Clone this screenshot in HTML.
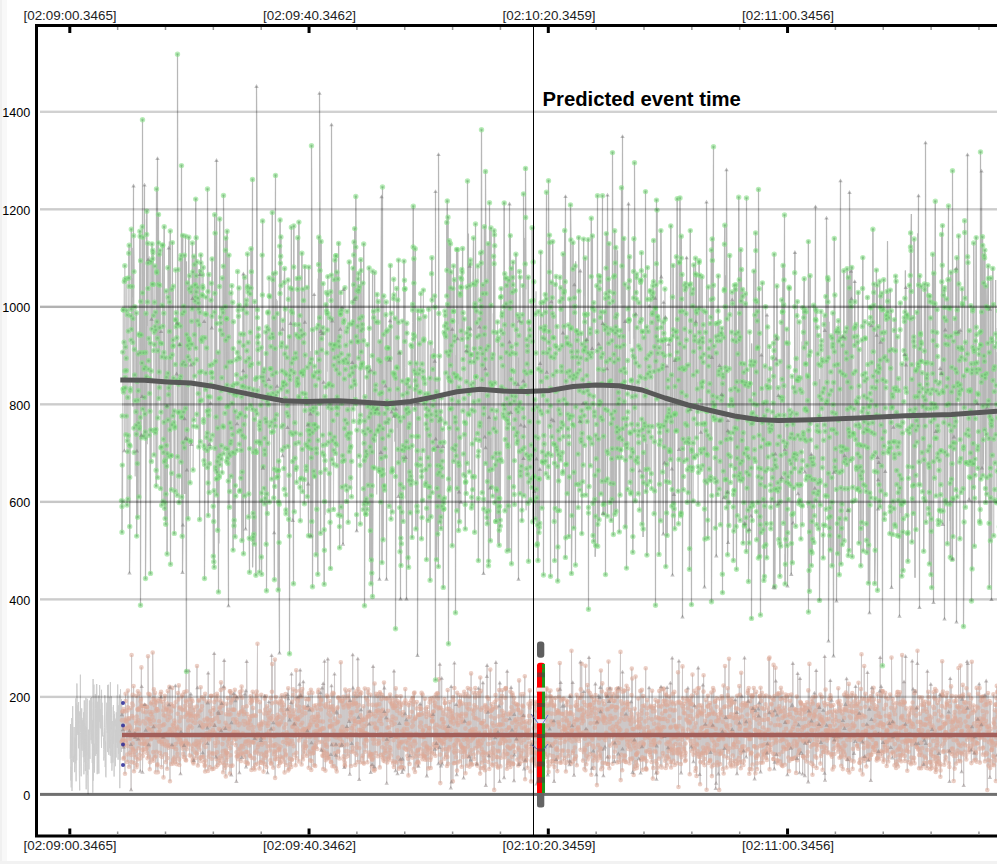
<!DOCTYPE html>
<html><head><meta charset="utf-8">
<style>
html,body{margin:0;padding:0;background:#fff;width:997px;height:864px;overflow:hidden;position:relative;font-family:"Liberation Sans",sans-serif;}
#c{position:absolute;left:0;top:0;}
.t{position:absolute;font-size:13.4px;color:#1e1e1e;white-space:nowrap;line-height:13px;}
.y{position:absolute;font-size:12.6px;color:#000;white-space:nowrap;line-height:12px;text-align:right;width:30.2px;left:0;margin-top:1px;}
#pet{position:absolute;left:542.5px;top:89px;font-size:20.3px;font-weight:bold;color:#000;white-space:nowrap;line-height:20px;}
</style></head><body>
<svg id="s" width="997" height="864" viewBox="0 0 997 864" style="position:absolute;left:0;top:0"><rect x="0" y="0" width="2" height="864" fill="#f0f0f0"/><rect x="2" y="0" width="5" height="864" fill="#f8f8f8"/><rect x="0" y="861" width="997" height="3" fill="#f2f2f2"/><g fill="none" stroke-width="1" stroke-linejoin="miter"><path stroke="rgb(205,205,205)" d="M70.2 758.8 70.5 724 70.6 755.9 70.9 780.5 71.1 766.6 71.2 787.4 71.5 758.6 71.8 718.1 72 748.6 72 791 72.3 761.5 72.7 706.2 72.7 712.2 73.1 738.9 73.3 761.7 73.4 756.1 73.8 762.2 74 751.9 74.1 727 74.4 758.5 74.7 755 74.7 772.2 75 762.2 75.1 737.7 75.6 763.4 75.7 721.7 75.8 698.4 76.1 781.3 76.3 704.5 76.6 703.6 76.7 760.3 76.9 683.5 77.3 716 77.4 733.2 77.6 717 77.8 705.5 77.9 735 78.2 713.1 78.6 702.1 78.6 748.3 79.1 732 79.2 712.7 79.3 770.7 79.7 790.4 79.9 711.3 80 715.1 80.3 715.4 80.4 674.7 80.6 732.4 80.9 761.3 81.2 776.3 81.4 733.6 81.7 708.4 81.7 745.1 81.9 717.9 82.1 750.7 82.3 720.6 82.7 739.6 82.9 720.7 83 723.4 83.3 757.2 83.5 712.4 83.9 763.8 83.9 774.3 84.3 700.4 84.4 756.1 84.6 723.2 85 762.1 85.1 726.3 85.4 771 85.4 742.9 85.7 728.5 85.9 697.9 86.2 789.3 86.5 727.6 86.7 755.2 86.7 720.6 87.2 698.8 87.4 774.7 87.6 772.8 87.7 770.8 88.1 794.2 88.3 729.6 88.4 759.5 88.8 743.8 88.8 752.3 89 769.5 89.2 745.3 89.4 700.5 89.9 758.9 89.9 748 90.1 734.8 90.3 732.3 90.5 698 90.9 711.4 91.1 740.1 91.3 734.4 91.5 697.5 91.8 715.4 92 743.7 92.2 730.9 92.3 762.9 92.6 720.3 92.8 792.7 93.1 679 93.3 780.6 93.4 702.2 93.6 728.4 93.9 684.6 94 767.7 94.3 743.8 94.5 772.5 94.8 742.1 94.9 708 95.3 694.2 95.5 708.6 95.7 755.9 95.8 733.8 96 707.8 96.5 684.1 96.5 753.9 96.7 684.1 97.1 718.2 97.2 774.2 97.5 701.8 97.7 723.2 98 723.9 97.9 773.5 98.3 745.1 98.6 695.6 98.6 758.4 98.9 773.5 99.2 712.5 99.5 721.5 99.6 685.1 100 706.4 99.9 715.5 100.3 728 100.5 709.4 100.7 728.4 101.1 698.7 101.1 725.3 101.5 747.8 101.5 689.8 101.8 721.1 102 702.7 102.2 714.7 102.6 736.3 102.6 715.3 103 731.7 103.2 734.3 103.5 737.4 103.7 749.5 103.9 760.5 103.9 757.6 104.2 757.9 104.6 727.6 104.8 695.2 105 700.3 105.3 749.6 105.2 767.1 105.6 741.5 105.7 776.3 106 777.3 106.2 730.7 106.6 711.9 106.6 715.4 106.9 702.7 107 715.5 107.3 733 107.6 685.2 107.7 752.1 107.9 733.3 108.1 707.2 108.3 684.7 108.8 754.8 108.9 732.9 109 700.9 109.4 696.8 109.5 701.4 109.6 748.2 109.8 734 110.3 755.8 110.4 682.2 110.5 708.3 111 736.8 111.2 763.2 111.3 696.3 111.5 729.4 111.7 707.1 111.9 770.7 112.3 757.1 112.5 757 112.8 721 112.9 747.7 112.9 762.7 113.4 705.1 113.4 744 113.8 712.2 114.1 711.3 114.1 776.5 114.4 714.2 114.6 724.1 114.9 718.3 115.2 726.3 115.3 719.6 115.4 766.2 115.6 734.4 115.8 729.7 116.1 757.5 116.3 712.4 116.4 720.2 116.9 742.7 116.9 723.5 117.3 695.3 117.3 747.7 117.6 695.7 117.7 684.5 118.1 759.7 118.3 705.3 118.5 753.7 118.7 706.5 119.1 727.9 119.2 703.8 119.6 694.6 119.8 788.2 120 719.8 120.2 760.1 120.4 760 120.5 689.3 120.8 736.7 120.8 713.1 121.3 741.9 121.5 699.2 121.5 752 121.9 706.4 122.1 701.1"/><path stroke="rgb(205,200,200)" d="M121.6 741.7 121.9 714.6 121.9 720.2 122.2 711.8 122.6 740.8 122.8 739.5 122.9 729.6 123.1 711.1 123.4 758.6 123.6 747.2 123.7 709 123.8 744.9 123.9 745.6 124.1 757.7 124.6 720.4 124.7 741 125 773.8 124.9 727.7 125.1 728.7 125.3 711.4 125.6 693.7 125.7 701 125.9 720.8 126.1 718.6 126.5 740 126.5 743.2 126.7 722.1 127.2 754.5 127.2 761.9 127.5 746 127.7 710.4 127.9 707.4 127.9 690.6 128.1 727.9 128.6 728 128.7 718.5 129 725.2 129 766.8 129.2 718.4 129.4 731 129.7 726.6 129.9 730.6 130.1 752.6 130.2 738.8 130.5 728.3 130.6 708.1 130.9 744.5 131.1 789.6 131.2 754.9 131.4 747.6 131.6 655 131.7 762.1 132.1 703.5 132.2 716 132.6 743.5 132.7 694.9 132.9 748.5 133 705.2 133.1 750.1 133.6 717.7 133.6 686.1 134 771.3 134 751.8 134.1 754.8 134.4 763 134.6 731.4 134.9 733.2 135.1 737 135.1 737.2 135.6 751 135.8 723.2 135.8 757.3 136 721.3 136.4 695.8 136.4 729.2 136.5 767.3 136.8 716.5 137 764.7 137.2 739 137.4 709.2 137.6 759.4 137.9 691.3 138 709.9 138.2 739 138.4 748.2 138.5 720.3 138.8 729.5 139.2 709.4 139.2 708 139.5 693.8 139.7 754.8 139.8 723.6 140 743.1 140.1 758.5 140.3 771.2 140.7 701.4 140.7 738.7 141 699 141.4 667.4 141.5 705.4 141.7 686.5 142 706 142.1 744 142.2 749.7 142.5 706 142.5 772.1 142.8 756 143.1 711.4 143.2 721.3 143.5 738.2 143.5 752.1 143.8 749.3 144.1 743.6 144.3 741.7 144.5 707.2 144.7 704.4 144.7 705.5 145 744.2 145.1 705.7 145.4 723.4 145.7 730.1 145.7 712.2 146 744.6 146.3 748.4 146.3 749 146.6 706.6 146.9 718.5 147.1 753 147.4 740.9 147.3 707.3 147.6 758.3 147.9 728.2 148 656.3 148.4 693.8 148.6 744.7 148.8 756.6 148.9 719.6 149.1 745.4 149.2 729.7 149.5 711.8 149.8 769.3 149.9 694.6 150 762.3 150.1 721.2 150.4 718.8 150.5 724 150.9 714.1 151 703.5 151.1 739.3 151.5 738.3 151.6 702.2 151.8 729.6 152.1 759.5 152.3 712.2 152.4 716.9 152.7 732.7 152.7 652.5 153.1 698.7 153.2 752.1 153.4 760.7 153.6 726.6 153.8 720.5 153.9 689.4 154.3 726.1 154.5 705.1 154.7 757.4 155 701.4 155 692.9 155.4 737.5 155.6 756.3 155.8 699.8 155.8 772.3 156.1 702.7 156.3 710.9 156.5 709.1 156.6 751.7 156.9 737.4 157 709.1 157.2 765.2 157.6 764.3 157.7 735.1 157.9 772.2 158 710.2 158.4 701.1 158.5 726.4 158.5 732.3 158.9 740.8 159.1 721.2 159.1 737 159.5 742 159.7 699.1 159.8 730.3 160 752.8 160.4 701.2 160.4 725.9 160.6 694.1 160.8 755.9 161.1 691.9 161.1 697 161.4 767.1 161.7 740.9 161.8 742.1 162 757 162.2 744.1 162.5 736.5 162.7 702 162.9 725.2 163 737 163.2 710.5 163.6 715 163.5 777.4 163.9 739.1 164.1 706.3 164.2 724.4 164.5 699 164.6 744.1 164.9 695.8 165.1 754.2 165.3 745.6 165.4 734.1 165.5 716.1 165.8 762.1 166.1 754.3 166.3 710 166.5 709.3 166.6 708.3 166.7 741.5 167.2 703.6 167.1 768.8 167.5 758.1 167.7 720.1 167.8 691.1 168 745.5 168.3 732.5 168.5 747.6 168.6 713.7 168.9 745 169 704.7 169.2 710.4 169.4 686.9 169.6 729.2 170 781.2 170 687.2 170.1 717.4 170.3 707 170.7 730.9 171 704.3 171.1 711.2 171.2 746.4 171.3 763.9 171.6 729.2 172 732.9 172 744.6 172.2 687.9 172.5 746.9 172.7 705.9 172.9 724.8 173.2 760 173.3 763.4 173.5 726.1 173.6 759.3 173.9 747.1 174.2 757.5 174.3 706.4 174.5 720.6 174.7 723 175 729.5 175.1 761.7 175.2 733.6 175.4 685.6 175.6 744 175.7 702.3 176 735.7 176.2 749.2 176.5 735.4 176.6 764.1 176.7 728.6 177.2 737.8 177.4 726.9 177.4 753.9 177.6 713.7 177.9 693 177.9 758.1 178.4 699.4 178.5 741.9 178.6 735.5 178.8 685.4 179.1 759.6 179.3 765 179.5 708.4 179.6 721.2 179.7 739.2 180 707.2 180.1 729.6 180.5 740.2 180.5 773.7 180.8 717.4 181 731.9 181.2 742.7 181.3 744.3 181.7 696.6 181.8 708.7 182.1 745.4 182.4 694.9 182.6 710.1 182.7 748.6 182.8 735.3 182.9 743.1 183.1 753.9 183.6 757 183.6 747.4 183.7 744.1 184.1 745.3 184.3 692.1 184.6 756.7 184.6 735.4 184.8 716.8 185 706.1 185.3 709.8 185.5 759.8 185.8 740.7 185.8 700.7 186.2 670.5 186.1 760.4 186.4 702.2 186.6 691.2 186.9 749.1 187.1 743 187.2 714.7 187.4 744.6 187.7 713.4 187.9 730.4 188 712.6 188.2 720.4 188.4 727.5 188.7 699.7 188.9 744.4 189 670.6 189.3 706 189.6 715.9 189.6 755.3 189.9 735.2 190.1 725.9 190.2 704.9 190.4 709.1 190.6 714.4 190.8 694 190.9 716.4 191.4 756.5 191.5 713.4 191.5 699.3 191.9 720.8 192 727.6 192.4 701.2 192.6 761 192.5 745.6 192.9 749.4 193.1 759.5 193.3 762.3 193.5 763.5 193.8 760.3 193.8 707.6 194.1 715.7 194.2 743.7 194.3 722.7 194.5 710.2 194.8 716.5 195.1 752.3 195.3 744.6 195.5 722.8 195.7 744.5 195.9 758.1 195.9 718.5 196.1 753.5 196.5 741 196.7 706.5 197 666 197 753.5 197.2 714.6 197.4 687.6 197.6 746.6 197.7 742.6 197.9 765.4 198.3 716.1 198.6 700.8 198.5 741.6 198.9 700 199.1 745.1 199.4 749.5 199.3 711.5 199.5 726 200 742.5 200 722.6 200.4 760.9 200.3 757.4 200.7 757.9 200.7 687.3 201.1 723.4 201.1 709.9 201.4 734.8 201.7 740.3 202 726.6 202 706.3 202.1 697.3 202.3 757.1 202.6 752.6 202.8 727.5 203.2 724.7 203.2 756.5 203.3 736.2 203.6 698.7 203.8 735.5 204 762 204.4 719.7 204.4 745.6 204.7 766.1 204.9 765 205.1 693.9 205.1 771.5 205.6 747 205.6 760.6 205.7 742.3 206.1 738.5 206.3 725.8 206.5 701.6 206.5 733.4 206.7 724.6 207 718.4 207.3 727.9 207.4 743.5 207.6 719.6 207.7 702.8 207.9 770.9 208.2 673 208.5 738.2 208.6 721.5 208.7 756.6 209.2 739.4 209.4 725.4 209.3 752.6 209.7 701.4 209.7 767.1 210 731.8 210.3 711.2 210.4 734.4 210.6 719.8 210.8 736 211 696.1 211.1 695.7 211.6 714.2 211.7 758.7 211.8 723.8 212 769.1 212.1 753.7 212.5 720.1 212.7 720.1 212.9 730.1 213.1 753.2 213.4 710 213.4 708.1 213.5 768.8 214 725.3 214.2 653.4 214.3 702.1 214.4 732.6 214.7 725.3 214.7 695.3 215.1 718.6 215.1 742.8 215.3 754.5 215.5 745.9 215.9 756.8 215.9 699.6 216.4 738.5 216.4 766.8 216.6 759.3 217 752.2 216.9 693.7 217.2 718.1 217.5 696.2 217.7 713.9 217.8 764.9 218 742.4 218.3 711.9 218.5 757.9 218.7 713.3 218.9 728.8 219 721.8 219.2 700.3 219.5 760.3 219.6 708.6 219.8 707.2 219.9 763.1 220.4 700.5 220.5 729.8 220.8 689.9 221 682.4 221.2 730.7 221.2 712.7 221.5 756 221.7 703.5 221.9 703.9 221.9 758.5 222.4 703.3 222.4 744.1 222.6 751.4 222.8 705.6 223.1 772.3 223.3 762.8 223.5 686.6 223.7 738.5 223.9 751 224 688.2 224.2 660.3 224.4 764.7 224.5 728.1 224.7 768 224.9 754.4 225.3 728.5 225.5 722.8 225.7 750.6 225.8 776.4 226.1 714.2 226.4 760.2 226.5 753.1 226.5 703.7 226.9 752.7 227.1 725.5 227.2 765.2 227.4 757.2 227.6 753.2 227.7 698.1 228.1 741.6 228.4 709.9 228.4 745.6 228.7 714.5 228.9 739 229.2 726.3 229.2 729.1 229.5 738.3 229.8 691.4 229.9 773.5 230.1 748.2 230.3 691.3 230.5 714.3 230.5 755.2 230.9 766 231 702.6 231.4 722.7 231.3 775 231.6 700.3 231.8 693.3 232.1 743.2 232.2 709.8 232.5 765.6 232.6 735.1 232.9 733.8 233.2 719.2 233.2 698.8 233.4 709.5 233.7 693.7 233.8 731.9 234.1 739.6 234.4 709.7 234.5 732 234.8 737.7 234.8 689.8 235.1 696.4 235.1 722.4 235.5 700.7 235.7 745.1 235.8 739 236.2 719.2 236.4 781.3 236.5 752.2 236.7 756.6 236.9 698.4 236.9 696.9 237.1 722.4 237.5 731.7 237.5 755.7 237.9 759.1 238.1 755.7 238.4 733.6 238.5 714.8 238.6 725.3 238.8 748.7 239.1 712.8 239.4 772.6 239.3 753.8 239.6 737.3 239.9 723.7 239.9 692 240.2 749.7 240.5 695.5 240.7 754.4 241 760.9 241.2 711.5 241.3 746.1 241.6 686.6 241.6 690.7 241.8 757.4 242.1 745.8 242.2 697.7 242.4 710.7 242.5 753 242.8 733.6 243 747.3 243.1 707.4 243.4 754.2 243.7 721 243.8 714.2 244.1 712 244.4 757.3 244.5 724.6 244.8 721.3 244.8 693.9 245.1 743.9 245.2 735.6 245.5 762.1 245.6 741.5 245.8 690.7 246 766.9 246.3 751.9 246.5 741.9 246.7 706.3 246.7 661.3 247.1 714 247.4 762.9 247.6 723.7 247.7 752.3 247.8 763.9 248.1 722.7 248.2 728.1 248.5 740.8 248.7 742.4 248.9 717.1 249.1 745.5 249.4 728.4 249.6 720.6 249.6 755.5 249.7 719.4 250.2 755.7 250.4 703.1 250.4 699.8 250.7 696.2 250.8 724.8 251.1 716 251.4 770 251.4 757.7 251.5 698.1 251.9 701.4 252.1 742.1 252.1 700.2 252.6 716.1 252.7 742.2 252.7 691.8 253 731.4 253.1 708.1 253.6 727.1 253.8 768 253.9 742.6 254.1 715.2 254.2 758.4 254.6 769.5 254.6 736.6 254.7 738.3 255.1 752.6 255.3 764.7 255.4 736.7 255.7 693.8 255.9 715.8 256 698.1 256.4 738.7 256.4 750.5 256.7 691.6 256.9 701.4 257.1 695.5 257.5 643.8 257.3 763.8 257.6 699.9 257.8 746.9 258.1 733.7 258.3 753.5 258.5 744.4 258.8 735.5 258.7 725.8 259.1 736.3 259.3 724.3 259.5 768.4 259.8 711.2 259.8 702.3 260.1 728.8 260.4 724.5 260.3 762.4 260.8 740.4 260.9 762.6 261 738.1 261.3 694.8 261.5 725.3 261.7 753.8 261.7 723.6 261.9 744.6 262.2 742.4 262.4 721.7 262.5 760.4 262.9 763.2 262.9 736.9 263.2 737.8 263.5 771.6 263.7 736.4 263.7 755.6 264.2 713.5 264.2 738 264.6 698.6 264.7 763.9 264.7 695.9 265.2 709.5 265.4 743.1 265.4 757.6 265.7 723.3 265.9 753.4 265.9 696.2 266.4 713.1 266.3 767 266.6 752 266.7 755.4 266.9 733.7 267.2 706.3 267.5 772.6 267.7 726 267.7 746.5 267.9 734.8 268.3 716.3 268.5 723.6 268.7 712.7 268.9 701.7 268.9 719.9 269.2 731 269.6 737.7 269.6 750.5 269.8 746 269.9 710.3 270.3 741.6 270.3 760.4 270.7 718.3 270.8 697.9 270.9 763.5 271.1 728.8 271.5 763.4 271.6 655.5 271.9 691.7 272 703.3 272.2 664.1 272.6 716 272.8 720.1 272.9 745.4 273.2 767.6 273.2 728.9 273.3 722.6 273.7 736.1 273.9 754.2 274.2 751.4 274.3 745.9 274.5 736.2 274.8 735.5 274.9 659.6 275.1 777.9 275.1 759.1 275.3 702.2 275.6 744.3 275.7 752.3 275.9 697.1 276.2 756.6 276.4 759.2 276.7 718.8 276.9 722.6 277 734.8 277.3 717.9 277.6 723.7 277.8 745.7 277.7 714.9 278 749.9 278.3 701.9 278.5 758.7 278.6 766.1 278.9 703.3 279 725.2 279.2 748.8 279.4 750.3 279.6 716.7 279.9 723.8 280 762.6 280.3 756.6 280.4 762.4 280.6 746.7 280.8 698.9 281 710.3 281.2 722 281.6 705 281.6 701.8 281.9 695.3 281.9 758.6 282.3 708.5 282.4 702.7 282.5 718.2 282.8 734 283.1 742 283.2 709.6 283.3 757.4 283.8 705 284 713.1 284 761.6 284.4 727.8 284.6 772.4 284.7 715.2 284.8 734.3 284.9 750.5 285.2 696.9 285.6 694 285.7 724.3 285.7 754.1 286.1 755.2 286.1 765 286.5 738 286.8 742.9 286.7 732.3 286.9 740 287.2 710.1 287.3 709.2 287.7 694.5 287.8 744.4 288.2 688.3 288.2 770.4 288.4 698.6 288.5 740.1 289 712.9 289 768.7 289.3 707.1 289.6 719.8 289.6 758.6 289.8 742.2 290.1 716.7 290.3 764.1 290.4 743.9 290.5 710.5 290.7 716.1 290.9 702.7 291.2 766.9 291.5 674 291.7 759.7 291.8 740.7 292 759.4 292.3 701.9 292.4 727 292.8 726.3 292.8 743.5 293.2 689.4 293.2 694.7 293.4 714.1 293.8 746.2 294 754.8 294 710.4 294.3 723.9 294.5 724.2 294.6 735.4 294.9 716.8 295.2 719.6 295.3 724.1 295.5 730.2 295.6 765.3 295.9 698.7 295.9 691 296.2 670.2 296.5 757.9 296.5 752.7 296.9 728.4 297.1 705.4 297.1 732.6 297.4 718.6 297.6 718.9 298 701 298 697 298.4 698.2 298.4 719.7 298.7 761.4 298.8 710.9 299 740.4 299.4 706.9 299.4 684.1 299.7 717 299.8 730.9 300 690.7 300.2 670 300.3 695.4 300.6 695.3 300.8 724.7 300.9 737 301.2 696.6 301.6 764.4 301.6 692.8 302 711.4 302.1 715.1 302.3 722.8 302.3 689.1 302.6 730.5 302.9 759.5 303.2 756.3 303.3 681.6 303.3 728.8 303.6 746.6 304 707.1 304 750.4 304.3 753.7 304.4 730.9 304.6 729.4 304.7 744 305.1 708 305.4 748 305.4 713.3 305.5 741.6 305.9 746.2 305.9 699 306.1 746.2 306.6 729.4 306.8 736.7 306.9 755.8 306.9 730.3 307.2 708.3 307.4 730.7 307.7 734.1 307.8 705.7 308.1 727.8 308.2 699 308.6 699.5 308.7 767.7 308.9 693.3 309 708.5 309.2 727.7 309.4 751.5 309.6 710 309.9 724.6 310.2 760.4 310.2 736.8 310.3 753.7 310.6 725.3 310.9 689.8 311.1 721.1 311.3 769.9 311.5 742.7 311.7 761 311.9 717.3 312.1 709.1 312.4 710.3 312.4 692.7 312.6 753.3 312.8 716.8 313 748.2 313.3 721.9 313.4 753.1 313.6 749.9 313.9 765.3 314.1 705.9 314.1 748.1 314.3 731.9 314.5 720 314.8 745.6 315.2 765.9 315.3 716.9 315.5 747.1 315.7 738.2 316 705.3 316.1 742.9 316.2 733.1 316.3 731 316.7 725 316.9 708.6 317.1 748.9 317.1 725.9 317.5 721 317.5 717.6 317.8 714.1 317.9 741.7 318.1 692.2 318.5 716.6 318.6 689.7 318.8 734.2 318.9 742.3 319.3 704.6 319.6 696.9 319.7 729.3 319.9 731.6 320 721.3 320.2 730.2 320.5 692.6 320.8 700.4 320.8 704.5 320.9 709.5 321.3 699.7 321.4 750.1 321.7 741.7 321.7 749.6 322.1 687.8 322.4 728.5 322.4 755.5 322.6 728.5 322.9 721.6 323.2 683.5 323.2 769 323.3 756.3 323.6 751 323.9 728.4 324 752.6 324.2 755 324.5 661.2 324.5 745.6 324.7 705.6 325.1 742.2 325.4 770.6 325.6 738.4 325.7 707.1 325.7 760.2 326.1 758.1 326.3 744.8 326.6 752.8 326.6 704 326.8 695.6 327 746.8 327.3 754.4 327.5 754.6 327.8 658.9 327.7 696.7 327.9 757.5 328.2 758.5 328.5 713.6 328.6 739.4 328.8 757.9 329.2 706.7 329.1 710 329.6 701 329.7 726.2 329.8 727.2 330.1 726.1 330.1 720.5 330.4 715.6 330.7 706.8 330.9 754.5 330.9 761.8 331.2 762.3 331.5 685.7 331.6 744.7 331.8 694.6 332.1 724.2 332.2 726.3 332.4 766.3 332.7 706.2 332.8 692.8 333 709.6 333.2 744.6 333.5 710.1 333.7 693.5 333.7 730.6 334 766.1 334.3 712.2 334.5 674 334.8 753.4 334.7 736.6 335 718.6 335.4 723.7 335.5 745 335.7 755.2 336 768.4 336 744.2 336.3 737.5 336.5 711.7 336.7 771.4 336.9 712.9 337 708.5 337.4 722.4 337.3 757.3 337.7 752.2 337.7 707.3 338 721.6 338.2 697.7 338.3 751.3 338.6 697.6 338.8 735.3 339.2 737.7 339.2 735.6 339.5 758.5 339.7 745.1 339.9 716.3 340.2 738.7 340.2 701.3 340.4 699.6 340.7 731 340.8 662.3 341.2 745.2 341.1 729.3 341.4 745.7 341.7 732.2 341.9 744.5 341.9 701.1 342.1 741.7 342.6 701 342.5 726.7 342.9 704.8 343 731.8 343.4 696.9 343.6 707.4 343.7 756.2 343.8 759.4 344 745.1 344.3 767.5 344.6 698.3 344.7 765.2 344.8 762.5 345.1 766.1 345.2 689.5 345.3 729.6 345.8 751.3 345.9 757.1 346.2 734.9 346.3 690.8 346.5 730.6 346.8 705.4 346.9 726.5 347.2 728.7 347.3 744.5 347.5 736.7 347.6 703.4 347.7 751.4 347.9 755.9 348.1 695.6 348.5 698.7 348.8 703.4 348.7 707.6 349 706.1 349.1 721.3 349.4 690.2 349.8 774.1 349.9 719.5 350 733.8 350.2 700.3 350.4 712.2 350.6 715.2 350.9 739.6 351 766 351.4 728.2 351.6 751.9 351.7 743.4 351.7 702.6 351.9 734 352.3 704.6 352.4 712.6 352.7 654.6 352.7 747.3 353 687.8 353.2 751.1 353.3 726.1 353.8 730.4 353.9 699.7 354.1 703.9 354.2 718.6 354.4 693.9 354.5 721.1 355 723.9 355 720.8 355.2 765 355.5 753.5 355.6 703.5 355.9 703 356 691.5 356.1 734.1 356.5 754.7 356.7 747.6 356.8 696.1 356.9 711 357.2 743.9 357.4 706.6 357.6 762.1 357.8 658.6 358.2 688.8 358.3 721.9 358.4 717.2 358.8 722.2 358.8 705.1 358.9 729.9 359.2 779.5 359.3 748.1 359.8 694.6 359.7 691.9 360.1 736.3 360.2 762.1 360.4 729.8 360.7 715.2 361 732.4 361.1 709.6 361.2 722.6 361.4 692.9 361.7 720.1 361.9 717.9 362.2 758.1 362.3 725.2 362.4 731.2 362.7 755.6 362.8 729.4 363.1 719.5 363.2 762.5 363.4 706.3 363.7 735.1 363.9 719.9 363.9 763.6 364.4 726.2 364.4 743.2 364.6 733.1 364.8 688.5 365.1 751.7 365.2 733.1 365.4 740 365.6 746.5 365.9 719.6 366.2 739.2 366.1 698.1 366.6 717.2 366.6 724.2 366.9 740.8 367 734.6 367.4 762.2 367.4 733.8 367.6 700.4 368 692.8 368.1 715.8 368.1 689.4 368.5 704.5 368.7 712.3 369 716.6 369.1 724 369.2 752.5 369.6 755.8 369.6 756.8 369.7 711.1 370 712 370.2 754.5 370.5 694.7 370.6 754.5 370.7 772.5 371.1 714.6 371.3 723.5 371.6 759.1 371.7 754.6 371.9 766.6 372.1 764.5 372.3 754 372.4 759.7 372.6 704.9 372.7 739.3 373.1 666.3 373.3 769.5 373.4 757.5 373.5 714 373.8 743.4 374.2 770.7 374.2 766.6 374.6 683.5 374.7 723.5 375 769.3 375 739.8 375.2 727.6 375.5 716.2 375.8 753 375.9 693.9 375.9 727.7 376.3 705.6 376.3 711.2 376.6 704.6 376.7 730 377 728.3 377.3 710.6 377.5 695.9 377.6 744.1 377.9 712.3 377.9 756.2 378.2 710.3 378.4 694 378.7 740.8 378.9 712.9 379.1 743 379.1 721 379.4 704.3 379.8 767.4 379.9 692.2 380 718.4 380.4 720.8 380.4 693.8 380.8 754.7 380.7 714.1 381 734.3 381.3 699.3 381.4 711 381.6 724 381.9 716 382.2 747.3 382.2 695 382.5 757.3 382.6 735.2 382.9 709.8 383 754.6 383.4 758.4 383.5 760.6 383.6 739.5 384 713.3 384 682.5 384.4 711.4 384.4 687.9 384.8 761.2 384.8 698.3 385.2 752.8 385.3 748.1 385.3 750.7 385.6 758.6 385.7 714.3 386.2 717.6 386.1 734.4 386.5 743.7 386.7 783.1 386.7 698.8 386.9 739.2 387.2 762.4 387.4 727.7 387.8 698 387.7 719.9 388 710.8 388.3 740.6 388.5 758.6 388.7 756.9 389 727.3 389.2 752.8 389.2 736.8 389.6 747.4 389.8 759.7 389.9 732.7 390.1 701.4 390.1 694.5 390.3 747.8 390.5 750.2 390.9 736.3 391 755.6 391.2 722.2 391.4 698.3 391.8 703.2 391.7 704.1 392.1 719.9 392.3 725 392.5 705.9 392.6 716.6 393 761.2 393.1 763 393.3 708 393.5 740.1 393.7 703.6 393.9 767 394 670.9 394.2 705 394.4 700.4 394.7 723.6 394.9 708.1 395.1 761.7 395.3 706.1 395.6 770.6 395.8 688.4 395.8 718.6 395.9 736.6 396.3 736.4 396.5 762.5 396.7 706 396.8 696.2 397 710.7 397.2 730.4 397.5 773.6 397.6 701 398 737.6 398.1 757.6 398.4 745.9 398.6 702.8 398.6 701.9 398.9 768.6 399 747.8 399.1 741.7 399.4 723.5 399.6 743.9 399.7 713.2 400 706.9 400.3 760.2 400.4 759.1 400.7 696.3 400.8 703.5 400.9 766.9 401.3 742.6 401.5 704.9 401.5 762.1 401.9 767.3 402.1 772.5 402.3 741.7 402.4 730.8 402.6 759 402.8 715.3 403.2 735.2 403.1 712 403.5 769.6 403.7 735.3 403.8 767.8 404.2 702.7 404.1 728.8 404.5 748.2 404.6 733.2 404.7 734.9 405.1 713.6 405.3 689.1 405.4 700.4 405.7 741.4 405.9 703.6 406 749.1 406.3 719.6 406.3 723.5 406.7 723.9 406.7 749.9 407.1 729 407.3 743.1 407.4 755.7 407.7 724 407.8 717.2 408 758.8 408.4 775.4 408.5 733.8 408.7 705.2 409 737.5 409.1 739.6 409.1 736.7 409.4 703 409.6 764 409.9 755.7 409.9 746.9 410.2 716.7 410.3 737.7 410.7 733.7 410.9 751.1 410.9 735.9 411.3 743.7 411.3 700.6 411.7 711.8 411.8 752.9 412 726.8 412.2 757.6 412.6 721.2 412.6 698.3 412.8 697.8 413 725.6 413.1 746.3 413.5 704.5 413.8 701.8 414 693.4 413.9 768.7 414.3 742 414.5 692.5 414.5 740.8 414.8 718.4 415 771.9 415.3 743.4 415.3 718.6 415.6 756.4 416 716.9 416.2 733.8 416.2 753.6 416.5 763.9 416.6 708.5 416.8 702.1 417 734.7 417.4 762.4 417.3 765.3 417.6 750.7 417.9 761.6 418 749.7 418.2 714.4 418.4 766.2 418.6 762.9 419 714.9 419 735.5 419.4 714.8 419.4 756 419.7 706.5 419.9 708.9 419.9 726.6 420.2 703.8 420.3 736.5 420.6 749.4 420.9 722.6 421 714.5 421.2 726.7 421.3 708.7 421.6 692.9 421.8 735.3 422.1 753.7 422.4 759.2 422.6 694.6 422.7 755.6 422.7 731 423.1 730 423.1 744.6 423.3 737 423.5 713.4 423.9 755.7 424 737 424.4 757.6 424.4 755.9 424.6 750.9 424.9 698.8 425 756.8 425.3 743.1 425.3 759.7 425.7 713.7 425.9 708.7 426 726 426.3 746.7 426.4 717 426.8 775.8 427 747.7 427 746.3 427.2 759.4 427.5 707 427.7 753.6 428 732.9 427.9 712.2 428.2 749.6 428.3 768.4 428.6 750.6 429 730.9 429.1 728 429.3 728.1 429.6 702.5 429.7 699.1 429.8 748 430.1 715.1 430.3 759.9 430.6 734.9 430.6 751.6 430.7 768 430.9 757.4 431.4 698.4 431.6 753.2 431.5 749.8 431.8 715.9 432 720.9 432.3 721.8 432.4 716.1 432.7 720.6 433 712.1 433.1 714.5 433.2 700.7 433.5 744.4 433.7 711.3 433.7 753.6 434.2 746.6 434.1 697.6 434.4 727.8 434.7 705.7 434.9 749.1 435 702.9 435.4 743.1 435.4 755.7 435.7 738.5 435.9 694.5 436.1 707 436.2 730.9 436.3 743.4 436.5 724.7 436.7 743.9 437.1 745.9 437.3 748.1 437.3 693 437.7 738 437.7 693.7 438 698.5 438.2 708.5 438.4 763.7 438.7 679.4 439 707.2 439.1 739.5 439.4 747.4 439.5 726.5 439.7 740.8 439.8 664.2 440 740.1 440.1 754.6 440.3 783.1 440.7 708 440.9 741.1 441 765.9 441.2 762.1 441.5 735.2 441.7 678.1 441.8 719.5 442 743.1 442.2 763.8 442.4 718.9 442.7 749.6 442.8 727.6 442.9 710.2 443.4 723.8 443.3 713.9 443.7 744.2 443.8 742 443.9 722 444.2 738.7 444.5 699 444.5 758.8 444.9 702.9 445 703 445.2 728.3 445.4 749 445.6 757 445.9 727.3 446 737.8 446.3 754.5 446.4 714.5 446.8 730.5 447 766 447.1 734.1 447.2 708.8 447.5 757 447.7 690.1 447.9 731.7 448.1 763.8 448.2 750.6 448.4 726.4 448.7 716.3 448.9 748.6 449.1 708.8 449.1 737 449.4 747.1 449.8 711.7 449.7 702.1 450.1 728.3 450.4 739.6 450.5 720.1 450.8 788 450.9 722.2 451 736.4 451.2 686.4 451.5 729.9 451.6 782 451.8 710.7 452.1 715.8 452.4 717.6 452.3 713.5 452.7 718.5 452.9 781.2 453.2 697.2 453.3 700.3 453.4 723.6 453.8 763.3 453.9 751.6 453.9 745.4 454.4 663 454.4 688 454.7 748 455 752.9 454.9 763 455.3 718.6 455.5 743.7 455.8 731.4 456 757.3 456.1 704.5 456.4 740 456.6 721.1 456.7 774.6 457 714.5 457 770.6 457.1 692.8 457.4 751 457.5 762.4 457.8 723 458 725.1 458.3 740.1 458.6 741.4 458.7 734.4 458.8 718.1 459 705.6 459.3 715.5 459.6 695.2 459.7 701.4 459.9 761.4 460.1 701.6 460.3 703.6 460.4 743.7 460.7 745.3 460.9 722.3 460.9 715.7 461.3 752.1 461.4 695.5 461.7 766.8 461.9 713.8 461.9 746.8 462.2 748.1 462.3 703.6 462.5 719.4 462.9 748 463.1 757 463.1 722.1 463.6 739.7 463.6 777.9 463.8 748.1 464.2 691.9 464.3 751.8 464.3 749.7 464.7 721.2 464.7 752.6 464.9 696.2 465.4 728.6 465.5 773.3 465.5 748.8 465.8 715.8 466 713.7 466.1 704.2 466.5 756.3 466.8 738.8 466.7 694.4 466.9 765.7 467.2 707.5 467.5 739.5 467.8 688 467.9 742.8 468 746.5 468.2 723.6 468.5 709.3 468.7 757 469 696.5 469.2 704 469.2 756.5 469.6 766.6 469.6 722.9 469.9 731.1 470.2 753.9 470.3 763.5 470.4 689.1 470.5 759.8 470.9 730.8 471.1 673.4 471.2 740.6 471.6 750 471.6 764.4 471.7 730.4 472.1 764.5 472.4 729.1 472.4 709.6 472.6 732.2 472.9 738.5 473 732.4 473.4 737.6 473.3 714.3 473.5 692.8 473.8 754.5 474 710.6 474.4 705.3 474.3 758.9 474.5 718 475 735.8 475.2 697.4 475.2 688 475.3 748.3 475.6 731.8 475.8 728.7 476.1 718.4 476.4 693 476.5 733.8 476.6 763.7 476.8 763.9 477 707.4 477.3 765.6 477.6 746.2 477.7 743.2 478 752.5 478.1 742.1 478.1 740.6 478.5 688.1 478.6 719.7 478.9 746.2 479 696 479.1 732.9 479.5 692.5 479.7 734.6 480 740.6 480.1 773.6 480.3 677.5 480.5 744.4 480.7 768.2 480.9 690.9 480.9 709.8 481.3 723.1 481.5 723 481.7 748.9 481.7 743.1 482 762.5 482.2 754.6 482.4 707.8 482.5 723.4 482.8 752.4 482.9 682.7 483.3 768.1 483.3 739.4 483.7 727.3 483.8 758.1 483.9 721.1 484.3 752.5 484.4 766.6 484.8 760.7 484.9 732.4 485 770.3 485.3 705.1 485.5 706.4 485.7 711.7 485.8 785.3 486 709.4 486.4 735 486.5 725.8 486.6 754.4 486.9 676.5 487.1 665.3 487.3 697.3 487.6 709.8 487.6 727 488 712.2 488 708 488.2 744.1 488.5 762 488.6 699 488.7 753.3 488.9 755.6 489.3 769 489.6 755.8 489.8 738.3 489.9 730.5 490.2 734.3 490.3 710.9 490.3 669.6 490.6 737.6 490.8 716.5 491.1 711 491.4 704.2 491.3 751.6 491.6 743.7 491.9 709.9 492 764.5 492.4 723.2 492.5 758.8 492.7 765.4 492.9 748.3 493.1 755.1 493.1 708.6 493.3 707 493.5 725.7 493.8 752.9 493.9 742.8 494.2 789.9 494.6 702.3 494.5 718.3 494.8 750.2 495.1 730.5 495.2 737.7 495.4 733.5 495.6 695 495.9 662.3 496.2 764.1 496.4 707.4 496.4 699.8 496.6 756.9 496.8 730.1 497 736.2 497.3 725.1 497.4 757.3 497.6 766.4 498 767.6 498 732.2 498.3 750.8 498.5 751.5 498.6 716.4 499 705.9 499.1 724.4 499.2 690 499.6 781.3 499.7 743.8 499.8 682.8 500.1 725.2 500.2 742.9 500.4 766.4 500.6 699.3 501 757.7 501.2 739.5 501.1 724.3 501.4 703.3 501.7 730.6 502 710.7 502 695.9 502.4 715.3 502.3 690.3 502.5 738.6 503 724.5 503.1 743.1 503.4 720.3 503.4 716.1 503.5 754.2 503.8 739.2 504.1 777.6 504.3 712.7 504.5 750.9 504.7 736.7 504.8 757.2 505.1 740.5 505.2 698 505.4 689.1 505.7 688.1 505.8 741.2 506 688.3 506.4 730 506.5 753.7 506.6 720 507 768.7 507.2 671.1 507.3 746.6 507.6 754 507.8 765 507.9 736.2 508.1 714.4 508.2 763 508.5 760.7 508.5 747.5 508.9 727.9 509.1 727.4 509.3 763.3 509.5 740.7 509.5 748.3 509.8 718.7 510 712.6 510.4 767 510.4 691.6 510.5 748.4 510.9 714.3 511 733.3 511.1 687.3 511.5 762.8 511.5 707.3 512 729.9 512 756.8 512.3 722.8 512.4 693.2 512.7 695.3 513 763.9 513.1 764.1 513.2 746.7 513.4 710.9 513.6 745.9 513.7 702.4 514 780.7 514.1 698.1 514.3 714.4 514.5 754.9 514.8 752 515 733.6 515.2 720.3 515.5 730 515.7 719.2 515.8 703.9 516.1 726.8 516.4 738.8 516.3 741.3 516.6 722.2 516.8 718.9 517.2 738.6 517.3 759.6 517.4 705.1 517.7 709.4 517.7 704.5 518.2 765.5 518.2 747.9 518.4 709.9 518.8 749.8 518.9 764.3 519.1 680.4 519.1 763.6 519.5 724.1 519.6 740.5 519.8 763.7 520.1 719.2 520.3 713.3 520.4 756.5 520.6 736.6 520.9 757.5 521 753.3 521.3 694.4 521.5 711.7 521.5 742.8 521.8 727.7 522 722.7 522.4 705.5 522.4 760.9 522.5 717.5 522.7 750.6 523.1 706.4 523.4 715.5 523.3 694.1 523.6 716 523.9 721.6 524.1 768.8 524.2 740 524.5 728.5 524.8 676.3 524.9 758.1 525.1 779.3 525.2 726.6 525.3 760.2 525.8 760.9 525.9 722 526 746.3 526.3 759.9 526.4 731 526.7 731.4 527 721.4 527.1 751.2 527.2 747.4 527.4 755.1 527.5 767.7 527.7 733.5 528.2 738 528.3 730.5 528.5 703.9 528.6 729.8 528.9 743.6 529.1 722.9 529.1 715.9 529.4 704.7 529.8 690.4 529.8 707.6 530.1 721 530.4 771.5 530.6 749 530.7 701 530.7 704.1 531 781.4 531.1 752.7 531.4 760.7 531.6 744.5 531.8 747.4 531.9 746 532.1 742.1 532.4 759.8 532.6 759.2 532.7 751.9 533 736.2 533.2 716.5 533.4 742.5 533.7 728.2 533.9 747.5 534 752.8 534.3 757.5 534.6 759.4 534.6 763.3 534.9 725.1 535.2 706.4 535.2 703.8 535.5 765.6 535.7 701.7 535.7 752.4 536.2 710.5 536.4 726 536.6 783.8 536.6 753.6 536.9 764.4 537 727.1 537.1 737 537.5 754.8 537.8 781.3 537.9 702 538 742.6 538.2 688.6 538.4 691.4 538.7 783.4 538.8 734.5 539 694.5 539.4 730.6 539.5 766.3 539.6 716.5 539.9 694.8 540.2 720.1 540.2 745.1 540.5 755.6 540.7 689.2 540.9 686.2 540.9 695.1 541.2 701 541.3 705.1 541.7 710.6 542 764.4 542.2 707.2 542.3 738.2 542.5 690.9 542.8 722.7 542.8 738.8 543 710.7 543.3 707.4 543.3 757.9 543.8 745.7 544 704.2 544 739.5 544.2 754.6 544.4 732.2 544.8 746.9 544.8 737 544.9 725.2 545.2 753.7 545.5 734.2 545.5 719.7 546 695.5 546 698.6 546.3 689.2 546.4 757 546.5 688.3 547 713.5 546.9 743.5 547.4 726.4 547.5 705.8 547.7 742.7 547.8 775 548.2 761.9 548.2 712.6 548.5 766.3 548.6 771.9 548.8 703.8 549.1 725.2 549.2 690.8 549.6 705 549.7 729 549.8 755.3 550 696.6 550.1 744.2 550.5 690.6 550.6 745.9 550.9 696.5 551.2 701.3 551.3 721.4 551.5 764.1 551.6 713.6 551.8 761 552.1 745.7 552.3 702.5 552.6 698.5 552.7 705.5 552.8 722.1 553 756.1 553.1 760.6 553.3 724.6 553.6 743.7 553.8 720.6 554.1 781.3 554.1 706.2 554.4 705.1 554.6 766.9 554.8 760.6 555.1 713.8 555.2 736.9 555.4 698 555.6 742 555.9 737.1 556.1 759.5 556.1 749.4 556.4 762.1 556.7 710 556.7 748.1 557 757.4 557.3 771.1 557.5 750 557.6 712.9 557.8 711.8 558.1 689.8 558.4 711.1 558.3 722.1 558.5 757.4 559 723.8 559 696.9 559.3 726.8 559.3 713.2 559.8 663 559.8 738.1 560.1 689.2 560.2 762.7 560.4 743.1 560.7 682.4 560.8 700.5 560.9 754.9 561.3 762.5 561.3 738.3 561.5 736.1 561.7 750.7 562 713.7 562.4 706.2 562.4 730.8 562.7 720.1 562.7 699.2 563.2 714 563.2 750.6 563.5 761.1 563.6 698.5 563.7 726.3 564.2 705.8 564.4 729.3 564.6 757.8 564.7 741.8 564.7 727.5 565 729.2 565.3 716.2 565.5 730 565.5 762.9 565.9 771.5 566.2 739.4 566.3 712.2 566.6 721.1 566.7 700.6 566.7 704.8 567 719.9 567.2 733.4 567.5 701.7 567.7 762.1 567.7 733.9 568.1 751.1 568.4 727.8 568.5 755.7 568.8 725.5 568.8 713.9 568.9 737.7 569.1 723.1 569.4 764.6 569.8 761.2 569.8 696.3 570.1 740.1 570.2 713.4 570.6 706.8 570.6 712.2 570.7 695.6 570.9 762.2 571.3 763.7 571.4 730.7 571.5 650.7 571.8 730.9 572 741.5 572.1 725.7 572.5 730 572.7 682.4 572.8 752.9 573 714.5 573.3 751.1 573.4 761.3 573.6 736.9 574 775.2 573.9 725.1 574.3 721.8 574.5 758.8 574.6 736.6 574.9 747.5 574.9 718.9 575.1 758.7 575.4 705.6 575.5 740.6 576 706 576 756.2 576.4 702.1 576.6 694.8 576.7 729.5 576.8 765.3 577 719.2 577.1 739.2 577.4 705 577.6 720.1 577.8 709.4 578 728.3 578.4 697.9 578.3 727.1 578.6 733.6 578.8 730.1 579.2 736.4 579.1 740.9 579.5 735.4 579.7 710.1 580 732.8 580.1 736.8 580.4 662 580.5 749.7 580.6 697.8 580.8 689.4 581.1 733.5 581.1 718.5 581.6 708.4 581.7 663.8 581.9 723.2 582.1 694.6 582.4 716.5 582.5 714.7 582.6 718.6 583 760.6 583.1 710.2 583.2 732.6 583.5 721 583.8 691.4 583.7 702.3 583.9 752.3 584.2 712.5 584.4 769.1 584.6 748.4 585 738.8 585.2 705.1 585.1 750 585.4 770.3 585.5 735.6 585.5 665.7 586.1 728.6 586.3 764.2 586.3 755.7 586.6 730.5 586.9 744.9 587.2 711.7 587.3 705.6 587.5 685.1 587.7 759.4 587.7 716.8 588 713.9 588.3 691 588.4 733.8 588.7 757.1 589 707.6 589 657.4 589.4 743.7 589.5 736.8 589.8 705 589.9 693.1 590.2 704.8 590.1 704.9 590.4 754 590.5 723.3 590.8 695 591 715.9 591.3 774.8 591.6 710.3 591.7 712.4 592 768.2 592 707.4 592.2 697.1 592.3 739.6 592.5 737.8 592.9 745.8 593.2 751 593.2 760.6 593.5 754.7 593.7 702.8 593.8 768.1 593.9 747.5 594.1 699.9 594.5 722.8 594.6 757.8 594.8 727.7 595.2 708.5 595.4 683.8 595.4 717.7 595.6 695 595.7 713.6 596 756.6 596.3 774.6 596.5 734.5 596.8 723.1 596.9 785.1 597 722 597.1 699.8 597.4 760.5 597.7 718 597.7 718.9 598.1 745 598.1 721.8 598.4 709.7 598.6 752.1 598.7 695.7 599 702.8 599.2 738.4 599.6 697.4 599.6 756.4 599.8 747.9 600 754.2 600.3 687.3 600.4 757.9 600.6 711.6 600.9 670.5 601.1 711.5 601.2 769.2 601.5 749.1 601.5 709.4 602 719.3 602 691.5 602.3 767.9 602.3 683.4 602.7 762.7 603 715.2 603.2 701.1 603.4 737.9 603.4 775.7 603.5 721 603.8 717.3 604 748.8 604.2 704.3 604.4 722.9 604.6 718.7 604.9 717.8 605 746.8 605.4 740.3 605.4 763.3 605.7 722.9 606 694.4 606 736.2 606.2 732.9 606.6 693.6 606.6 737.3 606.8 709.5 607 695.9 607.4 696.1 607.4 756.9 607.8 764 607.9 689.3 608 764 608.5 661.6 608.4 708.9 608.8 757.1 609 700.8 609 719 609.1 701.5 609.3 768.2 609.7 722.2 609.9 687.9 610.1 728.3 610.2 745.6 610.4 715.7 610.8 699.8 610.8 689 610.9 693.8 611.3 737 611.4 707 611.7 718.4 612 706.1 612.1 694.1 612.4 697.2 612.5 729.7 612.6 763.8 612.8 718.7 612.9 726.5 613.1 743.6 613.6 742.9 613.7 701 613.7 731.2 614 757 614.3 761.4 614.6 700.7 614.8 751.6 614.9 743 615 693.5 615.3 717.4 615.6 710.3 615.5 707.1 615.8 746.4 616.1 726.7 616.3 707.2 616.5 689 616.6 740.1 616.8 724 617.1 762.4 617.3 696.6 617.5 736.3 617.5 707.6 617.7 691.2 618 688.4 618.3 753.8 618.4 687.9 618.7 742.9 618.7 727.7 618.9 731.2 619.3 761.9 619.3 721.5 619.5 757.4 619.9 737.5 620.1 688.9 620.5 651.9 620.4 729.8 620.7 780.1 620.9 718.5 621 701.4 621.2 754.7 621.5 738.4 621.8 714 621.9 736.7 622 703.6 622.2 770.3 622.5 749 622.5 671.9 622.8 691.8 623 737.6 623.2 710 623.6 761 623.8 755.7 624 690.8 623.9 736.9 624.2 760.3 624.5 690.6 624.7 719.7 624.9 708.5 624.9 703.3 625.1 755.5 625.4 761.8 625.7 716.8 625.8 734 625.9 714 626.1 762.1 626.5 685.7 626.8 730.6 626.8 739.3 627 704.1 627.2 702.1 627.4 741.6 627.5 745 627.9 707.2 628.1 688.9 628.3 735.1 628.3 749 628.6 703.8 629 738.7 629.1 746.1 629.2 720.1 629.4 763.2 629.7 717.8 629.9 758.9 630.2 710 630.2 741.5 630.6 749.4 630.5 720.1 630.7 724.1 631.1 701.6 631.3 759.5 631.5 714.1 631.5 695 631.8 668.6 632.1 758.4 632.3 678.5 632.5 772.3 632.5 728.8 632.9 717.5 633.1 739.1 633.2 742.7 633.5 729.1 633.7 775 634 745.7 634.2 721.5 634.3 769 634.4 739.9 634.7 708.7 634.9 741.5 635 766 635.4 735.4 635.4 748.3 635.6 676.6 635.9 762.1 636.2 744.2 636.2 754.7 636.5 754.6 636.7 753.5 636.8 768.1 636.9 727.5 637.2 765.3 637.6 726.7 637.7 713.8 637.8 752.5 637.9 726.3 638.1 720 638.3 698.6 638.6 716.8 638.8 721.5 638.9 758.6 639.4 747.1 639.5 728.2 639.7 734.2 639.8 723.9 640.1 743.3 640.3 690.9 640.6 772.9 640.5 726.8 641 718.7 641 759.9 641.2 759 641.6 713.6 641.6 710.2 641.9 689.9 642 746.6 642.2 757.3 642.4 742.4 642.6 706 642.7 769.7 643.1 745.5 643.2 696.1 643.4 743.5 643.6 743.8 643.9 728.5 643.9 758.7 644.2 732.6 644.5 705.6 644.6 759.8 644.8 758 645 738.2 645.3 721.4 645.4 735.3 645.7 668.3 645.8 769 646.2 751.2 646.1 768.4 646.5 769.6 646.6 761.1 647 713.8 647 700.1 647.3 708.3 647.5 751.5 647.7 727 648 736.3 648.2 718.3 648.2 736.5 648.3 751.8 648.5 733 649 732.5 649.1 731 649.1 687.6 649.4 737.9 649.7 749.7 649.9 752.2 649.9 754.7 650.4 706.8 650.6 705.7 650.8 751.5 650.8 745 651.1 741.8 651.1 757.2 651.6 762 651.7 707.4 651.8 745 652.1 690.7 652.1 719.4 652.3 732.3 652.8 778.6 652.9 711.4 653.1 708.2 653.2 767.9 653.3 730.8 653.7 740.3 653.8 745.3 654.1 723.8 654.3 739.7 654.4 706 654.5 744.3 654.8 711.1 655 750.9 655.2 743.3 655.4 700 655.6 752.2 655.9 761.1 656.1 772.9 656.2 717.4 656.5 779.2 656.7 763.6 656.7 746 656.9 728.2 657.2 772.6 657.5 767.7 657.6 701.8 657.9 728.5 658 701 658.4 717.7 658.5 732.3 658.5 724.6 659 758.6 658.9 706.3 659.3 691 659.5 742.5 659.6 728 659.7 719.5 660.2 733.1 660.3 729.3 660.3 718.2 660.6 766.4 661 686.6 661.1 688.9 661.2 730.6 661.3 706.6 661.6 737.1 661.8 767.4 662 735.7 662.1 713.5 662.4 727.1 662.7 719 662.9 753.1 663.1 704.3 663.4 756.4 663.6 688.6 663.6 689.4 663.7 700.7 664 718.9 664.2 727.2 664.4 736.3 664.6 700.5 665 760.7 665 711 665.3 719 665.5 693.5 665.8 711.1 665.8 768 666 704.2 666.2 695.3 666.4 743.8 666.7 705.2 666.9 765 667.1 687.5 667.1 701.6 667.4 756.1 667.7 721.1 667.9 757.6 668 747.6 668.3 742 668.5 704.2 668.7 751.2 668.9 759.1 669.2 696.6 669.1 747.1 669.4 716.2 669.8 742.9 669.9 748.7 670.2 709.6 670.4 682.9 670.4 727.7 670.7 762.2 671 726.7 671.1 767.5 671.3 738.8 671.5 749.6 671.6 701.9 672 750 672.2 753.3 672.2 658 672.4 762.2 672.7 703.6 672.8 693.7 673.1 745.7 673.2 710.4 673.3 760.7 673.7 720.4 673.9 737.5 674.1 753.3 674.3 691.9 674.4 736.8 674.7 765 674.8 749.2 675.1 710.3 675.4 703.6 675.3 726.2 675.7 744.1 675.9 736.8 676 727.1 676.3 725.9 676.5 727 676.6 750.3 676.8 728.8 677.2 763.2 677.3 702.5 677.4 752.7 677.8 739.1 677.8 753.4 678 672.3 678.3 733.4 678.6 748.9 678.5 787 678.9 661 679.2 701.6 679.2 749.3 679.4 726.1 679.6 717.9 679.8 702.9 680 754.4 680.2 744.3 680.4 753.2 680.5 752.2 680.8 764 681.2 703.3 681.1 772.8 681.5 757.3 681.8 754.4 681.9 739.7 682 736.6 682.3 706 682.5 666.4 682.6 728.5 683 698.2 683 731.1 683.3 747.4 683.6 735.3 683.7 708.7 683.8 712.8 684 749 684.2 751.3 684.3 704 684.7 713.3 684.9 735.5 685 761 685.2 755.8 685.5 743.5 685.5 752.9 685.7 760.3 686.1 701.3 686.4 690.7 686.5 718.7 686.6 720.1 686.7 698.5 687.2 736.2 687.4 737.3 687.6 716.1 687.7 738.3 687.9 688 688 729.5 688.1 708.2 688.3 722.8 688.5 721.1 688.8 699.7 689.2 701.3 689.4 704.2 689.5 723.3 689.7 774.2 690 722.1 689.9 702.3 690.2 700.7 690.5 715.9 690.5 741 691 697 691 703.9 691.2 747 691.5 710.7 691.5 744.6 691.9 751.1 692 695.6 692.1 730.9 692.5 674.6 692.8 704.5 692.9 733.6 692.9 718.9 693.1 745.6 693.4 761.6 693.5 754.7 693.9 748.6 693.9 740.8 694.4 690.9 694.5 705.6 694.6 727.4 694.8 748.5 695.2 736.6 695.4 753 695.5 771 695.7 723.3 695.8 768 696.1 735.2 696.2 707 696.5 743.7 696.5 775.9 696.8 693.1 697 716.5 697.1 744.8 697.6 688.6 697.7 713.6 697.8 751.4 698.1 756.5 698.2 667.8 698.4 715.5 698.6 754.2 698.9 711.4 699 688.1 699.2 705.2 699.3 737.9 699.7 774.5 700 757.2 700.1 784.3 700.4 732.1 700.4 762.1 700.6 711.8 700.8 712.9 701.1 728.2 701.1 753.6 701.4 713.2 701.5 708 701.7 705.5 702.1 754.9 702.4 714.5 702.5 727.3 702.6 752.9 702.9 684.9 703 762.6 703.1 747.6 703.5 691.6 703.6 675.2 703.9 711.1 703.9 750.8 704.1 733.1 704.5 765.1 704.6 758.9 704.8 736.3 705.1 720.9 705.3 724.1 705.3 725.9 705.7 748.4 705.8 753.1 705.9 700 706.1 731.7 706.6 752.6 706.6 789.7 706.8 716.1 707.1 731.1 707.4 744.3 707.6 748.4 707.5 706.6 707.9 695.9 708 706.1 708.1 745.2 708.6 726 708.8 762.9 708.7 714.3 709.1 749.4 709.1 714.2 709.5 750.5 709.5 705.1 709.9 703 710.1 761 710.2 760.1 710.5 724.1 710.6 752.5 710.8 708.3 710.9 721.6 711.4 692.5 711.4 737.8 711.7 726.5 711.8 766.5 711.9 776.1 712.4 713.5 712.5 740.2 712.7 725.2 712.7 711.9 713.1 688 713.2 726.3 713.4 749.7 713.8 690.5 713.8 764.9 714.1 750.7 714.2 742.2 714.4 746.4 714.5 713.9 714.7 734.2 714.9 701.9 715.3 753.4 715.4 701.1 715.7 788.4 715.8 728.8 716.1 721.1 716.1 783.1 716.5 734.4 716.5 698.2 716.8 706.7 717.1 744.7 717.2 762.2 717.5 765.3 717.6 715 718 721.1 718.2 739.7 718.3 773.8 718.4 718.1 718.6 751.2 718.9 739.4 719 719.3 719.2 789.9 719.4 754.3 719.5 698.8 719.8 713.8 720.1 764.1 720.1 734.9 720.5 709.8 720.5 736.3 720.9 753.3 721 753.4 721.1 712.2 721.4 714.9 721.7 696.4 721.7 729.7 722 750.9 722.2 698.2 722.4 731.5 722.5 737.3 722.7 721.8 722.9 768.9 723.2 739.1 723.5 685.5 723.7 773.5 723.9 734.6 724 707.3 724.2 756.2 724.4 717.2 724.6 748.5 724.7 732.1 725 666.1 725.3 746.6 725.3 706.4 725.8 717.3 725.9 717.6 726.1 724.4 726.2 745.5 726.5 767.5 726.8 726 726.8 717.2 727.1 727.6 727.4 748.5 727.6 757.8 727.7 688.3 727.8 695.3 728.2 751.7 728.2 698 728.6 701.4 728.7 706.8 729 658.8 728.9 716.9 729.1 748.4 729.6 736.1 729.7 763.5 729.8 729.7 730.1 725.2 730.1 716.7 730.5 705 730.5 700.4 731 714.4 731 760.3 731.2 766.5 731.5 765.3 731.5 733.1 731.7 703.4 732.1 698.9 732.2 729.4 732.3 702.3 732.7 732.2 732.8 755.6 733 747.4 733.4 744.1 733.5 763 733.5 718 733.8 744.7 734.1 714.7 734.1 735.6 734.5 766.3 734.5 702.4 734.8 718.5 735.1 742.2 735.2 761 735.3 699.6 735.7 713.6 736 708.4 736.2 722.8 736.2 715.7 736.4 738.4 736.6 746.9 736.8 712.5 737 773.6 737.1 763.9 737.3 695.8 737.6 708.7 737.9 762.9 738 759.6 738.4 742.2 738.4 724.3 738.5 719 738.9 717.5 738.9 757.8 739.3 686.1 739.5 728.9 739.6 722.8 739.9 694.8 740.1 762.3 740.3 750 740.3 726.3 740.7 753.1 740.8 768.2 741.2 710.4 741.2 672.7 741.5 761.7 741.5 704.7 741.9 696.2 742 716.6 742.2 746.5 742.5 749.3 742.6 751.5 742.8 746.9 743.1 703.1 743.2 707.6 743.4 765 743.7 751 743.9 761.1 744 746.3 744.4 735.5 744.5 657.8 744.8 720.2 744.8 723.7 745.2 730.4 745.4 705 745.6 729.7 745.7 703.8 745.7 735.3 746.2 721.6 746.2 757 746.5 730 746.8 750.5 746.9 705.9 747 735.7 747.2 702.8 747.6 735.8 747.5 714.5 747.7 692.9 748 690.8 748.2 701.2 748.3 749 748.7 688.1 748.7 733.6 749.2 739.1 749.3 773.7 749.4 720.4 749.6 727.4 749.7 769.1 750 723.2 750.2 701.2 750.5 739.1 750.8 695.2 750.8 754.3 751.1 752.7 751.2 708.2 751.4 752.9 751.7 769.3 751.7 696.2 752 711 752.1 712.3 752.5 764.5 752.5 696.6 753 708.9 752.9 708.4 753.2 695 753.4 709.9 753.8 688.1 753.9 715.3 754.1 717.7 754.3 746.4 754.3 746.2 754.6 778.8 754.8 729.8 755.1 707.1 755.4 730.5 755.5 773.3 755.5 710.6 755.8 756.3 756.1 691.9 756.1 747.7 756.3 758 756.8 719.4 757 763.2 757 769 757.4 747.5 757.4 714.1 757.8 755.7 758 754.5 758 706 758.2 708.8 758.4 731.8 758.7 716 758.8 731 759 702.7 759.2 717.9 759.4 723.6 759.6 696.5 759.7 696 760 745.8 760.1 737.5 760.6 771.8 760.6 687.7 760.9 762.7 761.2 700.9 761.4 745.9 761.6 732.2 761.8 692.9 762 708.1 761.9 719.8 762.4 758 762.5 751.8 762.8 762.5 762.7 745.2 763 727.5 763.3 756.4 763.4 733.2 763.8 696.2 763.7 754.5 764 708.9 764.3 719.9 764.5 751 764.8 744.3 764.9 738.8 765 753.6 765.2 733.9 765.4 714.9 765.7 704.3 765.9 695.6 766 757.8 766.3 751.9 766.5 729.9 766.8 753 766.9 759.9 767.1 753 767.1 748.7 767.4 743.7 767.6 719 767.8 707.8 767.9 745.4 768.3 719.4 768.5 743.9 768.7 729.8 768.9 658.9 769 711.8 769.3 696.7 769.3 712.7 769.6 769.2 769.5 657.6 770 750.1 770.2 747.1 770.5 751.8 770.7 723.2 770.8 744.9 770.9 738.2 771.2 703.7 771.5 704.5 771.8 736 772 733.9 772.2 714.6 772.1 698.3 772.5 711.9 772.6 715.2 772.9 743.5 773.2 753.7 773.2 759 773.6 664.9 773.6 699.7 773.7 759.1 774.2 738.2 774.3 768.8 774.5 696 774.7 762.1 774.8 710.7 775.1 725.2 775.2 754.4 775.5 667.8 775.5 738.3 775.8 680.9 776.1 708.8 776.1 742.5 776.3 740.4 776.5 754.4 776.9 714.9 777.2 693.8 777.3 760 777.5 763.2 777.7 761.1 777.8 733.8 778 724.8 778.1 712.8 778.3 719.4 778.7 694.5 779 693.1 779.1 708.8 779.1 754.4 779.3 706.2 779.8 734.9 779.8 735.2 780.1 761.3 780.1 725.4 780.4 740.9 780.6 699.1 780.9 687.9 781.2 734.9 781.3 764.5 781.3 711.8 781.7 710.9 781.9 692.4 782 765.5 782.2 739.7 782.5 751.7 782.5 717.9 782.8 766.1 783.2 698 783.3 747 783.3 739.2 783.6 711 783.8 716.1 784.1 748.5 784.1 732.1 784.4 707.8 784.5 711.7 784.9 764.7 785.2 716.3 785.1 722.3 785.5 694.6 785.7 749.3 785.7 700.6 786.1 728.7 786.4 696.7 786.6 741.5 786.5 722.1 786.8 735.1 787.2 748.8 787.4 774.6 787.6 715 787.5 744.1 788 745.5 788.1 721.9 788.3 695.4 788.3 757.5 788.5 744 788.9 745.1 789.1 771.1 789.2 747.8 789.5 760.8 789.8 709.2 789.8 714 790.1 700.8 790.2 716.8 790.3 731.5 790.8 732.9 790.7 735.2 790.9 748.2 791.3 694.6 791.4 758.8 791.6 759 791.9 705.6 792.2 704.8 792.3 747 792.5 759 792.6 729 792.8 663.3 793.1 717.9 793.3 727 793.5 735.5 793.5 743.2 794 758.3 794.2 734.6 794.1 708.9 794.3 735.3 794.5 740.9 794.8 724 795.2 720.8 795.2 757.6 795.5 709.7 795.7 709.7 795.9 723.7 796.1 772.9 796.2 713 796.4 746 796.7 744.4 796.8 696.6 797 758.3 797.2 741.9 797.3 760.2 797.8 729.8 797.7 673.5 798.1 710.3 798.2 754.6 798.6 724.8 798.5 718.9 798.9 751.5 799 713.1 799.4 749.9 799.5 772.7 799.5 736.2 799.9 739.4 800 678.5 800.3 701.7 800.5 753.3 800.7 702.8 800.8 710.3 801.2 703.3 801.1 704.2 801.5 714.4 801.5 753 801.7 708.8 801.9 730.1 802.4 719.2 802.6 727 802.6 773.9 802.9 756.3 803.2 740.5 803.2 756.2 803.6 710.1 803.5 741.5 804 727.8 803.9 705.2 804.4 708.5 804.4 757.9 804.8 775.6 804.9 705.3 805 712.1 805.1 743.2 805.4 718.7 805.7 726 805.9 708.6 805.9 740.2 806.2 742.1 806.6 736.3 806.6 761.5 807 702.3 807.2 742.9 807.2 733.6 807.4 756.1 807.6 708 807.9 751.9 808.2 781.8 808.3 690.4 808.3 725.6 808.8 710.8 809 741.3 809.1 715.5 809.4 663.9 809.4 722.6 809.8 712.9 809.9 709 809.9 740.1 810.2 713.7 810.6 746.6 810.7 704.6 810.8 762.9 811 724 811.3 730 811.5 720.8 811.7 702.1 811.9 730.6 812 763.9 812.1 698.8 812.5 774.8 812.7 718.4 813 703.5 813 744.8 813.1 697.3 813.6 765.9 813.8 744.3 813.9 724.5 814.2 714.6 814.2 715.5 814.4 692.9 814.7 730.3 814.8 711.8 815.2 756.4 815.1 743.8 815.5 739.4 815.5 696.5 815.8 710.5 816 716.5 816.2 670.5 816.4 757.7 816.6 768 816.8 745.4 816.9 749.7 817.2 723.3 817.4 726.1 817.7 745.6 817.9 705.4 817.9 729.6 818.4 742.1 818.5 707.3 818.7 704.6 819 724.4 819.1 734.5 819.4 737.4 819.4 707.3 819.7 715.3 819.9 726.3 819.9 718.7 820.4 763.6 820.4 694.6 820.8 719.6 820.9 742.3 821.1 755.9 821.4 726 821.3 719.4 821.7 747.1 822 697.1 822.1 717.3 822.1 720.4 822.3 733.5 822.6 769.7 822.7 721.8 822.9 739.9 823.2 710.1 823.3 751.9 823.6 752 823.7 723.3 824.1 746.6 824.1 702.8 824.5 773.1 824.7 656.4 825 705.4 825 780.1 825.2 750.5 825.6 689.5 825.8 730.5 825.9 738.3 826.2 748.1 826.1 730.5 826.4 719.4 826.6 725.1 827 740.6 827.2 713.2 827.1 731.8 827.5 753.1 827.7 704 827.8 734.4 828 752 828.1 730.1 828.4 738.3 828.5 731.1 828.7 718.8 829 735.5 829.3 699 829.6 711.8 829.8 730.7 829.7 726.4 830.2 726.1 830.3 680.4 830.4 695.4 830.5 705.6 830.9 698 831.1 754.6 831.3 706 831.6 753.8 831.7 700.2 832 756.8 832 730.3 832.4 731 832.6 769.4 832.7 711.9 832.9 715.5 833.1 720.9 833.4 705 833.5 748.9 833.8 741.9 833.8 736.2 834 766.7 834.4 740 834.4 754 834.5 724.6 834.8 747.9 835 738.9 835.3 716.7 835.3 710.6 835.8 719.7 835.7 738.8 836.1 735.4 836.2 730.6 836.6 730.9 836.7 711.8 836.9 740.5 837.2 729.8 837.4 737 837.6 744.9 837.6 701.7 837.9 745.3 838 751.6 838.3 688.3 838.4 735.9 838.7 703.7 838.7 747.3 839 721 839.3 732 839.6 700.8 839.5 757.7 839.9 727.6 840 708.3 840.1 710.9 840.5 748.9 840.8 737.3 840.8 704.7 840.9 756.9 841.2 765.7 841.6 712 841.7 747.4 841.9 755.4 842 724.6 842.3 751.4 842.4 713.5 842.8 769.1 842.9 720.5 843 734.6 843.3 709.4 843.4 742.8 843.7 751.4 843.8 746.8 844.1 718 844.1 694.7 844.5 728.3 844.7 754.4 844.9 709.9 845.1 725.7 845.3 745.5 845.3 757.5 845.5 704.3 845.8 692.5 846 708 846.2 710.3 846.6 678.7 846.7 696.1 846.8 759.2 846.9 694.2 847.2 739.7 847.4 725.1 847.6 759.4 847.8 770 848 702.2 848.2 697.6 848.3 706.3 848.8 683.9 848.9 758.2 848.9 711.3 849.3 772.4 849.6 729.6 849.6 716.5 849.7 736.8 850.2 703.9 850.1 737.3 850.4 740.1 850.7 717.7 850.7 760.4 851.1 695.6 851.3 735.5 851.4 725.3 851.6 735.1 851.7 711.3 852.1 706.4 852.3 693.1 852.6 768.9 852.8 712 853 748.8 853 727.7 853.3 723.6 853.6 725.7 853.7 761.4 853.9 735.8 854 753.3 854.2 701.6 854.5 725.8 854.7 706.1 854.8 738.5 854.9 695.7 855.2 741.4 855.4 704.3 855.6 686.4 856 719.2 855.9 713.2 856.4 710.8 856.3 697.8 856.5 717.2 857 746 857 705.7 857.1 745.1 857.5 704.2 857.7 731.1 857.9 715.7 858.1 748.7 858.3 739.8 858.5 716.9 858.5 682.8 858.9 714.3 859 701.8 859.2 713.1 859.6 763 859.6 762.5 859.9 739.4 860 759.6 860.4 770.3 860.3 739.6 860.7 708.1 861 689 861.1 739.5 861.5 654.2 861.3 717.7 861.7 714.7 862 738.1 862.1 698.6 862.3 741.8 862.5 732.4 862.6 774.4 862.8 736 863 758.2 863.2 725.1 863.5 743.1 863.7 716 863.9 748.1 864.1 761 864.2 666 864.5 756.5 864.7 758.4 864.8 699 865.2 706.8 865.3 716.7 865.5 693.7 865.7 730.5 866 734.4 866.1 731 866.3 766.5 866.3 756.6 866.8 742.5 866.8 724.1 867 701.1 867.3 745.8 867.5 672.4 867.7 726.4 867.8 756.4 868 746.7 868.3 759.3 868.4 760.2 868.8 698.9 868.9 700.3 868.9 754.8 869.4 744.2 869.3 709.2 869.7 737.2 869.8 758.9 870 736.8 870.2 736.5 870.4 707.5 870.8 696.2 870.8 780.4 871.2 755 871.3 754.6 871.4 719.5 871.5 727.6 871.8 687.7 871.9 699.4 872.1 702.5 872.5 739.8 872.7 747.3 872.7 691.9 873 751.7 873.3 727.1 873.3 747.6 873.6 687.8 873.9 746.9 874.1 699.5 874.2 704.8 874.5 720.6 874.7 708.8 875 750.3 874.9 751.9 875.1 732.5 875.3 709 875.6 743.4 876 715.9 876.1 743.4 876.3 745.9 876.5 709.5 876.7 760.5 877 758.5 877 706.5 877.1 758.3 877.6 694.2 877.5 724.9 877.8 758.1 877.9 753.6 878.3 733.6 878.5 751.3 878.8 701 878.7 713.3 878.9 759.3 879.2 752.3 879.5 716.7 879.7 690.9 879.9 725.8 879.9 733.7 880.2 657.4 880.5 717 880.6 723.6 880.9 722.6 881.1 686.3 881.2 695.6 881.4 756 881.6 750.8 881.9 691 881.9 738.3 882.3 752.6 882.4 692 882.8 691.1 883 742.5 883 727.2 883.2 724.3 883.4 761.6 883.7 724.5 883.9 759.6 884.1 708.8 884.1 751.8 884.4 735.5 884.7 745.3 884.8 747.1 885.2 692.9 885.4 742.3 885.5 741.5 885.8 715.8 885.9 704.9 885.9 697.2 886.3 731.4 886.3 750.2 886.7 765.9 886.9 729.9 887 742.1 887.1 751 887.4 730.8 887.7 747.9 887.9 698.8 888.2 761.5 888.1 723.4 888.4 740.3 888.7 716.6 888.9 736.8 888.9 757.3 889.4 723.5 889.5 716.8 889.6 714.4 889.8 740.3 890.1 694.5 890.4 720.1 890.4 725.7 890.6 725.9 890.8 747.4 891 753.5 891.1 707.8 891.4 727.2 891.7 737.1 891.5 657.6 892 740.3 892.3 757.9 892.6 721.7 892.6 699.1 893 751.9 893 722.5 893.1 736.6 893.6 723.5 893.5 703.2 893.8 753.2 894.1 710.7 894.1 734.2 894.5 765.3 894.8 744.1 894.8 755.7 894.9 714.3 895.1 707.5 895.5 733.1 895.7 726.7 895.8 734.5 896.1 768 896.2 761.6 896.5 703.2 896.6 764.2 896.9 738.1 896.9 695.1 897.2 750.2 897.6 691.9 897.6 727.5 897.7 692.3 898 766.4 898.1 739.7 898.6 748.8 898.6 732.9 899 755.3 899 694.6 899.4 735.5 899.6 759.7 899.6 746.4 899.9 692.3 900.1 704.2 900.3 728.3 900.6 756.2 900.5 702.3 900.9 749.7 901.1 761.2 901.1 718.3 901.4 727.2 901.6 716.9 901.7 755.1 902.1 655.1 902.3 741.7 902.4 715.9 902.8 702.3 902.9 704.8 903 753.6 903.2 700.3 903.5 719.9 903.6 726 904 681.6 904 726.5 904.3 751.4 904.3 702.1 904.7 702.5 904.8 756 904.9 760.9 905.1 740.7 905.4 724.1 905.6 656.3 905.8 742.9 906 730.2 906.2 708.4 906.3 741.8 906.5 749.1 906.8 739.6 907 750.8 907.3 770.8 907.3 721.9 907.6 746.8 908 740.1 908 740.9 908.2 719.7 908.3 716.1 908.7 762.1 908.7 751.8 909.1 714.8 909.4 720.2 909.5 734.1 909.5 711.6 909.8 741.3 910 721.2 910.2 740.6 910.4 707.7 910.7 762.7 911 726.4 911 764.1 911.2 757.6 911.6 723.3 911.6 740.9 912 744.4 912.2 709.7 912.2 661 912.6 707.6 912.7 702.5 912.9 724 913.2 760.3 913.1 688.9 913.4 713.2 913.5 726.9 914 736 914 757.9 914.4 693.3 914.6 740.9 914.5 763.2 914.7 739.9 915.1 691.2 915.2 691.2 915.4 737.4 915.8 743.7 915.9 709.6 916 744.3 916.1 715.6 916.5 735.9 916.7 708 916.8 747 916.9 747.1 917.4 663.5 917.5 650.7 917.5 707.6 917.7 721.9 918.1 749.4 918.2 743.5 918.6 730.1 918.6 748.7 919 768.2 919.1 754.9 919.3 730.1 919.5 697.4 919.7 751.2 919.9 713.7 920.1 721.7 920.4 722.3 920.4 733.8 920.7 752.5 920.7 725.6 921.2 768.2 921.3 733.2 921.4 742.6 921.6 704.7 921.7 755.2 922 697.6 922.3 730.3 922.3 748.2 922.7 701.3 923 765.4 923.1 710.7 923.4 704.5 923.5 737.7 923.6 724.3 923.8 764.5 924.1 762.7 924.3 705.2 924.4 740.2 924.7 737.6 924.8 756.6 925 724.3 925.3 725 925.3 701.9 925.8 758.3 925.8 709 925.9 743.4 926.2 719 926.4 767.9 926.6 763.1 926.9 711.9 927 735.8 927.4 671.1 927.3 749.7 927.5 768.1 927.9 718.8 928 731.5 928.3 691.7 928.6 697.1 928.8 702.6 928.8 737.5 928.9 703.8 929.2 723.6 929.4 715.7 929.6 744.9 929.8 762.1 930.1 721.5 930.2 762 930.3 769.1 930.8 684.1 930.9 752 930.9 754.5 931.4 717.5 931.4 727.1 931.6 764.5 931.9 768 932.1 729.3 932.3 749.6 932.5 725.6 932.7 734.5 932.9 756 933.1 706.8 933.2 740.9 933.4 727.2 933.6 692.2 934 697.6 933.9 707.9 934.2 760.8 934.5 757.1 934.8 730.8 934.8 713.9 935.1 689.1 935.3 699.3 935.5 748.2 935.7 771.9 935.8 767.4 936.2 769.6 936.3 690.9 936.5 763.2 936.7 756.5 937 745.2 937.1 739.3 937.3 764 937.5 742.5 937.5 703 938 761.5 938 758.1 938.4 720.5 938.4 751.6 938.8 761.6 938.9 753.5 939.1 699.6 939.2 711.2 939.4 728.1 939.8 694.6 939.7 728.8 940.1 765.7 940.4 763.9 940.4 776.7 940.5 770.4 940.7 715.1 941.1 728.1 941.3 727.6 941.6 694.5 941.6 745.8 941.9 706 942.1 695.7 942.2 661.2 942.4 716.5 942.6 694.9 943 691.6 942.9 726.6 943.1 751.9 943.3 722.2 943.6 743.6 943.8 751.2 944.1 738 944.2 764.7 944.6 734.8 944.6 724.3 944.9 740.3 945 723.7 945.2 707.5 945.5 732.2 945.6 760.5 945.8 732.2 945.9 757.2 946.1 695.9 946.4 722.7 946.7 704.2 946.7 702.5 947 704.9 947.1 692.9 947.5 737.8 947.6 717 947.8 734.2 948.1 751.2 948.2 716.4 948.5 719.3 948.7 711.8 948.9 763.3 948.9 701.1 949.3 751 949.4 767 949.5 781.4 949.9 737 949.9 706.3 950.2 678.4 950.6 735.7 950.5 752.1 950.7 735 951 722.2 951.1 686.4 951.4 730.8 951.6 748.9 951.8 695.9 951.9 754 952.2 726.5 952.6 722.2 952.6 730 952.8 748.5 953.1 721.2 953.2 719.7 953.6 739.9 953.7 781 953.8 755.7 954.2 701.2 954.3 715.5 954.4 752.2 954.7 768.6 954.7 712.1 955 718.3 955.4 718.1 955.4 728.7 955.8 696.6 956 755.9 956.1 763.6 956.1 700.8 956.5 739.8 956.7 726.3 956.8 741 957 706.5 957.2 753.6 957.5 750.6 957.5 721.8 957.9 742.7 957.9 720.7 958.2 706.4 958.5 760.8 958.5 668 958.8 708.1 958.9 744.7 959.3 696.6 959.6 752.2 959.6 712.2 960 726.1 960.2 719.2 960.3 761.2 960.5 665.6 960.7 745.9 960.9 723.4 961.1 731.6 961.2 753 961.6 771.7 961.6 696.2 961.9 707.1 961.9 730.8 962.2 699.2 962.3 754.2 962.8 684.9 962.9 696.9 963.1 694.6 963.2 743.5 963.4 711.8 963.7 785.4 963.8 735.3 964 710.9 964.2 701.8 964.6 751.8 964.7 711.4 964.8 703 965.1 711.4 965.2 745.3 965.5 721.6 965.5 709.1 965.8 702.8 966 755.5 966.3 759.4 966.4 688.3 966.7 707.7 966.8 726.2 967.1 661.4 967.2 739.6 967.5 708.2 967.8 726.9 967.8 663.5 968 717.1 968.3 716.3 968.4 731 968.5 745.9 968.8 752.2 969.1 750.1 969.1 694.6 969.3 737.3 969.7 703 969.7 748.5 970.1 735.2 970.1 727.3 970.5 706.9 970.6 731.4 971 713.4 971.2 698.4 971.2 749.9 971.4 763.1 971.8 661.8 971.8 745.5 972 740.4 972.1 726.6 972.4 749.2 972.8 738.9 972.9 710.1 973 737.4 973.3 712.6 973.5 705.5 973.8 744.5 973.9 723.9 974.1 760.5 974.2 753 974.6 752.8 974.8 736.7 975 734 975 741.8 975.1 723.2 975.5 710.6 975.7 759.8 975.9 751.7 976.1 753.2 976.3 726.1 976.6 706.6 976.8 761.7 976.7 687.9 977 718.8 977.2 743.3 977.5 720.7 977.6 743.4 977.9 719.2 978.1 693.7 978.3 726.4 978.4 707.7 978.6 730.9 978.7 733.4 979.2 683.9 979.2 748.6 979.6 688.1 979.6 721.9 979.8 738.2 979.9 762.6 980.3 728.8 980.4 718.6 980.8 725.2 980.9 722.8 980.9 700.7 981.4 724.7 981.5 696.7 981.8 697.4 981.8 737.3 982.1 700.4 982.3 723.9 982.6 748.4 982.8 754.6 982.7 711 983.2 747.5 983.4 734.6 983.5 718.7 983.5 719.5 983.8 696.3 983.9 698.9 984.3 705.3 984.4 715.9 984.7 740.1 985 695 985 761.2 985.3 724.1 985.5 704.6 985.6 754.9 985.9 720.7 986.1 753 986.2 680.8 986.4 701.9 986.7 712.3 986.9 704.5 987.1 727 987.1 753.8 987.3 790 987.6 731.2 988 693 988.2 760 988.2 726.7 988.5 765.6 988.8 732.1 988.7 741.9 988.9 732.7 989.3 725.9 989.6 701 989.7 728.7 989.9 741.9 989.9 777.3 990.1 767.9 990.5 703.1 990.6 761.1 990.8 729.1 991 743.8 991.1 739.3 991.4 750.1 991.7 741.1 991.9 749.9 991.9 743.5 992.2 748 992.4 734.4 992.7 764.6 992.7 742.8 993.1 756 993.4 694.3 993.3 735 993.7 722.6 994 765.2 994.2 744.6 994.2 719 994.3 723.6 994.6 756.9 994.9 710.2 994.9 727.4 995.3 760.5 995.5 704.9 995.8 781 995.8 704.4 996 743.3 996.3 697.9 996.4 737.5 996.8 745.4 996.8 685.9 997.1 692.1 997.4 754.8 997.4 712.2 997.5 716.5 997.9 734.5 998.1 692.2 998.3 731.6 998.5 755 998.5 735.6 999 759.1 999 689.5 999.1 739.9 999.6 673.9 999.6 750.1 999.8 735.9 1000.2 768.5"/><path stroke="rgb(202,202,202)" d="M121.5 500.6 122 506.5 122 532.3 122.3 465.1 122.3 415.9 122.6 501 122.8 352.1 123 389.1 123.3 309.7 123.3 310.1 123.5 392.1 123.9 388.6 124.1 342.3 124.3 281.6 124.3 450.6 124.8 265.7 124.9 371 124.9 279.2 125.2 377.5 125.3 387.9 125.5 347 125.9 434.8 126.2 358.2 126.3 416.1 126.4 370.5 126.7 310.6 126.8 278.5 127.1 505 127.4 314.7 127.3 440.7 127.8 451.6 127.8 397.4 128 499.2 128.2 435.5 128.4 331.1 128.8 278 128.8 253.2 129.2 245.2 129.2 286.4 129.3 444.8 129.7 477.3 129.7 526.4 129.5 573 130.1 445.9 130.4 391.1 130.5 388.7 130.8 315.7 131.1 340.1 131.2 309.2 131.3 229.3 131.5 329.4 131.9 247.9 132 297.3 132.2 286.5 132.3 278.1 132.7 342.4 133 318.6 133.1 406.4 133.5 185.8 133.4 275 133.6 235.7 134 271.6 133.9 428.1 134.2 452.5 134.5 349.5 134.7 374.9 134.8 306.7 135.2 400.8 135.2 476.3 135.5 377.5 135.8 305.5 135.9 470.8 136 411.8 136.3 425.2 136.4 434.3 136.5 313 136.7 536.1 136.9 450.9 137.1 381.6 137.4 463.6 137.7 517.2 138 350.5 137.9 400.2 138.3 354.1 138.3 390.7 138.7 423 138.9 334 138.9 496.9 139.3 428.7 139.4 426.6 139.5 335.3 139.9 231.2 140.1 236.3 140.2 352.7 140.4 417.4 140.6 260.7 140.5 605.3 140.9 301.5 141.3 334.9 141.4 435.2 141.6 437.8 142 363 142 396.4 142.3 226.8 142.5 292.9 142.5 119.8 142.8 409.3 142.9 237.3 143.2 352.7 143.5 435.9 143.8 412.3 143.9 416 144 369 144.5 185 144.4 437.7 144.5 397.4 144.8 414 145.2 367.1 145.3 431.9 145.4 438.2 145.7 352.5 146 313.5 145.5 578.5 146.4 376.7 146.5 219.5 146.7 234.4 146.8 211.2 147.2 325.9 147.3 444.2 147.5 301.9 147.8 243.3 147.9 263.1 148 288.4 148.1 259.7 148.5 360.7 148.5 369.3 148.8 338.5 149.1 435.2 149.1 256.4 149.3 366.4 149.5 393.4 149.9 411.2 149.9 378.6 150.5 573.4 150.4 343.1 150.7 262.6 150.8 429.9 150.9 261 151.4 371 151.4 461.5 151.5 319.1 151.9 329.1 152 243.9 152.3 284.2 152.5 326.1 152.8 258.8 152.8 250.2 153.1 252.8 153.2 284.4 153.6 315.6 153.6 350.6 154 454.9 153.9 430.4 154.2 332.2 154.5 344.6 154.6 302.3 154.9 265.9 155 326.6 155.4 432.7 155.5 312.2 155.7 330.1 155.9 429.4 156.1 470.3 156.2 486 156.5 189 156.7 271.3 156.8 272.8 157 321.8 157.5 158.5 157.5 338.2 157.7 477.6 157.8 350.7 157.9 417.9 158.2 284.2 158.5 214.4 158.5 242.9 158.8 398.4 159.1 371.9 159.3 254.3 159.4 387.6 159.7 327.6 159.7 285.2 160.2 250.2 160.2 343 160.5 468.5 160.6 488.6 160.9 447.8 161 412.1 161.2 331.5 161.5 447 161.7 505.2 162 356.9 161.9 343.6 162.2 305.3 162.6 245 162.6 245.5 162.9 326.2 163.2 501.1 163.4 452.4 163.5 439.2 163.8 313.3 164 422.3 163.9 352.5 164.2 226.7 164.4 461.7 164.6 508.3 164.8 503.2 165.2 518.6 165.3 460 165.5 357.6 165.7 524.2 165.9 494.1 166.2 290.9 166.4 445.4 166.6 466.3 166.6 377.2 166.9 406.6 167 405.7 167.1 554 167.4 453.6 167.8 373.2 167.9 267.7 168.2 297.2 168.1 420 168.5 394.8 168.7 247.9 168.8 387.8 169 456.6 169.3 442.3 169.4 241.6 169.6 331.4 169.7 302 169.9 429.8 170.3 231 170.3 357.5 170.5 564.2 170.7 383.3 171 455.6 171.3 455.6 171.5 489.7 171.8 473.3 171.7 289.3 172 424.9 172.2 354.7 172.4 242.6 172.8 416 172.8 346.5 173.1 340 173.3 345.6 173.4 286.3 173.7 378 173.8 422.5 174.1 474.4 174.3 533.4 174.3 410.9 174.7 427.9 174.8 426.5 175.1 491.2 175.3 364.4 175.4 319.6 175.6 270 175.9 320.1 176 326.7 176.2 312.8 176.4 380.6 176.6 373.8 176.8 337.7 177.1 323 177.2 495.2 177.5 456.8 177.5 54.3 177.8 324.6 178 269.6 178.1 324.1 178.5 475.9 178.5 412.4 178.7 384.6 179.1 502.5 179.3 412 179.6 476 179.6 344.5 179.9 379.5 180 344.9 180.3 259.1 180.5 326.1 180.7 376.5 181 255.5 181.1 462.1 181.3 417 181.5 165.6 181.7 497 181.9 416.9 182.2 536.2 182.2 364.4 182.4 313.9 182.7 235.4 182.5 572.3 182.9 525 183.2 442.6 183.5 412 183.6 362.2 183.7 306.1 184.2 311.7 184.4 447.7 184.5 255.2 184.8 494 184.7 418.6 185.1 436.7 185.4 365 185.5 236.1 185.6 408.5 185.8 438.7 185.9 437.8 186.5 671.5 186.5 261.6 186.6 334.6 186.9 469.9 186.9 429.8 187.3 439.8 187.5 282.9 187.5 345.6 188 356.7 188.1 384.7 188.1 518.7 188.4 338.5 188.8 237.2 189 340.7 189.1 339.3 189.2 348.6 189.3 288.9 189.7 275.7 189.8 360.1 189.9 344 190.1 482.7 190.5 441.2 190.6 441.2 190.9 291.8 190.9 365 191.3 444.3 191.4 286.9 191.6 321.2 192 344.2 192.1 421.6 192.2 308.9 192.4 243 192.5 298.4 192.8 272 193.2 457.9 193.1 470 193.5 426.1 193.5 363.6 193.9 420 194 256.2 194.4 334.7 194.4 264.6 194.8 376.1 195 301 195 285.5 195.4 284.7 195.6 297 195.7 199.1 195.8 348.1 196.2 237.7 196.2 275.8 196.4 291.9 196.6 359.8 196.8 414.3 196.9 426.9 197.1 261.7 197.6 287.5 197.5 320.9 197.9 298.2 198.2 303.1 198.3 393.6 198.5 309.1 198.8 446.9 199 277.2 199 324.8 199.3 269.1 199.6 519.5 199.6 372.3 199.8 274.4 199.9 312.2 200.1 400.9 200.5 441.7 200.7 271.4 200.8 254.9 201 263 201.2 339.5 201.4 371.5 201.7 400.2 201.9 294.8 201.9 341.4 202.4 274.8 202.6 295.5 202.6 337.5 202.7 286 203 288.1 203.2 267.4 203.5 419.5 203.5 422.2 204 460.6 204 445.6 204.2 321.3 204.6 464.5 204.5 578.5 204.9 448.5 205 313.8 205.1 337.8 205.4 385.5 205.8 373.1 205.7 389.5 205.9 297.1 206.3 314.3 206.5 437.3 206.6 347.9 207 450.4 207.1 411.1 207.3 433 207.4 467.6 207.5 189 207.9 291.6 208 482.9 208.2 515.5 208.3 396.6 208.6 415.2 208.9 410.2 209 274.5 209.2 492.5 209.5 463.7 209.5 444.4 210 365.4 210.2 396.9 210.3 447.8 210.6 403.1 210.7 439.9 211 300.1 211 384.6 211.3 283.2 211.3 372.8 211.7 372.6 211.8 327.9 212.1 258.9 212.1 316.3 212.5 435.2 212.5 377.6 212.7 364.2 213.2 414.7 213.2 506.3 213.3 556.2 213.8 561.8 213.7 521.4 214.2 567.2 214.1 490.7 214.4 312.2 214.7 214.7 214.8 293.2 215.1 448.3 215.1 233.1 215.6 361.3 215.7 467.3 215.9 470.1 216.2 416.9 216.3 479 216.5 494.9 216.5 160.3 216.8 323.6 216.9 472 217.4 478.4 217.4 461.5 217.7 530.2 217.7 428 218.1 352.2 218.5 591.9 218.5 457.1 218.8 398.6 218.8 543.4 219.1 475.3 219.3 477.2 219.5 286.5 219.7 218.9 220 465 220.1 398.1 220.3 455.1 220.4 317.2 220.5 330.1 220.8 323 221.2 390.5 221.2 458.9 221.4 445.7 221.7 308.9 221.8 377.7 222.1 472.6 222.2 278 222.5 334.4 222.8 308.7 223 312.6 222.9 425.9 223.3 266.3 223.4 427.1 223.8 453.7 223.7 336.2 223.5 195.5 224.3 389.1 224.3 265.4 224.7 403.5 225 413.2 225.1 448.2 225.3 306.8 225.5 250.3 225.8 340.3 225.8 238.1 226 366.9 226.4 461.3 226.6 318.7 226.6 318.7 226.9 407.1 227 385.1 227.1 231.3 227.4 449 227.6 457.9 227.9 463.5 228.1 406.4 228.5 605.7 228.3 481 228.5 337 228.9 362.1 229 255.1 229.2 453.8 229.5 507.3 229.8 392 229.8 491.5 230 422.9 230.2 455.5 230.6 443.8 230.5 365.8 231 293 231.2 476.3 231.1 441.1 231.4 428 231.8 285.7 231.8 361.8 232.1 403.1 232.4 385.9 232.5 434.5 232.7 302.3 232.8 452.4 233.1 550.1 233.2 348.6 233.4 321.8 233.6 433.3 234 525.7 233.9 394.2 234.2 520.3 234.4 453.3 234.7 384 234.8 413.8 235.1 536.8 235.2 411.2 235.3 485.6 235.7 496 235.8 478.8 236.2 395.6 236.2 359.7 236.5 393.8 236.5 374.8 236.9 450.3 237.1 423.7 237.2 352.4 237.6 271.5 237.6 383.6 237.8 417.3 238.2 431.7 238.3 310.3 238.5 316.3 238.6 357.3 239 287.9 239.1 305.2 239.3 444.2 239.3 342.1 239.6 358.2 239.8 491.4 239.9 490.4 240.2 414.2 240.5 430.3 240.8 334 240.8 413.4 241 478.1 241.4 378.5 241.4 450.2 241.6 396.8 241.9 540.5 242.2 472 242.2 386.6 242.4 435.5 242.7 386 242.9 309.5 243.1 370.7 243.5 553.8 243.4 273.8 243.6 345.6 243.7 334.2 243.9 424.5 244.4 437.5 244.5 495.9 244.6 387.1 244.8 277.2 245.1 417.1 245.2 416.2 245.5 376.5 245.6 529 245.9 361.3 246.1 304.6 246.4 300.2 246.6 312.9 246.6 408.6 246.8 350.8 247.1 308.1 247.4 288.3 247.5 254 247.6 286.2 248 291.9 248.1 402.4 248.1 342.5 248.4 517 248.8 494 248.9 388.1 249.1 358.2 249.5 572.3 249.3 538.3 249.7 448.6 249.8 287.9 250.1 365.9 250.3 293.9 250.4 332.3 250.7 405.4 251 288.1 251 248.8 251.4 271.7 251.4 398.8 251.6 364 252 395.2 252.1 351 252.1 409.2 252.5 179.5 252.6 567.3 252.9 539.6 253.2 513.2 253.2 537 253.3 389.5 253.6 452.3 253.8 534.2 254 517.1 254.3 544.1 254.5 419.2 254.6 393.4 254.7 301.5 255 377.3 255.4 379.2 255.5 410.4 255.7 450.3 255.9 575.2 256 452.6 256.2 442 256.5 452.2 256.7 377.6 257 414 256.5 86.3 257.4 317.6 257.5 309.7 257.5 390.6 257.8 337.1 258.1 349.7 258.1 343 258.6 335.6 258.6 328.4 258.7 363.3 259 441.8 259.5 572.3 259.3 425.3 259.5 386.2 259.9 422 259.9 429.3 260.3 442.1 260.4 443.9 260.8 405.3 261 377.1 261.1 347.5 261.3 557 261.6 574.3 261.7 492.9 261.9 500.6 262.2 255.1 262.4 295 262.6 220.9 262.8 398.3 262.9 468.1 263.1 377.1 263.3 466.6 263.4 381 263.7 371.9 263.9 418.2 264 488.4 264.3 369.1 264.6 503.9 264.6 450 264.8 438.2 264.9 454.4 265.3 498.4 265.4 419 265.7 331.9 265.8 385.2 266.1 353.4 266.2 544.3 266.4 421.9 266.7 493.9 266.9 327 266.5 590.7 267.2 401.2 267.4 513.5 267.8 443.2 268 311.9 268 312.9 268.2 394.4 268.4 404.7 268.6 329.7 268.8 379.5 269.1 277.9 269.2 295.8 269.3 502 269.8 296.6 269.9 426 270 337.8 270.4 394.8 270.3 368.7 270.7 387.2 270.8 395.7 271 346.5 271.1 368.8 271.5 422.2 271.6 432.2 271.7 479.1 272.1 334.1 272.3 212.6 272.5 374.7 272.7 393.2 273 279.8 273 337.4 273.2 431.6 273.6 273.6 273.7 497.9 274 317.7 274.2 532.7 274.4 579.8 274.4 469 274.8 486.4 275 348.6 275 419.6 275.5 175.4 275.3 426.1 275.5 273 276 372.6 276.1 395.2 276.4 299 276.5 414.8 276.5 477.8 276.8 470.9 277.1 386.1 277.3 313.6 277.4 300.7 277.7 392.3 277.8 476.8 278 470.2 278.2 589.9 278.4 470.4 278.6 501.9 278.7 461 279.1 542.6 279.5 653 279.3 504.3 279.7 246.1 280 293.4 280.1 219.9 280.4 333.6 280.4 263.2 280.7 256.3 280.9 236.9 281.1 285.5 281.1 389.1 281.3 346.3 281.6 426.7 281.9 342.9 282.1 370.9 282.1 450 282.5 455.6 282.6 329.1 282.9 320.3 283.1 425.3 283.2 385.9 283.5 382.2 283.8 468.4 283.8 383 284.2 489.3 284.2 282.4 284.6 268.5 284.6 447.3 284.8 353.9 284.9 372.8 285.3 309 285.5 398.8 285.7 494.7 285.9 509.9 286 513.8 286.2 384.6 286.3 374.5 286.5 347.1 287 412.8 287.2 357.6 287.3 391.4 287.5 427.5 287.5 405.4 287.9 446.4 288.1 279.9 288.1 416 288.4 299.3 288.7 519.3 288.8 533.7 288.9 475.2 289.3 536.1 289.5 336.6 289.5 653.7 289.8 375.5 290 379.5 290.3 287.9 290.5 323.5 290.6 331.4 290.9 432.8 291.1 370.4 291.4 227.3 291.4 310.7 291.7 337.2 291.8 363.1 292.1 289.1 292.3 312.9 292.4 434.5 292.6 461.4 292.8 520.3 293.2 452.5 293.5 583.8 293.5 358.8 293.7 267 293.8 225.9 293.9 341.3 294.1 372.8 294.3 511.8 294.5 324.4 294.8 422.8 295 458.2 295.4 432.9 295.5 443.8 295.6 353.1 295.9 469.3 296.1 334.5 296.1 357.9 296.5 467.1 296.6 482.2 297 381.8 297.1 278.4 297.4 378.6 297.3 385.6 297.7 289.3 297.8 237.8 298.1 383.8 298.1 336.2 298.6 442.8 298.7 396.5 298.9 324.8 298.9 222.1 299.2 398.9 299.3 337.5 299.8 278 300 315.6 300.1 487.3 300.3 520.8 300.4 434.2 300.7 479 300.9 330.2 301 372.8 301.4 333.1 301.4 478.1 301.8 371.9 301.9 253.3 302 335.4 302.3 449.2 302.5 491.6 302.6 393.1 302.8 372.8 302.9 289.1 303.1 375 303.5 370.7 303.5 300.4 303.7 342.6 304 334.1 304.3 479.4 304.4 503.8 304.8 266.6 304.9 322.1 305.1 410.5 305.2 355 305.4 393.9 305.8 398.6 305.8 400.3 306 444.3 306.3 466.5 306.3 470.3 306.6 448.9 306.9 403.4 307 287.4 307.2 367.2 307.3 496.6 307.5 446.3 307.8 424.9 308.2 483.8 308.1 430.3 308.5 535.8 308.8 424.2 308.8 267.1 309.2 440.5 309.3 447.9 309.4 307.9 309.6 430.3 309.7 434.5 310.2 363.3 310.3 351.2 310.3 413.8 310.6 409.7 310.8 535.9 310.9 536 311.4 359.1 311.4 457.8 311.7 449.1 311.8 521.4 311.5 145.7 312.4 432.5 312.5 329.7 312.5 586.8 313 408 313.2 411.2 313.2 424.7 313.5 375 313.7 376.5 313.8 471.3 314.2 475.5 314.2 294.4 314.4 424.7 314.6 366.2 314.7 476.6 315 424.6 315.2 429.2 315.4 407.9 315.7 372.3 315.7 385.5 316 554.7 316.3 448.6 316.5 453.1 316.8 328.1 316.8 509.2 316.9 352.4 317.2 413.7 317.4 427.1 317.8 574.2 317.9 440.2 318.2 278.7 318.3 325.1 318.6 264.5 318.7 378.8 318.8 237.2 319 371.8 319.2 359.8 319.5 403.3 319.7 317.7 320 270.5 319.5 93.2 320.3 401.3 320.6 533.2 320.5 472.5 320.8 473.3 320.9 331.3 321.1 241.4 321.5 338.7 321.6 349.9 321.9 401.6 322.2 333.4 322.3 344.3 322.6 452.9 322.6 435.1 322.8 327.6 323.1 445.2 323.1 283.6 323.5 333.1 323.7 382.1 323.8 455.2 324.2 584.3 324.2 529.7 324.4 550.3 324.6 501.4 325 396.5 325 514.8 325.1 460.6 325.4 469.5 325.6 386.9 325.9 304.6 326.1 400.7 326.2 444.6 326.4 292.5 326.7 310.6 326.8 352.9 327 313.3 327.1 371.6 327.3 329.9 327.8 276.6 327.9 294.2 327.9 313.5 328.2 407.3 328.4 442.3 328.6 384.9 328.9 510.7 329.2 473.5 329.3 506 329.3 383.6 329.6 317.6 329.9 403.3 330.1 433.9 330.1 522.2 330.5 568.4 330.8 344.3 330.7 291.8 331 300.5 331.4 275.1 331.5 408.7 331.7 319 331.5 124.7 332 459.7 332.3 320.9 332.4 385.7 332.6 440.4 333 349.3 333 420.6 333.3 463.7 333.5 509.4 333.8 450.3 333.8 365.2 334 279.5 334.2 345.1 334.5 437.1 334.6 357.9 334.9 259.9 335.2 344.6 335.3 443.2 335.4 453.4 335.6 346 335.8 255.8 336 255.7 336.3 369.6 336.6 407.4 336.7 465.7 336.8 445 336.9 272.1 337.2 396.9 337.3 414.3 337.8 407.9 337.8 278.9 338.1 356.7 338.4 515 338.5 341.3 338.6 243.4 339 362.2 339.2 373.7 339.2 346.5 339.6 547.7 339.5 526.6 339.8 336.8 340.1 311.5 340.3 329.1 340.6 314 340.5 314.2 340.9 292.4 341.1 516 341.1 507 341.4 353.7 341.6 310 341.7 403.3 342.1 307.2 342.1 487.1 342.6 461.4 342.7 455.6 342.9 460.4 343 544.1 343.3 360.6 343.5 322.6 343.5 289.4 344 362.4 344 320.2 344.2 460.3 344.5 378.9 344.7 428.5 344.9 287.7 345.1 420.1 345.4 369.5 345.5 393.4 345.7 485.9 345.9 345.2 345.9 359.2 346.4 331.7 346.6 501.4 346.7 490 346.9 435.4 347.1 311.2 347.2 423.2 347.6 327.8 347.8 362.9 347.7 409.8 348.2 522.2 348.3 433.3 348.4 382.5 348.6 355.1 348.7 438.4 349.2 451.6 349.2 261.9 349.6 324.1 349.8 375.5 349.9 487.6 350.2 447.9 350.3 433.1 350.6 480.8 350.8 446.2 350.7 477.8 351.1 341.9 351.2 386.9 351.5 496.8 351.7 461.3 351.7 367.9 352.1 324.1 352.2 362.4 352.6 372.9 352.7 302.2 353 321.8 353 268.1 353.1 408.9 353.6 421.2 353.8 284.8 353.8 255 354.1 241.9 354.1 380.7 354.5 299.3 354.7 228.6 354.9 384.4 355.1 366.5 355.4 403.9 355.3 399.4 355.8 247.1 355.8 196.5 356.1 297.9 356.2 336.5 356.6 514.6 356.7 530.7 357 430.1 356.9 290.7 357.4 344.7 357.6 341.4 357.6 326.3 358 278.7 358.2 341.6 358.3 291.9 358.5 273.4 358.6 358 358.8 290 359 456 359.2 422.4 359.4 286.7 359.6 318.7 360 420.2 360 465.2 360.3 524 360.6 368.1 360.6 415.3 360.8 259.7 361.1 270.6 361.3 351.9 361.3 330.6 361.8 365.9 361.8 364.1 362 316.7 362.3 324.4 362.5 328.9 362.5 363 362.9 283.1 363.2 431.2 363.3 509.6 363.5 488.8 363.5 340.7 363.7 244 364.2 504.2 364.2 443.2 364.3 460.5 364.6 421 364.5 605.7 365.1 396.7 365.2 434 365.6 501.5 365.6 513.9 365.8 456.8 366.1 451.4 366.2 514.3 366.3 499 366.7 377.1 366.7 368 367 454.2 367.3 509.5 367.4 344.8 367.7 406.8 368 503.5 367.9 428.9 368.2 485.3 368.3 482.1 368.5 367.1 369 372 369 417.3 369.1 267.9 369.4 328.2 369.7 404.9 369.7 559 370.2 446.9 370.4 530.8 370.6 369.8 370.5 431.3 370.9 413.4 371 583.7 371.4 495.6 371.3 559.9 371.8 573.1 372 409 372.2 485.7 372.1 451.9 372.3 355.7 372.6 271.2 372.5 596.5 373 467.2 373.3 438.7 373.3 407.4 373.6 311.3 373.8 317.8 374.2 373.1 374.2 440.3 374.3 468 374.6 272.5 374.9 434.9 375 413.1 375.1 409.6 375.4 390.1 375.7 411.6 375.8 385 376.2 409.4 376.2 322 376.4 427.8 376.7 494.4 376.7 413 377.1 294.4 377.1 409 377.6 408 377.8 431.3 377.8 429.9 377.9 310 378.3 301.5 378.5 322.2 378.6 359.8 378.7 469 378.9 413.5 379.2 471 379.5 425.9 379.7 393.9 379.5 579.2 379.9 341.6 380.2 471.4 380.5 361.7 380.8 452.5 380.9 502.1 380.9 366.5 381.5 196.6 381.3 458.2 381.7 392.7 382 562.6 381.9 475.4 382.5 187 382.5 438.6 382.6 469.6 382.9 428.7 383.1 539.8 383.2 474 383.6 382.1 383.7 334.5 383.8 295.9 384.2 485.6 384.3 486.6 384.6 490.1 384.7 413.4 384.8 448.7 385 347.4 385.4 385.8 385.4 456.6 385.5 422.6 385.9 314.7 386.1 406.3 386.2 302 386.5 331.4 386.5 579.2 386.9 347.8 387 358.8 387.1 401.3 387.5 347.9 387.7 408.8 387.7 422.4 388 329.7 388.1 358.1 388.5 435.8 388.6 348.1 388.8 419.6 389.1 506.2 389.3 389.7 389.4 360.1 389.6 359.9 390 320.7 390.2 358.2 390.4 265.4 390.4 403.3 390.5 326.6 391 519 391 430.9 391.3 334.7 391.4 313.2 391.6 411.8 391.8 471.9 392 402.5 392.3 468.7 392.3 511.9 392.5 470.9 392.9 372.9 393 408.9 393.2 404.7 393.4 298.6 393.7 279.3 394 416.1 394 295 394.4 375.4 394.5 373.5 394.7 441.5 394.9 414.1 395.2 318.2 395.3 415.1 395.5 476.4 395.7 378.2 395.5 628.8 396 408.8 396.2 415.5 396.6 288.5 396.8 366.9 397 368 397.2 379.6 397.2 427.9 397.3 337.6 397.7 389 397.7 299.9 397.9 449.3 398.3 496.4 398.4 462.8 398.5 260.1 398.7 322.2 399 417.2 399.2 352.8 399.3 491.1 399.7 507.6 400 551.8 400.1 352.5 400.3 421.1 400.5 598.8 400.5 484.5 401 565.4 400.9 538.1 401.4 543.8 401.4 494.2 401.8 496.9 401.7 449.7 401.9 512.1 402.2 381.1 402.4 321.1 402.7 395 402.9 445.8 403.1 521.4 403.3 458 403.5 487.7 403.7 450.4 403.8 417.3 404 261.1 404.2 460.3 404.5 280.2 404.5 289.3 404.8 341.4 405.1 288.8 405.3 367.7 405.4 447.4 405.8 457.3 405.9 498.5 406 409.4 406.5 598.8 406.6 383.6 406.6 441.8 406.8 323.2 406.9 333.1 407.2 392.9 407.4 413.2 407.7 380.2 407.7 408.5 408.1 379.6 408.1 557.6 408.6 567.3 408.8 447.8 408.7 427.4 409.1 480.4 409.3 411.8 409.6 387 409.6 424 409.8 472 410.2 512.7 410.2 363 410.4 514.3 410.7 476.3 410.9 484.3 411.1 344.9 411.4 463.7 411.5 480.6 411.5 436.2 412 346.6 412.1 537.4 412.1 445.8 412.5 322.6 412.6 310 412.7 304.2 413.2 247 413.3 206.2 413.4 339.1 413.6 334.2 413.9 283.1 413.9 258.7 414.2 370.8 414.6 336.5 414.6 383.6 414.8 409.2 415.2 248.8 415.2 389.3 415.4 380.5 415.5 373.7 415.9 528.9 416 483 416.2 363.2 416.6 436.5 416.7 385.8 417 506.3 417 464.5 417.3 450.7 417.4 511.5 417.8 310.4 417.5 655.3 417.9 402.5 418.2 436.5 418.6 418.4 418.6 373.8 418.9 465.7 419.2 415.5 419.4 318.7 419.4 344 419.6 392.2 419.8 369.7 420 400.2 420.2 392 420.4 458.7 420.8 293.6 420.7 311.1 420.9 465.3 421.4 476.8 421.5 538.8 421.7 470.9 422 517.6 422.1 363.9 422.2 310.7 422.6 500.1 422.6 399.1 422.8 371.2 423.1 450.4 423.2 377.2 423.4 290.1 423.7 340.6 423.8 338.9 424.2 379.3 424.1 410.4 424.4 403 424.8 383.5 424.9 316.6 425.2 394 425.2 485.4 425.5 422.4 425.8 469.5 425.8 483 426 423.9 426.2 408.4 426.4 415.2 426.7 508.3 426.7 400.6 426.5 559.6 427.3 416.3 427.3 429 427.7 341.5 428 457.7 428.1 393.7 428.2 520.2 428.4 486.8 428.7 309.3 428.8 410.6 429.2 465.5 429.4 435.3 429.5 497 429.5 487 430 396.8 430 378.1 430.1 580.2 430.5 354.5 430.6 342.7 431 516.7 431.1 491.6 431.3 414.6 431.5 420.3 431.6 273.8 431.9 257.8 432.1 300 432.3 492.6 432.5 355.1 432.7 442.1 433 405.7 432.9 369.2 433.4 356.2 433.4 348.6 433.6 449.4 433.7 399.7 434.2 355.8 434.4 449 434.6 311.1 434.6 295.9 434.8 361.2 435 307.2 435.5 680 435.5 191.5 435.5 417.1 435.7 439 435.9 379.1 436.1 411.6 436.4 415.8 436.5 391.7 436.5 559.6 437.1 488.2 437.4 465.5 437.6 506.5 437.7 446.4 437.7 534 437.9 474.3 438.2 379.1 438.4 566.6 438.8 313.5 438.5 154.5 439 496.3 439.2 420.9 439.3 472.3 439.5 356 439.9 521.9 440.1 465.7 440.2 418.4 440.4 442.6 440.6 411.5 441 528.5 441 517 441.2 420.1 441.4 451 441.5 397.8 441.8 468.1 442 506.4 442.3 476.2 442.4 461.1 442.5 429 442.9 446.3 443.1 499.6 443.3 587.4 443.5 509.3 443.7 503.1 443.9 508.7 443.9 442.3 444.2 332.2 444.4 498 444.7 326.1 445 311 445.1 334.4 445.3 315.3 445.4 423.1 445.7 422.9 446 336.8 446 372.9 446.3 323.4 446.5 352.1 446.8 295.9 446.8 222.4 446.9 270.2 447.3 200.9 447.6 304.2 447.5 328.8 447.9 244.1 448 217.3 448.5 643.8 448.6 478.9 448.5 377.4 448.8 355.3 449.2 489.9 449.3 240.7 449.6 380.4 449.5 428 449.9 487.8 450.2 409 450.3 350.9 450.5 243.8 450.6 365.3 450.8 287.9 451.1 381.5 451.1 271.9 451.4 345.5 451.7 408.6 451.9 399.5 452.2 545.7 452.3 329.2 452.3 320.7 452.8 448.4 452.8 321.2 452.9 288.6 453.3 311.4 453.5 265.9 453.6 311.3 453.8 461.3 454 373.6 454.4 341.1 454.4 279.8 454.8 450 454.8 336.3 455.1 417.4 455.4 422.1 455.5 612.7 455.7 445.5 455.9 355.2 456 377.2 456.2 455.9 456.6 249.4 456.6 375.9 456.8 375.7 457 510.8 457.2 488.3 457.3 428.9 457.7 338.6 457.7 249.6 458.1 324.5 458.3 401.6 458.4 462.6 458.6 530.5 459 387.3 458.9 465.5 459.1 492 459.6 521.8 459.8 437.5 459.8 291.9 460.1 378.9 460.2 293.3 460.4 295.2 460.7 277.6 460.9 502.1 460.9 286.9 461.2 330.9 461.3 287.4 461.6 279.3 461.8 269.4 462.1 272.3 462.1 339.2 462.6 248.5 462.7 338.9 462.9 411 463 359.4 463.1 312.7 463.6 368.8 463.6 453.9 463.8 474.7 464.2 398.6 464.3 318.9 464.4 434.5 464.7 422.1 464.9 475.9 465.2 504.6 465.3 528.9 465.5 423.5 465.5 482.4 465.8 481.6 466.1 350.7 466.2 493.4 466.6 381.8 466.6 333 467 287 467.1 463.3 467.1 346.6 467.5 351.7 467.5 265.1 467.5 181 467.9 338.1 468.4 233.7 468.3 413.7 468.8 328.5 469 414.7 469.1 393.7 469.4 285.7 469.3 471.9 469.7 266.1 469.7 335.1 470.1 362 470.2 264 470.4 260 470.6 328.9 470.9 354.9 471.1 384.7 471.4 354.5 471.5 508.1 471.7 409.9 471.7 497.2 472.1 504.9 472.4 443.9 472.5 388.4 472.7 476.7 472.7 489.6 473.1 383 473.1 284 473.5 238 473.8 362 473.9 401.8 474.1 411.1 474.4 348.6 474.5 476.7 474.6 532.2 475 307.2 475 284.5 475.1 303.8 475.4 389.5 475.5 224 475.9 376.7 476 439.5 476.1 376.7 476.5 311.1 476.6 281.2 477 322.8 477.2 336.9 477.2 358.1 477.4 353.4 477.6 433.4 477.9 265.9 478 456.1 478.3 498.5 478.4 560.6 478.7 451.2 478.9 400.6 479.2 335.6 479.2 326.8 479.6 319.1 479.5 440.3 479.8 426.1 480 422.9 480.1 300 480.5 348.2 480.6 253 480.7 312.9 481.2 306.4 481.2 447.6 481.3 263 481.5 129.8 481.7 252.3 482.1 379.8 482.2 492.8 482.5 364.9 482.6 353.8 482.8 293.8 482.9 284.7 483.5 573.4 483.6 499.1 483.7 414.1 483.8 509 484 408.1 484.4 226.8 484.3 334.6 484.7 327.6 484.8 437 485.2 359.1 485.4 368.6 485.6 463.4 485.6 447.6 485.5 171.4 486 293.6 486.1 349.8 486.4 281.3 486.8 374.5 486.8 512 487 517.6 487.3 523.8 487.5 395.5 487.5 481.5 487.9 282.2 488.1 243.6 488.3 346.2 488.5 565.8 488.7 561.1 488.8 510.8 489 417.1 489.3 433.1 489.4 470.2 489.8 422.5 489.5 202.7 490.2 488 490.4 540.7 490.6 437.9 490.5 382.7 491 228 491.1 305.3 491.4 415.2 491.5 487.1 491.7 385.4 491.9 409.9 492.2 384.5 492.2 358.3 492.3 469.2 492.6 496.1 492.9 354.4 492.9 457.5 493.3 313.4 493.6 332 493.6 256.2 493.8 428.9 494.1 263.8 494.1 230.6 494.5 234.8 494.7 245.7 494.9 383 494.9 502.8 495.2 464.9 495.3 418.2 495.7 521.5 496 431.6 496 453.4 496.2 521.3 496.3 488.8 496.6 410.8 496.9 490.3 497.1 376.3 497.1 332.6 497.5 340.3 497.6 321.9 497.7 460.2 498 543.4 498.4 507 498.6 498.3 498.7 511.8 498.7 337.8 499.2 545.2 499.3 530.2 499.4 453.3 499.6 506.3 499.7 498.4 500.2 520.1 500.3 526.1 500.5 459.3 500.6 297.2 500.9 357.7 501 330.8 501.1 288.6 501.3 296.6 501.6 386.9 501.8 461.5 502.1 315.9 502.3 344.9 502.4 313 502.7 389 502.8 365.7 503.1 333.3 503.3 390.9 503.3 414 503.7 416.9 503.7 405 504 306.8 504.2 202.9 504.6 409.2 504.6 324.8 504.8 273.7 505 510.7 505.3 439.4 505.5 390 505.7 278.2 505.8 418.6 506.1 303.9 506.3 339.3 506.5 352.4 506.6 285.4 506.9 398.6 507.1 551 507.3 278.1 507.5 428.3 507.6 420.3 507.7 444.4 507.9 446.8 508.3 505.9 508.4 423.8 508.6 413.6 508.9 280.2 508.9 550.5 509.4 477.6 509.5 203.8 509.6 342 509.9 354.6 510.2 403.5 510.1 308.2 510.3 235.6 510.7 302.2 510.8 412.4 511.1 379.3 511.4 268.3 511.4 346.8 511.5 563.8 512 395.9 512 370.3 512.3 352.8 512.3 292.3 512.7 277.4 513 325.2 513 262.1 513.1 284.8 513.5 486.8 513.7 371.5 513.8 428.4 514.2 494.5 514.2 401.1 514.4 504.5 514.5 460.6 514.9 383.2 515 419.6 515.1 290.4 515.5 396.5 515.6 353.7 516 435.8 515.9 254.2 516.4 329.8 516.3 409.2 516.5 344.3 516.9 443.6 517.2 432.6 517.3 440.8 517.6 319.3 517.6 314.7 517.9 384.3 518 411.7 518.5 579.2 518.5 357.5 518.8 335.5 518.8 406.9 519.1 317.6 519.1 321 519.5 271.5 519.6 451.5 519.9 402.5 520 493.8 520.3 277.1 520.5 475.8 520.5 471.2 520.8 425 521.1 390.4 521.3 466.2 521.6 388 521.6 322.2 521.9 510.1 521.9 520.6 522.3 449.7 522.3 314.8 522.7 408.6 522.8 285.6 523.1 436.7 523.2 380.9 523.5 458.4 523.8 417.8 523.9 495.8 523.5 193.9 524.2 447.8 524.6 426.2 524.7 371.2 524.9 385.5 525 237.9 525.2 263.9 525.6 217.5 525.5 168.4 525.9 289.5 526.1 510.3 526.1 454.2 526.5 468.8 526.7 373.7 526.8 339.5 527 363.9 527.3 345.6 527.4 474.3 527.5 351.3 527.8 393.6 528.1 503.3 528.2 277.2 528.5 561.2 528.7 322.2 528.7 456.4 528.9 482.1 529.3 322 529.4 459.1 529.6 421.7 529.9 329.7 530 335.9 530.3 467.1 530.5 372 530.7 499.7 530.9 478.8 531.1 301.2 531.3 445 531.6 455.4 531.6 371.9 532 487.4 532.2 341.5 532.1 227.7 532.6 391.2 532.8 521.7 532.8 443.3 533.1 300.4 533.2 262 533.4 409.4 533.8 281.7 533.9 476.8 534 500.9 534.3 476.3 534.4 491.3 534.8 449.8 534.9 477.4 534.9 399.6 535.3 519 535.5 436.6 535.6 314 536 291.4 536 353 536.3 441.5 536.4 489.3 536.5 459 536.8 497.8 537.1 545.3 537.4 543.7 537.3 407.1 537.6 524.9 538 560.5 538 438 538.4 368.9 538.5 311.4 538.5 422.1 538.9 478.8 539 532.6 539.2 479 539.4 527.2 539.7 523.3 539.9 469.1 540.1 363.3 540.3 410.9 540.5 263.2 540.7 252.1 540.9 328 541.1 302.8 541.3 371.3 541.3 381.4 541.8 314.8 541.8 413.9 541.9 508.1 542.4 461.4 542.4 451.9 542.7 462.1 542.7 337.8 543.1 395.4 543.3 352.8 543.5 575 543.6 301.9 543.9 435.4 543.9 462.9 544.1 444 544.3 330.8 544.7 329.6 544.7 338.9 545 326.5 545.3 294.4 545.5 312.3 545.6 460.9 545.9 473.8 545.9 455.6 546.3 299 546.5 192.2 546.8 372.2 546.8 377.5 547.1 400.5 547.3 412.2 547.6 352.9 547.8 466.1 547.9 411.6 548.2 477.5 548.3 453.4 548.4 466.5 548.7 342.3 548.5 180.7 549 331.4 549.3 349.3 549.5 272.1 549.5 235.1 549.8 242.6 550 426.2 550.4 406.1 550.5 576.2 550.5 388.2 550.7 307.1 551 356.9 551.3 282.2 551.3 301.6 551.5 455.3 551.9 419.5 552 436.7 552.2 297.6 552.6 313.8 552.7 241.6 552.9 337.4 553.1 375 553.4 420.7 553.3 443.8 553.7 316.3 553.8 337.9 554.1 357.7 554.2 521.5 554.5 463.1 554.6 560.6 554.8 444.4 555.1 345.4 555.3 284.4 555.3 508.4 555.5 353.6 555.7 391.5 556.1 276.5 556.4 347 556.5 447.2 556.5 371.4 557 450.4 557 326.4 557.3 466.2 557.4 510.6 557.7 581 557.9 546.9 558 389.8 558.3 430.8 558.3 454.5 558.7 480.9 558.9 401 559 409.8 559.2 349.3 559.6 439.2 559.5 510.6 559.9 301.4 560 277.2 560.2 414 560.6 456.2 560.6 459.9 560.9 287.8 561.1 309.2 561.1 428 561.6 366.5 561.6 371.4 561.9 422.4 562 345.7 562.3 452.5 562.6 473.5 562.5 298.4 562.9 471.4 562.9 333 563.1 254 563.3 425.1 563.5 436.6 563.9 292.9 564.1 326.3 564.1 399.5 564.3 290.9 564.7 230.5 565 301.1 565.2 281.8 565.5 196.4 565.4 557.4 565.7 464.6 565.8 537.8 566.1 381.1 566.1 435 566.5 464.3 566.7 403.6 566.7 337.5 567.1 372.3 567.3 493.6 567.3 342.9 567.7 343.9 567.8 414.2 567.9 428.8 568.3 325 568.5 436.4 568.6 403 568.9 443.8 568.9 536.4 569.4 477 569.6 418.9 569.7 298.9 569.8 370.9 570 376.5 570.2 416.1 570.4 345.3 570.5 204.9 570.9 239.9 571.2 327.5 571.1 328.8 571.6 351.8 571.5 573.4 571.9 515.6 572 344.4 572.4 416 572.6 357.2 572.6 424.4 572.9 269 573 242.6 573.2 378.9 573.6 425.7 573.7 528.1 573.9 472.3 573.9 375.2 574.3 284.7 574.4 297.9 574.6 312.6 574.8 306.2 575.1 265.9 575.5 565 575.6 261.4 575.7 365.3 575.8 407 576.1 377.2 576.3 330.6 576.5 484.4 576.8 331.1 576.9 357.1 577.1 340.3 577.2 351.5 577.5 373.2 577.5 333.2 578 454.1 578 334 578.2 507.6 578.3 378.9 578.7 363.3 578.7 237.6 578.9 291.1 579.2 484.3 579.5 390.7 579.6 370.1 579.8 421.1 580 490.1 580.3 417.5 580.3 270.8 580.7 357.9 580.9 439 581 421.8 581.2 441.7 581.4 333.3 581.8 410.6 581.8 533.6 582.1 433.2 582.2 344.1 582.5 495.3 582.7 379.5 582.8 481.8 583.1 403.2 583.3 465 583.5 392.4 583.6 239.1 583.8 351 584.2 349.9 584.2 415.6 584.5 445.3 584.8 314.3 584.9 321.9 585 296.2 585.2 258 585.3 347.1 585.6 315.3 585.9 403.1 585.9 495.1 586.1 340.9 586.6 359.4 586.7 375.6 586.7 339.3 587.1 408 587.2 421.6 587.4 390.7 587.6 314.3 587.9 352.7 588.2 239.6 588.5 609.2 588.5 507.5 588.5 513 588.8 437.5 589.1 486.5 589.1 383.8 589.4 394.7 589.5 407.9 589.8 354.7 590.2 329 590.2 333.2 590.4 439 590.6 465.7 591 357 591.2 276.6 591.3 218.3 591.5 254.7 591.7 352.9 592 406 592 443.8 592.2 348.4 592.4 235.9 592.6 308.2 592.9 403.8 593 503.5 593.1 535.5 593.6 541.4 593.5 396.2 593.8 302.6 594.1 320.6 594.2 310.2 594.5 411.9 594.7 416.1 594.9 499.2 595.1 475.2 595.2 556.7 595.6 545.4 595.6 516.2 595.8 435.3 596.2 458.7 596.2 407.5 596.3 424.4 596.7 341.9 596.8 285.8 597 331.7 597.3 351 597.5 195.7 597.7 546.2 597.8 524.2 598.1 470.5 598.3 439 598.6 369.3 598.7 275.8 598.7 344 599.1 519.8 599.3 404.8 599.5 289 599.7 401.1 599.9 281.4 600.2 276.5 600.4 317.4 600.5 348.1 600.7 402.1 600.9 417.3 601.1 493.9 601.2 357.2 601.3 311.9 601.8 383.8 601.8 384.5 602.1 481.3 602.5 195.7 602.3 420 602.7 323.3 602.9 353.7 603.1 504.6 603.1 513.3 603.5 370 603.6 436.2 603.8 514.1 604.1 503.9 604.3 500.2 604.3 325.3 604.6 311.9 604.9 329.5 605.1 409.3 605.4 298.3 605.5 574.6 605.5 480.9 605.9 293.7 606.1 268.1 606.3 233.6 606.6 327.4 606.5 361.7 607 368.6 607.1 451.2 607.3 478.9 607.5 516.1 607.7 410.6 607.5 195 608.1 453.7 608.2 333.5 608.3 279 608.7 343.2 608.7 297.4 609 243.6 609.4 291.7 609.4 381.8 609.7 303.1 610 359.2 610 384.1 610.2 502.4 610.4 483.2 610.7 329 610.8 380.6 611.1 423.7 611.2 520.4 611.4 414.1 611.8 458.8 612 340.6 612.2 448.8 612.2 499.2 612.5 152.6 612.8 301.2 612.8 330.6 613.1 418.6 613.4 534.5 613.4 483.8 613.8 277.1 613.8 293.1 614 354.2 614.2 362.1 614.5 275.7 614.7 230.8 614.8 411.2 615 514.2 615.3 262.9 615.5 333 615.7 317.3 615.8 247.4 615.9 327 616.1 511.3 616.5 346.5 616.7 314.7 617 432 617 427.2 617.3 448.6 617.5 330.8 617.5 250.5 617.8 457.5 618.2 359.3 618.2 403.6 618.4 392.4 618.7 438.3 619 429.8 619 399.1 619.3 531.9 619.3 336 619.7 362.9 619.9 437.1 620.1 495 620.2 347.1 620.5 330.4 620.6 449.3 620.8 449.9 620.9 370.7 621.4 457.5 621.3 303.9 621.5 187.7 622 265.9 622 384.6 622.2 439.7 622.5 136.4 622.8 447.3 622.8 428.6 623.1 383.9 623.3 336.5 623.4 418.7 623.7 345 623.8 238.4 624.1 368.6 624.1 401.5 624.4 381.6 624.7 452.5 625 284.3 625.2 526.9 625.2 321.3 625.4 372.5 625.6 460.1 625.8 444.4 626 475.8 626.2 425.2 626.5 568.1 626.7 418.2 626.9 447.8 627.1 443.7 627.4 393.9 627.5 360.5 627.7 489.2 627.8 411.9 628 308.9 628.2 287.7 628.5 203.8 628.7 321.2 628.9 320 629.1 319.7 629.2 331.3 629.5 280.8 629.6 256.8 629.9 344.1 629.9 432.2 630.1 482.2 630.4 433.2 630.8 493.8 630.9 457 631 492.2 631.3 380.8 631.5 379.9 631.6 424.1 632 449.3 632.2 470 632.3 396.7 632.4 350.1 632.8 552.3 632.9 536.6 633.1 452.3 633.3 355.9 633.6 271.5 633.7 297.9 633.9 238.7 634 338.7 634.4 430.7 634.4 357.7 634.7 407.7 634.8 315.4 634.5 162.7 635.2 500.7 635.6 395.9 635.8 313.9 635.7 460.4 635.9 362.9 636.1 292.4 636.5 299.1 636.6 277.5 636.7 274.1 637 327.6 637.4 457.6 637.5 462.8 637.7 424.8 638 381.8 638.2 493.8 638.3 435.2 638.6 346 638.7 442.8 638.9 302.6 639 366.1 639.2 431.1 639.4 510 639.8 470.7 640 376.5 640.2 349 640.2 322.1 640.5 280.1 640.5 282.4 641 377.6 641 280.4 641.4 270.8 641.5 252.7 641.6 319.5 641.7 419.1 642 524.3 642.3 476.4 642.4 331.3 642.7 331.7 642.8 429.2 643.1 537 643.2 528.9 643.6 452.5 643.7 482.8 643.8 436.3 643.9 337.5 644.3 423.2 644.4 439.7 644.7 275.7 644.7 426.3 645.1 395.9 645.4 370.2 645.4 378.2 645.7 469.5 645.5 191.6 645.9 491.6 646.2 390.2 646.4 358.7 646.7 327 647 444 646.9 555.1 647.3 484.8 647.4 299.3 647.5 267.6 647.7 374.1 648.1 331.4 648.2 469.1 648.5 426.2 648.8 355.5 648.8 431.8 649.1 366.8 649.4 425.3 649.3 305.9 649.8 372 649.8 481.4 650 417.8 650.2 291.5 650.4 290.5 650.8 376.9 650.7 299.3 651.1 353 651.3 473.6 651.4 437.2 651.6 488.6 651.9 322.4 652.2 294.7 652.2 426.5 652.3 314.2 652.7 312.6 652.8 285.7 653 297.3 653.1 292.6 653.5 281.7 653.6 240.4 654 371.6 654.1 513.8 654.4 441.7 654.6 490.9 654.7 346.8 655 381.2 655.2 308.1 655.2 298.1 655.5 605.3 655.6 308.7 656 284.8 655.9 361.1 656.3 336.6 656.4 263.7 656.5 200.1 656.9 399.1 657 210.1 657.1 328.5 657.4 316.3 657.6 317.1 657.8 353.3 658 340.7 658.3 424.9 658.4 319.9 658.7 370.1 659 554.4 658.9 454.3 659.3 347.8 659.5 444.5 659.6 484.2 659.8 432.4 660 427.5 660.2 340.3 660.3 440.5 660.7 520.8 660.8 281.9 660.9 230.6 661.3 276.8 661.4 327.4 661.7 425.5 661.9 340 662.2 368.4 662.4 341 662.4 353.2 662.6 472 662.9 365.2 663 480.7 663.3 533.8 663.3 322.3 663.5 302.1 663.8 333.3 664.1 426 664.4 447 664.4 462.8 664.6 355.8 664.7 339.7 664.9 289 665.2 319.3 665.5 317.1 665.6 339.2 665.8 566.6 665.9 421.2 666.2 481.4 666.6 512.9 666.6 464.3 666.9 366 667.1 535.4 667.2 430.8 667.5 417.7 667.6 416.5 667.8 477.7 668.1 387.6 668.1 380 668.5 344.1 668.7 399 668.8 413.2 669 409.5 669.3 482.4 669.5 449.5 669.5 451.4 669.9 340 669.9 355.1 670.3 451.6 670.5 339.5 670.8 225.9 670.7 459.5 670.9 416.6 671.2 375.9 671.4 421.8 671.6 374.9 671.8 469 671.9 506.1 672.2 489.4 672.5 575 672.5 297 673 335.9 673.1 265.4 673.2 329.7 673.4 515.5 673.6 503.8 673.9 494.3 674.1 508.7 674.3 414 674.6 414.7 674.7 528.8 674.7 360.3 675 386.5 675.2 413.3 675.5 414.1 675.6 331.8 675.9 430.9 676 359.3 676.4 256.8 676.4 378 676.6 331.2 676.8 430.7 677.2 198.7 677.4 337.9 677.4 352.1 677.5 319.3 677.9 402 678.1 491.1 678.4 380.1 678.5 523.8 678.7 358.7 679 459.5 679 449.4 679.2 261.9 679.5 262.7 679.7 368.8 679.8 343.8 680 197.9 680.3 402.9 680.3 311.5 680.8 514 680.8 515.8 681.1 512.9 681.3 258.1 681.3 236.2 681.7 298.9 681.8 392.5 682 274.5 682.4 367.8 682.5 616.8 682.6 448.7 683 311 683.1 439.1 683.4 450.3 683.5 489.8 683.5 476.5 683.8 369.8 684.1 461.3 684.3 347 684.4 284.9 684.7 329 685 289.7 685.2 368.8 685.3 442.4 685.3 283.4 685.5 423.8 686 287.4 686.1 313.7 686.2 395.8 686.5 340 686.6 257.6 686.9 459.6 687.1 425.6 687.3 502.2 687.4 365.2 687.5 469.7 687.8 441.7 688 411 688.2 492.6 688.4 365 688.6 438.7 688.9 443 689.2 284.9 689.4 467.1 689.4 569.3 689.6 548.6 689.7 408.9 690.2 331.7 690.3 230.6 690.6 409.4 690.8 320.4 690.9 283.9 691 412.8 691.2 455.7 691.5 604.6 691.5 449.4 692 451.4 692 470.2 692.2 293.5 692.4 467.4 692.7 306 693 289.1 693.1 500.9 693.2 443 693.4 375.1 693.8 264.9 693.7 351.6 694.1 418.9 694.1 456.9 694.5 457.8 694.7 340.5 694.8 336 695 405.6 695.3 324.5 695.5 274 695.5 258.3 695.9 321.7 696.1 310.6 696.4 275.1 696.5 437.9 696.8 455.2 696.8 313 697.1 371.6 697.3 423.9 697.4 388.9 697.6 382.3 697.8 411.6 698.1 504.2 698.2 466.7 698.5 472.4 698.7 342.3 698.8 309 699.1 262.4 699.2 260.7 699.4 332.5 699.6 340.5 699.9 400.7 699.9 275.2 700.1 347.9 700.5 449.5 700.8 432.2 700.9 469.5 701.1 357.6 701.1 452.8 701.5 383.1 701.7 423.9 701.9 386.9 702 276.7 702.3 409.9 702.3 338.1 702.7 465.6 702.7 342.1 703 381.8 703.3 362.3 703.4 324.7 703.7 310.5 703.9 354.3 704 448.9 704.5 586.8 704.5 509 704.5 424.2 704.8 423.3 704.9 539 705.2 480.9 705.5 312.1 705.6 332.3 705.8 379 706 430.7 706.4 310.9 706.4 411.3 706.7 482.8 706.8 454.1 706.5 202 707.2 411.4 707.5 455.2 707.7 520.1 707.8 538.1 708 435.4 708.4 286.9 708.4 391.5 708.6 366.1 708.9 348.6 709.1 356.6 709.3 469 709.4 479.4 709.8 383.8 710 355.8 710.2 323.4 710.3 438.5 710.4 340.7 710.6 477 710.7 480.2 710.9 317.3 711.4 250 711.4 299.6 711.5 601.8 711.8 495.6 711.9 357.3 712.2 238.9 712.4 260.4 712.8 298.7 712.8 395.8 713 402.1 713.5 146.8 713.3 416.9 713.5 285.3 713.9 407.4 714.1 419.7 714.2 346 714.4 405.5 714.8 478.8 714.8 448.5 715.1 457.7 715.3 419 715.3 528.1 715.6 482.1 715.7 323.8 716.1 336.6 716.3 352.9 716.3 555.8 716.6 448.5 716.8 481.4 717.2 340.8 717.2 397.5 717.3 323.3 717.7 396.6 717.7 494.4 718 310.9 718.3 275.9 718.4 335.7 718.7 374.8 718.8 371 719.1 489.1 719.2 420.1 719.5 365.5 719.7 322 719.8 420.7 720.1 461.3 720.3 340.7 720.5 524.7 720.8 442.6 720.9 368.5 721 332.7 721.2 419.9 721.3 400.2 721.6 394.4 721.9 334.4 721.9 328.1 722.4 574.3 722.5 395.9 722.5 592.6 722.7 383.7 723 374.2 723.4 471.1 723.3 377.1 723.6 474.2 723.9 497.7 724 337.5 724.3 290.8 724.4 289.3 724.5 244.3 724.8 225.2 725 479.8 725.3 306.8 725.5 367.5 725.7 275.4 725.9 497.1 726.1 479.4 726.4 507.8 726.5 439.4 726.5 169.7 727 318.9 727 370.8 727.3 492.8 727.5 492 727.6 554.8 727.8 430.7 728 420.5 728.1 542.4 728.4 454.6 728.8 502.5 728.9 525.5 729.1 432.8 729.3 405.4 729.3 368.7 729.7 255.5 729.8 314.8 730.1 438.4 730.3 456.7 730.5 482.5 730.6 404.1 730.9 389.8 730.9 465.5 731.2 438.9 731.6 332.1 731.5 399.3 731.8 401.2 732.1 292 732.2 299.6 732.6 303.5 732.8 405.6 732.8 432.9 733.1 340.1 733.3 507 733.4 560.5 733.6 494.4 733.9 531 734.1 490.1 734.3 490.6 734.4 285.3 734.5 475.9 734.9 428 735.1 388 735.2 468.4 735.5 289.4 735.6 334.1 736 341.6 736.1 526.5 736.1 284.7 736.5 569.3 736.7 428.8 736.9 381.8 737.2 447.1 737.2 458.3 737.5 515.7 737.6 418.8 737.8 354 738.1 332.3 738.2 390.5 738.4 413.6 738.7 476.2 738.7 197.2 739.2 339.7 739.3 279.8 739.4 479.9 739.6 313.2 740 473.5 740.1 520.3 740.2 337 740.4 463.5 740.7 302.5 740.8 249.8 741.2 363.4 741.1 301 741.5 269.5 741.5 480.8 741.9 381.4 742 440.3 742.1 461.1 742.6 478.6 742.6 289.4 742.7 296.4 743.1 543.1 743.2 432.7 743.6 382.3 743.8 372.2 743.9 502.6 744.2 453.4 744.2 363.9 744.4 526 744.7 524.9 744.8 523.3 745 385.1 745.3 303.8 745.3 293.8 745.7 387.2 745.9 382.8 746.2 448.8 746.1 517.6 746.3 551.5 746.7 472.2 746.5 198 747 488.1 747.2 369.6 747.5 448.7 747.8 456.2 747.8 420.3 748.1 510 748.2 530.9 748.4 386.3 748.8 458 748.5 581.5 749.1 474.9 749.2 542.9 749.4 529.5 749.7 332 749.9 383.8 750 383.4 750.3 507.2 750.4 400.5 750.6 365.1 751 515.9 751 361.3 751.2 467.9 751.3 423.7 751.6 343.6 751.5 618.4 751.9 414 752.2 520.5 752.3 503.1 752.6 423.6 752.8 412.7 753 505.9 753.3 420.2 753.6 437.5 753.5 365.1 753.9 271.1 753.9 403.9 754.1 394.1 754.4 458.6 754.5 449.8 754.8 361.9 755 315 755.2 461.4 755.5 300 755.6 232.9 755.8 250.6 756.1 417 756.3 371.9 756.4 511.6 756.7 539.7 756.7 405.1 756.9 301.7 757.3 320.9 757.4 348.4 757.5 311.6 757.8 347.3 758 502.3 758.3 476.6 758.4 558.1 758.6 468 758.5 189.5 759.2 435.2 759.2 307.3 759.3 288.7 759.7 333.2 759.7 556.4 760 516.6 760.3 524.7 760.5 615 760.6 484.2 760.9 446.9 761.1 468.7 761.3 354.9 761.3 532.6 761.6 478.1 761.7 388.4 761.9 420.3 762.3 422.7 762.4 282.9 762.5 440.6 762.8 308.2 763.1 529.7 763.2 439.5 763.4 499.2 763.7 402.7 763.9 580.4 764.1 546.6 764.3 464.3 764.4 416 764.5 576.4 764.7 506 765 366 765.1 486.6 765.5 471.1 765.6 306.8 765.8 544.7 766.2 523.8 766.3 401.9 766.6 444.2 766.7 557.7 766.9 385.7 767 315 767.3 410.2 767.6 326.9 767.7 338.7 768 387.9 767.9 468.8 768.2 456.9 768.4 422.2 768.6 443.6 768.9 423.6 769.1 380.3 769.3 444 769.5 346.4 769.6 428.6 769.9 387.5 770 431.6 770.4 485 770.3 368.6 770.7 490.6 770.8 507.3 770.9 528.7 771.2 523.6 771.4 420.6 771.7 429.4 771.7 425.2 772.1 499.1 772.4 411.9 772.5 469.6 772.6 477.8 772.7 357.7 772.9 454.9 773.2 402.9 773.5 376.3 773.6 343.3 773.5 587.3 774.2 254.3 774.1 350.5 774.5 587.8 774.6 489.5 774.8 586.5 775.2 465 775.1 459.9 775.4 454 775.8 417 775.9 336.1 776 358.8 776.3 489 776.4 467.3 776.7 338.9 776.8 364.1 776.9 286 777.2 337.9 777.4 505.2 777.8 491 777.7 444.2 777.9 482.8 778.2 387.7 778.4 395.5 778.5 503.6 778.8 539.5 779.2 488.1 779.1 415.1 779.3 436.4 779.6 543.4 779.9 576.2 780.2 501.5 780.1 361.5 780.3 397.2 780.7 546.1 781 455.2 781.2 480.2 781.3 322.3 781.5 373.2 781.8 477.5 781.8 300 782.2 379.2 782.3 400.4 782.6 397.5 782.5 312.3 782.7 311.6 783.1 265.4 783.3 441.3 783.4 523.2 783.7 304.7 783.9 385.7 784 279.9 784.2 415.3 784.5 215 784.7 449.7 784.8 473.5 785.1 583.9 785.2 554.1 785.5 564.3 785.5 453.4 785.8 446.4 785.9 539.2 786.4 482 786.5 342.9 786.8 329.1 786.8 443.5 787 545.5 787.1 425 787.5 509.1 787.7 532.8 787.5 586 788.1 343.2 788.2 476.8 788.4 499.4 788.6 483.2 788.9 367 789 287.1 789.4 288.4 789.4 320.6 789.8 410.2 789.8 460.6 790 418.3 790.3 485.2 790.4 437.8 790.6 414.5 791 463.6 791 472.4 791.3 574.3 791.5 543.4 791.6 434.1 791.9 412.5 792.1 376.2 792.1 514.7 792.4 562.7 792.5 421 793 424.3 793 522.9 793.3 513.3 793.6 387.4 793.7 457.3 793.9 488 794.2 454 794.3 438.6 794.5 468.4 794.7 272.8 794.9 252.3 794.9 306.8 795.4 370.5 795.3 391.9 795.7 526.3 795.7 453.9 795.9 459.5 796.2 358.5 796.5 414 796.7 380 796.8 454.8 796.9 315.7 797.4 301.6 797.3 484.8 797.5 380.3 798 493.6 797.9 435.4 798.3 380.3 798.4 377.5 798.8 503.8 798.9 466.2 799.1 399.1 799.2 321.9 799.4 485.2 799.7 500.6 799.8 471.9 800 500.3 800.2 389.5 800.4 377.9 800.6 439.1 800.9 538.9 800.9 484.7 801.3 452.1 801.4 505 801.6 468.7 801.9 392.2 802 341.6 802.3 505.9 802.3 524.7 802.6 460.8 802.9 307.6 803 448.5 803.4 435.3 803.3 432.5 803.5 332.2 803.8 317.6 804.2 278.8 804.2 347.8 804.6 311.7 804.8 439.3 804.8 472 805 409.7 805.4 408.5 805.5 309.6 805.5 363.9 806 479.8 806.2 364.1 806.3 441.1 806.3 311.7 806.6 343.2 806.9 410.7 807 476.4 807.3 465.7 807.6 507.7 807.6 375.2 807.7 400.5 808 376.8 808.5 612 808.4 241.6 808.7 430.3 808.8 503 809.1 355.4 809.1 570.4 809.6 531.9 809.7 476.8 809.5 591.2 810.1 275.8 810.2 423.4 810.3 351.8 810.7 439.9 810.8 458.2 811.1 551 811.4 454.2 811.4 565.6 811.7 466.4 812 521.5 812.1 553 812.1 479.4 812.5 461.7 812.6 539.3 812.8 464.9 813.1 506.5 813.3 457.9 813.6 305.3 813.7 492.7 813.8 464.6 813.9 542.4 814.2 495.6 814.5 515.8 814.7 479.8 814.8 488.2 815.1 383.8 815.5 206.6 815.5 319.4 815.8 500 815.8 309.4 815.9 320.3 816.3 428.9 816.6 447 816.7 311.5 816.7 524.7 817.1 430.7 817.3 425.8 817.4 327.2 817.6 494.5 817.9 353.9 818.1 483.3 818.4 528.7 818.4 491.4 818.6 335.4 818.8 364.2 819.2 416 819.1 431.7 819.5 396.3 819.7 379.2 819.5 600.4 820.1 480.2 820.2 482.3 820.5 505 820.7 365.7 821 311.5 821.1 345.6 821.2 349.7 821.5 399.4 821.7 340.7 821.8 408.5 822.1 359.2 822.2 467.7 822.5 361.5 822.8 392.4 822.8 458.4 823.1 535 823.2 557.9 823.5 525 823.8 440.3 823.9 316.6 824 324.5 824.1 388.4 824.6 424.9 824.8 330.3 825 315.3 825.2 431.3 825.4 495.7 825.4 525.6 825.6 485.3 825.9 296.4 826.2 509.2 826.2 402.9 826.4 361 826.5 218 826.8 286.1 827.1 400.7 827.1 382.3 827.4 496.3 827.7 277.4 827.9 301.9 828.1 279.7 828.3 357.7 828.4 517.9 828.5 473.3 828.5 641 829.2 394.5 829.2 321.8 829.4 437.2 829.8 527.9 829.8 535.5 830.1 507.8 830.3 549.9 830.5 516.4 830.6 507.6 830.9 371.9 831.1 336 831.2 429.6 831.4 390.4 831.8 477.6 832 565.7 832 502.2 832.4 338.2 832.5 412.5 832.8 346.9 832.9 313 832.9 343.9 833.2 404.8 833.5 655.8 833.7 382.4 833.7 429.7 834 472.2 834.3 238.5 834.4 351.8 834.8 365.2 834.9 295 835.1 467.3 835.1 460.5 835.5 448.7 835.6 413.8 836 471 836.2 331.8 836.2 489.5 836.5 433.2 836.7 428.7 836.9 363.5 836.5 601 837.3 330.4 837.3 523.6 837.7 553.6 838 364.4 838 328.3 838.3 320.8 838.5 420.3 838.8 332.2 838.9 340.9 839.1 536.3 839.3 574.7 839.6 518.5 839.8 389.1 839.7 472.6 840.1 371.6 840.5 180.7 840.6 446.6 840.6 338.3 840.9 487.7 841.1 564.1 841.1 510.6 841.5 451.4 841.6 528.3 842 471 842 504.1 842.3 544.6 842.4 345.2 842.6 373.9 842.8 336.6 843.1 446.9 843.2 365.3 843.3 336.7 843.7 461.5 843.8 270.7 844.1 462.3 844.1 540.8 844.4 488.8 844.7 455.7 844.9 338.3 845.2 375.5 845.3 449.3 845.4 331.8 845.6 459.2 845.8 518.9 846 492.8 846.3 352.5 846.5 358.9 846.6 328 846.9 464.3 847.1 268.7 847.3 449.2 847.5 409.2 847.8 381.9 847.9 510.4 847.9 488.7 848.3 555.5 848.5 429.3 848.5 277.4 848.9 510.2 849.1 550.4 849.3 432.3 849.4 436.4 849.5 287.9 849.5 192.3 850 306.1 850.3 301.9 850.4 460.2 850.6 407.4 851 271.1 851.1 306.4 851.1 387.6 851.4 298.7 851.8 356.7 851.8 267.4 852.2 418.6 852.2 556.8 852.4 458.5 852.8 487.2 852.7 501.3 852.9 433.1 853.3 373.6 853.5 435.2 853.8 433.7 854 409 854 336.9 854.2 328.5 854.5 345.4 854.7 281.5 854.9 301.7 855 327.3 855.3 500.1 855.5 439.4 855.6 371.1 856 324.5 856 425.2 856.4 466.9 856.3 400.8 856.7 469.5 857 402.7 857 336.2 857.2 489.4 857.6 342.3 857.7 453.9 857.7 444.5 858.1 488.4 858.2 292.4 858.4 397.7 858.6 468 858.9 543.1 859 424.6 859.1 386 859.3 349.5 859.7 427.2 860 491.3 860 444.6 860.2 457 860.6 475.8 860.5 466.7 860.8 565.7 861 528.3 861.2 445.8 861.5 478.8 861.8 522.4 861.9 411.6 861.9 339.9 862.3 471.6 862.3 326.5 862.6 288.5 862.8 257.6 863 375 863.2 550.9 863.4 408.1 863.5 484.6 863.8 432.2 864 395.9 864.3 421.7 864.5 445.9 864.7 380.9 864.8 321.8 865 338 865.3 338.6 865.4 486.1 865.5 373.1 865.9 429.2 866 491.2 866.3 523.7 866.5 540.3 866.7 378.5 866.9 552.5 867.1 430 867.4 398.1 867.5 297.4 867.8 364.5 867.7 447.8 868 413.2 868.4 583.1 868.3 423.8 868.7 545 868.7 430.6 868.9 407 869.3 323.8 869.4 406.3 869.7 492.9 869.5 612.7 870 505 870.1 393.4 870.5 307.1 870.6 317.4 870.9 307.9 871 497.9 871.1 400.7 871.4 325.6 871.7 432.4 871.8 362.6 871.9 457.8 872.1 387.5 872.6 422.8 872.7 322.2 872.9 229.3 873.2 351.8 873.2 376.2 873.5 455.3 873.7 305.1 873.8 292.5 874 284.1 874.3 434 874.4 329.2 874.5 471.3 874.7 583.5 875.2 550.3 875.2 498.6 875.4 452.6 875.6 388 876 405.9 876.1 371.1 876.4 415 876.4 270.1 876.6 335.1 876.9 381.1 877.1 472.1 877.2 284.9 877.5 590.3 877.6 457.4 878 508.8 878.1 479.6 878.2 326.7 878.5 372.4 878.6 365.5 878.8 462.5 879.1 484.6 879.2 416 879.5 500.7 879.7 368.4 879.7 281.2 880.1 506.8 880.3 360.1 880.6 342.1 880.6 307.5 880.8 296.1 881.1 490.9 881.2 425 881.6 465.9 881.8 293.1 882 332.9 881.9 309.9 882.3 438.6 882.5 665.7 882.7 339.6 882.8 379.8 882.9 519.7 883.3 453 883.4 309.4 883.7 279.7 884 446 884.1 357.8 884.4 519.4 884.5 431.5 884.8 332.2 884.7 513.9 885 356.7 885.3 471.5 885.3 407.9 885.6 494.5 885.9 387.7 885.9 381.6 886.2 319.2 886.6 314.7 886.5 315.9 886.9 300.3 887.1 291.4 887.3 360.6 887.5 241.2 887.7 311.9 887.8 301.2 888.2 441.8 888.4 450.8 888.6 292.9 888.6 452.7 888.8 317.7 889 299.6 889.3 448.3 889.4 442.6 889.6 350.7 889.8 533.6 890.2 511.6 890.3 290.1 890.4 506.8 890.7 368.2 890.9 447.6 891.2 422.4 891.5 587.3 891.3 310.7 891.6 407.9 891.7 409.4 892 349.4 892.3 407.2 892.4 394.2 892.8 396.9 893 501.1 892.9 534.6 893.3 441.7 893.4 427.2 893.7 388.2 893.9 508.6 894.1 330.3 894.3 319.6 894.4 454.3 894.6 457.9 894.8 524.6 895 441.8 895.4 526.8 895.4 350.7 895.6 276.1 895.8 390.2 896.1 281.2 896.2 387.8 896.5 412.5 896.7 470.4 896.9 484.5 897.1 428.1 897.2 535.5 897.6 425.5 897.6 336.8 897.8 446.8 898.2 492.6 898.3 500.1 898.5 378.5 898.8 390.6 898.9 442.5 899.1 536.2 899.2 453.8 899.4 426 899.7 475.1 899.5 616.1 899.9 488 900.1 329.8 900.3 302.9 900.6 426.5 900.8 513 901.1 502.2 901.1 503.7 901.5 504.7 901.6 478.9 901.8 576.1 902.1 364 902.4 433 902.5 455.5 902.7 422.5 902.8 532 903.1 570.5 903.4 518.7 903.5 501.3 903.7 502.8 903.8 401.6 904 350.4 904.3 317.6 904.5 321.6 904.7 354.4 904.9 298.3 905 312 905.3 355.4 905.4 270.5 905.7 388.2 905.8 287.5 906 364.9 906.1 358.9 906.4 392.3 906.8 314.5 906.9 515.5 907.1 317.2 907.2 315.7 907.5 430.2 907.6 533.6 907.9 532.4 907.9 561.2 908.3 466.4 908.6 478.2 908.7 432.1 908.9 473.6 909 464.6 909.4 285.3 909.5 416.8 909.7 433 909.8 427.9 910.1 410.1 910.3 275.4 910.5 246.9 910.6 232.9 910.9 318.7 911 250.6 911.4 214 911.4 291.5 911.7 364.6 911.9 379.2 911.9 542 912.2 425.6 912.4 498.7 912.7 485.9 912.7 467.1 912.9 317.7 913.4 413 913.4 513.4 913.8 336.9 913.8 341.4 913.9 485 914.1 239 914.5 346.3 914.8 445.9 915 577.7 915.1 396.8 915.3 408.8 915.5 404.3 915.7 370.9 915.9 475.3 916 529.6 916.1 430.1 916.5 369.5 916.6 420.6 916.9 312.2 917 442.3 917.1 415.7 917.5 396.8 917.8 233.4 917.9 426.1 918.1 363.7 918.5 195.7 918.4 366.5 918.6 285 919 462 918.9 484.7 919.3 392 919.5 607.4 919.6 385 919.8 275.8 919.9 348.6 920.1 484.9 920.5 333.3 920.5 335 920.8 361.1 921.1 341.9 921.3 344 921.4 286.2 921.7 361.4 921.8 463.4 922.1 452.5 922.2 372.7 922.5 491.8 922.6 388.6 923 406.4 923.2 411.1 923.3 438.5 923.5 396.6 923.7 551.3 923.9 498.3 924 459.8 924.3 351 924.5 289.5 924.5 284 925 500.6 925.2 426.1 925.3 399.9 925.5 363 925.5 142.7 925.9 415.7 926 522.3 926.2 392.1 926.4 408.6 926.7 378.3 927 374.5 927.1 384.3 927.4 410.5 927.4 362.7 927.6 284.7 927.8 390.1 927.9 450.8 928.4 508.5 928.4 463.9 928.7 295.5 928.9 513.9 929.1 467.2 929.4 492.3 929.4 563.9 929.7 446.2 929.9 301.5 930 296.3 930.3 408.8 930.5 393.6 930.8 317.9 930.9 421.8 931 574.6 931.3 531.2 931.4 519 931.7 587.6 931.7 403.4 932 363.8 932.3 389.6 932.4 302.8 932.7 254.2 932.8 373.6 932.9 331.5 933.2 340.6 933.4 461.6 933.5 602.3 933.8 273.3 934.2 408 934.2 419 934.5 478 934.7 404.5 934.9 438.2 935 303.7 935.3 201.3 935.6 381.2 935.8 431.3 936 495.9 936.2 390.7 936.3 438.3 936.4 407.4 936.8 345.7 936.8 332.6 937.1 309.6 937.4 458 937.6 356.5 937.7 425.9 937.9 453.6 938 430.8 938.2 520.5 938.4 524.4 938.6 383.7 938.9 393.7 939 470.2 939.3 460.3 939.6 505.2 939.5 510.1 939.7 382.4 940.1 368.3 940.3 511 940.6 521.9 940.7 494.7 940.8 450.8 940.9 484.7 941.3 450.8 941.3 373.4 941.6 234.4 941.8 281.7 942 373.9 942.3 265.2 942.5 225.6 942.6 390.7 942.9 524.3 943 511 943.1 392.4 943.4 295.2 943.7 359.6 943.9 422.6 944.1 290.2 944.3 317.6 944.5 618.9 944.6 287.6 944.7 307.4 944.9 452.2 945.3 329.8 945.3 500.3 945.5 344.1 945.7 335.9 946.1 320.4 946.2 503.8 946.6 298.9 946.7 386.6 946.9 405.2 947 415.7 947.3 454.9 947.4 543.7 947.8 378.5 948 279.7 948 344.8 948.5 206 948.3 337.1 948.7 404 948.9 279.5 949.2 425 949.3 307.9 949.4 341.6 949.7 308.8 950 521.1 950 504.3 950.1 483.3 950.3 557.2 950.6 446.6 950.9 272.3 951.1 336.2 951.2 430.8 951.6 479.1 951.5 391.9 951.7 367.2 952.1 463.7 952.2 559.4 952.5 498.2 952.5 558.8 952.5 170.8 953 536.6 953.2 442.8 953.4 499.1 953.5 341.1 953.8 386.7 954 436.8 954.2 448.8 954.5 426.3 954.5 416.2 954.8 318.5 955.1 443.1 955.3 369.1 955.5 333 955.8 489.7 955.7 421.4 955.9 270.7 956.2 268.5 956.5 621.9 956.8 257.8 956.8 372.5 957 496.7 957.2 309.9 957.5 333.3 957.7 382.9 957.9 399.4 958.1 347.8 958.2 385.9 958.4 332 958.6 235.9 958.9 284 959.1 391.5 959.3 394.4 959.6 462 959.6 360.2 959.9 538.8 960.2 384.8 960.1 439.6 960.3 330.2 960.7 349.2 960.9 458.4 961.2 492.4 961.3 357.2 961.5 443.8 961.7 347.4 961.7 389.6 962 288.8 962.2 291.6 962.4 303.1 962.7 304.7 962.7 349.2 963.1 488.7 963.4 449 963.6 446.6 963.6 375.9 963.5 626.5 964.1 522 964.3 407.6 964.5 278.4 964.6 220.8 964.7 232.5 965 298.2 965.3 359.5 965.4 507.2 965.6 342.2 965.8 434.1 966 462.8 966.1 455.1 966.4 462.8 966.6 344.3 966.9 370.5 967 369.8 967.3 354 967.5 154.7 967.6 256.7 968 262.6 968.1 430 968.3 464.2 968.3 390.5 968.8 435.7 968.9 418.2 969.1 499.3 969.4 477 969.4 330.6 969.6 500.1 969.9 461.6 970.2 391.4 970.4 389.7 970.5 410.8 970.6 477.8 970.7 452.9 970.9 305.7 971.4 363.7 971.5 601 971.6 461.7 971.8 373.1 972.2 369.8 972.1 568.9 972.4 464.1 972.7 311 972.9 347.3 972.9 308.8 973.1 443.4 973.5 487.2 973.7 463.7 973.7 243 974 349.7 974.2 351.7 974.4 546.2 974.6 498.1 975 363.4 975.1 475.1 975.1 459.1 975.4 340.9 975.5 418.5 975.7 401.4 976.2 237.6 976.3 327.3 976.5 334.8 976.6 369.3 976.9 372.7 977.1 362.5 977.2 403.3 977.4 449.8 977.6 393.2 977.7 468.2 977.9 446.3 978.3 394.6 978.6 431.6 978.5 348.7 978.7 504.2 978.9 354.3 979.1 498.2 979.6 521.3 979.7 369.5 979.8 332.7 980.1 523.3 980.2 509.5 980.4 344.7 980.5 151.9 981 479.1 981 331.5 981.3 345.1 981.4 382.3 981.5 171 981.8 311.9 982 467.9 982.1 375.7 982.5 236.8 982.7 245.4 982.9 475.6 983 406.2 983.4 439.8 983.4 464.2 983.7 283 984 355.9 984.1 255.4 984.4 361.4 984.6 258.1 984.6 430 984.8 250.1 985.1 374.7 985.2 378.1 985.5 488.4 985.5 376.5 985.7 502.4 985.9 286 986.3 306.4 986.4 434.3 986.7 373.4 986.9 477.5 986.9 494.1 987.1 407.9 987.5 405.4 987.8 343.3 987.7 308.6 988.2 265.9 988.2 307.7 988.3 278.4 988.5 400.7 988.9 438.4 989.1 523.2 989.3 587.4 989.3 352.5 989.7 416.4 990 309.1 990.2 475.4 990.4 540.7 990.6 497.8 990.5 468.1 990.9 278 991 419.2 991.2 423.5 991.6 426.1 991.6 338.6 991.9 420.2 991.5 599.5 992.2 341.4 992.3 455.3 992.7 343.9 992.8 268.4 993 380.5 993.2 456.6 993.4 304.4 993.7 439 993.7 535.7 993.9 369.3 994.3 391.6 994.5 366.6 994.7 500 994.9 489.5 994.9 346.8 995.2 463 995.5 334 995.6 280.1 995.8 434.7 996.1 385.2 996.2 352.2 996.6 501.9 996.6 502.7 996.8 404.3 997.1 471 997.2 328 997.5 342.8 997.6 471.6 997.8 417.8 998 337.7 998.3 310.7 998.4 434.5 998.7 470.5 999 435.2 999 500.2 999.3 465.9 999.3 526.8 999.7 477.7 999.7 493.6 1000.1 343.1"/><path stroke="rgba(170,170,170,0.6)" stroke-width="1.3" d="M121.5 500.6L122 506.5M122 506.5L122 532.3M122 532.3L122.3 465.1M128.8 278L128.8 253.2M128.8 253.2L129.2 245.2M129.2 245.2L129.2 286.4M129.7 477.3L129.7 526.4M129.7 526.4L129.5 573M129.5 573L130.1 445.9M131.2 309.2L131.3 229.3M131.3 229.3L131.5 329.4M131.5 329.4L131.9 247.9M131.9 247.9L132 297.3M133.1 406.4L133.5 185.8M133.5 185.8L133.4 275M133.4 275L133.6 235.7M133.6 235.7L134 271.6M136.5 313L136.7 536.1M136.7 536.1L136.9 450.9M137.4 463.6L137.7 517.2M137.7 517.2L138 350.5M139.5 335.3L139.9 231.2M139.9 231.2L140.1 236.3M140.1 236.3L140.2 352.7M140.6 260.7L140.5 605.3M140.5 605.3L140.9 301.5M142 396.4L142.3 226.8M142.3 226.8L142.5 292.9M142.5 292.9L142.5 119.8M142.5 119.8L142.8 409.3M142.8 409.3L142.9 237.3M142.9 237.3L143.2 352.7M144 369L144.5 185M144.5 185L144.4 437.7M146 313.5L145.5 578.5M145.5 578.5L146.4 376.7M146.4 376.7L146.5 219.5M146.5 219.5L146.7 234.4M146.7 234.4L146.8 211.2M146.8 211.2L147.2 325.9M147.5 301.9L147.8 243.3M147.8 243.3L147.9 263.1M149.9 378.6L150.5 573.4M150.5 573.4L150.4 343.1M151.9 329.1L152 243.9M152 243.9L152.3 284.2M152.8 258.8L152.8 250.2M152.8 250.2L153.1 252.8M153.1 252.8L153.2 284.4M156.2 486L156.5 189M156.5 189L156.7 271.3M157 321.8L157.5 158.5M157.5 158.5L157.5 338.2M158.2 284.2L158.5 214.4M158.5 214.4L158.5 242.9M158.5 242.9L158.8 398.4M159.1 371.9L159.3 254.3M159.3 254.3L159.4 387.6M159.7 285.2L160.2 250.2M160.2 250.2L160.2 343M162.2 305.3L162.6 245M162.6 245L162.6 245.5M162.6 245.5L162.9 326.2M163.9 352.5L164.2 226.7M164.2 226.7L164.4 461.7M164.4 461.7L164.6 508.3M164.6 508.3L164.8 503.2M164.8 503.2L165.2 518.6M165.2 518.6L165.3 460M165.5 357.6L165.7 524.2M165.7 524.2L165.9 494.1M167 405.7L167.1 554M167.1 554L167.4 453.6M168.5 394.8L168.7 247.9M168.7 247.9L168.8 387.8M169.3 442.3L169.4 241.6M169.4 241.6L169.6 331.4M169.9 429.8L170.3 231M170.3 231L170.3 357.5M170.3 357.5L170.5 564.2M170.5 564.2L170.7 383.3M172.2 354.7L172.4 242.6M172.4 242.6L172.8 416M174.1 474.4L174.3 533.4M174.3 533.4L174.3 410.9M177.5 456.8L177.5 54.3M177.5 54.3L177.8 324.6M180.7 376.5L181 255.5M181 255.5L181.1 462.1M181.3 417L181.5 165.6M181.5 165.6L181.7 497M181.9 416.9L182.2 536.2M182.2 536.2L182.2 364.4M182.4 313.9L182.7 235.4M182.7 235.4L182.5 572.3M182.5 572.3L182.9 525M182.9 525L183.2 442.6M184.4 447.7L184.5 255.2M184.5 255.2L184.8 494M185.4 365L185.5 236.1M185.5 236.1L185.6 408.5M185.9 437.8L186.5 671.5M186.5 671.5L186.5 261.6M188.1 384.7L188.1 518.7M188.1 518.7L188.4 338.5M188.4 338.5L188.8 237.2M188.8 237.2L189 340.7M192.2 308.9L192.4 243M192.4 243L192.5 298.4M193.9 420L194 256.2M194 256.2L194.4 334.7M195.6 297L195.7 199.1M195.7 199.1L195.8 348.1M195.8 348.1L196.2 237.7M196.2 237.7L196.2 275.8M199.3 269.1L199.6 519.5M199.6 519.5L199.6 372.3M200.7 271.4L200.8 254.9M200.8 254.9L201 263M204.6 464.5L204.5 578.5M204.5 578.5L204.9 448.5M207.4 467.6L207.5 189M207.5 189L207.9 291.6M208 482.9L208.2 515.5M208.2 515.5L208.3 396.6M211.8 327.9L212.1 258.9M212.1 258.9L212.1 316.3M213.2 506.3L213.3 556.2M213.3 556.2L213.8 561.8M213.8 561.8L213.7 521.4M213.7 521.4L214.2 567.2M214.2 567.2L214.1 490.7M214.4 312.2L214.7 214.7M214.7 214.7L214.8 293.2M215.1 448.3L215.1 233.1M215.1 233.1L215.6 361.3M216.5 494.9L216.5 160.3M216.5 160.3L216.8 323.6M217.4 461.5L217.7 530.2M217.7 530.2L217.7 428M218.1 352.2L218.5 591.9M218.5 591.9L218.5 457.1M218.8 398.6L218.8 543.4M218.8 543.4L219.1 475.3M219.5 286.5L219.7 218.9M219.7 218.9L220 465M223.7 336.2L223.5 195.5M223.5 195.5L224.3 389.1M225.3 306.8L225.5 250.3M225.5 250.3L225.8 340.3M225.8 340.3L225.8 238.1M225.8 238.1L226 366.9M227 385.1L227.1 231.3M227.1 231.3L227.4 449M228.1 406.4L228.5 605.7M228.5 605.7L228.3 481M228.9 362.1L229 255.1M229 255.1L229.2 453.8M232.8 452.4L233.1 550.1M233.1 550.1L233.2 348.6M233.6 433.3L234 525.7M234 525.7L233.9 394.2M233.9 394.2L234.2 520.3M234.2 520.3L234.4 453.3M234.8 413.8L235.1 536.8M235.1 536.8L235.2 411.2M241.6 396.8L241.9 540.5M241.9 540.5L242.2 472M243.1 370.7L243.5 553.8M243.5 553.8L243.4 273.8M245.5 376.5L245.6 529M245.6 529L245.9 361.3M247.4 288.3L247.5 254M247.5 254L247.6 286.2M249.1 358.2L249.5 572.3M249.5 572.3L249.3 538.3M249.3 538.3L249.7 448.6M251 288.1L251 248.8M251 248.8L251.4 271.7M252.1 409.2L252.5 179.5M252.5 179.5L252.6 567.3M252.6 567.3L252.9 539.6M252.9 539.6L253.2 513.2M253.2 513.2L253.2 537M253.2 537L253.3 389.5M253.6 452.3L253.8 534.2M253.8 534.2L254 517.1M254 517.1L254.3 544.1M254.3 544.1L254.5 419.2M255.7 450.3L255.9 575.2M255.9 575.2L256 452.6M257 414L256.5 86.3M256.5 86.3L257.4 317.6M259 441.8L259.5 572.3M259.5 572.3L259.3 425.3M261.1 347.5L261.3 557M261.3 557L261.6 574.3M261.6 574.3L261.7 492.9M261.9 500.6L262.2 255.1M262.2 255.1L262.4 295M262.4 295L262.6 220.9M262.6 220.9L262.8 398.3M266.1 353.4L266.2 544.3M266.2 544.3L266.4 421.9M266.9 327L266.5 590.7M266.5 590.7L267.2 401.2M272.1 334.1L272.3 212.6M272.3 212.6L272.5 374.7M273.2 431.6L273.6 273.6M273.6 273.6L273.7 497.9M274 317.7L274.2 532.7M274.2 532.7L274.4 579.8M274.4 579.8L274.4 469M275 419.6L275.5 175.4M275.5 175.4L275.3 426.1M275.3 426.1L275.5 273M275.5 273L276 372.6M278 470.2L278.2 589.9M278.2 589.9L278.4 470.4M278.7 461L279.1 542.6M279.1 542.6L279.5 653M279.5 653L279.3 504.3M279.3 504.3L279.7 246.1M279.7 246.1L280 293.4M280 293.4L280.1 219.9M280.1 219.9L280.4 333.6M280.4 333.6L280.4 263.2M280.4 263.2L280.7 256.3M280.7 256.3L280.9 236.9M280.9 236.9L281.1 285.5M284.2 282.4L284.6 268.5M284.6 268.5L284.6 447.3M288.7 519.3L288.8 533.7M288.8 533.7L288.9 475.2M288.9 475.2L289.3 536.1M289.3 536.1L289.5 336.6M289.5 336.6L289.5 653.7M289.5 653.7L289.8 375.5M291.1 370.4L291.4 227.3M291.4 227.3L291.4 310.7M293.2 452.5L293.5 583.8M293.5 583.8L293.5 358.8M293.5 358.8L293.7 267M293.7 267L293.8 225.9M293.8 225.9L293.9 341.3M297.7 289.3L297.8 237.8M297.8 237.8L298.1 383.8M298.9 324.8L298.9 222.1M298.9 222.1L299.2 398.9M301.8 371.9L301.9 253.3M301.9 253.3L302 335.4M304.4 503.8L304.8 266.6M304.8 266.6L304.9 322.1M308.1 430.3L308.5 535.8M308.5 535.8L308.8 424.2M308.8 424.2L308.8 267.1M308.8 267.1L309.2 440.5M310.6 409.7L310.8 535.9M310.8 535.9L310.9 536M310.9 536L311.4 359.1M311.8 521.4L311.5 145.7M311.5 145.7L312.4 432.5M312.5 329.7L312.5 586.8M312.5 586.8L313 408M315.7 385.5L316 554.7M316 554.7L316.3 448.6M317.4 427.1L317.8 574.2M317.8 574.2L317.9 440.2M318.3 325.1L318.6 264.5M318.6 264.5L318.7 378.8M318.7 378.8L318.8 237.2M318.8 237.2L319 371.8M319.7 317.7L320 270.5M320 270.5L319.5 93.2M319.5 93.2L320.3 401.3M320.3 401.3L320.6 533.2M320.6 533.2L320.5 472.5M320.9 331.3L321.1 241.4M321.1 241.4L321.5 338.7M323.8 455.2L324.2 584.3M324.2 584.3L324.2 529.7M324.2 529.7L324.4 550.3M324.4 550.3L324.6 501.4M330.1 522.2L330.5 568.4M330.5 568.4L330.8 344.3M331 300.5L331.4 275.1M331.4 275.1L331.5 408.7M331.7 319L331.5 124.7M331.5 124.7L332 459.7M334.6 357.9L334.9 259.9M334.9 259.9L335.2 344.6M335.6 346L335.8 255.8M335.8 255.8L336 255.7M336 255.7L336.3 369.6M336.8 445L336.9 272.1M336.9 272.1L337.2 396.9M338.5 341.3L338.6 243.4M338.6 243.4L339 362.2M339.2 346.5L339.6 547.7M339.6 547.7L339.5 526.6M339.5 526.6L339.8 336.8M342.9 460.4L343 544.1M343 544.1L343.3 360.6M349.2 451.6L349.2 261.9M349.2 261.9L349.6 324.1M353 321.8L353 268.1M353 268.1L353.1 408.9M353.8 284.8L353.8 255M353.8 255L354.1 241.9M354.1 241.9L354.1 380.7M354.5 299.3L354.7 228.6M354.7 228.6L354.9 384.4M355.3 399.4L355.8 247.1M355.8 247.1L355.8 196.5M355.8 196.5L356.1 297.9M356.6 514.6L356.7 530.7M356.7 530.7L357 430.1M358.3 291.9L358.5 273.4M358.5 273.4L358.6 358M360.6 415.3L360.8 259.7M360.8 259.7L361.1 270.6M361.1 270.6L361.3 351.9M363.5 340.7L363.7 244M363.7 244L364.2 504.2M364.6 421L364.5 605.7M364.5 605.7L365.1 396.7M369 417.3L369.1 267.9M369.1 267.9L369.4 328.2M369.7 404.9L369.7 559M369.7 559L370.2 446.9M370.2 446.9L370.4 530.8M370.4 530.8L370.6 369.8M370.9 413.4L371 583.7M371 583.7L371.4 495.6M371.4 495.6L371.3 559.9M371.3 559.9L371.8 573.1M371.8 573.1L372 409M372.3 355.7L372.6 271.2M372.6 271.2L372.5 596.5M372.5 596.5L373 467.2M374.3 468L374.6 272.5M374.6 272.5L374.9 434.9M379.7 393.9L379.5 579.2M379.5 579.2L379.9 341.6M380.9 366.5L381.5 196.6M381.5 196.6L381.3 458.2M381.7 392.7L382 562.6M382 562.6L381.9 475.4M381.9 475.4L382.5 187M382.5 187L382.5 438.6M382.9 428.7L383.1 539.8M383.1 539.8L383.2 474M386.5 331.4L386.5 579.2M386.5 579.2L386.9 347.8M390.2 358.2L390.4 265.4M390.4 265.4L390.4 403.3M395.7 378.2L395.5 628.8M395.5 628.8L396 408.8M398.4 462.8L398.5 260.1M398.5 260.1L398.7 322.2M399.7 507.6L400 551.8M400 551.8L400.1 352.5M400.3 421.1L400.5 598.8M400.5 598.8L400.5 484.5M400.5 484.5L401 565.4M401 565.4L400.9 538.1M400.9 538.1L401.4 543.8M401.4 543.8L401.4 494.2M403.8 417.3L404 261.1M404 261.1L404.2 460.3M406 409.4L406.5 598.8M406.5 598.8L406.6 383.6M408.1 379.6L408.1 557.6M408.1 557.6L408.6 567.3M408.6 567.3L408.8 447.8M412 346.6L412.1 537.4M412.1 537.4L412.1 445.8M412.7 304.2L413.2 247M413.2 247L413.3 206.2M413.3 206.2L413.4 339.1M413.9 283.1L413.9 258.7M413.9 258.7L414.2 370.8M414.8 409.2L415.2 248.8M415.2 248.8L415.2 389.3M415.5 373.7L415.9 528.9M415.9 528.9L416 483M417.8 310.4L417.5 655.3M417.5 655.3L417.9 402.5M421.4 476.8L421.5 538.8M421.5 538.8L421.7 470.9M426.7 400.6L426.5 559.6M426.5 559.6L427.3 416.3M430 378.1L430.1 580.2M430.1 580.2L430.5 354.5M431.6 273.8L431.9 257.8M431.9 257.8L432.1 300M435 307.2L435.5 680M435.5 680L435.5 191.5M435.5 191.5L435.5 417.1M436.5 391.7L436.5 559.6M436.5 559.6L437.1 488.2M437.7 446.4L437.7 534M437.7 534L437.9 474.3M438.2 379.1L438.4 566.6M438.4 566.6L438.8 313.5M438.8 313.5L438.5 154.5M438.5 154.5L439 496.3M439.5 356L439.9 521.9M439.9 521.9L440.1 465.7M440.6 411.5L441 528.5M441 528.5L441 517M443.1 499.6L443.3 587.4M443.3 587.4L443.5 509.3M446.8 295.9L446.8 222.4M446.8 222.4L446.9 270.2M446.9 270.2L447.3 200.9M447.3 200.9L447.6 304.2M447.5 328.8L447.9 244.1M447.9 244.1L448 217.3M448 217.3L448.5 643.8M448.5 643.8L448.6 478.9M449.2 489.9L449.3 240.7M449.3 240.7L449.6 380.4M450.3 350.9L450.5 243.8M450.5 243.8L450.6 365.3M451.9 399.5L452.2 545.7M452.2 545.7L452.3 329.2M453.3 311.4L453.5 265.9M453.5 265.9L453.6 311.3M455.4 422.1L455.5 612.7M455.5 612.7L455.7 445.5M456.2 455.9L456.6 249.4M456.6 249.4L456.6 375.9M457.7 338.6L457.7 249.6M457.7 249.6L458.1 324.5M458.4 462.6L458.6 530.5M458.6 530.5L459 387.3M459.1 492L459.6 521.8M459.6 521.8L459.8 437.5M462.1 339.2L462.6 248.5M462.6 248.5L462.7 338.9M465.2 504.6L465.3 528.9M465.3 528.9L465.5 423.5M467.5 351.7L467.5 265.1M467.5 265.1L467.5 181M467.5 181L467.9 338.1M467.9 338.1L468.4 233.7M468.4 233.7L468.3 413.7M470.1 362L470.2 264M470.2 264L470.4 260M470.4 260L470.6 328.9M473.1 284L473.5 238M473.5 238L473.8 362M474.5 476.7L474.6 532.2M474.6 532.2L475 307.2M475.4 389.5L475.5 224M475.5 224L475.9 376.7M478.3 498.5L478.4 560.6M478.4 560.6L478.7 451.2M480.5 348.2L480.6 253M480.6 253L480.7 312.9M481.2 447.6L481.3 263M481.3 263L481.5 129.8M481.5 129.8L481.7 252.3M481.7 252.3L482.1 379.8M482.9 284.7L483.5 573.4M483.5 573.4L483.6 499.1M484 408.1L484.4 226.8M484.4 226.8L484.3 334.6M485.6 447.6L485.5 171.4M485.5 171.4L486 293.6M486.8 512L487 517.6M487 517.6L487.3 523.8M487.3 523.8L487.5 395.5M487.9 282.2L488.1 243.6M488.1 243.6L488.3 346.2M488.3 346.2L488.5 565.8M488.5 565.8L488.7 561.1M488.7 561.1L488.8 510.8M489.8 422.5L489.5 202.7M489.5 202.7L490.2 488M490.2 488L490.4 540.7M490.4 540.7L490.6 437.9M490.5 382.7L491 228M491 228L491.1 305.3M493.6 332L493.6 256.2M493.6 256.2L493.8 428.9M493.8 428.9L494.1 263.8M494.1 263.8L494.1 230.6M494.1 230.6L494.5 234.8M494.5 234.8L494.7 245.7M494.7 245.7L494.9 383M495.3 418.2L495.7 521.5M495.7 521.5L496 431.6M496 453.4L496.2 521.3M496.2 521.3L496.3 488.8M497.7 460.2L498 543.4M498 543.4L498.4 507M498.7 337.8L499.2 545.2M499.2 545.2L499.3 530.2M499.3 530.2L499.4 453.3M499.7 498.4L500.2 520.1M500.2 520.1L500.3 526.1M500.3 526.1L500.5 459.3M504 306.8L504.2 202.9M504.2 202.9L504.6 409.2M506.9 398.6L507.1 551M507.1 551L507.3 278.1M508.9 280.2L508.9 550.5M508.9 550.5L509.4 477.6M509.4 477.6L509.5 203.8M509.5 203.8L509.6 342M510.1 308.2L510.3 235.6M510.3 235.6L510.7 302.2M511.4 346.8L511.5 563.8M511.5 563.8L512 395.9M513 325.2L513 262.1M513 262.1L513.1 284.8M516 435.8L515.9 254.2M515.9 254.2L516.4 329.8M518 411.7L518.5 579.2M518.5 579.2L518.5 357.5M521.9 510.1L521.9 520.6M521.9 520.6L522.3 449.7M523.9 495.8L523.5 193.9M523.5 193.9L524.2 447.8M524.9 385.5L525 237.9M525 237.9L525.2 263.9M525.2 263.9L525.6 217.5M525.6 217.5L525.5 168.4M525.5 168.4L525.9 289.5M528.2 277.2L528.5 561.2M528.5 561.2L528.7 322.2M532.2 341.5L532.1 227.7M532.1 227.7L532.6 391.2M532.6 391.2L532.8 521.7M532.8 521.7L532.8 443.3M533.1 300.4L533.2 262M533.2 262L533.4 409.4M534.9 399.6L535.3 519M535.3 519L535.5 436.6M536.8 497.8L537.1 545.3M537.1 545.3L537.4 543.7M537.4 543.7L537.3 407.1M537.3 407.1L537.6 524.9M537.6 524.9L538 560.5M538 560.5L538 438M538.9 478.8L539 532.6M539 532.6L539.2 479M539.2 479L539.4 527.2M539.4 527.2L539.7 523.3M539.7 523.3L539.9 469.1M540.3 410.9L540.5 263.2M540.5 263.2L540.7 252.1M540.7 252.1L540.9 328M543.3 352.8L543.5 575M543.5 575L543.6 301.9M546.3 299L546.5 192.2M546.5 192.2L546.8 372.2M548.7 342.3L548.5 180.7M548.5 180.7L549 331.4M549.5 272.1L549.5 235.1M549.5 235.1L549.8 242.6M549.8 242.6L550 426.2M550.4 406.1L550.5 576.2M550.5 576.2L550.5 388.2M552.6 313.8L552.7 241.6M552.7 241.6L552.9 337.4M554.1 357.7L554.2 521.5M554.2 521.5L554.5 463.1M554.5 463.1L554.6 560.6M554.6 560.6L554.8 444.4M557.4 510.6L557.7 581M557.7 581L557.9 546.9M557.9 546.9L558 389.8M562.9 333L563.1 254M563.1 254L563.3 425.1M564.3 290.9L564.7 230.5M564.7 230.5L565 301.1M565.2 281.8L565.5 196.4M565.5 196.4L565.4 557.4M565.4 557.4L565.7 464.6M565.7 464.6L565.8 537.8M565.8 537.8L566.1 381.1M568.9 443.8L568.9 536.4M568.9 536.4L569.4 477M570.4 345.3L570.5 204.9M570.5 204.9L570.9 239.9M570.9 239.9L571.2 327.5M571.6 351.8L571.5 573.4M571.5 573.4L571.9 515.6M571.9 515.6L572 344.4M572.9 269L573 242.6M573 242.6L573.2 378.9M573.6 425.7L573.7 528.1M573.7 528.1L573.9 472.3M575.1 265.9L575.5 565M575.5 565L575.6 261.4M578.7 363.3L578.7 237.6M578.7 237.6L578.9 291.1M581.8 410.6L581.8 533.6M581.8 533.6L582.1 433.2M583.5 392.4L583.6 239.1M583.6 239.1L583.8 351M585 296.2L585.2 258M585.2 258L585.3 347.1M587.9 352.7L588.2 239.6M588.2 239.6L588.5 609.2M588.5 609.2L588.5 507.5M588.5 507.5L588.5 513M588.5 513L588.8 437.5M591.2 276.6L591.3 218.3M591.3 218.3L591.5 254.7M591.5 254.7L591.7 352.9M592.2 348.4L592.4 235.9M592.4 235.9L592.6 308.2M593 503.5L593.1 535.5M593.1 535.5L593.6 541.4M593.6 541.4L593.5 396.2M595.1 475.2L595.2 556.7M595.2 556.7L595.6 545.4M595.6 545.4L595.6 516.2M595.6 516.2L595.8 435.3M597.3 351L597.5 195.7M597.5 195.7L597.7 546.2M597.7 546.2L597.8 524.2M597.8 524.2L598.1 470.5M598.7 344L599.1 519.8M599.1 519.8L599.3 404.8M602.1 481.3L602.5 195.7M602.5 195.7L602.3 420M603.1 504.6L603.1 513.3M603.1 513.3L603.5 370M603.6 436.2L603.8 514.1M603.8 514.1L604.1 503.9M605.4 298.3L605.5 574.6M605.5 574.6L605.5 480.9M606.1 268.1L606.3 233.6M606.3 233.6L606.6 327.4M607.3 478.9L607.5 516.1M607.5 516.1L607.7 410.6M607.7 410.6L607.5 195M607.5 195L608.1 453.7M608.7 297.4L609 243.6M609 243.6L609.4 291.7M611.1 423.7L611.2 520.4M611.2 520.4L611.4 414.1M612.2 499.2L612.5 152.6M612.5 152.6L612.8 301.2M613.1 418.6L613.4 534.5M613.4 534.5L613.4 483.8M614.5 275.7L614.7 230.8M614.7 230.8L614.8 411.2M614.8 411.2L615 514.2M615 514.2L615.3 262.9M615.7 317.3L615.8 247.4M615.8 247.4L615.9 327M615.9 327L616.1 511.3M616.1 511.3L616.5 346.5M617.5 330.8L617.5 250.5M617.5 250.5L617.8 457.5M619 399.1L619.3 531.9M619.3 531.9L619.3 336M621.3 303.9L621.5 187.7M621.5 187.7L622 265.9M622.2 439.7L622.5 136.4M622.5 136.4L622.8 447.3M623.7 345L623.8 238.4M623.8 238.4L624.1 368.6M625 284.3L625.2 526.9M625.2 526.9L625.2 321.3M626.2 425.2L626.5 568.1M626.5 568.1L626.7 418.2M628.2 287.7L628.5 203.8M628.5 203.8L628.7 321.2M629.5 280.8L629.6 256.8M629.6 256.8L629.9 344.1M632.4 350.1L632.8 552.3M632.8 552.3L632.9 536.6M632.9 536.6L633.1 452.3M633.7 297.9L633.9 238.7M633.9 238.7L634 338.7M634.8 315.4L634.5 162.7M634.5 162.7L635.2 500.7M641.4 270.8L641.5 252.7M641.5 252.7L641.6 319.5M641.7 419.1L642 524.3M642 524.3L642.3 476.4M642.8 429.2L643.1 537M643.1 537L643.2 528.9M643.2 528.9L643.6 452.5M645.7 469.5L645.5 191.6M645.5 191.6L645.9 491.6M647 444L646.9 555.1M646.9 555.1L647.3 484.8M653.5 281.7L653.6 240.4M653.6 240.4L654 371.6M655.2 298.1L655.5 605.3M655.5 605.3L655.6 308.7M656.3 336.6L656.4 263.7M656.4 263.7L656.5 200.1M656.5 200.1L656.9 399.1M656.9 399.1L657 210.1M657 210.1L657.1 328.5M658.7 370.1L659 554.4M659 554.4L658.9 454.3M660.8 281.9L660.9 230.6M660.9 230.6L661.3 276.8M663 480.7L663.3 533.8M663.3 533.8L663.3 322.3M665.6 339.2L665.8 566.6M665.8 566.6L665.9 421.2M666.9 366L667.1 535.4M667.1 535.4L667.2 430.8M670.5 339.5L670.8 225.9M670.8 225.9L670.7 459.5M672.2 489.4L672.5 575M672.5 575L672.5 297M673 335.9L673.1 265.4M673.1 265.4L673.2 329.7M674.6 414.7L674.7 528.8M674.7 528.8L674.7 360.3M676 359.3L676.4 256.8M676.4 256.8L676.4 378M676.8 430.7L677.2 198.7M677.2 198.7L677.4 337.9M679 449.4L679.2 261.9M679.2 261.9L679.5 262.7M679.5 262.7L679.7 368.8M679.8 343.8L680 197.9M680 197.9L680.3 402.9M681.1 512.9L681.3 258.1M681.3 258.1L681.3 236.2M681.3 236.2L681.7 298.9M681.8 392.5L682 274.5M682 274.5L682.4 367.8M682.4 367.8L682.5 616.8M682.5 616.8L682.6 448.7M686.5 340L686.6 257.6M686.6 257.6L686.9 459.6M689.4 467.1L689.4 569.3M689.4 569.3L689.6 548.6M689.6 548.6L689.7 408.9M690.2 331.7L690.3 230.6M690.3 230.6L690.6 409.4M691.2 455.7L691.5 604.6M691.5 604.6L691.5 449.4M693.4 375.1L693.8 264.9M693.8 264.9L693.7 351.6M695.3 324.5L695.5 274M695.5 274L695.5 258.3M695.5 258.3L695.9 321.7M696.1 310.6L696.4 275.1M696.4 275.1L696.5 437.9M698.8 309L699.1 262.4M699.1 262.4L699.2 260.7M699.2 260.7L699.4 332.5M699.9 400.7L699.9 275.2M699.9 275.2L700.1 347.9M701.9 386.9L702 276.7M702 276.7L702.3 409.9M704 448.9L704.5 586.8M704.5 586.8L704.5 509M704.8 423.3L704.9 539M704.9 539L705.2 480.9M706.8 454.1L706.5 202M706.5 202L707.2 411.4M707.7 520.1L707.8 538.1M707.8 538.1L708 435.4M710.9 317.3L711.4 250M711.4 250L711.4 299.6M711.4 299.6L711.5 601.8M711.5 601.8L711.8 495.6M711.9 357.3L712.2 238.9M712.2 238.9L712.4 260.4M712.4 260.4L712.8 298.7M713 402.1L713.5 146.8M713.5 146.8L713.3 416.9M713.3 416.9L713.5 285.3M713.5 285.3L713.9 407.4M716.3 352.9L716.3 555.8M716.3 555.8L716.6 448.5M718 310.9L718.3 275.9M718.3 275.9L718.4 335.7M721.9 328.1L722.4 574.3M722.4 574.3L722.5 395.9M722.5 395.9L722.5 592.6M722.5 592.6L722.7 383.7M724.4 289.3L724.5 244.3M724.5 244.3L724.8 225.2M724.8 225.2L725 479.8M725.5 367.5L725.7 275.4M725.7 275.4L725.9 497.1M726.5 439.4L726.5 169.7M726.5 169.7L727 318.9M727.5 492L727.6 554.8M727.6 554.8L727.8 430.7M728 420.5L728.1 542.4M728.1 542.4L728.4 454.6M729.3 368.7L729.7 255.5M729.7 255.5L729.8 314.8M733.3 507L733.4 560.5M733.4 560.5L733.6 494.4M734.3 490.6L734.4 285.3M734.4 285.3L734.5 475.9M735.2 468.4L735.5 289.4M735.5 289.4L735.6 334.1M736.1 526.5L736.1 284.7M736.1 284.7L736.5 569.3M736.5 569.3L736.7 428.8M738.7 476.2L738.7 197.2M738.7 197.2L739.2 339.7M739.2 339.7L739.3 279.8M739.3 279.8L739.4 479.9M740.7 302.5L740.8 249.8M740.8 249.8L741.2 363.4M741.1 301L741.5 269.5M741.5 269.5L741.5 480.8M742.6 478.6L742.6 289.4M742.6 289.4L742.7 296.4M742.7 296.4L743.1 543.1M743.1 543.1L743.2 432.7M746.1 517.6L746.3 551.5M746.3 551.5L746.7 472.2M746.7 472.2L746.5 198M746.5 198L747 488.1M748.8 458L748.5 581.5M748.5 581.5L749.1 474.9M751.6 343.6L751.5 618.4M751.5 618.4L751.9 414M753.5 365.1L753.9 271.1M753.9 271.1L753.9 403.9M755.5 300L755.6 232.9M755.6 232.9L755.8 250.6M755.8 250.6L756.1 417M758.3 476.6L758.4 558.1M758.4 558.1L758.6 468M758.6 468L758.5 189.5M758.5 189.5L759.2 435.2M759.2 307.3L759.3 288.7M759.3 288.7L759.7 333.2M759.7 333.2L759.7 556.4M759.7 556.4L760 516.6M760.3 524.7L760.5 615M760.5 615L760.6 484.2M762.3 422.7L762.4 282.9M762.4 282.9L762.5 440.6M763.7 402.7L763.9 580.4M763.9 580.4L764.1 546.6M764.1 546.6L764.3 464.3M764.4 416L764.5 576.4M764.5 576.4L764.7 506M766.6 444.2L766.7 557.7M766.7 557.7L766.9 385.7M773.6 343.3L773.5 587.3M773.5 587.3L774.2 254.3M774.2 254.3L774.1 350.5M774.1 350.5L774.5 587.8M774.5 587.8L774.6 489.5M774.6 489.5L774.8 586.5M774.8 586.5L775.2 465M776.8 364.1L776.9 286M776.9 286L777.2 337.9M779.6 543.4L779.9 576.2M779.9 576.2L780.2 501.5M780.3 397.2L780.7 546.1M780.7 546.1L781 455.2M782.7 311.6L783.1 265.4M783.1 265.4L783.3 441.3M783.9 385.7L784 279.9M784 279.9L784.2 415.3M784.2 415.3L784.5 215M784.5 215L784.7 449.7M784.8 473.5L785.1 583.9M785.1 583.9L785.2 554.1M785.2 554.1L785.5 564.3M785.5 564.3L785.5 453.4M786.8 443.5L787 545.5M787 545.5L787.1 425M787.7 532.8L787.5 586M787.5 586L788.1 343.2M788.9 367L789 287.1M789 287.1L789.4 288.4M789.4 288.4L789.4 320.6M791 472.4L791.3 574.3M791.3 574.3L791.5 543.4M792.1 514.7L792.4 562.7M792.4 562.7L792.5 421M794.5 468.4L794.7 272.8M794.7 272.8L794.9 252.3M794.9 252.3L794.9 306.8M803.8 317.6L804.2 278.8M804.2 278.8L804.2 347.8M808 376.8L808.5 612M808.5 612L808.4 241.6M808.4 241.6L808.7 430.3M809.1 355.4L809.1 570.4M809.1 570.4L809.6 531.9M809.7 476.8L809.5 591.2M809.5 591.2L810.1 275.8M810.1 275.8L810.2 423.4M810.8 458.2L811.1 551M811.1 551L811.4 454.2M811.4 454.2L811.4 565.6M811.4 565.6L811.7 466.4M812 521.5L812.1 553M812.1 553L812.1 479.4M815.1 383.8L815.5 206.6M815.5 206.6L815.5 319.4M819.7 379.2L819.5 600.4M819.5 600.4L820.1 480.2M823.1 535L823.2 557.9M823.2 557.9L823.5 525M826.4 361L826.5 218M826.5 218L826.8 286.1M826.8 286.1L827.1 400.7M827.4 496.3L827.7 277.4M827.7 277.4L827.9 301.9M827.9 301.9L828.1 279.7M828.1 279.7L828.3 357.7M828.5 473.3L828.5 641M828.5 641L829.2 394.5M830.1 507.8L830.3 549.9M830.3 549.9L830.5 516.4M831.8 477.6L832 565.7M832 565.7L832 502.2M833.2 404.8L833.5 655.8M833.5 655.8L833.7 382.4M834 472.2L834.3 238.5M834.3 238.5L834.4 351.8M836.9 363.5L836.5 601M836.5 601L837.3 330.4M837.3 523.6L837.7 553.6M837.7 553.6L838 364.4M839.1 536.3L839.3 574.7M839.3 574.7L839.6 518.5M840.1 371.6L840.5 180.7M840.5 180.7L840.6 446.6M840.9 487.7L841.1 564.1M841.1 564.1L841.1 510.6M842 504.1L842.3 544.6M842.3 544.6L842.4 345.2M843.7 461.5L843.8 270.7M843.8 270.7L844.1 462.3M846.9 464.3L847.1 268.7M847.1 268.7L847.3 449.2M847.9 488.7L848.3 555.5M848.3 555.5L848.5 429.3M848.5 429.3L848.5 277.4M848.5 277.4L848.9 510.2M848.9 510.2L849.1 550.4M849.1 550.4L849.3 432.3M849.4 436.4L849.5 287.9M849.5 287.9L849.5 192.3M849.5 192.3L850 306.1M850.6 407.4L851 271.1M851 271.1L851.1 306.4M851.8 356.7L851.8 267.4M851.8 267.4L852.2 418.6M852.2 418.6L852.2 556.8M852.2 556.8L852.4 458.5M854.5 345.4L854.7 281.5M854.7 281.5L854.9 301.7M858.1 488.4L858.2 292.4M858.2 292.4L858.4 397.7M858.6 468L858.9 543.1M858.9 543.1L859 424.6M860.5 466.7L860.8 565.7M860.8 565.7L861 528.3M862.3 326.5L862.6 288.5M862.6 288.5L862.8 257.6M862.8 257.6L863 375M863 375L863.2 550.9M863.2 550.9L863.4 408.1M866.7 378.5L866.9 552.5M866.9 552.5L867.1 430M868 413.2L868.4 583.1M868.4 583.1L868.3 423.8M868.3 423.8L868.7 545M868.7 545L868.7 430.6M869.7 492.9L869.5 612.7M869.5 612.7L870 505M872.7 322.2L872.9 229.3M872.9 229.3L873.2 351.8M873.8 292.5L874 284.1M874 284.1L874.3 434M874.5 471.3L874.7 583.5M874.7 583.5L875.2 550.3M875.2 550.3L875.2 498.6M876.4 415L876.4 270.1M876.4 270.1L876.6 335.1M877.1 472.1L877.2 284.9M877.2 284.9L877.5 590.3M877.5 590.3L877.6 457.4M879.7 368.4L879.7 281.2M879.7 281.2L880.1 506.8M882.3 438.6L882.5 665.7M882.5 665.7L882.7 339.6M883.4 309.4L883.7 279.7M883.7 279.7L884 446M886.9 300.3L887.1 291.4M887.1 291.4L887.3 360.6M887.3 360.6L887.5 241.2M887.5 241.2L887.7 311.9M890.2 511.6L890.3 290.1M890.3 290.1L890.4 506.8M891.2 422.4L891.5 587.3M891.5 587.3L891.3 310.7M895.4 350.7L895.6 276.1M895.6 276.1L895.8 390.2M895.8 390.2L896.1 281.2M896.1 281.2L896.2 387.8M899.7 475.1L899.5 616.1M899.5 616.1L899.9 488M901.6 478.9L901.8 576.1M901.8 576.1L902.1 364M902.8 532L903.1 570.5M903.1 570.5L903.4 518.7M905.3 355.4L905.4 270.5M905.4 270.5L905.7 388.2M905.7 388.2L905.8 287.5M905.8 287.5L906 364.9M907.9 532.4L907.9 561.2M907.9 561.2L908.3 466.4M909 464.6L909.4 285.3M909.4 285.3L909.5 416.8M910.1 410.1L910.3 275.4M910.3 275.4L910.5 246.9M910.5 246.9L910.6 232.9M910.6 232.9L910.9 318.7M910.9 318.7L911 250.6M911 250.6L911.4 214M911.4 214L911.4 291.5M911.9 379.2L911.9 542M911.9 542L912.2 425.6M913.9 485L914.1 239M914.1 239L914.5 346.3M914.8 445.9L915 577.7M915 577.7L915.1 396.8M917.5 396.8L917.8 233.4M917.8 233.4L917.9 426.1M918.1 363.7L918.5 195.7M918.5 195.7L918.4 366.5M918.4 366.5L918.6 285M918.6 285L919 462M919.3 392L919.5 607.4M919.5 607.4L919.6 385M919.6 385L919.8 275.8M919.8 275.8L919.9 348.6M921.3 344L921.4 286.2M921.4 286.2L921.7 361.4M923.5 396.6L923.7 551.3M923.7 551.3L923.9 498.3M924.3 351L924.5 289.5M924.5 289.5L924.5 284M924.5 284L925 500.6M925.5 363L925.5 142.7M925.5 142.7L925.9 415.7M927.4 362.7L927.6 284.7M927.6 284.7L927.8 390.1M929.4 492.3L929.4 563.9M929.4 563.9L929.7 446.2M930.9 421.8L931 574.6M931 574.6L931.3 531.2M931.4 519L931.7 587.6M931.7 587.6L931.7 403.4M932.4 302.8L932.7 254.2M932.7 254.2L932.8 373.6M933.4 461.6L933.5 602.3M933.5 602.3L933.8 273.3M933.8 273.3L934.2 408M935 303.7L935.3 201.3M935.3 201.3L935.6 381.2M941.3 373.4L941.6 234.4M941.6 234.4L941.8 281.7M941.8 281.7L942 373.9M942 373.9L942.3 265.2M942.3 265.2L942.5 225.6M942.5 225.6L942.6 390.7M944.3 317.6L944.5 618.9M944.5 618.9L944.6 287.6M944.6 287.6L944.7 307.4M947.3 454.9L947.4 543.7M947.4 543.7L947.8 378.5M947.8 378.5L948 279.7M948 279.7L948 344.8M948 344.8L948.5 206M948.5 206L948.3 337.1M948.7 404L948.9 279.5M948.9 279.5L949.2 425M950.1 483.3L950.3 557.2M950.3 557.2L950.6 446.6M950.6 446.6L950.9 272.3M950.9 272.3L951.1 336.2M952.1 463.7L952.2 559.4M952.2 559.4L952.5 498.2M952.5 498.2L952.5 558.8M952.5 558.8L952.5 170.8M952.5 170.8L953 536.6M955.7 421.4L955.9 270.7M955.9 270.7L956.2 268.5M956.2 268.5L956.5 621.9M956.5 621.9L956.8 257.8M956.8 257.8L956.8 372.5M958.4 332L958.6 235.9M958.6 235.9L958.9 284M958.9 284L959.1 391.5M961.7 389.6L962 288.8M962 288.8L962.2 291.6M963.6 375.9L963.5 626.5M963.5 626.5L964.1 522M964.3 407.6L964.5 278.4M964.5 278.4L964.6 220.8M964.6 220.8L964.7 232.5M964.7 232.5L965 298.2M967.3 354L967.5 154.7M967.5 154.7L967.6 256.7M967.6 256.7L968 262.6M968 262.6L968.1 430M971.4 363.7L971.5 601M971.5 601L971.6 461.7M972.2 369.8L972.1 568.9M972.1 568.9L972.4 464.1M973.7 463.7L973.7 243M973.7 243L974 349.7M974.2 351.7L974.4 546.2M974.4 546.2L974.6 498.1M975.7 401.4L976.2 237.6M976.2 237.6L976.3 327.3M980.4 344.7L980.5 151.9M980.5 151.9L981 479.1M981.4 382.3L981.5 171M981.5 171L981.8 311.9M982.1 375.7L982.5 236.8M982.5 236.8L982.7 245.4M982.7 245.4L982.9 475.6M983.4 464.2L983.7 283M983.7 283L984 355.9M984 355.9L984.1 255.4M984.1 255.4L984.4 361.4M984.4 361.4L984.6 258.1M984.6 258.1L984.6 430M984.6 430L984.8 250.1M984.8 250.1L985.1 374.7M985.7 502.4L985.9 286M985.9 286L986.3 306.4M987.7 308.6L988.2 265.9M988.2 265.9L988.2 307.7M988.2 307.7L988.3 278.4M988.3 278.4L988.5 400.7M989.1 523.2L989.3 587.4M989.3 587.4L989.3 352.5M990.2 475.4L990.4 540.7M990.4 540.7L990.6 497.8M990.5 468.1L990.9 278M990.9 278L991 419.2M991.9 420.2L991.5 599.5M991.5 599.5L992.2 341.4M992.7 343.9L992.8 268.4M992.8 268.4L993 380.5M995.5 334L995.6 280.1M995.6 280.1L995.8 434.7"/></g><g fill="none" stroke="rgb(222,170,152)" stroke-opacity="0.56" stroke-width="4.6" stroke-linecap="round"><path d="M121.6 741.7h0M123.1 711.1h0M124.1 757.7h0M125.1 728.7h0M126.1 718.6h0M127.2 761.9h0M128.1 727.9h0M129.2 718.4h0M130.5 728.3h0M131.7 762.1h0M132.9 748.5h0M134 771.3h0M135.1 737h0M136.4 695.8h0M137.2 739h0M138.4 748.2h0M139.5 693.8h0M140.7 701.4h0M142 706h0M143.1 711.4h0M144.1 743.6h0M145.1 705.7h0M146.3 749h0M147.3 707.3h0M148.8 756.6h0M149.8 769.3h0M150.5 724h0M151.6 702.2h0M152.7 732.7h0M153.8 720.5h0M155 701.4h0M155.8 772.3h0M156.9 737.4h0M157.9 772.2h0M158.9 740.8h0M159.8 730.3h0M160.8 755.9h0M162 757h0M163.2 710.5h0M164.2 724.4h0M165.3 745.6h0M166.3 710h0M167.1 768.8h0M168.3 732.5h0M169.4 686.9h0M170.7 730.9h0M171.6 729.2h0M172.9 724.8h0M173.9 747.1h0M175 729.5h0M176 735.7h0M177.2 737.8h0M177.9 758.1h0M179.1 759.6h0M180 707.2h0M181.3 744.3h0M182.6 710.1h0M183.6 757h0M184.6 735.4h0M185.8 740.7h0M186.9 749.1h0M187.9 730.4h0M188.9 744.4h0M190.1 725.9h0M191.4 756.5h0M192.4 701.2h0M193.3 762.3h0M194.3 722.7h0M195.5 722.8h0M196.5 741h0M197.6 746.6h0M198.5 741.6h0M200 742.5h0M200.7 687.3h0M202 726.6h0M203.2 724.7h0M204.4 719.7h0M205.1 771.5h0M206.3 725.8h0M207.6 719.6h0M209.2 739.4h0M210 731.8h0M211 696.1h0M212 769.1h0M213.1 753.2h0M214.3 702.1h0M215.3 754.5h0M216.6 759.3h0M217.7 713.9h0M219 721.8h0M219.9 763.1h0M221.2 712.7h0M222.4 744.1h0M223.7 738.5h0M224.7 768h0M226.1 714.2h0M227.1 725.5h0M228.1 741.6h0M229.2 726.3h0M230.1 748.2h0M231 702.6h0M232.5 765.6h0M233.4 709.5h0M234.8 737.7h0M235.8 739h0M237.1 722.4h0M238.4 733.6h0M239.3 753.8h0M240.5 695.5h0M241.6 686.6h0M242.5 753h0M243.7 721h0M244.8 721.3h0M246.3 751.9h0M247.6 723.7h0M248.5 740.8h0M249.6 720.6h0M250.4 699.8h0M251.4 757.7h0M252.6 716.1h0M253.6 727.1h0M254.6 769.5h0M255.7 693.8h0M256.7 691.6h0M257.6 699.9h0M258.8 735.5h0M259.8 711.2h0M260.9 762.6h0M261.9 744.6h0M262.9 736.9h0M264.2 713.5h0M265.4 743.1h0M266.4 713.1h0M267.2 706.3h0M268.5 723.6h0M269.6 750.5h0M270.7 718.3h0M272 703.3h0M273.2 767.6h0M274.3 745.9h0M275.1 759.1h0M276.2 756.6h0M277.3 717.9h0M278.3 701.9h0M279.2 748.8h0M280.3 756.6h0M281.2 722h0M282.3 708.5h0M283.2 709.6h0M284.4 727.8h0M285.2 696.9h0M286.1 765h0M287.2 710.1h0M289 712.9h0M290.1 716.7h0M291.2 766.9h0M292.4 727h0M293.4 714.1h0M294.6 735.4h0M295.6 765.3h0M296.5 752.7h0M297.6 718.9h0M298.8 710.9h0M300 690.7h0M301.6 764.4h0M302.3 689.1h0M303.6 746.6h0M304.6 729.4h0M305.5 741.6h0M306.8 736.7h0M308.1 727.8h0M309 708.5h0M310.2 736.8h0M311.3 769.9h0M312.4 692.7h0M313.4 753.1h0M314.3 731.9h0M315.5 747.1h0M316.3 731h0M317.5 721h0M318.5 716.6h0M319.6 696.9h0M320.8 700.4h0M321.7 749.6h0M323.2 769h0M324.2 755h0M325.6 738.4h0M326.6 752.8h0M327.5 754.6h0M328.6 739.4h0M329.7 726.2h0M330.7 706.8h0M332.2 726.3h0M333.2 744.6h0M334.3 712.2h0M335.5 745h0M337.4 722.4h0M338.2 697.7h0M339.2 735.6h0M340.2 701.3h0M341.1 729.3h0M342.5 726.7h0M343.7 756.2h0M344.8 762.5h0M345.9 757.1h0M347.2 728.7h0M347.9 755.9h0M349 706.1h0M350.6 715.2h0M351.7 702.6h0M353.2 751.1h0M354.2 718.6h0M355.2 765h0M356.1 734.1h0M357.2 743.9h0M358.8 722.2h0M359.7 691.9h0M361 732.4h0M362.2 758.1h0M363.1 719.5h0M363.9 763.6h0M365.1 751.7h0M366.2 739.2h0M367 734.6h0M368.1 715.8h0M369.2 752.5h0M370.5 694.7h0M371.7 754.6h0M372.7 739.3h0M374.2 770.7h0M375.2 727.6h0M376.3 705.6h0M377.3 710.6h0M378.2 710.3h0M379.1 721h0M380.4 720.8h0M381.3 699.3h0M382.2 695h0M383.4 758.4h0M384.8 761.2h0M385.6 758.6h0M387.2 762.4h0M388.3 740.6h0M389.2 736.8h0M390.1 694.5h0M391.4 698.3h0M392.5 705.9h0M393.5 740.1h0M394.7 723.6h0M395.8 718.6h0M396.8 696.2h0M398.1 757.6h0M399 747.8h0M400.3 760.2h0M401.5 704.9h0M402.8 715.3h0M404.2 702.7h0M405.3 689.1h0M406.3 723.5h0M407.4 755.7h0M408.5 733.8h0M409.4 703h0M410.7 733.7h0M411.7 711.8h0M412.6 698.3h0M413.8 701.8h0M414.5 740.8h0M415.6 756.4h0M416.6 708.5h0M417.6 750.7h0M419 714.9h0M419.9 708.9h0M421 714.5h0M422.1 753.7h0M423.1 730h0M424 737h0M425 756.8h0M426 726h0M427.2 759.4h0M428.2 749.6h0M429.3 728.1h0M430.3 759.9h0M431.4 698.4h0M432.3 721.8h0M433.5 744.4h0M434.4 727.8h0M435.7 738.5h0M436.7 743.9h0M437.7 693.7h0M439.1 739.5h0M440.3 783.1h0M442 743.1h0M443.4 723.8h0M444.2 738.7h0M445.2 728.3h0M446.3 754.5h0M447.2 708.8h0M448.2 750.6h0M449.4 747.1h0M450.5 720.1h0M452.1 715.8h0M453.2 697.2h0M453.9 745.4h0M455.3 718.6h0M456.6 721.1h0M457.5 762.4h0M458.7 734.4h0M459.7 701.4h0M460.7 745.3h0M461.7 766.8h0M462.5 719.4h0M463.8 748.1h0M464.9 696.2h0M466 713.7h0M466.9 765.7h0M468 746.5h0M469.2 704h0M470.3 763.5h0M471.6 750h0M472.4 709.6h0M473.3 714.3h0M474.3 758.9h0M475.3 748.3h0M476.5 733.8h0M477.7 743.2h0M478.9 746.2h0M480.1 773.6h0M480.9 709.8h0M482 762.5h0M483.3 768.1h0M484.3 752.5h0M485.3 705.1h0M486.5 725.8h0M488 708h0M489.3 769h0M490.3 710.9h0M491.4 704.2h0M492.4 723.2h0M493.1 708.6h0M494.2 789.9h0M495.4 733.5h0M496.6 756.9h0M497.6 766.4h0M499.1 724.4h0M500.4 766.4h0M501.4 703.3h0M502.3 690.3h0M503.4 716.1h0M504.7 736.7h0M505.7 688.1h0M506.6 720h0M507.9 736.2h0M508.9 727.9h0M510 712.6h0M511 733.3h0M512.4 693.2h0M513.4 710.9h0M515 733.6h0M516.1 726.8h0M517.3 759.6h0M518.2 747.9h0M519.5 724.1h0M520.4 756.5h0M521.5 711.7h0M522.4 760.9h0M523.6 716h0M524.9 758.1h0M526 746.3h0M527.1 751.2h0M528.2 738h0M529.1 722.9h0M530.1 721h0M531 781.4h0M532.1 742.1h0M533.2 716.5h0M534.3 757.5h0M535.2 703.8h0M536.4 726h0M537.5 754.8h0M538.7 783.4h0M539.9 694.8h0M541.2 701h0M542.5 690.9h0M543.3 757.9h0M544.4 732.2h0M545.5 719.7h0M546.5 688.3h0M547.7 742.7h0M548.8 703.8h0M550 696.6h0M551.3 721.4h0M552.3 702.5h0M553.1 760.6h0M554.6 766.9h0M555.6 742h0M556.7 748.1h0M557.8 711.8h0M559 723.8h0M559.8 738.1h0M561.3 762.5h0M562.4 730.8h0M563.5 761.1h0M564.7 741.8h0M565.5 762.9h0M566.7 700.6h0M567.7 762.1h0M568.8 725.5h0M570.2 713.4h0M571.3 763.7h0M572.5 730h0M573.6 736.9h0M574.9 747.5h0M576 706h0M576.8 765.3h0M577.8 709.4h0M578.8 730.1h0M580 732.8h0M581.1 733.5h0M582.1 694.6h0M583.1 710.2h0M584.2 712.5h0M585.1 750h0M586.3 755.7h0M587.5 685.1h0M588.4 733.8h0M589.8 705h0M590.5 723.3h0M591.7 712.4h0M592.9 745.8h0M593.9 747.5h0M595.2 708.5h0M596.5 734.5h0M597.7 718h0M598.6 752.1h0M600 754.2h0M601.5 749.1h0M602.3 683.4h0M603.5 721h0M604.9 717.8h0M606 736.2h0M607 695.9h0M608.4 708.9h0M609.7 722.2h0M610.8 689h0M612 706.1h0M612.8 718.7h0M613.7 731.2h0M615.3 717.4h0M616.3 707.2h0M617.3 696.6h0M618.7 742.9h0M619.5 757.4h0M620.7 780.1h0M621.8 714h0M623 737.6h0M623.9 736.9h0M624.9 703.3h0M626.1 762.1h0M627.2 702.1h0M628.3 735.1h0M629.2 720.1h0M630.2 741.5h0M631.5 714.1h0M632.5 728.8h0M633.7 775h0M634.9 741.5h0M635.9 762.1h0M636.8 768.1h0M637.8 752.5h0M638.8 721.5h0M640.3 690.9h0M641.6 713.6h0M642.6 706h0M643.6 743.8h0M644.6 759.8h0M645.7 668.3h0M646.6 761.1h0M647.7 727h0M648.5 733h0M649.9 752.2h0M650.8 745h0M651.8 745h0M652.9 711.4h0M653.8 745.3h0M654.8 711.1h0M655.9 761.1h0M657.5 767.7h0M658.5 732.3h0M659.5 742.5h0M660.3 718.2h0M661.6 737.1h0M662.7 719h0M663.6 689.4h0M665 760.7h0M665.8 768h0M666.9 765h0M668.3 742h0M669.1 747.1h0M670.4 727.7h0M671.5 749.6h0M672.7 703.6h0M673.7 720.4h0M674.7 765h0M675.7 744.1h0M676.6 750.3h0M677.8 739.1h0M678.5 787h0M679.8 702.9h0M680.8 764h0M682 736.6h0M683 731.1h0M684 749h0M685 761h0M686.1 701.3h0M687.2 736.2h0M688.1 708.2h0M689.4 704.2h0M690.2 700.7h0M691.5 710.7h0M692.5 674.6h0M693.5 754.7h0M694.8 748.5h0M695.8 768h0M696.8 693.1h0M697.8 751.4h0M699 688.1h0M700.4 732.1h0M701.1 753.6h0M702.4 714.5h0M703.5 691.6h0M704.5 765.1h0M705.7 748.4h0M706.6 789.7h0M707.5 706.6h0M708.8 762.9h0M709.5 705.1h0M710.8 708.3h0M711.8 766.5h0M713.1 688h0M714.1 750.7h0M714.9 701.9h0M716.5 734.4h0M717.5 765.3h0M718.6 751.2h0M719.5 698.8h0M720.5 736.3h0M721.7 696.4h0M722.7 721.8h0M723.9 734.6h0M725 666.1h0M726.2 745.5h0M727.4 748.5h0M728.2 698h0M729.1 748.4h0M730.1 716.7h0M731.2 766.5h0M732.3 702.3h0M733.5 763h0M734.5 766.3h0M735.7 713.6h0M736.6 746.9h0M738 759.6h0M738.9 757.8h0M740.3 750h0M741.2 672.7h0M742.5 749.3h0M743.4 765h0M744.8 723.7h0M745.7 735.3h0M747.2 702.8h0M748.3 749h0M749.4 720.4h0M750.5 739.1h0M751.4 752.9h0M752.5 764.5h0M753.8 688.1h0M754.8 729.8h0M756.1 691.9h0M757 769h0M758 706h0M759.6 696.5h0M760.9 762.7h0M762 708.1h0M762.7 745.2h0M763.7 754.5h0M764.9 738.8h0M765.9 695.6h0M766.9 759.9h0M768.3 719.4h0M769.3 696.7h0M770.5 751.8h0M771.5 704.5h0M772.5 711.9h0M773.6 664.9h0M775.1 725.2h0M776.1 742.5h0M777.7 761.1h0M778.7 694.5h0M779.8 734.9h0M780.6 699.1h0M781.7 710.9h0M782.5 717.9h0M783.6 711h0M784.5 711.7h0M785.7 700.6h0M786.8 735.1h0M788.1 721.9h0M789.1 771.1h0M790.1 700.8h0M791.3 694.6h0M792.6 729h0M794 758.3h0M794.8 724h0M795.9 723.7h0M796.8 696.6h0M798.2 754.6h0M799.5 736.2h0M801.2 703.3h0M802.4 719.2h0M803.6 710.1h0M804.4 757.9h0M805.9 708.6h0M807 702.3h0M807.9 751.9h0M809.4 722.6h0M810.6 746.6h0M811.7 702.1h0M812.7 718.4h0M813.8 744.3h0M814.8 711.8h0M815.8 710.5h0M816.9 749.7h0M817.9 729.6h0M819.4 737.4h0M820.4 694.6h0M821.7 747.1h0M822.6 769.7h0M823.7 723.3h0M825.6 689.5h0M826.4 719.4h0M827.7 704h0M828.5 731.1h0M829.7 726.4h0M831.1 754.6h0M832.4 731h0M833.4 705h0M834.5 724.6h0M835.8 719.7h0M836.7 711.8h0M837.6 701.7h0M838.7 747.3h0M839.9 727.6h0M840.8 704.7h0M841.9 755.4h0M843 734.6h0M844.1 718h0M845.3 745.5h0M846.7 696.1h0M847.8 770h0M848.9 758.2h0M849.7 736.8h0M850.7 760.4h0M851.7 711.3h0M853 748.8h0M853.9 735.8h0M854.9 695.7h0M856.3 697.8h0M857.5 704.2h0M858.5 716.9h0M859.6 762.5h0M860.7 708.1h0M861.7 714.7h0M862.8 736h0M863.9 748.1h0M865.2 706.8h0M866.1 731h0M867.3 745.8h0M868.8 698.9h0M869.8 758.9h0M871.2 755h0M872.5 739.8h0M873.3 747.6h0M874.5 720.6h0M875.3 709h0M876.5 709.5h0M877.6 694.2h0M878.7 713.3h0M879.9 733.7h0M881.4 756h0M882.4 692h0M883.7 724.5h0M884.7 745.3h0M885.8 715.8h0M886.7 765.9h0M887.7 747.9h0M888.7 716.6h0M889.8 740.3h0M891 753.5h0M892 740.3h0M893.5 703.2h0M894.8 744.1h0M895.7 726.7h0M896.6 764.2h0M897.6 727.5h0M898.6 732.9h0M899.6 746.4h0M900.5 702.3h0M901.6 716.9h0M902.8 702.3h0M903.6 726h0M904.8 756h0M906.2 708.4h0M907.3 770.8h0M908.2 719.7h0M909.4 720.2h0M910.2 740.6h0M911.2 757.6h0M912.6 707.6h0M913.5 726.9h0M914.5 763.2h0M916 744.3h0M917.5 650.7h0M918.6 748.7h0M919.7 751.2h0M920.7 752.5h0M921.6 704.7h0M922.7 701.3h0M923.6 724.3h0M925 724.3h0M926.2 719h0M927.3 749.7h0M928.6 697.1h0M929.4 715.7h0M930.3 769.1h0M931.6 764.5h0M932.9 756h0M934 697.6h0M934.8 713.9h0M935.8 767.4h0M937 745.2h0M938 761.5h0M939.1 699.6h0M940.4 763.9h0M941.3 727.6h0M942.2 661.2h0M943.1 751.9h0M944.2 764.7h0M945.2 707.5h0M946.1 695.9h0M947.1 692.9h0M948.2 716.4h0M949.9 737h0M951.1 686.4h0M952.2 726.5h0M953.2 719.7h0M954.3 715.5h0M955.4 718.1h0M956.1 700.8h0M957.2 753.6h0M958.2 706.4h0M959.3 696.6h0M960.3 761.2h0M961.2 753h0M962.8 684.9h0M963.8 735.3h0M964.8 703h0M965.8 702.8h0M966.8 726.2h0M968.4 731h0M969.3 737.3h0M970.5 706.9h0M971.8 661.8h0M972.9 710.1h0M973.9 723.9h0M975.1 723.2h0M976.3 726.1h0M977.2 743.3h0M978.4 707.7h0M979.6 721.9h0M980.8 725.2h0M981.8 737.3h0M982.7 711h0M983.8 696.3h0M985 761.2h0M986.1 753h0M987.1 753.8h0M988.2 726.7h0M989.3 725.9h0M990.5 703.1h0M991.4 750.1h0M992.4 734.4h0M993.3 735h0M994.3 723.6h0M995.5 704.9h0M996.4 737.5h0M997.5 716.5h0M998.5 735.6h0M999.6 750.1h0"/><path d="M121.9 720.2h0M123.4 758.6h0M124.6 720.4h0M125.3 711.4h0M126.5 740h0M127.5 746h0M128.6 728h0M129.7 726.6h0M130.6 708.1h0M132.1 703.5h0M133 705.2h0M134 751.8h0M135.6 751h0M136.4 729.2h0M137.4 709.2h0M138.5 720.3h0M139.7 754.8h0M140.7 738.7h0M142.1 744h0M143.2 721.3h0M144.3 741.7h0M145.4 723.4h0M146.6 706.6h0M147.6 758.3h0M148.9 719.6h0M149.9 694.6h0M150.9 714.1h0M151.8 729.6h0M152.7 652.5h0M153.9 689.4h0M155 692.9h0M156.1 702.7h0M157 709.1h0M158 710.2h0M159.1 721.2h0M160 752.8h0M161.1 691.9h0M162.2 744.1h0M163.6 715h0M164.5 699h0M165.4 734.1h0M166.5 709.3h0M167.5 758.1h0M168.5 747.6h0M169.6 729.2h0M171 704.3h0M172 732.9h0M173.2 760h0M174.2 757.5h0M175.1 761.7h0M176.2 749.2h0M177.4 726.9h0M178.4 699.4h0M179.3 765h0M180.1 729.6h0M181.7 696.6h0M182.7 748.6h0M183.6 747.4h0M184.8 716.8h0M185.8 700.7h0M187.1 743h0M188 712.6h0M189.3 706h0M190.2 704.9h0M191.5 713.4h0M192.6 761h0M193.5 763.5h0M194.5 710.2h0M195.7 744.5h0M196.7 706.5h0M197.7 742.6h0M198.9 700h0M200 722.6h0M201.1 723.4h0M202 706.3h0M203.2 756.5h0M204.4 745.6h0M205.6 747h0M206.5 701.6h0M207.9 770.9h0M209.4 725.4h0M210.3 711.2h0M211.1 695.7h0M212.1 753.7h0M213.4 710h0M214.4 732.6h0M215.5 745.9h0M217 752.2h0M217.8 764.9h0M219.2 700.3h0M220.4 700.5h0M221.5 756h0M222.6 751.4h0M223.9 751h0M224.9 754.4h0M226.4 760.2h0M227.2 765.2h0M228.4 709.9h0M229.2 729.1h0M230.3 691.3h0M231.6 700.3h0M232.6 735.1h0M233.8 731.9h0M234.8 689.8h0M236.2 719.2h0M237.5 731.7h0M238.5 714.8h0M239.6 737.3h0M240.7 754.4h0M241.6 690.7h0M242.8 733.6h0M243.8 714.2h0M245.1 743.9h0M246.5 741.9h0M247.7 752.3h0M248.7 742.4h0M249.6 755.5h0M250.7 696.2h0M251.5 698.1h0M252.7 742.2h0M253.8 768h0M254.6 736.6h0M255.9 715.8h0M256.9 701.4h0M257.8 746.9h0M258.7 725.8h0M259.8 702.3h0M261.3 694.8h0M262.2 742.4h0M263.2 737.8h0M264.2 738h0M265.4 757.6h0M266.3 767h0M267.7 726h0M268.7 712.7h0M269.8 746h0M270.8 697.9h0M272.2 664.1h0M273.2 728.9h0M274.5 736.2h0M275.3 702.2h0M276.4 759.2h0M277.6 723.7h0M278.5 758.7h0M279.4 750.3h0M280.4 762.4h0M281.6 705h0M282.4 702.7h0M283.3 757.4h0M284.6 772.4h0M285.6 694h0M286.5 738h0M287.8 744.4h0M289 768.7h0M290.3 764.1h0M291.7 759.7h0M292.8 726.3h0M293.8 746.2h0M294.9 716.8h0M295.9 698.7h0M296.9 728.4h0M298 701h0M299 740.4h0M300.3 695.4h0M301.6 692.8h0M302.6 730.5h0M304 707.1h0M304.7 744h0M305.9 746.2h0M306.9 755.8h0M308.2 699h0M309.2 727.7h0M310.3 753.7h0M311.7 761h0M312.6 753.3h0M313.6 749.9h0M314.5 720h0M315.7 738.2h0M316.7 725h0M317.5 717.6h0M318.6 689.7h0M319.7 729.3h0M320.8 704.5h0M322.4 728.5h0M323.3 756.3h0M324.5 745.6h0M325.7 707.1h0M326.6 704h0M327.7 696.7h0M328.8 757.9h0M329.8 727.2h0M330.9 761.8h0M332.4 766.3h0M333.5 710.1h0M334.8 753.4h0M336 768.4h0M337.3 757.3h0M338.3 751.3h0M339.5 758.5h0M340.4 699.6h0M341.7 732.2h0M342.9 704.8h0M343.8 759.4h0M345.1 766.1h0M346.2 734.9h0M347.3 744.5h0M348.1 695.6h0M349.4 690.2h0M350.9 739.6h0M351.9 734h0M353.3 726.1h0M354.4 693.9h0M355.5 753.5h0M356.5 754.7h0M357.4 706.6h0M358.8 705.1h0M360.1 736.3h0M361.2 722.6h0M362.3 725.2h0M363.2 762.5h0M364.4 726.2h0M365.2 733.1h0M366.1 698.1h0M367.4 762.2h0M368.1 689.4h0M369.6 755.8h0M370.6 754.5h0M371.9 766.6h0M373.3 769.5h0M374.6 683.5h0M375.5 716.2h0M376.3 711.2h0M377.5 695.9h0M378.4 694h0M379.4 704.3h0M380.4 693.8h0M381.4 711h0M382.5 757.3h0M383.5 760.6h0M384.8 698.3h0M385.7 714.3h0M387.4 727.7h0M388.5 758.6h0M389.6 747.4h0M390.3 747.8h0M391.8 703.2h0M392.6 716.6h0M393.7 703.6h0M394.9 708.1h0M395.9 736.6h0M397 710.7h0M398.4 745.9h0M399.1 741.7h0M400.7 696.3h0M401.5 762.1h0M403.2 735.2h0M404.1 728.8h0M405.4 700.4h0M406.7 723.9h0M407.7 724h0M408.7 705.2h0M409.6 764h0M410.9 751.1h0M411.8 752.9h0M412.8 697.8h0M414 693.4h0M414.8 718.4h0M416 716.9h0M416.8 702.1h0M417.9 761.6h0M419 735.5h0M419.9 726.6h0M421.2 726.7h0M422.4 759.2h0M423.1 744.6h0M424.4 757.6h0M425.3 743.1h0M426.3 746.7h0M427.5 707h0M428.3 768.4h0M429.6 702.5h0M430.6 734.9h0M431.6 753.2h0M432.4 716.1h0M433.7 711.3h0M434.7 705.7h0M435.9 694.5h0M437.1 745.9h0M438 698.5h0M439.5 726.5h0M440.7 708h0M442.4 718.9h0M443.3 713.9h0M444.5 699h0M445.4 749h0M446.4 714.5h0M447.5 757h0M448.7 716.3h0M449.8 711.7h0M450.9 722.2h0M452.4 717.6h0M453.3 700.3h0M454.4 688h0M455.5 743.7h0M457 714.5h0M457.8 723h0M458.8 718.1h0M459.9 761.4h0M460.9 722.3h0M461.9 713.8h0M462.9 748h0M464.2 691.9h0M465.4 728.6h0M466.1 704.2h0M467.2 707.5h0M468.2 723.6h0M469.6 766.6h0M470.4 689.1h0M471.6 764.4h0M472.6 732.2h0M473.5 692.8h0M474.5 718h0M475.6 731.8h0M476.6 763.7h0M478 752.5h0M479 696h0M480.3 677.5h0M481.3 723.1h0M482.2 754.6h0M483.3 739.4h0M484.4 766.6h0M485.5 706.4h0M486.6 754.4h0M488.2 744.1h0M489.6 755.8h0M490.3 669.6h0M491.3 751.6h0M492.5 758.8h0M493.3 707h0M494.6 702.3h0M495.6 695h0M496.8 730.1h0M498 767.6h0M499.2 690h0M500.6 699.3h0M501.7 730.6h0M502.5 738.6h0M503.5 754.2h0M504.8 757.2h0M505.8 741.2h0M507 768.7h0M508.1 714.4h0M509.1 727.4h0M510.4 767h0M511.5 762.8h0M512.7 695.3h0M513.6 745.9h0M515.2 720.3h0M516.3 741.3h0M517.4 705.1h0M518.4 709.9h0M519.6 740.5h0M520.6 736.6h0M521.5 742.8h0M522.5 717.5h0M523.9 721.6h0M525.1 779.3h0M526.3 759.9h0M527.2 747.4h0M528.3 730.5h0M529.1 715.9h0M530.4 771.5h0M531.1 752.7h0M532.4 759.8h0M533.4 742.5h0M534.6 759.4h0M535.5 765.6h0M536.6 753.6h0M537.9 702h0M539 694.5h0M540.2 720.1h0M541.3 705.1h0M542.8 722.7h0M543.8 745.7h0M544.8 737h0M546 695.5h0M547 713.5h0M548.2 761.9h0M549.1 725.2h0M550.1 744.2h0M551.5 764.1h0M552.6 698.5h0M553.3 724.6h0M554.8 760.6h0M555.9 737.1h0M557 757.4h0M558.1 689.8h0M559 696.9h0M560.2 762.7h0M561.3 738.3h0M562.7 720.1h0M563.6 698.5h0M564.7 727.5h0M565.9 771.5h0M566.7 704.8h0M567.7 733.9h0M568.8 713.9h0M570.6 706.8h0M571.4 730.7h0M572.8 752.9h0M573.9 725.1h0M574.9 718.9h0M576 756.2h0M577 719.2h0M578 728.3h0M579.2 736.4h0M580.1 736.8h0M581.1 718.5h0M582.4 716.5h0M583.2 732.6h0M584.4 769.1h0M585.4 770.3h0M586.6 730.5h0M587.7 759.4h0M588.7 757.1h0M589.9 693.1h0M590.8 695h0M592 707.4h0M593.2 760.6h0M594.1 699.9h0M595.4 717.7h0M596.8 723.1h0M597.7 718.9h0M599 702.8h0M600.4 757.9h0M601.5 709.4h0M602.7 762.7h0M603.8 717.3h0M605.4 740.3h0M606.2 732.9h0M607.8 764h0M608.8 757.1h0M610.1 728.3h0M610.9 693.8h0M612.1 694.1h0M612.9 726.5h0M614 757h0M615.6 710.3h0M616.5 689h0M617.5 736.3h0M618.7 727.7h0M619.9 737.5h0M620.9 718.5h0M621.9 736.7h0M623.2 710h0M624.2 760.3h0M625.1 755.5h0M626.5 685.7h0M627.4 741.6h0M628.3 749h0M629.4 763.2h0M630.6 749.4h0M631.5 695h0M632.9 717.5h0M634 745.7h0M635 766h0M636.2 744.2h0M636.9 727.5h0M637.9 726.3h0M639.4 747.1h0M640.5 726.8h0M641.6 710.2h0M642.7 769.7h0M643.9 728.5h0M644.8 758h0M645.8 769h0M647 713.8h0M648 736.3h0M649 732.5h0M649.9 754.7h0M651.1 741.8h0M652.1 690.7h0M653.1 708.2h0M654.1 723.8h0M655 750.9h0M656.2 717.4h0M657.6 701.8h0M658.5 724.6h0M659.6 728h0M660.6 766.4h0M661.8 767.4h0M662.9 753.1h0M663.7 700.7h0M665 711h0M666 704.2h0M667.1 701.6h0M668.5 704.2h0M669.4 716.2h0M670.7 762.2h0M671.6 701.9h0M672.8 693.7h0M673.9 737.5h0M674.8 749.2h0M675.9 736.8h0M676.8 728.8h0M677.8 753.4h0M679.2 701.6h0M680 754.4h0M681.2 703.3h0M682.3 706h0M683.3 747.4h0M684.2 751.3h0M685.2 755.8h0M686.4 690.7h0M687.4 737.3h0M688.3 722.8h0M689.5 723.3h0M690.5 715.9h0M691.5 744.6h0M692.8 704.5h0M693.9 748.6h0M695.2 736.6h0M696.1 735.2h0M697 716.5h0M698.1 756.5h0M699.2 705.2h0M700.4 762.1h0M701.4 713.2h0M702.5 727.3h0M703.6 675.2h0M704.6 758.9h0M705.8 753.1h0M706.8 716.1h0M707.9 695.9h0M708.7 714.3h0M709.9 703h0M710.9 721.6h0M711.9 776.1h0M713.2 726.3h0M714.2 742.2h0M715.3 753.4h0M716.5 698.2h0M717.6 715h0M718.9 739.4h0M719.8 713.8h0M720.9 753.3h0M721.7 729.7h0M722.9 768.9h0M724 707.3h0M725.3 746.6h0M726.5 767.5h0M727.6 757.8h0M728.6 701.4h0M729.6 736.1h0M730.5 705h0M731.5 765.3h0M732.7 732.2h0M733.5 718h0M734.5 702.4h0M736 708.4h0M737.1 763.9h0M738.4 742.2h0M739.3 686.1h0M740.3 726.3h0M741.5 761.7h0M742.6 751.5h0M743.9 761.1h0M745.2 730.4h0M746.5 730h0M747.6 735.8h0M748.7 688.1h0M749.6 727.4h0M750.8 695.2h0M751.7 769.3h0M752.5 696.6h0M753.9 715.3h0M755.1 707.1h0M756.1 747.7h0M757.4 747.5h0M758.4 731.8h0M759.7 696h0M761.2 700.9h0M761.9 719.8h0M763 727.5h0M764 708.9h0M765 753.6h0M766 757.8h0M767.1 748.7h0M768.5 743.9h0M769.6 769.2h0M770.7 723.2h0M771.8 736h0M772.6 715.2h0M773.6 699.7h0M775.2 754.4h0M776.3 740.4h0M777.8 733.8h0M779 693.1h0M779.8 735.2h0M780.9 687.9h0M781.9 692.4h0M782.8 766.1h0M783.8 716.1h0M784.9 764.7h0M786.1 728.7h0M787.2 748.8h0M788.3 695.4h0M789.2 747.8h0M790.2 716.8h0M791.4 758.8h0M793.1 717.9h0M794.2 734.6h0M795.2 720.8h0M796.1 772.9h0M797.2 741.9h0M798.5 718.9h0M799.9 739.4h0M801.1 704.2h0M802.6 727h0M803.5 741.5h0M804.9 705.3h0M805.9 740.2h0M807.2 742.9h0M808.3 690.4h0M809.8 712.9h0M810.7 704.6h0M811.9 730.6h0M813 703.5h0M813.9 724.5h0M815.2 756.4h0M816 716.5h0M817.2 723.3h0M818.4 742.1h0M819.7 715.3h0M820.8 719.6h0M822 697.1h0M822.7 721.8h0M824.1 746.6h0M825.8 730.5h0M827 740.6h0M827.8 734.4h0M828.7 718.8h0M830.2 726.1h0M831.3 706h0M832.6 769.4h0M833.5 748.9h0M834.8 747.9h0M835.7 738.8h0M836.9 740.5h0M837.9 745.3h0M839 721h0M840 708.3h0M840.9 756.9h0M842 724.6h0M843.3 709.4h0M844.1 694.7h0M845.3 757.5h0M846.8 759.2h0M848 702.2h0M848.9 711.3h0M850.2 703.9h0M851.1 695.6h0M852.1 706.4h0M853 727.7h0M854.2 701.6h0M855.4 704.3h0M856.5 717.2h0M857.7 731.1h0M858.5 682.8h0M859.9 739.4h0M861 689h0M862 738.1h0M863 758.2h0M864.1 761h0M865.3 716.7h0M866.3 766.5h0M867.7 726.4h0M868.9 700.3h0M870 736.8h0M871.3 754.6h0M872.7 747.3h0M873.6 687.8h0M874.7 708.8h0M875.6 743.4h0M876.7 760.5h0M877.5 724.9h0M878.9 759.3h0M880.5 717h0M881.6 750.8h0M882.8 691.1h0M883.9 759.6h0M884.8 747.1h0M885.9 704.9h0M886.9 729.9h0M887.9 698.8h0M888.9 736.8h0M890.1 694.5h0M891.1 707.8h0M892.6 699.1h0M893.8 753.2h0M894.8 755.7h0M895.8 734.5h0M896.9 738.1h0M897.7 692.3h0M899 755.3h0M899.9 692.3h0M900.9 749.7h0M901.7 755.1h0M902.9 704.8h0M904 726.5h0M904.9 760.9h0M906.3 741.8h0M907.3 721.9h0M908.3 716.1h0M909.5 734.1h0M910.4 707.7h0M911.6 723.3h0M912.7 702.5h0M914 736h0M914.7 739.9h0M916.1 715.6h0M917.5 707.6h0M919 768.2h0M919.9 713.7h0M920.7 725.6h0M921.7 755.2h0M923 765.4h0M924.1 762.7h0M925.3 725h0M926.4 767.9h0M927.5 768.1h0M928.8 702.6h0M929.6 744.9h0M930.9 752h0M931.9 768h0M933.1 706.8h0M933.9 707.9h0M935.1 689.1h0M936.2 769.6h0M937.1 739.3h0M938 758.1h0M939.2 711.2h0M940.4 776.7h0M941.6 694.5h0M942.4 716.5h0M943.3 722.2h0M944.6 734.8h0M945.5 732.2h0M946.4 722.7h0M947.5 737.8h0M948.5 719.3h0M949.9 706.3h0M951.4 730.8h0M952.6 722.2h0M953.6 739.9h0M954.4 752.2h0M955.4 728.7h0M956.5 739.8h0M957.5 750.6h0M958.5 760.8h0M959.6 752.2h0M960.5 665.6h0M961.6 696.2h0M962.9 696.9h0M964 710.9h0M965.1 711.4h0M966 755.5h0M967.2 739.6h0M968.5 745.9h0M969.7 703h0M970.6 731.4h0M971.8 745.5h0M973 737.4h0M974.1 760.5h0M975.5 710.6h0M976.6 706.6h0M977.5 720.7h0M978.6 730.9h0M979.8 738.2h0M980.9 722.8h0M982.1 700.4h0M983.2 747.5h0M983.9 698.9h0M985.3 724.1h0M986.4 701.9h0M987.3 790h0M988.5 765.6h0M989.6 701h0M990.6 761.1h0M991.7 741.1h0M992.7 764.6h0M993.7 722.6h0M994.6 756.9h0M995.8 781h0M996.8 745.4h0M997.9 734.5h0M999 759.1h0M999.8 735.9h0"/><path d="M122.2 711.8h0M123.7 709h0M124.7 741h0M125.6 693.7h0M126.5 743.2h0M127.7 710.4h0M128.7 718.5h0M129.9 730.6h0M131.2 754.9h0M132.2 716h0M133.1 750.1h0M134.1 754.8h0M135.8 723.2h0M136.5 767.3h0M137.6 759.4h0M138.8 729.5h0M139.8 723.6h0M141 699h0M142.2 749.7h0M143.5 738.2h0M144.5 707.2h0M145.7 712.2h0M146.9 718.5h0M147.9 728.2h0M149.1 745.4h0M150 762.3h0M151 703.5h0M152.1 759.5h0M153.1 698.7h0M154.3 726.1h0M155.4 737.5h0M156.3 710.9h0M157.2 765.2h0M158.4 701.1h0M159.1 737h0M160.4 701.2h0M161.4 767.1h0M162.5 736.5h0M163.5 777.4h0M164.6 744.1h0M165.5 716.1h0M166.6 708.3h0M167.7 720.1h0M168.6 713.7h0M170 781.2h0M171.1 711.2h0M172.2 687.9h0M173.3 763.4h0M174.3 706.4h0M175.2 733.6h0M176.5 735.4h0M177.4 753.9h0M178.5 741.9h0M179.5 708.4h0M180.5 740.2h0M181.8 708.7h0M182.8 735.3h0M183.7 744.1h0M185 706.1h0M186.1 760.4h0M187.2 714.7h0M188.2 720.4h0M189.6 715.9h0M190.4 709.1h0M191.5 699.3h0M192.5 745.6h0M193.8 707.6h0M194.8 716.5h0M195.9 758.1h0M197 666h0M197.9 765.4h0M199.1 745.1h0M200.4 760.9h0M201.1 709.9h0M202.1 697.3h0M203.3 736.2h0M204.7 766.1h0M205.6 760.6h0M206.5 733.4h0M208.5 738.2h0M209.3 752.6h0M210.4 734.4h0M211.6 714.2h0M212.5 720.1h0M213.4 708.1h0M214.7 695.3h0M215.9 699.6h0M216.9 693.7h0M218 742.4h0M219.5 760.3h0M220.5 729.8h0M221.9 703.9h0M222.8 705.6h0M224 688.2h0M225.5 722.8h0M226.5 753.1h0M227.4 757.2h0M228.4 745.6h0M229.5 738.3h0M230.5 714.3h0M231.8 693.3h0M232.9 733.8h0M234.1 739.6h0M235.1 696.4h0M236.5 752.2h0M237.5 755.7h0M238.6 725.3h0M239.9 723.7h0M241 760.9h0M242.1 745.8h0M243 747.3h0M244.1 712h0M245.2 735.6h0M246.7 706.3h0M247.8 763.9h0M248.9 717.1h0M249.7 719.4h0M250.8 724.8h0M251.9 701.4h0M252.7 691.8h0M253.9 742.6h0M255.1 752.6h0M256 698.1h0M257.1 695.5h0M258.1 733.7h0M259.1 736.3h0M260.1 728.8h0M261.5 725.3h0M262.4 721.7h0M263.5 771.6h0M264.6 698.6h0M265.7 723.3h0M266.6 752h0M267.7 746.5h0M268.9 719.9h0M269.9 710.3h0M270.9 763.5h0M272.6 716h0M273.7 736.1h0M274.8 735.5h0M275.6 744.3h0M276.7 718.8h0M277.8 745.7h0M278.6 766.1h0M279.6 716.7h0M280.6 746.7h0M281.6 701.8h0M282.5 718.2h0M283.8 705h0M284.7 715.2h0M285.7 724.3h0M286.8 742.9h0M288.2 688.3h0M289.3 707.1h0M290.4 743.9h0M291.8 740.7h0M292.8 743.5h0M294 754.8h0M295.2 719.6h0M295.9 691h0M297.1 705.4h0M298.4 698.2h0M299.4 706.9h0M300.8 724.7h0M302 711.4h0M302.9 759.5h0M304 750.4h0M305.1 708h0M305.9 699h0M306.9 730.3h0M308.6 699.5h0M309.4 751.5h0M310.6 725.3h0M311.9 717.3h0M312.8 716.8h0M313.9 765.3h0M314.8 745.6h0M316 705.3h0M316.9 708.6h0M317.8 714.1h0M318.8 734.2h0M319.9 731.6h0M320.9 709.5h0M322.4 755.5h0M323.6 751h0M324.7 705.6h0M325.7 760.2h0M326.8 695.6h0M327.9 757.5h0M329.2 706.7h0M330.1 726.1h0M331.2 762.3h0M332.7 706.2h0M333.7 693.5h0M334.7 736.6h0M336.3 737.5h0M337.7 752.2h0M338.6 697.6h0M339.7 745.1h0M340.7 731h0M341.9 701.1h0M343 731.8h0M344 745.1h0M345.2 689.5h0M346.3 690.8h0M347.5 736.7h0M348.5 698.7h0M349.9 719.5h0M351 766h0M352.3 704.6h0M353.8 730.4h0M354.5 721.1h0M355.6 703.5h0M356.7 747.6h0M357.6 762.1h0M358.9 729.9h0M360.2 762.1h0M361.4 692.9h0M362.4 731.2h0M363.4 706.3h0M364.4 743.2h0M365.4 740h0M366.6 717.2h0M367.4 733.8h0M368.5 704.5h0M369.6 756.8h0M371.1 714.6h0M372.3 754h0M373.4 757.5h0M374.7 723.5h0M375.8 753h0M376.6 704.6h0M377.6 744.1h0M378.7 740.8h0M379.8 767.4h0M380.8 754.7h0M381.6 724h0M382.6 735.2h0M383.6 739.5h0M385.2 752.8h0M386.1 734.4h0M387.8 698h0M388.7 756.9h0M389.8 759.7h0M390.5 750.2h0M391.7 704.1h0M393 761.2h0M393.9 767h0M395.1 761.7h0M396.3 736.4h0M397.2 730.4h0M398.6 702.8h0M399.6 743.9h0M400.8 703.5h0M401.9 767.3h0M403.1 712h0M404.5 748.2h0M405.7 741.4h0M406.7 749.9h0M407.8 717.2h0M409 737.5h0M409.9 746.9h0M410.9 735.9h0M412 726.8h0M413 725.6h0M413.9 768.7h0M415 771.9h0M416.2 733.8h0M417 734.7h0M418 749.7h0M419.4 714.8h0M420.3 736.5h0M421.3 708.7h0M422.6 694.6h0M423.3 737h0M424.4 755.9h0M425.3 759.7h0M426.4 717h0M427.7 753.6h0M428.6 750.6h0M429.7 699.1h0M430.6 751.6h0M431.5 749.8h0M432.7 720.6h0M433.7 753.6h0M435 702.9h0M436.1 707h0M437.3 748.1h0M438.2 708.5h0M439.7 740.8h0M440.9 741.1h0M442.7 749.6h0M443.7 744.2h0M444.5 758.8h0M445.6 757h0M446.8 730.5h0M447.7 690.1h0M448.9 748.6h0M449.7 702.1h0M451 736.4h0M452.3 713.5h0M453.4 723.6h0M454.7 748h0M455.8 731.4h0M457 770.6h0M458 725.1h0M459 705.6h0M460.1 701.6h0M460.9 715.7h0M461.9 746.8h0M463.1 757h0M464.3 751.8h0M465.5 773.3h0M466.5 756.3h0M467.5 739.5h0M468.5 709.3h0M469.6 722.9h0M470.9 730.8h0M471.7 730.4h0M472.9 738.5h0M473.8 754.5h0M475 735.8h0M475.8 728.7h0M477 707.4h0M478.1 742.1h0M479.1 732.9h0M480.5 744.4h0M481.5 723h0M482.4 707.8h0M483.7 727.3h0M484.8 760.7h0M485.7 711.7h0M487.3 697.3h0M488.5 762h0M489.8 738.3h0M490.6 737.6h0M491.6 743.7h0M492.7 765.4h0M493.5 725.7h0M494.5 718.3h0M496.2 764.1h0M497 736.2h0M498.3 750.8h0M499.7 743.8h0M501 757.7h0M502 710.7h0M503 724.5h0M503.8 739.2h0M505.1 740.5h0M506 688.3h0M507.3 746.6h0M508.2 763h0M509.3 763.3h0M510.4 691.6h0M511.5 707.3h0M513 763.9h0M513.7 702.4h0M515.5 730h0M516.6 722.2h0M517.7 709.4h0M518.8 749.8h0M519.8 763.7h0M520.9 757.5h0M521.8 727.7h0M522.7 750.6h0M524.2 740h0M525.2 726.6h0M526.4 731h0M527.4 755.1h0M528.5 703.9h0M529.4 704.7h0M530.6 749h0M531.4 760.7h0M532.6 759.2h0M533.7 728.2h0M534.6 763.3h0M535.7 701.7h0M536.9 764.4h0M538 742.6h0M539.4 730.6h0M540.2 745.1h0M541.7 710.6h0M542.8 738.8h0M544 704.2h0M544.9 725.2h0M546 698.6h0M546.9 743.5h0M548.2 712.6h0M549.2 690.8h0M550.5 690.6h0M551.6 713.6h0M552.7 705.5h0M553.6 743.7h0M555.1 713.8h0M556.1 749.4h0M557.3 771.1h0M558.4 711.1h0M559.3 726.8h0M560.4 743.1h0M561.5 736.1h0M562.7 699.2h0M563.7 726.3h0M565 729.2h0M566.2 739.4h0M567 719.9h0M568.1 751.1h0M568.9 737.7h0M570.6 712.2h0M571.5 650.7h0M573 714.5h0M574.3 721.8h0M575.1 758.7h0M576.4 702.1h0M577.1 739.2h0M578.4 697.9h0M579.1 740.9h0M580.5 749.7h0M581.6 708.4h0M582.5 714.7h0M583.5 721h0M584.6 748.4h0M585.5 735.6h0M586.9 744.9h0M587.7 716.8h0M589 707.6h0M590.2 704.8h0M591 715.9h0M592.2 697.1h0M593.5 754.7h0M594.5 722.8h0M595.6 695h0M596.9 785.1h0M598.1 745h0M599.2 738.4h0M600.9 670.5h0M602 719.3h0M603 715.2h0M604.2 704.3h0M605.4 763.3h0M606.6 693.6h0M607.9 689.3h0M609 700.8h0M610.2 745.6h0M611.3 737h0M612.4 697.2h0M613.1 743.6h0M614.6 700.7h0M615.5 707.1h0M616.6 740.1h0M617.5 707.6h0M618.9 731.2h0M620.1 688.9h0M621 701.4h0M622 703.6h0M623.6 761h0M624.5 690.6h0M625.4 761.8h0M626.8 730.6h0M627.5 745h0M628.6 703.8h0M629.7 717.8h0M630.5 720.1h0M631.8 668.6h0M633.1 739.1h0M634.2 721.5h0M635.4 735.4h0M636.2 754.7h0M637.2 765.3h0M638.1 720h0M639.5 728.2h0M641 718.7h0M641.9 689.9h0M643.1 745.5h0M643.9 758.7h0M645 738.2h0M646.2 751.2h0M647 700.1h0M648.2 718.3h0M649.1 731h0M650.4 706.8h0M651.1 757.2h0M652.1 719.4h0M653.2 767.9h0M654.3 739.7h0M655.2 743.3h0M656.7 763.6h0M657.9 728.5h0M659 758.6h0M659.7 719.5h0M661.1 688.9h0M662 735.7h0M663.1 704.3h0M664 718.9h0M665.3 719h0M666.2 695.3h0M667.4 756.1h0M668.7 751.2h0M669.8 742.9h0M671 726.7h0M672 750h0M673.1 745.7h0M674.1 753.3h0M675.1 710.3h0M676 727.1h0M677.2 763.2h0M678 672.3h0M679.2 749.3h0M680.2 744.3h0M681.5 757.3h0M682.5 666.4h0M683.6 735.3h0M684.3 704h0M685.5 743.5h0M686.5 718.7h0M687.6 716.1h0M688.5 721.1h0M689.7 774.2h0M690.5 741h0M691.9 751.1h0M692.9 733.6h0M693.9 740.8h0M695.4 753h0M696.2 707h0M697.1 744.8h0M698.4 715.5h0M699.3 737.9h0M700.6 711.8h0M701.5 708h0M702.6 752.9h0M703.9 711.1h0M704.8 736.3h0M705.9 700h0M707.1 731.1h0M708 706.1h0M709.1 749.4h0M710.1 761h0M711.4 692.5h0M712.4 713.5h0M713.4 749.7h0M714.4 746.4h0M715.4 701.1h0M716.8 706.7h0M718 721.1h0M719 719.3h0M720.1 764.1h0M721 753.4h0M722 750.9h0M723.2 739.1h0M724.2 756.2h0M725.3 706.4h0M726.8 726h0M727.7 688.3h0M728.7 706.8h0M729.7 763.5h0M730.5 700.4h0M731.5 733.1h0M732.8 755.6h0M733.8 744.7h0M734.8 718.5h0M736.2 722.8h0M737.3 695.8h0M738.4 724.3h0M739.5 728.9h0M740.7 753.1h0M741.5 704.7h0M742.8 746.9h0M744 746.3h0M745.4 705h0M746.8 750.5h0M747.5 714.5h0M748.7 733.6h0M749.7 769.1h0M750.8 754.3h0M751.7 696.2h0M753 708.9h0M754.1 717.7h0M755.4 730.5h0M756.3 758h0M757.4 714.1h0M758.8 731h0M760 745.8h0M761.4 745.9h0M762.4 758h0M763.3 756.4h0M764.3 719.9h0M765.2 733.9h0M766.3 751.9h0M767.6 719h0M768.7 729.8h0M769.5 657.6h0M770.8 744.9h0M772 733.9h0M772.9 743.5h0M773.7 759.1h0M775.5 667.8h0M777.2 693.8h0M778 724.8h0M779.1 708.8h0M780.1 761.3h0M781.2 734.9h0M782 765.5h0M783.2 698h0M784.1 748.5h0M785.2 716.3h0M786.4 696.7h0M787.6 715h0M788.3 757.5h0M789.5 760.8h0M790.3 731.5h0M791.6 759h0M793.3 727h0M794.1 708.9h0M795.2 757.6h0M796.2 713h0M797.3 760.2h0M798.9 751.5h0M800.3 701.7h0M801.5 714.4h0M802.9 756.3h0M804 727.8h0M805 712.1h0M806.2 742.1h0M807.2 733.6h0M808.3 725.6h0M809.9 709h0M810.8 762.9h0M812 763.9h0M813 744.8h0M814.2 714.6h0M815.1 743.8h0M816.4 757.7h0M817.4 726.1h0M818.5 707.3h0M819.9 726.3h0M821.1 755.9h0M822.1 717.3h0M822.9 739.9h0M824.1 702.8h0M825.9 738.3h0M827.2 713.2h0M828 752h0M829.3 699h0M830.4 695.4h0M831.6 753.8h0M832.7 711.9h0M833.8 741.9h0M835 738.9h0M836.1 735.4h0M837.2 729.8h0M838 751.6h0M839.3 732h0M840.1 710.9h0M841.2 765.7h0M842.3 751.4h0M843.4 742.8h0M844.7 754.4h0M845.8 692.5h0M846.9 694.2h0M848.2 697.6h0M849.3 772.4h0M850.1 737.3h0M851.3 735.5h0M852.3 693.1h0M853.3 723.6h0M854.5 725.8h0M856 719.2h0M857 746h0M857.9 715.7h0M858.9 714.3h0M860 759.6h0M861.1 739.5h0M862.1 698.6h0M863.2 725.1h0M864.2 666h0M865.5 693.7h0M866.3 756.6h0M867.8 756.4h0M868.9 754.8h0M870.2 736.5h0M871.5 727.6h0M872.7 691.9h0M873.9 746.9h0M875 750.3h0M876 715.9h0M877 758.5h0M877.8 758.1h0M879.2 752.3h0M880.6 723.6h0M881.9 691h0M883 727.2h0M884.1 708.8h0M885.2 692.9h0M885.9 697.2h0M887 742.1h0M888.2 761.5h0M888.9 757.3h0M890.4 720.1h0M891.4 727.2h0M893 751.9h0M894.1 710.7h0M894.9 714.3h0M896.1 768h0M896.9 695.1h0M898 766.4h0M899 694.6h0M900.1 704.2h0M901.1 761.2h0M902.1 655.1h0M903 753.6h0M904.3 751.4h0M905.1 740.7h0M906.5 749.1h0M907.6 746.8h0M908.7 762.1h0M909.5 711.6h0M910.7 762.7h0M911.6 740.9h0M912.9 724h0M914 757.9h0M915.1 691.2h0M916.5 735.9h0M917.7 721.9h0M919.1 754.9h0M920.1 721.7h0M921.2 768.2h0M922 697.6h0M923.1 710.7h0M924.3 705.2h0M925.3 701.9h0M926.6 763.1h0M927.9 718.8h0M928.8 737.5h0M929.8 762.1h0M930.9 754.5h0M932.3 749.6h0M933.2 740.9h0M934.2 760.8h0M935.3 699.3h0M936.3 690.9h0M937.3 764h0M938.4 720.5h0M939.4 728.1h0M940.5 770.4h0M941.6 745.8h0M942.6 694.9h0M943.6 743.6h0M944.6 724.3h0M945.6 760.5h0M946.7 704.2h0M947.6 717h0M948.9 763.3h0M950.5 752.1h0M951.6 748.9h0M952.6 730h0M953.7 781h0M954.7 768.6h0M955.8 696.6h0M956.7 726.3h0M957.5 721.8h0M958.5 668h0M959.6 712.2h0M960.7 745.9h0M961.9 707.1h0M963.1 694.6h0M964.2 701.8h0M965.2 745.3h0M966.3 759.4h0M967.8 726.9h0M968.8 752.2h0M969.7 748.5h0M971 713.4h0M972 740.4h0M973.3 712.6h0M974.6 752.8h0M975.7 759.8h0M976.8 761.7h0M977.6 743.4h0M978.7 733.4h0M979.9 762.6h0M980.9 700.7h0M982.3 723.9h0M983.4 734.6h0M984.3 705.3h0M985.5 704.6h0M986.7 712.3h0M987.6 731.2h0M988.8 732.1h0M989.7 728.7h0M990.8 729.1h0M991.9 749.9h0M992.7 742.8h0M994 765.2h0M994.9 710.2h0M995.8 704.4h0M996.8 685.9h0M998.1 692.2h0M999 689.5h0M1000.2 768.5h0"/><path d="M122.6 740.8h0M123.8 744.9h0M125 773.8h0M125.7 701h0M126.7 722.1h0M127.9 707.4h0M129 725.2h0M130.1 752.6h0M131.4 747.6h0M132.6 743.5h0M133.6 717.7h0M134.4 763h0M135.8 757.3h0M136.8 716.5h0M137.9 691.3h0M139.2 709.4h0M140 743.1h0M141.4 667.4h0M142.5 706h0M143.5 752.1h0M144.7 705.5h0M146 744.6h0M147.1 753h0M148 656.3h0M149.2 729.7h0M150.1 721.2h0M151.1 739.3h0M152.3 712.2h0M153.2 752.1h0M154.5 705.1h0M155.6 756.3h0M156.5 709.1h0M157.6 764.3h0M158.5 726.4h0M159.5 742h0M160.4 725.9h0M161.7 740.9h0M162.7 702h0M163.9 739.1h0M164.9 695.8h0M165.8 762.1h0M166.7 741.5h0M167.8 691.1h0M168.9 745h0M170.1 717.4h0M171.2 746.4h0M172.5 746.9h0M173.5 726.1h0M174.5 720.6h0M175.6 744h0M176.6 764.1h0M177.6 713.7h0M178.6 735.5h0M179.6 721.2h0M180.8 717.4h0M182.1 745.4h0M182.9 743.1h0M184.3 692.1h0M185.3 709.8h0M186.4 702.2h0M187.4 744.6h0M188.4 727.5h0M189.6 755.3h0M190.6 714.4h0M191.9 720.8h0M192.9 749.4h0M194.1 715.7h0M195.1 752.3h0M195.9 718.5h0M197 753.5h0M198.3 716.1h0M199.4 749.5h0M200.3 757.4h0M201.4 734.8h0M202.3 757.1h0M203.6 698.7h0M204.9 765h0M205.7 742.3h0M206.7 724.6h0M208.6 721.5h0M209.7 701.4h0M210.6 719.8h0M211.7 758.7h0M212.7 720.1h0M213.5 768.8h0M215.1 718.6h0M216.4 738.5h0M217.2 718.1h0M218.5 757.9h0M219.6 708.6h0M220.8 689.9h0M221.9 758.5h0M223.1 772.3h0M224.4 764.7h0M225.7 750.6h0M226.5 703.7h0M227.6 753.2h0M228.7 714.5h0M229.8 691.4h0M230.5 755.2h0M232.1 743.2h0M233.2 719.2h0M234.4 709.7h0M235.1 722.4h0M236.7 756.6h0M237.9 759.1h0M238.8 748.7h0M239.9 692h0M241.2 711.5h0M242.2 697.7h0M243.1 707.4h0M244.4 757.3h0M245.5 762.1h0M247.1 714h0M248.1 722.7h0M249.1 745.5h0M250.2 755.7h0M251.1 716h0M252.1 742.1h0M253 731.4h0M254.1 715.2h0M255.3 764.7h0M256.4 738.7h0M257.5 643.8h0M258.3 753.5h0M259.3 724.3h0M260.4 724.5h0M261.7 753.8h0M262.5 760.4h0M263.7 736.4h0M264.7 763.9h0M265.9 753.4h0M266.7 755.4h0M267.9 734.8h0M269.2 731h0M270.3 741.6h0M271.5 763.4h0M272.8 720.1h0M273.9 754.2h0M274.9 659.6h0M275.7 752.3h0M276.9 722.6h0M277.7 714.9h0M278.9 703.3h0M279.9 723.8h0M280.8 698.9h0M281.9 695.3h0M282.8 734h0M284 713.1h0M284.8 734.3h0M285.7 754.1h0M286.7 732.3h0M288.2 770.4h0M289.6 758.6h0M290.5 710.5h0M292 759.4h0M293.2 689.4h0M294 710.4h0M295.3 724.1h0M296.2 670.2h0M297.1 732.6h0M298.4 719.7h0M299.7 717h0M300.9 737h0M302.1 715.1h0M303.2 756.3h0M304.3 753.7h0M305.4 748h0M306.1 746.2h0M307.2 708.3h0M308.7 767.7h0M309.9 724.6h0M310.9 689.8h0M312.1 709.1h0M313 748.2h0M314.1 705.9h0M315.2 765.9h0M316.1 742.9h0M317.1 748.9h0M317.9 741.7h0M318.9 742.3h0M320 721.3h0M321.3 699.7h0M322.6 728.5h0M323.9 728.4h0M325.1 742.2h0M326.1 758.1h0M327 746.8h0M328.2 758.5h0M329.1 710h0M330.1 720.5h0M331.8 694.6h0M332.8 692.8h0M333.7 730.6h0M335 718.6h0M336.7 771.4h0M337.7 707.3h0M338.8 735.3h0M339.9 716.3h0M340.8 662.3h0M342.1 741.7h0M343.4 696.9h0M344.6 698.3h0M345.3 729.6h0M346.5 730.6h0M347.6 703.4h0M348.8 703.4h0M350 733.8h0M351.4 728.2h0M352.4 712.6h0M353.9 699.7h0M355 723.9h0M355.9 703h0M356.8 696.1h0M358.2 688.8h0M359.3 748.1h0M360.4 729.8h0M361.7 720.1h0M362.7 755.6h0M363.7 735.1h0M364.6 733.1h0M365.6 746.5h0M366.6 724.2h0M367.6 700.4h0M368.7 712.3h0M370 712h0M371.3 723.5h0M372.4 759.7h0M373.5 714h0M375 769.3h0M375.9 693.9h0M376.7 730h0M377.9 712.3h0M378.9 712.9h0M379.9 692.2h0M380.7 714.1h0M381.9 716h0M382.9 709.8h0M384 713.3h0M385.3 748.1h0M386.5 743.7h0M387.7 719.9h0M389 727.3h0M389.9 732.7h0M391 755.6h0M392.1 719.9h0M393.1 763h0M394.2 705h0M395.3 706.1h0M396.5 762.5h0M397.6 701h0M398.6 701.9h0M399.7 713.2h0M400.9 766.9h0M402.3 741.7h0M403.7 735.3h0M404.6 733.2h0M405.9 703.6h0M407.1 729h0M408 758.8h0M409.1 739.6h0M410.2 716.7h0M411.3 743.7h0M412.2 757.6h0M413.1 746.3h0M414.3 742h0M415.3 743.4h0M416.2 753.6h0M417.4 762.4h0M418.2 714.4h0M419.4 756h0M420.6 749.4h0M421.6 692.9h0M422.7 755.6h0M423.5 713.4h0M424.6 750.9h0M425.7 713.7h0M427 747.7h0M428 732.9h0M429 730.9h0M429.8 748h0M430.7 768h0M431.8 715.9h0M433 712.1h0M434.2 746.6h0M435.4 743.1h0M436.2 730.9h0M437.3 693h0M438.7 679.4h0M440 740.1h0M441.2 762.1h0M442.8 727.6h0M443.8 742h0M444.9 702.9h0M445.9 727.3h0M447 766h0M447.9 731.7h0M449.1 708.8h0M450.1 728.3h0M451.5 729.9h0M452.7 718.5h0M453.8 763.3h0M455 752.9h0M456 757.3h0M457.1 692.8h0M458.3 740.1h0M459.3 715.5h0M460.3 703.6h0M461.3 752.1h0M462.2 748.1h0M463.1 722.1h0M464.3 749.7h0M465.5 748.8h0M466.8 738.8h0M467.8 688h0M468.7 757h0M469.9 731.1h0M471.1 673.4h0M472.1 764.5h0M473 732.4h0M474 710.6h0M475.2 697.4h0M476.1 718.4h0M477.3 765.6h0M478.1 740.6h0M479.5 692.5h0M480.7 768.2h0M481.7 748.9h0M482.5 723.4h0M483.8 758.1h0M484.9 732.4h0M486 709.4h0M487.6 709.8h0M488.6 699h0M489.9 730.5h0M490.8 716.5h0M491.9 709.9h0M492.9 748.3h0M493.8 752.9h0M494.8 750.2h0M496.4 707.4h0M497.3 725.1h0M498.5 751.5h0M500.1 725.2h0M501.2 739.5h0M502 695.9h0M503.1 743.1h0M504.3 712.7h0M505.2 698h0M506.4 730h0M507.6 754h0M508.5 760.7h0M509.5 740.7h0M510.5 748.4h0M512 756.8h0M513.1 764.1h0M514.1 698.1h0M515.7 719.2h0M516.8 718.9h0M517.7 704.5h0M519.1 680.4h0M520.1 719.2h0M521 753.3h0M522 722.7h0M523.1 706.4h0M524.5 728.5h0M525.8 760.9h0M526.7 731.4h0M527.5 767.7h0M528.6 729.8h0M529.8 690.4h0M530.7 701h0M531.8 747.4h0M532.7 751.9h0M533.9 747.5h0M534.9 725.1h0M535.7 752.4h0M537 727.1h0M538.2 688.6h0M539.5 766.3h0M540.5 755.6h0M542 764.4h0M543 710.7h0M544 739.5h0M545.2 753.7h0M546.3 689.2h0M547.4 726.4h0M548.5 766.3h0M549.6 705h0M550.9 696.5h0M551.8 761h0M552.8 722.1h0M554.1 706.2h0M555.2 736.9h0M556.4 762.1h0M557.5 750h0M558.3 722.1h0M559.3 713.2h0M560.8 700.5h0M561.7 750.7h0M563.2 714h0M564.4 729.3h0M565.3 716.2h0M566.3 712.2h0M567.2 733.4h0M568.4 727.8h0M569.1 723.1h0M570.7 695.6h0M571.8 730.9h0M573.3 751.1h0M574.5 758.8h0M575.4 705.6h0M576.6 694.8h0M577.4 705h0M578.3 727.1h0M579.5 735.4h0M580.6 697.8h0M581.7 663.8h0M582.6 718.6h0M583.7 702.3h0M585 738.8h0M585.5 665.7h0M587.2 711.7h0M588 713.9h0M589.4 743.7h0M590.1 704.9h0M591.3 774.8h0M592.3 739.6h0M593.7 702.8h0M594.6 757.8h0M595.7 713.6h0M597.1 699.8h0M598.1 721.8h0M599.6 756.4h0M601.1 711.5h0M602 691.5h0M603.2 701.1h0M604.4 722.9h0M605.7 722.9h0M606.6 737.3h0M608 764h0M609 719h0M610.4 715.7h0M611.4 707h0M612.5 729.7h0M613.6 742.9h0M614.8 751.6h0M615.8 746.4h0M616.8 724h0M617.7 691.2h0M619.3 761.9h0M620.5 651.9h0M621.2 754.7h0M622.2 770.3h0M623.8 755.7h0M624.7 719.7h0M625.7 716.8h0M626.8 739.3h0M627.9 707.2h0M629 738.7h0M629.9 758.9h0M630.7 724.1h0M632.1 758.4h0M633.2 742.7h0M634.3 769h0M635.4 748.3h0M636.5 754.6h0M637.6 726.7h0M638.3 698.6h0M639.8 723.9h0M641 759.9h0M642.2 757.3h0M643.2 696.1h0M644.2 732.6h0M645.3 721.4h0M646.1 768.4h0M647.3 708.3h0M648.2 736.5h0M649.4 737.9h0M650.6 705.7h0M651.6 762h0M652.3 732.3h0M653.3 730.8h0M654.4 706h0M655.4 700h0M656.9 728.2h0M658 701h0M658.9 706.3h0M660.2 733.1h0M661.2 730.6h0M662.1 713.5h0M663.4 756.4h0M664.2 727.2h0M665.5 693.5h0M666.4 743.8h0M667.7 721.1h0M668.9 759.1h0M669.9 748.7h0M671.1 767.5h0M672.2 753.3h0M673.2 710.4h0M674.3 691.9h0M675.4 703.6h0M676.3 725.9h0M677.3 702.5h0M678.3 733.4h0M679.4 726.1h0M680.4 753.2h0M681.8 754.4h0M682.6 728.5h0M683.7 708.7h0M684.7 713.3h0M685.5 752.9h0M686.6 720.1h0M687.7 738.3h0M688.8 699.7h0M690 722.1h0M691 697h0M692 695.6h0M692.9 718.9h0M694.4 690.9h0M695.5 771h0M696.5 743.7h0M697.6 688.6h0M698.6 754.2h0M700 757.2h0M700.8 712.9h0M701.7 705.5h0M703 762.6h0M703.9 750.8h0M705.1 720.9h0M706.1 731.7h0M707.4 744.3h0M708.1 745.2h0M709.1 714.2h0M710.2 760.1h0M711.4 737.8h0M712.5 740.2h0M713.8 690.5h0M714.5 713.9h0M715.8 728.8h0M717.1 744.7h0M718.2 739.7h0M719.2 789.9h0M720.1 734.9h0M721.1 712.2h0M722.2 698.2h0M723.5 685.5h0M724.4 717.2h0M725.9 717.6h0M726.8 717.2h0M727.8 695.3h0M729 658.8h0M729.8 729.7h0M731 714.4h0M731.7 703.4h0M733 747.4h0M734.1 714.7h0M735.1 742.2h0M736.2 715.7h0M737.6 708.7h0M738.5 719h0M739.9 694.8h0M740.8 768.2h0M742 716.6h0M743.1 703.1h0M744.4 735.5h0M745.6 729.7h0M746.9 705.9h0M747.7 692.9h0M749.2 739.1h0M750 723.2h0M751.1 752.7h0M752 711h0M753.2 695h0M754.3 746.4h0M755.5 773.3h0M756.8 719.4h0M757.8 755.7h0M759.2 717.9h0M760.1 737.5h0M761.6 732.2h0M762.5 751.8h0M763.4 733.2h0M764.5 751h0M765.4 714.9h0M766.5 729.9h0M767.8 707.8h0M768.9 658.9h0M770 750.1h0M770.9 738.2h0M772.2 714.6h0M773.2 753.7h0M774.2 738.2h0M775.5 738.3h0M777.3 760h0M778.1 712.8h0M779.1 754.4h0M780.1 725.4h0M781.3 764.5h0M782.2 739.7h0M783.3 747h0M784.1 732.1h0M785.5 694.6h0M786.6 741.5h0M787.5 744.1h0M788.5 744h0M789.8 709.2h0M790.8 732.9h0M792.3 747h0M793.5 735.5h0M794.3 735.3h0M795.5 709.7h0M796.4 746h0M797.8 729.8h0M799 713.1h0M800.7 702.8h0M801.7 708.8h0M803.2 740.5h0M803.9 705.2h0M805.4 718.7h0M806.6 736.3h0M807.4 756.1h0M809.1 715.5h0M809.9 740.1h0M811 724h0M812.1 698.8h0M813.1 697.3h0M814.2 715.5h0M815.5 739.4h0M816.6 768h0M817.7 745.6h0M818.7 704.6h0M819.9 718.7h0M821.4 726h0M822.1 720.4h0M823.3 751.9h0M825 705.4h0M826.2 748.1h0M827.1 731.8h0M828.1 730.1h0M829.6 711.8h0M830.5 705.6h0M832 756.8h0M832.9 715.5h0M834 766.7h0M835.3 716.7h0M836.2 730.6h0M837.4 737h0M838.3 688.3h0M839.6 700.8h0M840.5 748.9h0M841.6 712h0M842.4 713.5h0M843.7 751.4h0M844.9 709.9h0M846 708h0M847.2 739.7h0M848.3 706.3h0M849.6 729.6h0M850.4 740.1h0M851.4 725.3h0M852.6 768.9h0M853.6 725.7h0M854.7 706.1h0M855.9 713.2h0M857 705.7h0M858.1 748.7h0M859 701.8h0M860.4 770.3h0M861.5 654.2h0M862.5 732.4h0M863.5 743.1h0M864.7 758.4h0M865.7 730.5h0M866.8 742.5h0M868 746.7h0M869.4 744.2h0M870.4 707.5h0M871.9 699.4h0M873 751.7h0M874.1 699.5h0M874.9 751.9h0M876.1 743.4h0M877 706.5h0M877.9 753.6h0M879.5 716.7h0M880.9 722.6h0M881.9 738.3h0M883.2 724.3h0M884.1 751.8h0M885.4 742.3h0M886.3 731.4h0M887.1 751h0M888.1 723.4h0M889.5 716.8h0M890.4 725.7h0M891.7 737.1h0M893 722.5h0M894.1 734.2h0M895.1 707.5h0M896.2 761.6h0M897.2 750.2h0M898.1 739.7h0M899.4 735.5h0M900.3 728.3h0M901.1 718.3h0M902.3 741.7h0M903.2 700.3h0M904.3 702.1h0M905.8 742.9h0M906.8 739.6h0M908 740.1h0M908.7 751.8h0M909.8 741.3h0M911 726.4h0M912 744.4h0M913.2 760.3h0M914.4 693.3h0M915.4 737.4h0M916.8 747h0M918.1 749.4h0M919.3 730.1h0M920.4 722.3h0M921.3 733.2h0M922.3 730.3h0M923.4 704.5h0M924.7 737.6h0M925.8 758.3h0M926.9 711.9h0M928 731.5h0M928.9 703.8h0M930.1 721.5h0M931.4 717.5h0M932.5 725.6h0M933.4 727.2h0M934.5 757.1h0M935.5 748.2h0M936.5 763.2h0M937.5 742.5h0M938.4 751.6h0M939.7 728.8h0M940.7 715.1h0M941.9 706h0M943 691.6h0M943.8 751.2h0M944.9 740.3h0M945.8 732.2h0M946.7 702.5h0M947.8 734.2h0M948.9 701.1h0M950.7 735h0M951.8 695.9h0M952.8 748.5h0M953.8 755.7h0M954.7 712.1h0M956 755.9h0M956.8 741h0M957.9 742.7h0M958.8 708.1h0M960 726.1h0M960.9 723.4h0M961.9 730.8h0M963.2 743.5h0M964.6 751.8h0M965.5 721.6h0M966.4 688.3h0M968 717.1h0M969.1 750.1h0M970.1 735.2h0M971.2 698.4h0M972.4 749.2h0M973.5 705.5h0M975 734h0M975.9 751.7h0M976.7 687.9h0M978.1 693.7h0M979.2 748.6h0M980.3 728.8h0M981.5 696.7h0M982.6 748.4h0M983.5 718.7h0M984.4 715.9h0M985.6 754.9h0M986.9 704.5h0M988 693h0M988.7 741.9h0M989.9 741.9h0M991 743.8h0M991.9 743.5h0M993.1 756h0M994.2 744.6h0M994.9 727.4h0M996 743.3h0M997.1 692.1h0M998.3 731.6h0M999.1 739.9h0"/><path d="M122.8 739.5h0M123.9 745.6h0M124.9 727.7h0M125.9 720.8h0M127.2 754.5h0M127.9 690.6h0M129 766.8h0M130.2 738.8h0M131.6 655h0M132.7 694.9h0M133.6 686.1h0M134.6 731.4h0M136 721.3h0M137 764.7h0M138 709.9h0M139.2 708h0M140.1 758.5h0M141.5 705.4h0M142.8 756h0M143.8 749.3h0M145 744.2h0M146.3 748.4h0M147.4 740.9h0M148.4 693.8h0M149.5 711.8h0M150.4 718.8h0M151.5 738.3h0M152.4 716.9h0M153.4 760.7h0M154.7 757.4h0M155.8 699.8h0M156.6 751.7h0M157.7 735.1h0M158.5 732.3h0M159.7 699.1h0M160.6 694.1h0M161.8 742.1h0M162.9 725.2h0M164.1 706.3h0M165.1 754.2h0M166.1 754.3h0M167.2 703.6h0M168 745.5h0M169.2 710.4h0M170.3 707h0M171.3 763.9h0M172.7 705.9h0M173.6 759.3h0M174.7 723h0M175.7 702.3h0M176.7 728.6h0M177.9 693h0M178.8 685.4h0M179.7 739.2h0M181.2 742.7h0M182.4 694.9h0M183.1 753.9h0M184.6 756.7h0M185.5 759.8h0M186.6 691.2h0M187.7 713.4h0M188.7 699.7h0M189.9 735.2h0M190.9 716.4h0M192 727.6h0M193.1 759.5h0M194.2 743.7h0M195.3 744.6h0M196.1 753.5h0M197.2 714.6h0M198.6 700.8h0M199.3 711.5h0M200.7 757.9h0M201.7 740.3h0M202.8 727.5h0M204 762h0M205.1 693.9h0M206.1 738.5h0M207 718.4h0M208.7 756.6h0M209.7 767.1h0M210.8 736h0M211.8 723.8h0M212.9 730.1h0M214 725.3h0M215.1 742.8h0M216.4 766.8h0M217.5 696.2h0M218.9 728.8h0M219.8 707.2h0M221 682.4h0M222.4 703.3h0M223.3 762.8h0M224.5 728.1h0M225.8 776.4h0M226.9 752.7h0M227.7 698.1h0M228.9 739h0M229.9 773.5h0M230.9 766h0M232.2 709.8h0M233.2 698.8h0M234.5 732h0M235.7 745.1h0M236.9 698.4h0M238.1 755.7h0M239.1 712.8h0M240.2 749.7h0M241.3 746.1h0M242.4 710.7h0M243.4 754.2h0M244.5 724.6h0M245.6 741.5h0M247.4 762.9h0M248.2 728.1h0M249.4 728.4h0M250.4 703.1h0M251.4 770h0M252.1 700.2h0M253.1 708.1h0M254.2 758.4h0M255.4 736.7h0M256.4 750.5h0M257.3 763.8h0M258.5 744.4h0M259.5 768.4h0M260.3 762.4h0M261.7 723.6h0M262.9 763.2h0M263.7 755.6h0M265.2 709.5h0M265.9 696.2h0M266.9 733.7h0M268.3 716.3h0M269.6 737.7h0M270.3 760.4h0M271.9 691.7h0M272.9 745.4h0M274.2 751.4h0M275.1 777.9h0M275.9 697.1h0M277 734.8h0M278 749.9h0M279 725.2h0M280 762.6h0M281 710.3h0M281.9 758.6h0M283.1 742h0M284 761.6h0M284.9 750.5h0M286.1 755.2h0M286.9 740h0M288.5 740.1h0M289.8 742.2h0M290.7 716.1h0M292.3 701.9h0M293.2 694.7h0M294.5 724.2h0M295.5 730.2h0M296.5 757.9h0M297.4 718.6h0M298.7 761.4h0M299.8 730.9h0M301.2 696.6h0M302.3 722.8h0M303.3 728.8h0M304.4 730.9h0M305.4 713.3h0M306.6 729.4h0M307.7 734.1h0M308.9 693.3h0M310.2 760.4h0M311.1 721.1h0M312.4 710.3h0M313.3 721.9h0M314.1 748.1h0M315.3 716.9h0M316.2 733.1h0M317.1 725.9h0M318.1 692.2h0M319.3 704.6h0M320.2 730.2h0M321.7 741.7h0M322.9 721.6h0M324 752.6h0M325.4 770.6h0M326.3 744.8h0M327.3 754.4h0M328.5 713.6h0M329.6 701h0M330.4 715.6h0M332.1 724.2h0M333 709.6h0M334 766.1h0M335.4 723.7h0M337 708.5h0M338 721.6h0M339.2 737.7h0M340.2 738.7h0M341.2 745.2h0M342.6 701h0M343.6 707.4h0M344.7 765.2h0M345.8 751.3h0M346.8 705.4h0M347.7 751.4h0M348.7 707.6h0M350.4 712.2h0M351.6 751.9h0M352.7 747.3h0M354.1 703.9h0M355 720.8h0M356 691.5h0M356.9 711h0M358.3 721.9h0M359.8 694.6h0M360.7 715.2h0M361.9 717.9h0M362.8 729.4h0M363.9 719.9h0M364.8 688.5h0M365.9 719.6h0M366.9 740.8h0M368 692.8h0M369 716.6h0M370.2 754.5h0M371.6 759.1h0M372.6 704.9h0M373.8 743.4h0M375 739.8h0M375.9 727.7h0M377 728.3h0M377.9 756.2h0M379.1 743h0M380 718.4h0M381 734.3h0M382.2 747.3h0M383 754.6h0M384 682.5h0M385.3 750.7h0M386.7 698.8h0M388 710.8h0M389.2 752.8h0M390.1 701.4h0M391.2 722.2h0M392.3 725h0M393.3 708h0M394.4 700.4h0M395.8 688.4h0M396.7 706h0M398 737.6h0M398.9 768.6h0M400 706.9h0M401.3 742.6h0M402.4 730.8h0M403.8 767.8h0M404.7 734.9h0M406 749.1h0M407.3 743.1h0M408.4 775.4h0M409.1 736.7h0M410.3 737.7h0M411.3 700.6h0M412.6 721.2h0M413.5 704.5h0M414.5 692.5h0M415.3 718.6h0M416.5 763.9h0M417.3 765.3h0M418.6 762.9h0M419.7 706.5h0M420.9 722.6h0M421.8 735.3h0M422.7 731h0M423.9 755.7h0M424.9 698.8h0M425.9 708.7h0M427 746.3h0M427.9 712.2h0M429.1 728h0M430.1 715.1h0M430.9 757.4h0M432 720.9h0M433.2 700.7h0M434.1 697.6h0M435.4 755.7h0M436.5 724.7h0M437.7 738h0M439 707.2h0M440.1 754.6h0M441.8 719.5h0M442.9 710.2h0M443.9 722h0M445 703h0M446 737.8h0M447.1 734.1h0M448.1 763.8h0M449.1 737h0M450.4 739.6h0M451.8 710.7h0M452.9 781.2h0M453.9 751.6h0M454.9 763h0M456.4 740h0M457.4 751h0M458.6 741.4h0M459.6 695.2h0M460.4 743.7h0M461.4 695.5h0M462.3 703.6h0M463.6 739.7h0M464.7 752.6h0M465.8 715.8h0M466.7 694.4h0M467.9 742.8h0M469 696.5h0M470.2 753.9h0M471.2 740.6h0M472.4 729.1h0M473.4 737.6h0M474.4 705.3h0M475.2 688h0M476.4 693h0M477.6 746.2h0M478.6 719.7h0M480 740.6h0M480.9 690.9h0M481.7 743.1h0M482.8 752.4h0M483.9 721.1h0M485 770.3h0M486.4 735h0M487.6 727h0M488.7 753.3h0M490.2 734.3h0M491.1 711h0M492 764.5h0M493.1 755.1h0M493.9 742.8h0M495.1 730.5h0M496.4 699.8h0M497.4 757.3h0M498.6 716.4h0M500.2 742.9h0M501.1 724.3h0M502.4 715.3h0M503.4 720.3h0M504.5 750.9h0M505.4 689.1h0M506.5 753.7h0M507.8 765h0M508.5 747.5h0M509.5 748.3h0M510.9 714.3h0M512.3 722.8h0M513.2 746.7h0M514.8 752h0M515.8 703.9h0M517.2 738.6h0M518.2 765.5h0M519.1 763.6h0M520.3 713.3h0M521.3 694.4h0M522.4 705.5h0M523.3 694.1h0M524.8 676.3h0M525.9 722h0M527 721.4h0M527.7 733.5h0M528.9 743.6h0M529.8 707.6h0M530.7 704.1h0M531.9 746h0M533 736.2h0M534 752.8h0M535.2 706.4h0M536.2 710.5h0M537.1 737h0M538.4 691.4h0M539.6 716.5h0M540.9 695.1h0M542.3 738.2h0M543.3 707.4h0M544.2 754.6h0M545.5 734.2h0M546.4 757h0M547.5 705.8h0M548.6 771.9h0M549.8 755.3h0M551.2 701.3h0M552.1 745.7h0M553 756.1h0M554.4 705.1h0M555.4 698h0M556.7 710h0M557.6 712.9h0M558.5 757.4h0M559.8 663h0M560.9 754.9h0M562 713.7h0M563.2 750.6h0M564.6 757.8h0M565.5 730h0M566.6 721.1h0M567.5 701.7h0M568.5 755.7h0M570.1 740.1h0M570.9 762.2h0M572 741.5h0M573.4 761.3h0M574.6 736.6h0M575.5 740.6h0M576.7 729.5h0M577.6 720.1h0M578.6 733.6h0M579.7 710.1h0M580.8 689.4h0M581.9 723.2h0M583 760.6h0M583.9 752.3h0M585.2 705.1h0M586.3 764.2h0M587.3 705.6h0M588.3 691h0M589.5 736.8h0M590.4 754h0M591.6 710.3h0M592.5 737.8h0M593.8 768.1h0M594.8 727.7h0M596 756.6h0M597.4 760.5h0M598.4 709.7h0M599.8 747.9h0M601.2 769.2h0M602.3 767.9h0M603.4 737.9h0M604.6 718.7h0M606 694.4h0M606.8 709.5h0M608.5 661.6h0M609.3 768.2h0M610.8 699.8h0M611.7 718.4h0M612.6 763.8h0M613.7 701h0M615 693.5h0M616.1 726.7h0M617.1 762.4h0M618 688.4h0M619.3 721.5h0M620.4 729.8h0M621.5 738.4h0M622.8 691.8h0M624 690.8h0M624.9 708.5h0M625.8 734h0M627 704.1h0M628.1 688.9h0M629.1 746.1h0M630.2 710h0M631.3 759.5h0M632.3 678.5h0M633.5 729.1h0M634.7 708.7h0M635.6 676.6h0M636.7 753.5h0M637.7 713.8h0M638.6 716.8h0M640.1 743.3h0M641.2 759h0M642.4 742.4h0M643.4 743.5h0M644.5 705.6h0M645.4 735.3h0M646.5 769.6h0M647.5 751.5h0M648.3 751.8h0M649.7 749.7h0M650.8 751.5h0M651.7 707.4h0M652.8 778.6h0M653.7 740.3h0M654.5 744.3h0M655.6 752.2h0M657.2 772.6h0M658.4 717.7h0M659.3 691h0M660.3 729.3h0M661.3 706.6h0M662.4 727.1h0M663.6 688.6h0M664.6 700.5h0M665.8 711.1h0M666.7 705.2h0M667.9 757.6h0M669.2 696.6h0M670.2 709.6h0M671.3 738.8h0M672.4 762.2h0M673.3 760.7h0M674.4 736.8h0M675.3 726.2h0M676.5 727h0M677.4 752.7h0M678.6 748.9h0M679.6 717.9h0M680.5 752.2h0M681.9 739.7h0M683 698.2h0M683.8 712.8h0M684.9 735.5h0M685.7 760.3h0M686.7 698.5h0M688 729.5h0M689.2 701.3h0M689.9 702.3h0M691 703.9h0M692.1 730.9h0M693.1 745.6h0M694.6 727.4h0M695.7 723.3h0M696.5 775.9h0M697.7 713.6h0M698.9 711.4h0M700.1 784.3h0M701.1 728.2h0M702.1 754.9h0M703.1 747.6h0M704.1 733.1h0M705.3 725.9h0M706.6 752.6h0M707.6 748.4h0M708.6 726h0M709.5 750.5h0M710.5 724.1h0M711.7 726.5h0M712.7 711.9h0M713.8 764.9h0M714.7 734.2h0M716.1 721.1h0M717.2 762.2h0M718.4 718.1h0M719.4 754.3h0M720.5 709.8h0M721.4 714.9h0M722.5 737.3h0M723.7 773.5h0M724.7 732.1h0M726.1 724.4h0M727.1 727.6h0M728.2 751.7h0M728.9 716.9h0M730.1 725.2h0M731 760.3h0M732.1 698.9h0M733.4 744.1h0M734.1 735.6h0M735.2 761h0M736.4 738.4h0M737.9 762.9h0M738.9 717.5h0M740.1 762.3h0M741.2 710.4h0M742.2 746.5h0M743.2 707.6h0M744.8 720.2h0M745.7 703.8h0M747 735.7h0M748 690.8h0M749.3 773.7h0M750.2 701.2h0M751.2 708.2h0M752.1 712.3h0M753.4 709.9h0M754.3 746.2h0M755.8 756.3h0M757 763.2h0M758 754.5h0M759.4 723.6h0M760.6 687.7h0M761.8 692.9h0M762.8 762.5h0M763.8 696.2h0M764.8 744.3h0M765.7 704.3h0M766.8 753h0M767.9 745.4h0M769 711.8h0M770.2 747.1h0M771.2 703.7h0M772.1 698.3h0M773.2 759h0M774.5 696h0M776.1 708.8h0M777.5 763.2h0M778.3 719.4h0M779.3 706.2h0M780.4 740.9h0M781.3 711.8h0M782.5 751.7h0M783.3 739.2h0M784.4 707.8h0M785.7 749.3h0M786.5 722.1h0M788 745.5h0M788.9 745.1h0M789.8 714h0M790.7 735.2h0M792.5 759h0M793.5 743.2h0M794.5 740.9h0M795.7 709.7h0M796.7 744.4h0M798.1 710.3h0M799.4 749.9h0M800.8 710.3h0M801.9 730.1h0M803.2 756.2h0M804.4 708.5h0M805.7 726h0M806.6 761.5h0M807.6 708h0M809.4 663.9h0M810.2 713.7h0M811.3 730h0M812.5 774.8h0M813.6 765.9h0M814.7 730.3h0M815.5 696.5h0M816.8 745.4h0M817.9 705.4h0M819.1 734.5h0M820.4 763.6h0M821.3 719.4h0M822.3 733.5h0M823.6 752h0M825.2 750.5h0M826.1 730.5h0M827.5 753.1h0M828.4 738.3h0M829.8 730.7h0M830.9 698h0M832 730.3h0M833.1 720.9h0M834.4 754h0M835.3 710.6h0M836.6 730.9h0M837.6 744.9h0M838.7 703.7h0M839.5 757.7h0M840.8 737.3h0M841.7 747.4h0M842.8 769.1h0M843.8 746.8h0M845.1 725.7h0M846.2 710.3h0M847.4 725.1h0M848.8 683.9h0M849.6 716.5h0M850.7 717.7h0M851.6 735.1h0M852.8 712h0M853.7 761.4h0M854.8 738.5h0M856.4 710.8h0M857.1 745.1h0M858.3 739.8h0M859.6 763h0M860.3 739.6h0M861.3 717.7h0M862.6 774.4h0M863.7 716h0M864.8 699h0M866 734.4h0M867 701.1h0M868.3 759.3h0M869.7 737.2h0M870.8 696.2h0M872.1 702.5h0M873.3 727.1h0M874.2 704.8h0M875.1 732.5h0M876.3 745.9h0M877.1 758.3h0M878.8 701h0M879.9 725.8h0M881.2 695.6h0M882.3 752.6h0M883.4 761.6h0M884.4 735.5h0M885.5 741.5h0M886.3 750.2h0M887.4 730.8h0M888.4 740.3h0M889.6 714.4h0M890.6 725.9h0M891.5 657.6h0M893.6 723.5h0M894.5 765.3h0M895.5 733.1h0M896.5 703.2h0M897.6 691.9h0M898.6 748.8h0M899.6 759.7h0M900.6 756.2h0M901.4 727.2h0M902.4 715.9h0M903.5 719.9h0M904.7 702.5h0M906 730.2h0M907 750.8h0M908 740.9h0M909.1 714.8h0M910 721.2h0M911 764.1h0M912.2 709.7h0M913.4 713.2h0M914.6 740.9h0M915.9 709.6h0M916.9 747.1h0M918.6 730.1h0M919.5 697.4h0M920.4 733.8h0M921.4 742.6h0M922.3 748.2h0M923.5 737.7h0M924.8 756.6h0M925.8 709h0M927 735.8h0M928.3 691.7h0M929.2 723.6h0M930.2 762h0M931.4 727.1h0M932.7 734.5h0M933.6 692.2h0M934.8 730.8h0M935.7 771.9h0M936.7 756.5h0M937.5 703h0M938.8 761.6h0M940.1 765.7h0M941.1 728.1h0M942.1 695.7h0M942.9 726.6h0M944.1 738h0M945 723.7h0M945.9 757.2h0M947 704.9h0M948.1 751.2h0M949.4 767h0M951 722.2h0M951.9 754h0M953.1 721.2h0M954.2 701.2h0M955 718.3h0M956.1 763.6h0M957 706.5h0M957.9 720.7h0M958.9 744.7h0M960.2 719.2h0M961.1 731.6h0M962.3 754.2h0M963.4 711.8h0M964.7 711.4h0M965.5 709.1h0M966.7 707.7h0M968.3 716.3h0M969.1 694.6h0M970.1 727.3h0M971.4 763.1h0M972.8 738.9h0M973.8 744.5h0M975 741.8h0M976.1 753.2h0M977 718.8h0M978.3 726.4h0M979.6 688.1h0M980.4 718.6h0M981.8 697.4h0M982.8 754.6h0M983.5 719.5h0M984.7 740.1h0M985.9 720.7h0M987.1 727h0M988.2 760h0M988.9 732.7h0M990.1 767.9h0M991.1 739.3h0M992.2 748h0M993.4 694.3h0M994.2 719h0M995.3 760.5h0M996.3 697.9h0M997.4 712.2h0M998.5 755h0M999.6 673.9h0"/></g><path fill="rgba(130,120,120,0.45)" d="M121.9 712.4l2.2 3.8h-4.4zM122.9 727.4l2.2 3.8h-4.4zM123.6 745l2.2 3.8h-4.4zM129.4 728.8l2.2 3.8h-4.4zM130.9 742.3l2.2 3.8h-4.4zM131.1 787.4l2.2 3.8h-4.4zM134.9 731l2.2 3.8h-4.4zM135.1 735l2.2 3.8h-4.4zM138.2 736.8l2.2 3.8h-4.4zM140.3 769l2.2 3.8h-4.4zM141.7 684.3l2.2 3.8h-4.4zM142.5 769.9l2.2 3.8h-4.4zM144.7 702.2l2.2 3.8h-4.4zM145.7 727.9l2.2 3.8h-4.4zM148.6 742.5l2.2 3.8h-4.4zM153.6 724.4l2.2 3.8h-4.4zM161.1 694.8l2.2 3.8h-4.4zM163 734.8l2.2 3.8h-4.4zM169 702.5l2.2 3.8h-4.4zM170 685l2.2 3.8h-4.4zM172 742.4l2.2 3.8h-4.4zM175.4 683.4l2.2 3.8h-4.4zM180.5 771.5l2.2 3.8h-4.4zM181 729.7l2.2 3.8h-4.4zM184.1 743.1l2.2 3.8h-4.4zM186.2 668.3l2.2 3.8h-4.4zM189 668.4l2.2 3.8h-4.4zM190.8 691.8l2.2 3.8h-4.4zM193.8 758.1l2.2 3.8h-4.4zM197.4 685.4l2.2 3.8h-4.4zM199.5 723.8l2.2 3.8h-4.4zM202.6 750.4l2.2 3.8h-4.4zM203.8 733.3l2.2 3.8h-4.4zM207.3 725.7l2.2 3.8h-4.4zM207.4 741.3l2.2 3.8h-4.4zM207.7 700.6l2.2 3.8h-4.4zM208.2 670.8l2.2 3.8h-4.4zM214.2 651.2l2.2 3.8h-4.4zM214.7 723.1l2.2 3.8h-4.4zM215.9 754.6l2.2 3.8h-4.4zM218.3 709.7l2.2 3.8h-4.4zM218.7 711.1l2.2 3.8h-4.4zM221.2 728.5l2.2 3.8h-4.4zM221.7 701.3l2.2 3.8h-4.4zM223.5 684.4l2.2 3.8h-4.4zM224.2 658.1l2.2 3.8h-4.4zM225.3 726.3l2.2 3.8h-4.4zM231.4 720.5l2.2 3.8h-4.4zM231.3 772.8l2.2 3.8h-4.4zM233.7 691.5l2.2 3.8h-4.4zM235.5 698.5l2.2 3.8h-4.4zM236.4 779.1l2.2 3.8h-4.4zM236.9 694.7l2.2 3.8h-4.4zM239.4 770.4l2.2 3.8h-4.4zM241.8 755.2l2.2 3.8h-4.4zM244.8 691.7l2.2 3.8h-4.4zM245.8 688.5l2.2 3.8h-4.4zM246 764.7l2.2 3.8h-4.4zM246.7 659.1l2.2 3.8h-4.4zM254.7 736.1l2.2 3.8h-4.4zM260.8 738.2l2.2 3.8h-4.4zM261 735.9l2.2 3.8h-4.4zM264.7 693.7l2.2 3.8h-4.4zM267.5 770.4l2.2 3.8h-4.4zM268.9 699.5l2.2 3.8h-4.4zM271.1 726.6l2.2 3.8h-4.4zM271.6 653.3l2.2 3.8h-4.4zM273.3 720.4l2.2 3.8h-4.4zM287.3 707l2.2 3.8h-4.4zM287.7 692.3l2.2 3.8h-4.4zM288.4 696.4l2.2 3.8h-4.4zM289.6 717.6l2.2 3.8h-4.4zM290.9 700.5l2.2 3.8h-4.4zM291.5 671.8l2.2 3.8h-4.4zM294.3 721.7l2.2 3.8h-4.4zM298 694.8l2.2 3.8h-4.4zM299.4 681.9l2.2 3.8h-4.4zM300.2 667.8l2.2 3.8h-4.4zM300.6 693.1l2.2 3.8h-4.4zM303.3 679.4l2.2 3.8h-4.4zM307.4 728.5l2.2 3.8h-4.4zM307.8 703.5l2.2 3.8h-4.4zM309.6 707.8l2.2 3.8h-4.4zM311.5 740.5l2.2 3.8h-4.4zM320.5 690.4l2.2 3.8h-4.4zM321.4 747.9l2.2 3.8h-4.4zM322.1 685.6l2.2 3.8h-4.4zM323.2 681.3l2.2 3.8h-4.4zM324.5 659l2.2 3.8h-4.4zM327.8 656.7l2.2 3.8h-4.4zM330.9 752.3l2.2 3.8h-4.4zM331.5 683.5l2.2 3.8h-4.4zM331.6 742.5l2.2 3.8h-4.4zM334.5 671.8l2.2 3.8h-4.4zM335.7 753l2.2 3.8h-4.4zM336 742l2.2 3.8h-4.4zM336.5 709.5l2.2 3.8h-4.4zM336.9 710.7l2.2 3.8h-4.4zM341.4 743.5l2.2 3.8h-4.4zM341.9 742.3l2.2 3.8h-4.4zM344.3 765.3l2.2 3.8h-4.4zM346.9 724.3l2.2 3.8h-4.4zM349.1 719.1l2.2 3.8h-4.4zM349.8 771.9l2.2 3.8h-4.4zM350.2 698.1l2.2 3.8h-4.4zM351.7 741.2l2.2 3.8h-4.4zM352.7 652.4l2.2 3.8h-4.4zM353 685.6l2.2 3.8h-4.4zM357.8 656.4l2.2 3.8h-4.4zM358.4 715l2.2 3.8h-4.4zM359.2 777.3l2.2 3.8h-4.4zM361.1 707.4l2.2 3.8h-4.4zM369.1 721.8l2.2 3.8h-4.4zM369.7 708.9l2.2 3.8h-4.4zM370.7 770.3l2.2 3.8h-4.4zM372.1 762.3l2.2 3.8h-4.4zM373.1 664.1l2.2 3.8h-4.4zM374.2 764.4l2.2 3.8h-4.4zM384.4 709.2l2.2 3.8h-4.4zM384.4 685.7l2.2 3.8h-4.4zM386.2 715.4l2.2 3.8h-4.4zM386.7 780.9l2.2 3.8h-4.4zM386.9 737l2.2 3.8h-4.4zM390.9 734.1l2.2 3.8h-4.4zM394 668.7l2.2 3.8h-4.4zM395.6 768.4l2.2 3.8h-4.4zM397.5 771.4l2.2 3.8h-4.4zM399.4 721.3l2.2 3.8h-4.4zM400.4 756.9l2.2 3.8h-4.4zM402.1 770.3l2.2 3.8h-4.4zM402.6 756.8l2.2 3.8h-4.4zM403.5 767.4l2.2 3.8h-4.4zM405.1 711.4l2.2 3.8h-4.4zM406.3 717.4l2.2 3.8h-4.4zM409.9 753.5l2.2 3.8h-4.4zM418.4 764l2.2 3.8h-4.4zM420.2 701.6l2.2 3.8h-4.4zM426.8 773.6l2.2 3.8h-4.4zM433.1 712.3l2.2 3.8h-4.4zM434.9 746.9l2.2 3.8h-4.4zM436.3 741.2l2.2 3.8h-4.4zM438.4 761.5l2.2 3.8h-4.4zM439.4 745.2l2.2 3.8h-4.4zM439.8 662l2.2 3.8h-4.4zM441 763.7l2.2 3.8h-4.4zM441.5 733l2.2 3.8h-4.4zM441.7 675.9l2.2 3.8h-4.4zM442.2 761.6l2.2 3.8h-4.4zM448.4 724.2l2.2 3.8h-4.4zM450.8 785.8l2.2 3.8h-4.4zM451.2 684.2l2.2 3.8h-4.4zM451.6 779.8l2.2 3.8h-4.4zM454.4 660.8l2.2 3.8h-4.4zM456.1 702.3l2.2 3.8h-4.4zM456.7 772.4l2.2 3.8h-4.4zM463.6 775.7l2.2 3.8h-4.4zM464.7 719l2.2 3.8h-4.4zM469.2 754.3l2.2 3.8h-4.4zM470.5 757.6l2.2 3.8h-4.4zM476.8 761.7l2.2 3.8h-4.4zM478.5 685.9l2.2 3.8h-4.4zM479.7 732.4l2.2 3.8h-4.4zM482.9 680.5l2.2 3.8h-4.4zM485.8 783.1l2.2 3.8h-4.4zM486.9 674.3l2.2 3.8h-4.4zM487.1 663.1l2.2 3.8h-4.4zM488 710l2.2 3.8h-4.4zM488.9 753.4l2.2 3.8h-4.4zM495.2 735.5l2.2 3.8h-4.4zM495.9 660.1l2.2 3.8h-4.4zM498 730l2.2 3.8h-4.4zM499 703.7l2.2 3.8h-4.4zM499.6 779.1l2.2 3.8h-4.4zM499.8 680.6l2.2 3.8h-4.4zM504.1 775.4l2.2 3.8h-4.4zM507.2 668.9l2.2 3.8h-4.4zM509.8 716.5l2.2 3.8h-4.4zM511.1 685.1l2.2 3.8h-4.4zM512 727.7l2.2 3.8h-4.4zM514 778.5l2.2 3.8h-4.4zM514.3 712.2l2.2 3.8h-4.4zM514.5 752.7l2.2 3.8h-4.4zM516.4 736.6l2.2 3.8h-4.4zM518.9 762.1l2.2 3.8h-4.4zM523.4 713.3l2.2 3.8h-4.4zM524.1 766.6l2.2 3.8h-4.4zM525.3 758l2.2 3.8h-4.4zM531.6 742.3l2.2 3.8h-4.4zM536.6 781.6l2.2 3.8h-4.4zM537.8 779.1l2.2 3.8h-4.4zM538.8 732.3l2.2 3.8h-4.4zM540.7 687l2.2 3.8h-4.4zM540.9 684l2.2 3.8h-4.4zM542.2 705l2.2 3.8h-4.4zM544.8 744.7l2.2 3.8h-4.4zM547.8 772.8l2.2 3.8h-4.4zM549.7 726.8l2.2 3.8h-4.4zM550.6 743.7l2.2 3.8h-4.4zM553.8 718.4l2.2 3.8h-4.4zM554.1 779.1l2.2 3.8h-4.4zM556.1 757.3l2.2 3.8h-4.4zM560.1 687l2.2 3.8h-4.4zM560.7 680.2l2.2 3.8h-4.4zM562.4 704l2.2 3.8h-4.4zM564.2 703.6l2.2 3.8h-4.4zM569.4 762.4l2.2 3.8h-4.4zM569.8 759l2.2 3.8h-4.4zM569.8 694.1l2.2 3.8h-4.4zM572.1 723.5l2.2 3.8h-4.4zM572.7 680.2l2.2 3.8h-4.4zM574 773l2.2 3.8h-4.4zM580.4 659.8l2.2 3.8h-4.4zM583.8 689.2l2.2 3.8h-4.4zM586.1 726.4l2.2 3.8h-4.4zM589 655.2l2.2 3.8h-4.4zM592 766l2.2 3.8h-4.4zM593.2 748.8l2.2 3.8h-4.4zM595.4 681.6l2.2 3.8h-4.4zM596.3 772.4l2.2 3.8h-4.4zM597 719.8l2.2 3.8h-4.4zM598.7 693.5l2.2 3.8h-4.4zM599.6 695.2l2.2 3.8h-4.4zM600.3 685.1l2.2 3.8h-4.4zM600.6 709.4l2.2 3.8h-4.4zM603.4 773.5l2.2 3.8h-4.4zM604 746.6l2.2 3.8h-4.4zM605 744.6l2.2 3.8h-4.4zM607.4 693.9l2.2 3.8h-4.4zM607.4 754.7l2.2 3.8h-4.4zM609.1 699.3l2.2 3.8h-4.4zM609.9 685.7l2.2 3.8h-4.4zM614.3 759.2l2.2 3.8h-4.4zM614.9 740.8l2.2 3.8h-4.4zM618.3 751.6l2.2 3.8h-4.4zM618.4 685.7l2.2 3.8h-4.4zM622.5 746.8l2.2 3.8h-4.4zM622.5 669.7l2.2 3.8h-4.4zM625.9 711.8l2.2 3.8h-4.4zM631.1 699.4l2.2 3.8h-4.4zM632.5 770.1l2.2 3.8h-4.4zM634.4 737.7l2.2 3.8h-4.4zM638.9 756.4l2.2 3.8h-4.4zM639.7 732l2.2 3.8h-4.4zM640.6 770.7l2.2 3.8h-4.4zM642 744.4l2.2 3.8h-4.4zM649.1 685.4l2.2 3.8h-4.4zM656.1 770.7l2.2 3.8h-4.4zM656.5 777l2.2 3.8h-4.4zM656.7 743.8l2.2 3.8h-4.4zM661 684.4l2.2 3.8h-4.4zM664.4 734.1l2.2 3.8h-4.4zM667.1 685.3l2.2 3.8h-4.4zM668 745.4l2.2 3.8h-4.4zM670.4 680.7l2.2 3.8h-4.4zM672.2 655.8l2.2 3.8h-4.4zM678.9 658.8l2.2 3.8h-4.4zM681.1 770.6l2.2 3.8h-4.4zM687.9 685.8l2.2 3.8h-4.4zM691.2 744.8l2.2 3.8h-4.4zM693.4 759.4l2.2 3.8h-4.4zM694.5 703.4l2.2 3.8h-4.4zM698.2 665.6l2.2 3.8h-4.4zM699.7 772.3l2.2 3.8h-4.4zM702.9 682.7l2.2 3.8h-4.4zM705.3 721.9l2.2 3.8h-4.4zM710.6 750.3l2.2 3.8h-4.4zM712.7 723l2.2 3.8h-4.4zM715.7 786.2l2.2 3.8h-4.4zM716.1 780.9l2.2 3.8h-4.4zM718.3 771.6l2.2 3.8h-4.4zM722.4 729.3l2.2 3.8h-4.4zM724.6 746.3l2.2 3.8h-4.4zM725.8 715.1l2.2 3.8h-4.4zM732.2 727.2l2.2 3.8h-4.4zM735.3 697.4l2.2 3.8h-4.4zM736.8 710.3l2.2 3.8h-4.4zM737 771.4l2.2 3.8h-4.4zM739.6 720.6l2.2 3.8h-4.4zM741.9 694l2.2 3.8h-4.4zM743.7 748.8l2.2 3.8h-4.4zM744.5 655.6l2.2 3.8h-4.4zM746.2 719.4l2.2 3.8h-4.4zM746.2 754.8l2.2 3.8h-4.4zM748.2 699l2.2 3.8h-4.4zM752.9 706.2l2.2 3.8h-4.4zM754.6 776.6l2.2 3.8h-4.4zM755.5 708.4l2.2 3.8h-4.4zM758.2 706.6l2.2 3.8h-4.4zM758.7 713.8l2.2 3.8h-4.4zM759 700.5l2.2 3.8h-4.4zM760.6 769.6l2.2 3.8h-4.4zM767.1 750.8l2.2 3.8h-4.4zM767.4 741.5l2.2 3.8h-4.4zM769.3 710.5l2.2 3.8h-4.4zM774.3 766.6l2.2 3.8h-4.4zM774.7 759.9l2.2 3.8h-4.4zM774.8 708.5l2.2 3.8h-4.4zM775.8 678.7l2.2 3.8h-4.4zM776.5 752.2l2.2 3.8h-4.4zM776.9 712.7l2.2 3.8h-4.4zM785.1 720.1l2.2 3.8h-4.4zM787.4 772.4l2.2 3.8h-4.4zM790.9 746l2.2 3.8h-4.4zM791.9 703.4l2.2 3.8h-4.4zM792.2 702.6l2.2 3.8h-4.4zM792.8 661.1l2.2 3.8h-4.4zM797 756.1l2.2 3.8h-4.4zM797.7 671.3l2.2 3.8h-4.4zM798.6 722.6l2.2 3.8h-4.4zM799.5 770.5l2.2 3.8h-4.4zM800 676.3l2.2 3.8h-4.4zM800.5 751.1l2.2 3.8h-4.4zM801.5 750.8l2.2 3.8h-4.4zM802.6 771.7l2.2 3.8h-4.4zM804.8 773.4l2.2 3.8h-4.4zM805.1 741l2.2 3.8h-4.4zM808.2 779.6l2.2 3.8h-4.4zM808.8 708.6l2.2 3.8h-4.4zM809 739.1l2.2 3.8h-4.4zM811.5 718.6l2.2 3.8h-4.4zM814.4 690.7l2.2 3.8h-4.4zM816.2 668.3l2.2 3.8h-4.4zM819 722.2l2.2 3.8h-4.4zM819.4 705.1l2.2 3.8h-4.4zM820.9 740.1l2.2 3.8h-4.4zM823.2 707.9l2.2 3.8h-4.4zM824.5 770.9l2.2 3.8h-4.4zM824.7 654.2l2.2 3.8h-4.4zM825 777.9l2.2 3.8h-4.4zM826.6 722.9l2.2 3.8h-4.4zM829 733.3l2.2 3.8h-4.4zM830.3 678.2l2.2 3.8h-4.4zM831.7 698l2.2 3.8h-4.4zM833.8 734l2.2 3.8h-4.4zM834.4 737.8l2.2 3.8h-4.4zM838.4 733.7l2.2 3.8h-4.4zM842.9 718.3l2.2 3.8h-4.4zM844.5 726.1l2.2 3.8h-4.4zM845.5 702.1l2.2 3.8h-4.4zM846.6 676.5l2.2 3.8h-4.4zM847.6 757.2l2.2 3.8h-4.4zM854 751.1l2.2 3.8h-4.4zM855.2 739.2l2.2 3.8h-4.4zM855.6 684.2l2.2 3.8h-4.4zM859.2 710.9l2.2 3.8h-4.4zM862.3 739.6l2.2 3.8h-4.4zM864.5 754.3l2.2 3.8h-4.4zM866.8 721.9l2.2 3.8h-4.4zM867.5 670.2l2.2 3.8h-4.4zM868.4 758l2.2 3.8h-4.4zM869.3 707l2.2 3.8h-4.4zM870.8 778.2l2.2 3.8h-4.4zM871.4 717.3l2.2 3.8h-4.4zM871.8 685.5l2.2 3.8h-4.4zM878.3 731.4l2.2 3.8h-4.4zM878.5 749.1l2.2 3.8h-4.4zM879.7 688.7l2.2 3.8h-4.4zM880.2 655.2l2.2 3.8h-4.4zM881.1 684.1l2.2 3.8h-4.4zM883 740.3l2.2 3.8h-4.4zM889.4 721.3l2.2 3.8h-4.4zM890.8 745.2l2.2 3.8h-4.4zM892.3 755.7l2.2 3.8h-4.4zM892.6 719.5l2.2 3.8h-4.4zM893.1 734.4l2.2 3.8h-4.4zM904 679.4l2.2 3.8h-4.4zM905.4 721.9l2.2 3.8h-4.4zM905.6 654.1l2.2 3.8h-4.4zM912.2 658.8l2.2 3.8h-4.4zM913.1 686.7l2.2 3.8h-4.4zM915.2 689l2.2 3.8h-4.4zM915.8 741.5l2.2 3.8h-4.4zM916.7 705.8l2.2 3.8h-4.4zM917.4 661.3l2.2 3.8h-4.4zM918.2 741.3l2.2 3.8h-4.4zM923.8 762.3l2.2 3.8h-4.4zM924.4 738l2.2 3.8h-4.4zM925.9 741.2l2.2 3.8h-4.4zM927.4 668.9l2.2 3.8h-4.4zM930.8 681.9l2.2 3.8h-4.4zM932.1 727.1l2.2 3.8h-4.4zM938.9 751.3l2.2 3.8h-4.4zM939.8 692.4l2.2 3.8h-4.4zM948.7 709.6l2.2 3.8h-4.4zM949.3 748.8l2.2 3.8h-4.4zM949.5 779.2l2.2 3.8h-4.4zM950.2 676.2l2.2 3.8h-4.4zM950.6 733.5l2.2 3.8h-4.4zM961.6 769.5l2.2 3.8h-4.4zM962.2 697l2.2 3.8h-4.4zM963.7 783.2l2.2 3.8h-4.4zM967.1 659.2l2.2 3.8h-4.4zM967.5 706l2.2 3.8h-4.4zM967.8 661.3l2.2 3.8h-4.4zM971.2 747.7l2.2 3.8h-4.4zM972.1 724.4l2.2 3.8h-4.4zM974.2 750.8l2.2 3.8h-4.4zM974.8 734.5l2.2 3.8h-4.4zM977.9 717l2.2 3.8h-4.4zM979.2 681.7l2.2 3.8h-4.4zM981.4 722.5l2.2 3.8h-4.4zM985 692.8l2.2 3.8h-4.4zM986.2 678.6l2.2 3.8h-4.4zM989.9 775.1l2.2 3.8h-4.4zM997.4 752.6l2.2 3.8h-4.4z"/><g fill="none" stroke-linecap="round"><path stroke="rgb(132,222,132)" stroke-opacity="0.58" stroke-width="5.4" d="M121.5 500.6h0M122.6 501h0M123.5 392.1h0M124.9 371h0M125.9 434.8h0M126.8 278.5h0M127.8 397.4h0M128.8 253.2h0M129.7 526.4h0M131.1 340.1h0M132.7 342.4h0M134.2 452.5h0M136 411.8h0M137.1 381.6h0M138.3 390.7h0M139.4 426.6h0M140.4 417.4h0M141.6 437.8h0M142.8 409.3h0M144.4 437.7h0M145.4 438.2h0M146.7 234.4h0M148 288.4h0M149.5 393.4h0M150.7 262.6h0M151.9 329.1h0M153.1 252.8h0M153.9 430.4h0M155 326.6h0M156.1 470.3h0M157 321.8h0M158.2 284.2h0M159.3 254.3h0M160.2 343h0M161.7 505.2h0M162.6 245.5h0M163.8 313.3h0M164.6 508.3h0M165.7 524.2h0M166.6 377.2h0M167.9 267.7h0M169 456.6h0M170.3 357.5h0M171.5 489.7h0M172.4 242.6h0M173.4 286.3h0M174.7 427.9h0M175.6 270h0M176.8 337.7h0M178 269.6h0M179.1 502.5h0M180.3 259.1h0M181.3 417h0M182.2 364.4h0M183.6 362.2h0M185.4 365h0M186.9 429.8h0M188.1 384.7h0M189.1 339.3h0M189.9 344h0M191.4 286.9h0M192.8 272h0M194 256.2h0M195 285.5h0M196.2 237.7h0M196.9 426.9h0M198.2 303.1h0M199.6 519.5h0M200.7 271.4h0M201.7 400.2h0M202.6 337.5h0M203.5 422.2h0M204.9 448.5h0M205.7 389.5h0M207 450.4h0M207.9 291.6h0M208.9 410.2h0M210.2 396.9h0M211.3 283.2h0M212.5 435.2h0M213.8 561.8h0M214.7 214.7h0M215.7 467.3h0M216.8 323.6h0M217.7 428h0M219.1 475.3h0M220.1 398.1h0M221.2 390.5h0M222.1 472.6h0M222.9 425.9h0M224.3 389.1h0M225.8 340.3h0M226.6 318.7h0M227.6 457.9h0M228.9 362.1h0M229.8 491.5h0M231.2 476.3h0M232.1 403.1h0M233.1 550.1h0M234.2 520.3h0M235.3 485.6h0M236.5 374.8h0M237.8 417.3h0M239 287.9h0M239.8 491.4h0M240.8 413.4h0M241.9 540.5h0M242.9 309.5h0M244.4 437.5h0M245.5 376.5h0M246.6 408.6h0M248 291.9h0M249.1 358.2h0M250.1 365.9h0M251 248.8h0M252.5 179.5h0M253.6 452.3h0M254.7 301.5h0M256 452.6h0M257.4 317.6h0M258.1 343h0M259.5 572.3h0M260.4 443.9h0M261.6 574.3h0M262.6 220.9h0M263.7 371.9h0M264.8 438.2h0M265.8 385.2h0M266.9 327h0M268 311.9h0M269.1 277.9h0M270 337.8h0M271.1 368.8h0M272.3 212.6h0M273.2 431.6h0M274.4 469h0M275.3 426.1h0M276.5 477.8h0M278 470.2h0M279.1 542.6h0M280.4 333.6h0M281.1 389.1h0M282.1 450h0M283.8 468.4h0M284.6 447.3h0M285.7 494.7h0M286.5 347.1h0M287.9 446.4h0M288.9 475.2h0M290 379.5h0M291.4 310.7h0M292.6 461.4h0M294.1 372.8h0M295.4 432.9h0M296.1 357.9h0M297.4 378.6h0M298.1 336.2h0M299.2 398.9h0M300.3 520.8h0M301.4 478.1h0M302.5 491.6h0M303.5 370.7h0M304.4 503.8h0M305.8 398.6h0M306.9 403.4h0M308.1 430.3h0M309.3 447.9h0M310.9 536h0M311.5 145.7h0M313.2 411.2h0M314.2 475.5h0M315.2 429.2h0M316.3 448.6h0M317.2 413.7h0M318.6 264.5h0M319.5 403.3h0M320.5 472.5h0M322.6 452.9h0M323.5 333.1h0M324.6 501.4h0M325.9 304.6h0M326.8 352.9h0M327.9 313.5h0M329.2 473.5h0M330.1 522.2h0M331.4 275.1h0M332.6 440.4h0M333.8 450.3h0M334.6 357.9h0M335.6 346h0M336.7 465.7h0M337.8 407.9h0M338.6 243.4h0M339.5 526.6h0M340.9 292.4h0M341.7 403.3h0M343.5 322.6h0M344.7 428.5h0M345.9 345.2h0M346.9 435.4h0M347.7 409.8h0M349.2 451.6h0M350.2 447.9h0M351.2 386.9h0M352.6 372.9h0M353.6 421.2h0M354.7 228.6h0M355.8 247.1h0M357 430.1h0M358.2 341.6h0M359 456h0M360 465.2h0M361.1 270.6h0M362 316.7h0M363.2 431.2h0M364.2 504.2h0M365.1 396.7h0M366.1 451.4h0M367 454.2h0M367.9 428.9h0M369.1 267.9h0M370.5 431.3h0M371.8 573.1h0M372.6 271.2h0M373.6 311.3h0M374.6 272.5h0M375.7 411.6h0M377.6 408h0M378.5 322.2h0M379.5 425.9h0M380.9 502.1h0M382.5 187h0M383.2 474h0M384.3 486.6h0M385.5 422.6h0M386.9 347.8h0M387.7 422.4h0M388.8 419.6h0M390.4 403.3h0M391.8 471.9h0M392.9 372.9h0M394 295h0M395.3 415.1h0M396.6 288.5h0M397.7 299.9h0M399 417.2h0M400.5 484.5h0M401.8 496.9h0M402.7 395h0M403.7 450.4h0M404.5 289.3h0M406.6 383.6h0M407.4 413.2h0M408.6 567.3h0M409.6 387h0M410.7 476.3h0M412 346.6h0M413.2 247h0M413.9 258.7h0M415.2 389.3h0M416.2 363.2h0M417.3 450.7h0M418.6 373.8h0M419.8 369.7h0M420.7 311.1h0M422 517.6h0M422.8 371.2h0M423.8 338.9h0M425.2 394h0M426.2 408.4h0M427.3 416.3h0M428.4 486.8h0M429.5 497h0M430.6 342.7h0M431.9 257.8h0M432.9 369.2h0M434.4 449h0M436.1 411.6h0M437.4 465.5h0M438.4 566.6h0M439.5 356h0M440.6 411.5h0M441.5 397.8h0M442.5 429h0M443.9 508.7h0M445 311h0M446 372.9h0M446.9 270.2h0M448.5 643.8h0M449.3 240.7h0M450.3 350.9h0M451.1 271.9h0M452.3 320.7h0M453.5 265.9h0M454.4 279.8h0M455.5 612.7h0M456.6 375.9h0M457.7 249.6h0M458.9 465.5h0M460.4 295.2h0M461.6 279.3h0M462.9 411h0M463.8 474.7h0M464.9 475.9h0M465.8 481.6h0M467.1 463.3h0M468.3 413.7h0M469.3 471.9h0M470.9 354.9h0M471.7 497.2h0M472.7 489.6h0M473.9 401.8h0M475 307.2h0M475.9 376.7h0M477 322.8h0M477.9 265.9h0M478.9 400.6h0M480 422.9h0M481.2 306.4h0M482.2 492.8h0M483.6 499.1h0M484.3 334.6h0M486 293.6h0M487 517.6h0M488.3 346.2h0M489.4 470.2h0M491.1 305.3h0M492.2 358.3h0M493.6 332h0M494.5 234.8h0M495.3 418.2h0M496.3 488.8h0M497.6 321.9h0M498.7 337.8h0M499.7 498.4h0M500.9 357.7h0M501.8 461.5h0M502.8 365.7h0M503.7 405h0M504.8 273.7h0M505.8 418.6h0M507.1 551h0M507.9 446.8h0M508.9 550.5h0M510.3 235.6h0M511.5 563.8h0M512.7 277.4h0M513.7 371.5h0M514.5 460.6h0M515.6 353.7h0M516.5 344.3h0M518 411.7h0M519.6 451.5h0M520.5 471.2h0M521.9 510.1h0M522.8 285.6h0M524.2 447.8h0M525.5 168.4h0M527 363.9h0M528.1 503.3h0M528.9 482.1h0M530 335.9h0M531.1 301.2h0M532.2 341.5h0M533.2 262h0M534.3 476.3h0M535.6 314h0M537.4 543.7h0M538.4 368.9h0M539.2 479h0M540.9 328h0M541.8 413.9h0M542.7 337.8h0M543.9 435.4h0M544.7 338.9h0M545.9 473.8h0M547.1 400.5h0M548.4 466.5h0M549.5 272.1h0M550.5 576.2h0M551.5 455.3h0M552.9 337.4h0M554.1 357.7h0M555.1 345.4h0M556.1 276.5h0M557 326.4h0M558 389.8h0M559 409.8h0M560 277.2h0M561.1 309.2h0M562 345.7h0M563.1 254h0M564.1 399.5h0M565.7 464.6h0M566.7 337.5h0M567.8 414.2h0M568.9 536.4h0M570 376.5h0M571.2 327.5h0M572.4 416h0M573.2 378.9h0M574.4 297.9h0M575.8 407h0M576.9 357.1h0M578 334h0M579.2 484.3h0M580.7 357.9h0M581.8 410.6h0M582.7 379.5h0M583.8 351h0M584.9 321.9h0M585.9 495.1h0M587.2 421.6h0M588.5 609.2h0M589.1 383.8h0M590.2 333.2h0M591.3 218.3h0M592.9 403.8h0M593.8 302.6h0M594.9 499.2h0M596.2 458.7h0M597.5 195.7h0M598.6 369.3h0M599.7 401.1h0M600.7 402.1h0M601.8 383.8h0M602.9 353.7h0M604.1 503.9h0M605.4 298.3h0M606.3 233.6h0M607.5 516.1h0M608.7 343.2h0M609.7 303.1h0M610.7 329h0M611.8 458.8h0M612.8 301.2h0M613.8 277.1h0M614.7 230.8h0M615.7 317.3h0M616.7 314.7h0M617.8 457.5h0M619 429.8h0M620.1 495h0M620.9 370.7h0M622.2 439.7h0M623.7 345h0M625 284.3h0M626.2 425.2h0M627.4 393.9h0M628.2 287.7h0M629.6 256.8h0M630.9 457h0M632 449.3h0M632.9 536.6h0M633.9 238.7h0M634.5 162.7h0M636.1 292.4h0M637.4 457.6h0M638.3 435.2h0M639.2 431.1h0M640.5 280.1h0M641.5 252.7h0M642.4 331.3h0M643.7 482.8h0M644.7 275.7h0M645.5 191.6h0M646.9 555.1h0M648.1 331.4h0M649.1 366.8h0M650.8 376.9h0M651.6 488.6h0M652.7 312.6h0M653.6 240.4h0M654.7 346.8h0M655.9 361.1h0M657 210.1h0M658 340.7h0M659.3 347.8h0M660.3 440.5h0M661.7 425.5h0M662.6 472h0M664.4 447h0M665.6 339.2h0M666.6 464.3h0M668.1 387.6h0M669.3 482.4h0M670.3 451.6h0M671.4 421.8h0M673 335.9h0M674.1 508.7h0M675.2 413.3h0M676.4 256.8h0M677.4 352.1h0M678.5 523.8h0M679.7 368.8h0M680.8 514h0M681.7 298.9h0M683 311h0M684.1 461.3h0M685.2 368.8h0M686.1 313.7h0M687.3 502.2h0M688.2 492.6h0M689.4 467.1h0M690.3 230.6h0M692 451.4h0M693 289.1h0M693.7 351.6h0M694.8 336h0M696.1 310.6h0M697.1 371.6h0M698.2 466.7h0M699.2 260.7h0M700.1 347.9h0M701.5 383.1h0M702.3 338.1h0M703.4 324.7h0M704.5 424.2h0M705.6 332.3h0M707.2 411.4h0M708.4 286.9h0M709.3 469h0M710.4 340.7h0M711.4 299.6h0M712.8 298.7h0M713.5 285.3h0M714.8 478.8h0M715.6 482.1h0M716.8 481.4h0M718 310.9h0M719.1 489.1h0M720.5 524.7h0M721.3 400.2h0M722.5 592.6h0M724 337.5h0M725 479.8h0M726.4 507.8h0M727.6 554.8h0M729.3 405.4h0M730.3 456.7h0M731.6 332.1h0M732.8 405.6h0M733.6 494.4h0M734.5 475.9h0M735.6 334.1h0M736.7 428.8h0M737.6 418.8h0M738.7 197.2h0M740 473.5h0M741.2 363.4h0M742 440.3h0M743.1 543.1h0M744.2 453.4h0M745.3 303.8h0M746.3 551.5h0M747.5 448.7h0M748.4 386.3h0M749.7 332h0M750.6 365.1h0M751.9 414h0M753 505.9h0M753.9 403.9h0M755 315h0M756.1 417h0M756.9 301.7h0M758 502.3h0M759.2 435.2h0M760.3 524.7h0M761.3 532.6h0M762.4 282.9h0M763.9 580.4h0M765 366h0M766.2 523.8h0M767.3 410.2h0M768.6 443.6h0M769.6 428.6h0M770.7 490.6h0M771.7 429.4h0M772.6 477.8h0M773.6 343.3h0M775.2 465h0M776.4 467.3h0M777.8 491h0M779.2 488.1h0M780.2 501.5h0M781.2 480.2h0M782.6 397.5h0M783.4 523.2h0M784.5 215h0M785.8 446.4h0M786.8 443.5h0M788.1 343.2h0M789 287.1h0M790.3 485.2h0M791.5 543.4h0M792.4 562.7h0M793.7 457.3h0M794.7 272.8h0M795.7 453.9h0M796.8 454.8h0M797.9 435.4h0M799.4 485.2h0M800.4 377.9h0M801.4 505h0M802.6 460.8h0M803.8 317.6h0M805 409.7h0M806.2 364.1h0M807 476.4h0M808.5 612h0M809.1 570.4h0M810.2 423.4h0M811.4 565.6h0M812.6 539.3h0M813.7 492.7h0M815.1 383.8h0M816.6 447h0M817.4 327.2h0M818.4 491.4h0M819.5 396.3h0M820.7 365.7h0M821.7 340.7h0M822.8 392.4h0M823.8 440.3h0M825.2 431.3h0M826.2 509.2h0M827.4 496.3h0M828.4 517.9h0M829.8 535.5h0M831.1 336h0M832 502.2h0M832.9 343.9h0M834.4 351.8h0M835.5 448.7h0M836.5 433.2h0M838 328.3h0M839.1 536.3h0M840.1 371.6h0M841.1 510.6h0M842.3 544.6h0M843.8 270.7h0M845.2 375.5h0M846.3 352.5h0M847.3 449.2h0M848.5 429.3h0M849.4 436.4h0M851.1 306.4h0M852.2 556.8h0M853.3 373.6h0M854.2 328.5h0M855.5 439.4h0M856.3 400.8h0M857.6 342.3h0M858.4 397.7h0M859.3 349.5h0M860.6 475.8h0M861.5 478.8h0M862.3 326.5h0M863.4 408.1h0M864.5 445.9h0M865.4 486.1h0M866.5 540.3h0M867.5 297.4h0M868.3 423.8h0M869.4 406.3h0M870.6 317.4h0M871.8 362.6h0M872.9 229.3h0M873.8 292.5h0M874.7 583.5h0M876 405.9h0M877.1 472.1h0M878.6 365.5h0M879.7 281.2h0M881.1 490.9h0M881.9 309.9h0M883.3 453h0M884.4 519.4h0M885.3 407.9h0M886.6 314.7h0M887.8 301.2h0M889.4 442.6h0M890.4 506.8h0M891.6 407.9h0M893 501.1h0M894.1 330.3h0M895 441.8h0M896.1 281.2h0M897.2 535.5h0M898.3 500.1h0M899.2 453.8h0M900.3 302.9h0M901.8 576.1h0M903.1 570.5h0M904 350.4h0M905.3 355.4h0M906.9 515.5h0M907.9 532.4h0M909.5 416.8h0M910.5 246.9h0M911.7 364.6h0M912.7 485.9h0M913.8 336.9h0M914.8 445.9h0M916 529.6h0M917 442.3h0M918.4 366.5h0M919.6 385h0M920.5 335h0M921.7 361.4h0M923 406.4h0M924 459.8h0M925.2 426.1h0M926.2 392.1h0M927.4 362.7h0M928.4 463.9h0M929.4 563.9h0M930.5 393.6h0M931.4 519h0M932.4 302.8h0M933.4 461.6h0M934.7 404.5h0M936 495.9h0M936.8 332.6h0M937.9 453.6h0M938.9 393.7h0M940.3 511h0M941.3 450.8h0M942.5 225.6h0M943.7 359.6h0M944.7 307.4h0M946.1 320.4h0M947 415.7h0M948 344.8h0M949.2 425h0M950.3 557.2h0M951.6 479.1h0M952.5 498.2h0M953.5 341.1h0M954.8 318.5h0M955.7 421.4h0M957.2 309.9h0M958.2 385.9h0M959.6 462h0M960.7 349.2h0M961.7 389.6h0M963.1 488.7h0M964.1 522h0M965.3 359.5h0M966.4 462.8h0M968 262.6h0M968.9 418.2h0M970.4 389.7h0M971.4 363.7h0M972.1 568.9h0M973.1 443.4h0M974.2 351.7h0M975.1 459.1h0M976.3 327.3h0M977.4 449.8h0M978.6 431.6h0M979.8 332.7h0M981 479.1h0M982.1 375.7h0M983.4 439.8h0M984.6 258.1h0M985.5 488.4h0M986.7 373.4h0M987.7 308.6h0M988.9 438.4h0M990.2 475.4h0M991 419.2h0M992.2 341.4h0M993.7 439h0M994.7 500h0M995.8 434.7h0M997.1 471h0M998.7 470.5h0M999.7 493.6h0"/><path stroke="rgb(85,160,92)" stroke-opacity="0.4" stroke-width="2.6" d="M121.5 500.6h0M122.6 501h0M123.5 392.1h0M124.9 371h0M125.9 434.8h0M126.8 278.5h0M127.8 397.4h0M128.8 253.2h0M129.7 526.4h0M131.1 340.1h0M132.7 342.4h0M134.2 452.5h0M136 411.8h0M137.1 381.6h0M138.3 390.7h0M139.4 426.6h0M140.4 417.4h0M141.6 437.8h0M142.8 409.3h0M144.4 437.7h0M145.4 438.2h0M146.7 234.4h0M148 288.4h0M149.5 393.4h0M150.7 262.6h0M151.9 329.1h0M153.1 252.8h0M153.9 430.4h0M155 326.6h0M156.1 470.3h0M157 321.8h0M158.2 284.2h0M159.3 254.3h0M160.2 343h0M161.7 505.2h0M162.6 245.5h0M163.8 313.3h0M164.6 508.3h0M165.7 524.2h0M166.6 377.2h0M167.9 267.7h0M169 456.6h0M170.3 357.5h0M171.5 489.7h0M172.4 242.6h0M173.4 286.3h0M174.7 427.9h0M175.6 270h0M176.8 337.7h0M178 269.6h0M179.1 502.5h0M180.3 259.1h0M181.3 417h0M182.2 364.4h0M183.6 362.2h0M185.4 365h0M186.9 429.8h0M188.1 384.7h0M189.1 339.3h0M189.9 344h0M191.4 286.9h0M192.8 272h0M194 256.2h0M195 285.5h0M196.2 237.7h0M196.9 426.9h0M198.2 303.1h0M199.6 519.5h0M200.7 271.4h0M201.7 400.2h0M202.6 337.5h0M203.5 422.2h0M204.9 448.5h0M205.7 389.5h0M207 450.4h0M207.9 291.6h0M208.9 410.2h0M210.2 396.9h0M211.3 283.2h0M212.5 435.2h0M213.8 561.8h0M214.7 214.7h0M215.7 467.3h0M216.8 323.6h0M217.7 428h0M219.1 475.3h0M220.1 398.1h0M221.2 390.5h0M222.1 472.6h0M222.9 425.9h0M224.3 389.1h0M225.8 340.3h0M226.6 318.7h0M227.6 457.9h0M228.9 362.1h0M229.8 491.5h0M231.2 476.3h0M232.1 403.1h0M233.1 550.1h0M234.2 520.3h0M235.3 485.6h0M236.5 374.8h0M237.8 417.3h0M239 287.9h0M239.8 491.4h0M240.8 413.4h0M241.9 540.5h0M242.9 309.5h0M244.4 437.5h0M245.5 376.5h0M246.6 408.6h0M248 291.9h0M249.1 358.2h0M250.1 365.9h0M251 248.8h0M252.5 179.5h0M253.6 452.3h0M254.7 301.5h0M256 452.6h0M257.4 317.6h0M258.1 343h0M259.5 572.3h0M260.4 443.9h0M261.6 574.3h0M262.6 220.9h0M263.7 371.9h0M264.8 438.2h0M265.8 385.2h0M266.9 327h0M268 311.9h0M269.1 277.9h0M270 337.8h0M271.1 368.8h0M272.3 212.6h0M273.2 431.6h0M274.4 469h0M275.3 426.1h0M276.5 477.8h0M278 470.2h0M279.1 542.6h0M280.4 333.6h0M281.1 389.1h0M282.1 450h0M283.8 468.4h0M284.6 447.3h0M285.7 494.7h0M286.5 347.1h0M287.9 446.4h0M288.9 475.2h0M290 379.5h0M291.4 310.7h0M292.6 461.4h0M294.1 372.8h0M295.4 432.9h0M296.1 357.9h0M297.4 378.6h0M298.1 336.2h0M299.2 398.9h0M300.3 520.8h0M301.4 478.1h0M302.5 491.6h0M303.5 370.7h0M304.4 503.8h0M305.8 398.6h0M306.9 403.4h0M308.1 430.3h0M309.3 447.9h0M310.9 536h0M311.5 145.7h0M313.2 411.2h0M314.2 475.5h0M315.2 429.2h0M316.3 448.6h0M317.2 413.7h0M318.6 264.5h0M319.5 403.3h0M320.5 472.5h0M322.6 452.9h0M323.5 333.1h0M324.6 501.4h0M325.9 304.6h0M326.8 352.9h0M327.9 313.5h0M329.2 473.5h0M330.1 522.2h0M331.4 275.1h0M332.6 440.4h0M333.8 450.3h0M334.6 357.9h0M335.6 346h0M336.7 465.7h0M337.8 407.9h0M338.6 243.4h0M339.5 526.6h0M340.9 292.4h0M341.7 403.3h0M343.5 322.6h0M344.7 428.5h0M345.9 345.2h0M346.9 435.4h0M347.7 409.8h0M349.2 451.6h0M350.2 447.9h0M351.2 386.9h0M352.6 372.9h0M353.6 421.2h0M354.7 228.6h0M355.8 247.1h0M357 430.1h0M358.2 341.6h0M359 456h0M360 465.2h0M361.1 270.6h0M362 316.7h0M363.2 431.2h0M364.2 504.2h0M365.1 396.7h0M366.1 451.4h0M367 454.2h0M367.9 428.9h0M369.1 267.9h0M370.5 431.3h0M371.8 573.1h0M372.6 271.2h0M373.6 311.3h0M374.6 272.5h0M375.7 411.6h0M377.6 408h0M378.5 322.2h0M379.5 425.9h0M380.9 502.1h0M382.5 187h0M383.2 474h0M384.3 486.6h0M385.5 422.6h0M386.9 347.8h0M387.7 422.4h0M388.8 419.6h0M390.4 403.3h0M391.8 471.9h0M392.9 372.9h0M394 295h0M395.3 415.1h0M396.6 288.5h0M397.7 299.9h0M399 417.2h0M400.5 484.5h0M401.8 496.9h0M402.7 395h0M403.7 450.4h0M404.5 289.3h0M406.6 383.6h0M407.4 413.2h0M408.6 567.3h0M409.6 387h0M410.7 476.3h0M412 346.6h0M413.2 247h0M413.9 258.7h0M415.2 389.3h0M416.2 363.2h0M417.3 450.7h0M418.6 373.8h0M419.8 369.7h0M420.7 311.1h0M422 517.6h0M422.8 371.2h0M423.8 338.9h0M425.2 394h0M426.2 408.4h0M427.3 416.3h0M428.4 486.8h0M429.5 497h0M430.6 342.7h0M431.9 257.8h0M432.9 369.2h0M434.4 449h0M436.1 411.6h0M437.4 465.5h0M438.4 566.6h0M439.5 356h0M440.6 411.5h0M441.5 397.8h0M442.5 429h0M443.9 508.7h0M445 311h0M446 372.9h0M446.9 270.2h0M448.5 643.8h0M449.3 240.7h0M450.3 350.9h0M451.1 271.9h0M452.3 320.7h0M453.5 265.9h0M454.4 279.8h0M455.5 612.7h0M456.6 375.9h0M457.7 249.6h0M458.9 465.5h0M460.4 295.2h0M461.6 279.3h0M462.9 411h0M463.8 474.7h0M464.9 475.9h0M465.8 481.6h0M467.1 463.3h0M468.3 413.7h0M469.3 471.9h0M470.9 354.9h0M471.7 497.2h0M472.7 489.6h0M473.9 401.8h0M475 307.2h0M475.9 376.7h0M477 322.8h0M477.9 265.9h0M478.9 400.6h0M480 422.9h0M481.2 306.4h0M482.2 492.8h0M483.6 499.1h0M484.3 334.6h0M486 293.6h0M487 517.6h0M488.3 346.2h0M489.4 470.2h0M491.1 305.3h0M492.2 358.3h0M493.6 332h0M494.5 234.8h0M495.3 418.2h0M496.3 488.8h0M497.6 321.9h0M498.7 337.8h0M499.7 498.4h0M500.9 357.7h0M501.8 461.5h0M502.8 365.7h0M503.7 405h0M504.8 273.7h0M505.8 418.6h0M507.1 551h0M507.9 446.8h0M508.9 550.5h0M510.3 235.6h0M511.5 563.8h0M512.7 277.4h0M513.7 371.5h0M514.5 460.6h0M515.6 353.7h0M516.5 344.3h0M518 411.7h0M519.6 451.5h0M520.5 471.2h0M521.9 510.1h0M522.8 285.6h0M524.2 447.8h0M525.5 168.4h0M527 363.9h0M528.1 503.3h0M528.9 482.1h0M530 335.9h0M531.1 301.2h0M532.2 341.5h0M533.2 262h0M534.3 476.3h0M535.6 314h0M537.4 543.7h0M538.4 368.9h0M539.2 479h0M540.9 328h0M541.8 413.9h0M542.7 337.8h0M543.9 435.4h0M544.7 338.9h0M545.9 473.8h0M547.1 400.5h0M548.4 466.5h0M549.5 272.1h0M550.5 576.2h0M551.5 455.3h0M552.9 337.4h0M554.1 357.7h0M555.1 345.4h0M556.1 276.5h0M557 326.4h0M558 389.8h0M559 409.8h0M560 277.2h0M561.1 309.2h0M562 345.7h0M563.1 254h0M564.1 399.5h0M565.7 464.6h0M566.7 337.5h0M567.8 414.2h0M568.9 536.4h0M570 376.5h0M571.2 327.5h0M572.4 416h0M573.2 378.9h0M574.4 297.9h0M575.8 407h0M576.9 357.1h0M578 334h0M579.2 484.3h0M580.7 357.9h0M581.8 410.6h0M582.7 379.5h0M583.8 351h0M584.9 321.9h0M585.9 495.1h0M587.2 421.6h0M588.5 609.2h0M589.1 383.8h0M590.2 333.2h0M591.3 218.3h0M592.9 403.8h0M593.8 302.6h0M594.9 499.2h0M596.2 458.7h0M597.5 195.7h0M598.6 369.3h0M599.7 401.1h0M600.7 402.1h0M601.8 383.8h0M602.9 353.7h0M604.1 503.9h0M605.4 298.3h0M606.3 233.6h0M607.5 516.1h0M608.7 343.2h0M609.7 303.1h0M610.7 329h0M611.8 458.8h0M612.8 301.2h0M613.8 277.1h0M614.7 230.8h0M615.7 317.3h0M616.7 314.7h0M617.8 457.5h0M619 429.8h0M620.1 495h0M620.9 370.7h0M622.2 439.7h0M623.7 345h0M625 284.3h0M626.2 425.2h0M627.4 393.9h0M628.2 287.7h0M629.6 256.8h0M630.9 457h0M632 449.3h0M632.9 536.6h0M633.9 238.7h0M634.5 162.7h0M636.1 292.4h0M637.4 457.6h0M638.3 435.2h0M639.2 431.1h0M640.5 280.1h0M641.5 252.7h0M642.4 331.3h0M643.7 482.8h0M644.7 275.7h0M645.5 191.6h0M646.9 555.1h0M648.1 331.4h0M649.1 366.8h0M650.8 376.9h0M651.6 488.6h0M652.7 312.6h0M653.6 240.4h0M654.7 346.8h0M655.9 361.1h0M657 210.1h0M658 340.7h0M659.3 347.8h0M660.3 440.5h0M661.7 425.5h0M662.6 472h0M664.4 447h0M665.6 339.2h0M666.6 464.3h0M668.1 387.6h0M669.3 482.4h0M670.3 451.6h0M671.4 421.8h0M673 335.9h0M674.1 508.7h0M675.2 413.3h0M676.4 256.8h0M677.4 352.1h0M678.5 523.8h0M679.7 368.8h0M680.8 514h0M681.7 298.9h0M683 311h0M684.1 461.3h0M685.2 368.8h0M686.1 313.7h0M687.3 502.2h0M688.2 492.6h0M689.4 467.1h0M690.3 230.6h0M692 451.4h0M693 289.1h0M693.7 351.6h0M694.8 336h0M696.1 310.6h0M697.1 371.6h0M698.2 466.7h0M699.2 260.7h0M700.1 347.9h0M701.5 383.1h0M702.3 338.1h0M703.4 324.7h0M704.5 424.2h0M705.6 332.3h0M707.2 411.4h0M708.4 286.9h0M709.3 469h0M710.4 340.7h0M711.4 299.6h0M712.8 298.7h0M713.5 285.3h0M714.8 478.8h0M715.6 482.1h0M716.8 481.4h0M718 310.9h0M719.1 489.1h0M720.5 524.7h0M721.3 400.2h0M722.5 592.6h0M724 337.5h0M725 479.8h0M726.4 507.8h0M727.6 554.8h0M729.3 405.4h0M730.3 456.7h0M731.6 332.1h0M732.8 405.6h0M733.6 494.4h0M734.5 475.9h0M735.6 334.1h0M736.7 428.8h0M737.6 418.8h0M738.7 197.2h0M740 473.5h0M741.2 363.4h0M742 440.3h0M743.1 543.1h0M744.2 453.4h0M745.3 303.8h0M746.3 551.5h0M747.5 448.7h0M748.4 386.3h0M749.7 332h0M750.6 365.1h0M751.9 414h0M753 505.9h0M753.9 403.9h0M755 315h0M756.1 417h0M756.9 301.7h0M758 502.3h0M759.2 435.2h0M760.3 524.7h0M761.3 532.6h0M762.4 282.9h0M763.9 580.4h0M765 366h0M766.2 523.8h0M767.3 410.2h0M768.6 443.6h0M769.6 428.6h0M770.7 490.6h0M771.7 429.4h0M772.6 477.8h0M773.6 343.3h0M775.2 465h0M776.4 467.3h0M777.8 491h0M779.2 488.1h0M780.2 501.5h0M781.2 480.2h0M782.6 397.5h0M783.4 523.2h0M784.5 215h0M785.8 446.4h0M786.8 443.5h0M788.1 343.2h0M789 287.1h0M790.3 485.2h0M791.5 543.4h0M792.4 562.7h0M793.7 457.3h0M794.7 272.8h0M795.7 453.9h0M796.8 454.8h0M797.9 435.4h0M799.4 485.2h0M800.4 377.9h0M801.4 505h0M802.6 460.8h0M803.8 317.6h0M805 409.7h0M806.2 364.1h0M807 476.4h0M808.5 612h0M809.1 570.4h0M810.2 423.4h0M811.4 565.6h0M812.6 539.3h0M813.7 492.7h0M815.1 383.8h0M816.6 447h0M817.4 327.2h0M818.4 491.4h0M819.5 396.3h0M820.7 365.7h0M821.7 340.7h0M822.8 392.4h0M823.8 440.3h0M825.2 431.3h0M826.2 509.2h0M827.4 496.3h0M828.4 517.9h0M829.8 535.5h0M831.1 336h0M832 502.2h0M832.9 343.9h0M834.4 351.8h0M835.5 448.7h0M836.5 433.2h0M838 328.3h0M839.1 536.3h0M840.1 371.6h0M841.1 510.6h0M842.3 544.6h0M843.8 270.7h0M845.2 375.5h0M846.3 352.5h0M847.3 449.2h0M848.5 429.3h0M849.4 436.4h0M851.1 306.4h0M852.2 556.8h0M853.3 373.6h0M854.2 328.5h0M855.5 439.4h0M856.3 400.8h0M857.6 342.3h0M858.4 397.7h0M859.3 349.5h0M860.6 475.8h0M861.5 478.8h0M862.3 326.5h0M863.4 408.1h0M864.5 445.9h0M865.4 486.1h0M866.5 540.3h0M867.5 297.4h0M868.3 423.8h0M869.4 406.3h0M870.6 317.4h0M871.8 362.6h0M872.9 229.3h0M873.8 292.5h0M874.7 583.5h0M876 405.9h0M877.1 472.1h0M878.6 365.5h0M879.7 281.2h0M881.1 490.9h0M881.9 309.9h0M883.3 453h0M884.4 519.4h0M885.3 407.9h0M886.6 314.7h0M887.8 301.2h0M889.4 442.6h0M890.4 506.8h0M891.6 407.9h0M893 501.1h0M894.1 330.3h0M895 441.8h0M896.1 281.2h0M897.2 535.5h0M898.3 500.1h0M899.2 453.8h0M900.3 302.9h0M901.8 576.1h0M903.1 570.5h0M904 350.4h0M905.3 355.4h0M906.9 515.5h0M907.9 532.4h0M909.5 416.8h0M910.5 246.9h0M911.7 364.6h0M912.7 485.9h0M913.8 336.9h0M914.8 445.9h0M916 529.6h0M917 442.3h0M918.4 366.5h0M919.6 385h0M920.5 335h0M921.7 361.4h0M923 406.4h0M924 459.8h0M925.2 426.1h0M926.2 392.1h0M927.4 362.7h0M928.4 463.9h0M929.4 563.9h0M930.5 393.6h0M931.4 519h0M932.4 302.8h0M933.4 461.6h0M934.7 404.5h0M936 495.9h0M936.8 332.6h0M937.9 453.6h0M938.9 393.7h0M940.3 511h0M941.3 450.8h0M942.5 225.6h0M943.7 359.6h0M944.7 307.4h0M946.1 320.4h0M947 415.7h0M948 344.8h0M949.2 425h0M950.3 557.2h0M951.6 479.1h0M952.5 498.2h0M953.5 341.1h0M954.8 318.5h0M955.7 421.4h0M957.2 309.9h0M958.2 385.9h0M959.6 462h0M960.7 349.2h0M961.7 389.6h0M963.1 488.7h0M964.1 522h0M965.3 359.5h0M966.4 462.8h0M968 262.6h0M968.9 418.2h0M970.4 389.7h0M971.4 363.7h0M972.1 568.9h0M973.1 443.4h0M974.2 351.7h0M975.1 459.1h0M976.3 327.3h0M977.4 449.8h0M978.6 431.6h0M979.8 332.7h0M981 479.1h0M982.1 375.7h0M983.4 439.8h0M984.6 258.1h0M985.5 488.4h0M986.7 373.4h0M987.7 308.6h0M988.9 438.4h0M990.2 475.4h0M991 419.2h0M992.2 341.4h0M993.7 439h0M994.7 500h0M995.8 434.7h0M997.1 471h0M998.7 470.5h0M999.7 493.6h0"/><path stroke="rgb(132,222,132)" stroke-opacity="0.58" stroke-width="5.4" d="M122 506.5h0M122.8 352.1h0M123.9 388.6h0M124.9 279.2h0M126.2 358.2h0M127.1 505h0M128 499.2h0M129.2 245.2h0M130.1 445.9h0M131.2 309.2h0M133 318.6h0M134.5 349.5h0M136.3 425.2h0M137.4 463.6h0M138.7 423h0M139.5 335.3h0M140.6 260.7h0M142 363h0M142.9 237.3h0M144.5 397.4h0M145.7 352.5h0M146.8 211.2h0M148.5 360.7h0M149.9 411.2h0M150.8 429.9h0M152 243.9h0M153.2 284.4h0M154.2 332.2h0M155.4 432.7h0M156.2 486h0M157.5 338.2h0M158.5 214.4h0M159.4 387.6h0M160.6 488.6h0M162 356.9h0M162.9 326.2h0M164 422.3h0M164.8 503.2h0M165.9 494.1h0M166.9 406.6h0M168.2 297.2h0M169.6 331.4h0M170.5 564.2h0M171.8 473.3h0M172.8 416h0M173.7 378h0M174.8 426.5h0M175.9 320.1h0M177.2 495.2h0M178.1 324.1h0M179.3 412h0M180.5 326.1h0M181.5 165.6h0M182.4 313.9h0M183.7 306.1h0M185.5 236.1h0M187.3 439.8h0M188.1 518.7h0M189.2 348.6h0M190.1 482.7h0M191.6 321.2h0M193.1 470h0M194.4 334.7h0M195.4 284.7h0M196.2 275.8h0M197.1 261.7h0M198.3 393.6h0M199.6 372.3h0M200.8 254.9h0M201.9 294.8h0M202.7 286h0M204 460.6h0M205 313.8h0M205.9 297.1h0M207.1 411.1h0M208 482.9h0M209 274.5h0M210.3 447.8h0M211.3 372.8h0M212.5 377.6h0M213.7 521.4h0M214.8 293.2h0M215.9 470.1h0M216.9 472h0M218.1 352.2h0M219.3 477.2h0M220.3 455.1h0M221.2 458.9h0M222.2 278h0M223.3 266.3h0M225 413.2h0M225.8 238.1h0M226.9 407.1h0M227.9 463.5h0M229 255.1h0M230 422.9h0M231.1 441.1h0M232.4 385.9h0M233.2 348.6h0M234.4 453.3h0M235.7 496h0M236.9 450.3h0M238.2 431.7h0M239.1 305.2h0M239.9 490.4h0M241 478.1h0M242.2 472h0M243.5 553.8h0M244.5 495.9h0M245.9 361.3h0M246.8 350.8h0M248.1 342.5h0M249.5 572.3h0M250.3 293.9h0M251.4 271.7h0M252.9 539.6h0M253.8 534.2h0M255.4 379.2h0M256.2 442h0M257.5 309.7h0M258.6 335.6h0M259.3 425.3h0M260.8 405.3h0M261.7 492.9h0M262.8 398.3h0M264 488.4h0M264.9 454.4h0M266.1 353.4h0M266.5 590.7h0M268 312.9h0M269.2 295.8h0M270.3 368.7h0M271.5 422.2h0M272.5 374.7h0M273.6 273.6h0M274.8 486.4h0M275.5 273h0M276.8 470.9h0M278.2 589.9h0M279.3 504.3h0M280.4 263.2h0M281.3 346.3h0M282.9 320.3h0M283.8 383h0M284.8 353.9h0M285.9 509.9h0M287 412.8h0M288.1 279.9h0M289.3 536.1h0M290.3 287.9h0M291.8 363.1h0M293.5 583.8h0M294.3 511.8h0M295.5 443.8h0M296.5 467.1h0M297.3 385.6h0M298.6 442.8h0M299.3 337.5h0M300.4 434.2h0M301.8 371.9h0M302.6 393.1h0M303.5 300.4h0M304.8 266.6h0M305.8 400.3h0M307 287.4h0M308.5 535.8h0M309.6 430.3h0M311.4 359.1h0M312.4 432.5h0M313.2 424.7h0M314.4 424.7h0M315.4 407.9h0M316.5 453.1h0M317.4 427.1h0M318.7 378.8h0M319.7 317.7h0M321.1 241.4h0M322.6 435.1h0M323.8 455.2h0M325 396.5h0M326.1 400.7h0M327 313.3h0M328.2 407.3h0M329.3 383.6h0M330.5 568.4h0M331.5 408.7h0M333 349.3h0M333.8 365.2h0M334.9 259.9h0M335.8 255.8h0M336.8 445h0M337.8 278.9h0M339 362.2h0M339.8 336.8h0M341.1 516h0M342.1 487.1h0M344 362.4h0M344.9 287.7h0M345.9 359.2h0M347.1 311.2h0M348.2 522.2h0M349.2 261.9h0M350.3 433.1h0M351.5 496.8h0M352.7 302.2h0M353.8 284.8h0M354.9 384.4h0M355.8 196.5h0M356.9 290.7h0M358.3 291.9h0M359.2 422.4h0M360.3 524h0M361.3 351.9h0M362.3 324.4h0M363.3 509.6h0M364.2 443.2h0M365.2 434h0M366.2 514.3h0M367.3 509.5h0M368.2 485.3h0M369.4 328.2h0M370.9 413.4h0M372 409h0M372.5 596.5h0M373.8 317.8h0M374.9 434.9h0M375.8 385h0M377.8 431.3h0M378.6 359.8h0M379.7 393.9h0M381.3 458.2h0M382.5 438.6h0M383.6 382.1h0M384.6 490.1h0M385.9 314.7h0M387 358.8h0M388 329.7h0M389.1 506.2h0M390.5 326.6h0M392 402.5h0M393 408.9h0M394.4 375.4h0M395.5 476.4h0M396.8 366.9h0M397.9 449.3h0M399.7 507.6h0M401 565.4h0M401.7 449.7h0M402.9 445.8h0M403.8 417.3h0M404.8 341.4h0M406.6 441.8h0M407.7 380.2h0M408.8 447.8h0M409.6 424h0M410.9 484.3h0M412.1 537.4h0M413.3 206.2h0M414.2 370.8h0M415.4 380.5h0M416.6 436.5h0M417.4 511.5h0M418.9 465.7h0M420 400.2h0M420.9 465.3h0M422.1 363.9h0M423.1 450.4h0M424.2 379.3h0M425.2 485.4h0M426.4 415.2h0M427.3 429h0M428.7 309.3h0M429.5 487h0M431 516.7h0M432.1 300h0M433.4 356.2h0M434.6 295.9h0M436.4 415.8h0M437.6 506.5h0M438.8 313.5h0M439.9 521.9h0M441 528.5h0M441.8 468.1h0M443.1 499.6h0M443.9 442.3h0M445.1 334.4h0M446.3 323.4h0M447.3 200.9h0M448.6 478.9h0M449.6 380.4h0M450.5 243.8h0M451.4 345.5h0M452.8 448.4h0M453.6 311.3h0M454.8 450h0M455.7 445.5h0M456.8 375.7h0M458.3 401.6h0M459.6 521.8h0M460.7 277.6h0M461.8 269.4h0M463 359.4h0M464.2 398.6h0M465.2 504.6h0M466.2 493.4h0M467.1 346.6h0M468.8 328.5h0M469.7 335.1h0M471.1 384.7h0M472.1 504.9h0M473.1 383h0M474.1 411.1h0M475 284.5h0M476 439.5h0M477.2 336.9h0M478 456.1h0M479.2 335.6h0M480.1 300h0M481.3 263h0M482.5 364.9h0M483.7 414.1h0M484.7 327.6h0M486.1 349.8h0M487.3 523.8h0M488.5 565.8h0M489.5 202.7h0M491.5 487.1h0M492.3 469.2h0M493.6 256.2h0M494.7 245.7h0M495.7 521.5h0M496.6 410.8h0M497.7 460.2h0M499.2 545.2h0M500.2 520.1h0M501 330.8h0M502.1 315.9h0M503.1 333.3h0M504 306.8h0M505 510.7h0M506.1 303.9h0M507.3 278.1h0M508.3 505.9h0M509.4 477.6h0M510.7 302.2h0M512 395.9h0M513 325.2h0M513.8 428.4h0M514.9 383.2h0M516 435.8h0M516.9 443.6h0M518.8 335.5h0M519.9 402.5h0M521.1 390.4h0M521.9 520.6h0M523.1 436.7h0M524.7 371.2h0M526.1 454.2h0M527.3 345.6h0M528.2 277.2h0M529.3 322h0M530.3 467.1h0M531.3 445h0M532.1 227.7h0M533.4 409.4h0M534.8 449.8h0M536 353h0M537.3 407.1h0M538.5 311.4h0M539.4 527.2h0M541.1 302.8h0M541.9 508.1h0M543.1 395.4h0M543.9 462.9h0M545 326.5h0M545.9 455.6h0M547.6 352.9h0M548.7 342.3h0M549.5 235.1h0M550.5 388.2h0M552 436.7h0M553.1 375h0M554.2 521.5h0M555.3 284.4h0M556.4 347h0M557.3 466.2h0M558.3 430.8h0M559.2 349.3h0M560.2 414h0M561.1 428h0M562.3 452.5h0M563.3 425.1h0M564.3 290.9h0M565.8 537.8h0M567.1 372.3h0M567.9 428.8h0M569.4 477h0M570.2 416.1h0M571.1 328.8h0M572.6 357.2h0M573.6 425.7h0M574.6 312.6h0M576.1 377.2h0M577.1 340.3h0M578.2 507.6h0M579.5 390.7h0M580.9 439h0M581.8 533.6h0M582.8 481.8h0M584.2 349.9h0M585.2 258h0M586.1 340.9h0M587.4 390.7h0M588.5 507.5h0M589.4 394.7h0M590.4 439h0M591.7 352.9h0M593 503.5h0M594.1 320.6h0M595.1 475.2h0M596.3 424.4h0M597.7 546.2h0M598.7 275.8h0M599.9 281.4h0M600.9 417.3h0M601.8 384.5h0M603.1 504.6h0M604.3 325.3h0M605.5 574.6h0M606.6 327.4h0M607.7 410.6h0M608.7 297.4h0M610 359.2h0M610.8 380.6h0M612 340.6h0M612.8 330.6h0M613.8 293.1h0M614.8 411.2h0M615.8 247.4h0M617 432h0M618.2 359.3h0M619 399.1h0M620.2 347.1h0M621.4 457.5h0M622.8 428.6h0M623.8 238.4h0M625.2 526.9h0M626.5 568.1h0M627.5 360.5h0M628.7 321.2h0M629.9 432.2h0M631 492.2h0M632.2 470h0M633.1 452.3h0M634.4 430.7h0M635.2 500.7h0M636.5 299.1h0M637.5 462.8h0M638.6 346h0M639.4 510h0M640.5 282.4h0M641.6 319.5h0M642.7 331.7h0M643.8 436.3h0M644.7 426.3h0M645.9 491.6h0M647.3 484.8h0M648.2 469.1h0M649.8 372h0M650.7 299.3h0M651.9 322.4h0M652.8 285.7h0M654 371.6h0M655.2 308.1h0M656.3 336.6h0M657.1 328.5h0M658.3 424.9h0M659.5 444.5h0M660.7 520.8h0M661.9 340h0M662.9 365.2h0M664.6 355.8h0M665.8 566.6h0M667.1 535.4h0M668.1 380h0M669.5 449.5h0M670.5 339.5h0M671.6 374.9h0M673.1 265.4h0M674.3 414h0M675.5 414.1h0M676.6 331.2h0M677.5 319.3h0M678.7 358.7h0M679.8 343.8h0M680.8 515.8h0M681.8 392.5h0M683.1 439.1h0M684.3 347h0M685.3 442.4h0M686.2 395.8h0M687.4 365.2h0M688.4 365h0M689.4 569.3h0M690.8 320.4h0M692 470.2h0M693.1 500.9h0M694.1 418.9h0M695 405.6h0M696.4 275.1h0M697.3 423.9h0M698.5 472.4h0M699.4 332.5h0M700.5 449.5h0M701.7 423.9h0M702.7 465.6h0M703.7 310.5h0M704.8 423.3h0M706 430.7h0M707.5 455.2h0M708.4 391.5h0M709.4 479.4h0M710.6 477h0M711.5 601.8h0M712.8 395.8h0M713.9 407.4h0M714.8 448.5h0M715.7 323.8h0M717.2 340.8h0M718.3 275.9h0M719.2 420.1h0M720.8 442.6h0M721.9 334.4h0M722.7 383.7h0M724.3 290.8h0M725.3 306.8h0M726.5 439.4h0M728.4 454.6h0M729.3 368.7h0M730.5 482.5h0M731.5 399.3h0M732.8 432.9h0M733.9 531h0M734.9 428h0M736 341.6h0M736.9 381.8h0M737.8 354h0M739.2 339.7h0M740.1 520.3h0M741.1 301h0M742.1 461.1h0M743.2 432.7h0M744.2 363.9h0M745.3 293.8h0M746.7 472.2h0M747.8 456.2h0M748.8 458h0M749.9 383.8h0M751 361.3h0M752.2 520.5h0M753.3 420.2h0M754.1 394.1h0M755.2 461.4h0M756.3 371.9h0M757.3 320.9h0M758.3 476.6h0M759.3 288.7h0M760.5 615h0M761.6 478.1h0M763.1 529.7h0M764.1 546.6h0M765.1 486.6h0M766.3 401.9h0M767.6 326.9h0M768.9 423.6h0M769.9 387.5h0M770.8 507.3h0M771.7 425.2h0M772.7 357.7h0M774.2 254.3h0M775.1 459.9h0M776.8 364.1h0M777.7 444.2h0M779.1 415.1h0M780.1 361.5h0M781.3 322.3h0M782.5 312.3h0M783.7 304.7h0M784.8 473.5h0M785.9 539.2h0M787 545.5h0M788.2 476.8h0M789.4 288.4h0M790.4 437.8h0M791.6 434.1h0M792.5 421h0M793.9 488h0M794.9 306.8h0M795.9 459.5h0M796.9 315.7h0M798.3 380.3h0M799.7 500.6h0M800.6 439.1h0M801.6 468.7h0M802.9 307.6h0M804.2 278.8h0M805.4 408.5h0M806.3 441.1h0M807.3 465.7h0M808.4 241.6h0M809.6 531.9h0M810.3 351.8h0M812 521.5h0M812.8 464.9h0M813.8 464.6h0M815.5 319.4h0M816.7 311.5h0M817.6 494.5h0M818.6 335.4h0M819.5 600.4h0M821 311.5h0M821.8 408.5h0M822.8 458.4h0M824 324.5h0M825.4 495.7h0M826.2 402.9h0M827.7 277.4h0M828.5 473.3h0M830.1 507.8h0M831.2 429.6h0M832.4 338.2h0M833.2 404.8h0M834.8 365.2h0M835.6 413.8h0M837.3 330.4h0M838.3 320.8h0M839.3 574.7h0M840.6 446.6h0M841.5 451.4h0M842.4 345.2h0M844.1 462.3h0M845.3 449.3h0M846.5 358.9h0M847.5 409.2h0M848.5 277.4h0M849.5 287.9h0M851.1 387.6h0M852.4 458.5h0M853.5 435.2h0M854.5 345.4h0M855.6 371.1h0M856.7 469.5h0M857.7 453.9h0M858.6 468h0M859.7 427.2h0M860.5 466.7h0M861.8 522.4h0M862.6 288.5h0M863.5 484.6h0M864.7 380.9h0M865.5 373.1h0M866.7 378.5h0M867.8 364.5h0M868.7 545h0M869.7 492.9h0M870.9 307.9h0M871.9 457.8h0M873.2 351.8h0M874 284.1h0M875.2 550.3h0M876.1 371.1h0M877.2 284.9h0M879.1 484.6h0M880.1 506.8h0M881.2 425h0M882.3 438.6h0M883.4 309.4h0M884.5 431.5h0M885.6 494.5h0M886.5 315.9h0M888.4 450.8h0M889.6 350.7h0M890.7 368.2h0M892 349.4h0M892.9 534.6h0M894.3 319.6h0M895.4 526.8h0M896.2 387.8h0M897.6 425.5h0M898.5 378.5h0M899.4 426h0M900.6 426.5h0M902.1 364h0M903.4 518.7h0M904.3 317.6h0M905.7 388.2h0M907.1 317.2h0M907.9 561.2h0M909.7 433h0M910.6 232.9h0M911.9 379.2h0M912.7 467.1h0M913.8 341.4h0M915.1 396.8h0M916.1 430.1h0M917.1 415.7h0M918.6 285h0M919.8 275.8h0M920.8 361.1h0M922.1 452.5h0M923.3 438.5h0M924.3 351h0M925.3 399.9h0M926.4 408.6h0M927.6 284.7h0M928.7 295.5h0M929.7 446.2h0M930.8 317.9h0M931.7 587.6h0M932.7 254.2h0M933.8 273.3h0M934.9 438.2h0M936.2 390.7h0M937.1 309.6h0M938 430.8h0M939 470.2h0M940.6 521.9h0M941.6 234.4h0M942.6 390.7h0M943.9 422.6h0M944.9 452.2h0M946.2 503.8h0M947.3 454.9h0M948.5 206h0M949.3 307.9h0M950.6 446.6h0M951.5 391.9h0M952.5 170.8h0M953.8 386.7h0M955.1 443.1h0M955.9 270.7h0M957.5 333.3h0M958.6 235.9h0M959.6 360.2h0M960.9 458.4h0M962 288.8h0M963.4 449h0M964.3 407.6h0M965.4 507.2h0M966.9 370.5h0M968.1 430h0M969.4 477h0M970.5 410.8h0M971.5 601h0M972.4 464.1h0M973.5 487.2h0M974.4 546.2h0M975.4 340.9h0M976.5 334.8h0M977.6 393.2h0M978.5 348.7h0M980.1 523.3h0M981 331.5h0M982.5 236.8h0M983.7 283h0M984.6 430h0M985.7 502.4h0M986.9 477.5h0M988.2 265.9h0M989.1 523.2h0M990.4 540.7h0M991.2 423.5h0M992.3 455.3h0M993.7 535.7h0M994.9 489.5h0M996.1 385.2h0M997.5 342.8h0M999 500.2h0M1000.1 343.1h0"/><path stroke="rgb(85,160,92)" stroke-opacity="0.4" stroke-width="2.6" d="M122 506.5h0M122.8 352.1h0M123.9 388.6h0M124.9 279.2h0M126.2 358.2h0M127.1 505h0M128 499.2h0M129.2 245.2h0M130.1 445.9h0M131.2 309.2h0M133 318.6h0M134.5 349.5h0M136.3 425.2h0M137.4 463.6h0M138.7 423h0M139.5 335.3h0M140.6 260.7h0M142 363h0M142.9 237.3h0M144.5 397.4h0M145.7 352.5h0M146.8 211.2h0M148.5 360.7h0M149.9 411.2h0M150.8 429.9h0M152 243.9h0M153.2 284.4h0M154.2 332.2h0M155.4 432.7h0M156.2 486h0M157.5 338.2h0M158.5 214.4h0M159.4 387.6h0M160.6 488.6h0M162 356.9h0M162.9 326.2h0M164 422.3h0M164.8 503.2h0M165.9 494.1h0M166.9 406.6h0M168.2 297.2h0M169.6 331.4h0M170.5 564.2h0M171.8 473.3h0M172.8 416h0M173.7 378h0M174.8 426.5h0M175.9 320.1h0M177.2 495.2h0M178.1 324.1h0M179.3 412h0M180.5 326.1h0M181.5 165.6h0M182.4 313.9h0M183.7 306.1h0M185.5 236.1h0M187.3 439.8h0M188.1 518.7h0M189.2 348.6h0M190.1 482.7h0M191.6 321.2h0M193.1 470h0M194.4 334.7h0M195.4 284.7h0M196.2 275.8h0M197.1 261.7h0M198.3 393.6h0M199.6 372.3h0M200.8 254.9h0M201.9 294.8h0M202.7 286h0M204 460.6h0M205 313.8h0M205.9 297.1h0M207.1 411.1h0M208 482.9h0M209 274.5h0M210.3 447.8h0M211.3 372.8h0M212.5 377.6h0M213.7 521.4h0M214.8 293.2h0M215.9 470.1h0M216.9 472h0M218.1 352.2h0M219.3 477.2h0M220.3 455.1h0M221.2 458.9h0M222.2 278h0M223.3 266.3h0M225 413.2h0M225.8 238.1h0M226.9 407.1h0M227.9 463.5h0M229 255.1h0M230 422.9h0M231.1 441.1h0M232.4 385.9h0M233.2 348.6h0M234.4 453.3h0M235.7 496h0M236.9 450.3h0M238.2 431.7h0M239.1 305.2h0M239.9 490.4h0M241 478.1h0M242.2 472h0M243.5 553.8h0M244.5 495.9h0M245.9 361.3h0M246.8 350.8h0M248.1 342.5h0M249.5 572.3h0M250.3 293.9h0M251.4 271.7h0M252.9 539.6h0M253.8 534.2h0M255.4 379.2h0M256.2 442h0M257.5 309.7h0M258.6 335.6h0M259.3 425.3h0M260.8 405.3h0M261.7 492.9h0M262.8 398.3h0M264 488.4h0M264.9 454.4h0M266.1 353.4h0M266.5 590.7h0M268 312.9h0M269.2 295.8h0M270.3 368.7h0M271.5 422.2h0M272.5 374.7h0M273.6 273.6h0M274.8 486.4h0M275.5 273h0M276.8 470.9h0M278.2 589.9h0M279.3 504.3h0M280.4 263.2h0M281.3 346.3h0M282.9 320.3h0M283.8 383h0M284.8 353.9h0M285.9 509.9h0M287 412.8h0M288.1 279.9h0M289.3 536.1h0M290.3 287.9h0M291.8 363.1h0M293.5 583.8h0M294.3 511.8h0M295.5 443.8h0M296.5 467.1h0M297.3 385.6h0M298.6 442.8h0M299.3 337.5h0M300.4 434.2h0M301.8 371.9h0M302.6 393.1h0M303.5 300.4h0M304.8 266.6h0M305.8 400.3h0M307 287.4h0M308.5 535.8h0M309.6 430.3h0M311.4 359.1h0M312.4 432.5h0M313.2 424.7h0M314.4 424.7h0M315.4 407.9h0M316.5 453.1h0M317.4 427.1h0M318.7 378.8h0M319.7 317.7h0M321.1 241.4h0M322.6 435.1h0M323.8 455.2h0M325 396.5h0M326.1 400.7h0M327 313.3h0M328.2 407.3h0M329.3 383.6h0M330.5 568.4h0M331.5 408.7h0M333 349.3h0M333.8 365.2h0M334.9 259.9h0M335.8 255.8h0M336.8 445h0M337.8 278.9h0M339 362.2h0M339.8 336.8h0M341.1 516h0M342.1 487.1h0M344 362.4h0M344.9 287.7h0M345.9 359.2h0M347.1 311.2h0M348.2 522.2h0M349.2 261.9h0M350.3 433.1h0M351.5 496.8h0M352.7 302.2h0M353.8 284.8h0M354.9 384.4h0M355.8 196.5h0M356.9 290.7h0M358.3 291.9h0M359.2 422.4h0M360.3 524h0M361.3 351.9h0M362.3 324.4h0M363.3 509.6h0M364.2 443.2h0M365.2 434h0M366.2 514.3h0M367.3 509.5h0M368.2 485.3h0M369.4 328.2h0M370.9 413.4h0M372 409h0M372.5 596.5h0M373.8 317.8h0M374.9 434.9h0M375.8 385h0M377.8 431.3h0M378.6 359.8h0M379.7 393.9h0M381.3 458.2h0M382.5 438.6h0M383.6 382.1h0M384.6 490.1h0M385.9 314.7h0M387 358.8h0M388 329.7h0M389.1 506.2h0M390.5 326.6h0M392 402.5h0M393 408.9h0M394.4 375.4h0M395.5 476.4h0M396.8 366.9h0M397.9 449.3h0M399.7 507.6h0M401 565.4h0M401.7 449.7h0M402.9 445.8h0M403.8 417.3h0M404.8 341.4h0M406.6 441.8h0M407.7 380.2h0M408.8 447.8h0M409.6 424h0M410.9 484.3h0M412.1 537.4h0M413.3 206.2h0M414.2 370.8h0M415.4 380.5h0M416.6 436.5h0M417.4 511.5h0M418.9 465.7h0M420 400.2h0M420.9 465.3h0M422.1 363.9h0M423.1 450.4h0M424.2 379.3h0M425.2 485.4h0M426.4 415.2h0M427.3 429h0M428.7 309.3h0M429.5 487h0M431 516.7h0M432.1 300h0M433.4 356.2h0M434.6 295.9h0M436.4 415.8h0M437.6 506.5h0M438.8 313.5h0M439.9 521.9h0M441 528.5h0M441.8 468.1h0M443.1 499.6h0M443.9 442.3h0M445.1 334.4h0M446.3 323.4h0M447.3 200.9h0M448.6 478.9h0M449.6 380.4h0M450.5 243.8h0M451.4 345.5h0M452.8 448.4h0M453.6 311.3h0M454.8 450h0M455.7 445.5h0M456.8 375.7h0M458.3 401.6h0M459.6 521.8h0M460.7 277.6h0M461.8 269.4h0M463 359.4h0M464.2 398.6h0M465.2 504.6h0M466.2 493.4h0M467.1 346.6h0M468.8 328.5h0M469.7 335.1h0M471.1 384.7h0M472.1 504.9h0M473.1 383h0M474.1 411.1h0M475 284.5h0M476 439.5h0M477.2 336.9h0M478 456.1h0M479.2 335.6h0M480.1 300h0M481.3 263h0M482.5 364.9h0M483.7 414.1h0M484.7 327.6h0M486.1 349.8h0M487.3 523.8h0M488.5 565.8h0M489.5 202.7h0M491.5 487.1h0M492.3 469.2h0M493.6 256.2h0M494.7 245.7h0M495.7 521.5h0M496.6 410.8h0M497.7 460.2h0M499.2 545.2h0M500.2 520.1h0M501 330.8h0M502.1 315.9h0M503.1 333.3h0M504 306.8h0M505 510.7h0M506.1 303.9h0M507.3 278.1h0M508.3 505.9h0M509.4 477.6h0M510.7 302.2h0M512 395.9h0M513 325.2h0M513.8 428.4h0M514.9 383.2h0M516 435.8h0M516.9 443.6h0M518.8 335.5h0M519.9 402.5h0M521.1 390.4h0M521.9 520.6h0M523.1 436.7h0M524.7 371.2h0M526.1 454.2h0M527.3 345.6h0M528.2 277.2h0M529.3 322h0M530.3 467.1h0M531.3 445h0M532.1 227.7h0M533.4 409.4h0M534.8 449.8h0M536 353h0M537.3 407.1h0M538.5 311.4h0M539.4 527.2h0M541.1 302.8h0M541.9 508.1h0M543.1 395.4h0M543.9 462.9h0M545 326.5h0M545.9 455.6h0M547.6 352.9h0M548.7 342.3h0M549.5 235.1h0M550.5 388.2h0M552 436.7h0M553.1 375h0M554.2 521.5h0M555.3 284.4h0M556.4 347h0M557.3 466.2h0M558.3 430.8h0M559.2 349.3h0M560.2 414h0M561.1 428h0M562.3 452.5h0M563.3 425.1h0M564.3 290.9h0M565.8 537.8h0M567.1 372.3h0M567.9 428.8h0M569.4 477h0M570.2 416.1h0M571.1 328.8h0M572.6 357.2h0M573.6 425.7h0M574.6 312.6h0M576.1 377.2h0M577.1 340.3h0M578.2 507.6h0M579.5 390.7h0M580.9 439h0M581.8 533.6h0M582.8 481.8h0M584.2 349.9h0M585.2 258h0M586.1 340.9h0M587.4 390.7h0M588.5 507.5h0M589.4 394.7h0M590.4 439h0M591.7 352.9h0M593 503.5h0M594.1 320.6h0M595.1 475.2h0M596.3 424.4h0M597.7 546.2h0M598.7 275.8h0M599.9 281.4h0M600.9 417.3h0M601.8 384.5h0M603.1 504.6h0M604.3 325.3h0M605.5 574.6h0M606.6 327.4h0M607.7 410.6h0M608.7 297.4h0M610 359.2h0M610.8 380.6h0M612 340.6h0M612.8 330.6h0M613.8 293.1h0M614.8 411.2h0M615.8 247.4h0M617 432h0M618.2 359.3h0M619 399.1h0M620.2 347.1h0M621.4 457.5h0M622.8 428.6h0M623.8 238.4h0M625.2 526.9h0M626.5 568.1h0M627.5 360.5h0M628.7 321.2h0M629.9 432.2h0M631 492.2h0M632.2 470h0M633.1 452.3h0M634.4 430.7h0M635.2 500.7h0M636.5 299.1h0M637.5 462.8h0M638.6 346h0M639.4 510h0M640.5 282.4h0M641.6 319.5h0M642.7 331.7h0M643.8 436.3h0M644.7 426.3h0M645.9 491.6h0M647.3 484.8h0M648.2 469.1h0M649.8 372h0M650.7 299.3h0M651.9 322.4h0M652.8 285.7h0M654 371.6h0M655.2 308.1h0M656.3 336.6h0M657.1 328.5h0M658.3 424.9h0M659.5 444.5h0M660.7 520.8h0M661.9 340h0M662.9 365.2h0M664.6 355.8h0M665.8 566.6h0M667.1 535.4h0M668.1 380h0M669.5 449.5h0M670.5 339.5h0M671.6 374.9h0M673.1 265.4h0M674.3 414h0M675.5 414.1h0M676.6 331.2h0M677.5 319.3h0M678.7 358.7h0M679.8 343.8h0M680.8 515.8h0M681.8 392.5h0M683.1 439.1h0M684.3 347h0M685.3 442.4h0M686.2 395.8h0M687.4 365.2h0M688.4 365h0M689.4 569.3h0M690.8 320.4h0M692 470.2h0M693.1 500.9h0M694.1 418.9h0M695 405.6h0M696.4 275.1h0M697.3 423.9h0M698.5 472.4h0M699.4 332.5h0M700.5 449.5h0M701.7 423.9h0M702.7 465.6h0M703.7 310.5h0M704.8 423.3h0M706 430.7h0M707.5 455.2h0M708.4 391.5h0M709.4 479.4h0M710.6 477h0M711.5 601.8h0M712.8 395.8h0M713.9 407.4h0M714.8 448.5h0M715.7 323.8h0M717.2 340.8h0M718.3 275.9h0M719.2 420.1h0M720.8 442.6h0M721.9 334.4h0M722.7 383.7h0M724.3 290.8h0M725.3 306.8h0M726.5 439.4h0M728.4 454.6h0M729.3 368.7h0M730.5 482.5h0M731.5 399.3h0M732.8 432.9h0M733.9 531h0M734.9 428h0M736 341.6h0M736.9 381.8h0M737.8 354h0M739.2 339.7h0M740.1 520.3h0M741.1 301h0M742.1 461.1h0M743.2 432.7h0M744.2 363.9h0M745.3 293.8h0M746.7 472.2h0M747.8 456.2h0M748.8 458h0M749.9 383.8h0M751 361.3h0M752.2 520.5h0M753.3 420.2h0M754.1 394.1h0M755.2 461.4h0M756.3 371.9h0M757.3 320.9h0M758.3 476.6h0M759.3 288.7h0M760.5 615h0M761.6 478.1h0M763.1 529.7h0M764.1 546.6h0M765.1 486.6h0M766.3 401.9h0M767.6 326.9h0M768.9 423.6h0M769.9 387.5h0M770.8 507.3h0M771.7 425.2h0M772.7 357.7h0M774.2 254.3h0M775.1 459.9h0M776.8 364.1h0M777.7 444.2h0M779.1 415.1h0M780.1 361.5h0M781.3 322.3h0M782.5 312.3h0M783.7 304.7h0M784.8 473.5h0M785.9 539.2h0M787 545.5h0M788.2 476.8h0M789.4 288.4h0M790.4 437.8h0M791.6 434.1h0M792.5 421h0M793.9 488h0M794.9 306.8h0M795.9 459.5h0M796.9 315.7h0M798.3 380.3h0M799.7 500.6h0M800.6 439.1h0M801.6 468.7h0M802.9 307.6h0M804.2 278.8h0M805.4 408.5h0M806.3 441.1h0M807.3 465.7h0M808.4 241.6h0M809.6 531.9h0M810.3 351.8h0M812 521.5h0M812.8 464.9h0M813.8 464.6h0M815.5 319.4h0M816.7 311.5h0M817.6 494.5h0M818.6 335.4h0M819.5 600.4h0M821 311.5h0M821.8 408.5h0M822.8 458.4h0M824 324.5h0M825.4 495.7h0M826.2 402.9h0M827.7 277.4h0M828.5 473.3h0M830.1 507.8h0M831.2 429.6h0M832.4 338.2h0M833.2 404.8h0M834.8 365.2h0M835.6 413.8h0M837.3 330.4h0M838.3 320.8h0M839.3 574.7h0M840.6 446.6h0M841.5 451.4h0M842.4 345.2h0M844.1 462.3h0M845.3 449.3h0M846.5 358.9h0M847.5 409.2h0M848.5 277.4h0M849.5 287.9h0M851.1 387.6h0M852.4 458.5h0M853.5 435.2h0M854.5 345.4h0M855.6 371.1h0M856.7 469.5h0M857.7 453.9h0M858.6 468h0M859.7 427.2h0M860.5 466.7h0M861.8 522.4h0M862.6 288.5h0M863.5 484.6h0M864.7 380.9h0M865.5 373.1h0M866.7 378.5h0M867.8 364.5h0M868.7 545h0M869.7 492.9h0M870.9 307.9h0M871.9 457.8h0M873.2 351.8h0M874 284.1h0M875.2 550.3h0M876.1 371.1h0M877.2 284.9h0M879.1 484.6h0M880.1 506.8h0M881.2 425h0M882.3 438.6h0M883.4 309.4h0M884.5 431.5h0M885.6 494.5h0M886.5 315.9h0M888.4 450.8h0M889.6 350.7h0M890.7 368.2h0M892 349.4h0M892.9 534.6h0M894.3 319.6h0M895.4 526.8h0M896.2 387.8h0M897.6 425.5h0M898.5 378.5h0M899.4 426h0M900.6 426.5h0M902.1 364h0M903.4 518.7h0M904.3 317.6h0M905.7 388.2h0M907.1 317.2h0M907.9 561.2h0M909.7 433h0M910.6 232.9h0M911.9 379.2h0M912.7 467.1h0M913.8 341.4h0M915.1 396.8h0M916.1 430.1h0M917.1 415.7h0M918.6 285h0M919.8 275.8h0M920.8 361.1h0M922.1 452.5h0M923.3 438.5h0M924.3 351h0M925.3 399.9h0M926.4 408.6h0M927.6 284.7h0M928.7 295.5h0M929.7 446.2h0M930.8 317.9h0M931.7 587.6h0M932.7 254.2h0M933.8 273.3h0M934.9 438.2h0M936.2 390.7h0M937.1 309.6h0M938 430.8h0M939 470.2h0M940.6 521.9h0M941.6 234.4h0M942.6 390.7h0M943.9 422.6h0M944.9 452.2h0M946.2 503.8h0M947.3 454.9h0M948.5 206h0M949.3 307.9h0M950.6 446.6h0M951.5 391.9h0M952.5 170.8h0M953.8 386.7h0M955.1 443.1h0M955.9 270.7h0M957.5 333.3h0M958.6 235.9h0M959.6 360.2h0M960.9 458.4h0M962 288.8h0M963.4 449h0M964.3 407.6h0M965.4 507.2h0M966.9 370.5h0M968.1 430h0M969.4 477h0M970.5 410.8h0M971.5 601h0M972.4 464.1h0M973.5 487.2h0M974.4 546.2h0M975.4 340.9h0M976.5 334.8h0M977.6 393.2h0M978.5 348.7h0M980.1 523.3h0M981 331.5h0M982.5 236.8h0M983.7 283h0M984.6 430h0M985.7 502.4h0M986.9 477.5h0M988.2 265.9h0M989.1 523.2h0M990.4 540.7h0M991.2 423.5h0M992.3 455.3h0M993.7 535.7h0M994.9 489.5h0M996.1 385.2h0M997.5 342.8h0M999 500.2h0M1000.1 343.1h0"/><path stroke="rgb(132,222,132)" stroke-opacity="0.58" stroke-width="5.4" d="M122 532.3h0M123 389.1h0M124.1 342.3h0M125.2 377.5h0M126.3 416.1h0M127.4 314.7h0M128.2 435.5h0M129.2 286.4h0M130.4 391.1h0M131.3 229.3h0M133.6 235.7h0M134.7 374.9h0M136.4 434.3h0M137.7 517.2h0M138.9 334h0M139.9 231.2h0M140.5 605.3h0M142.3 226.8h0M143.2 352.7h0M144.8 414h0M146 313.5h0M147.5 301.9h0M148.5 369.3h0M149.9 378.6h0M150.9 261h0M152.3 284.2h0M153.6 315.6h0M154.5 344.6h0M155.5 312.2h0M156.5 189h0M157.7 477.6h0M158.5 242.9h0M159.7 327.6h0M160.9 447.8h0M161.9 343.6h0M163.2 501.1h0M163.9 352.5h0M165.2 518.6h0M166.2 290.9h0M167.1 554h0M168.1 420h0M169.7 302h0M170.7 383.3h0M171.7 289.3h0M172.8 346.5h0M173.8 422.5h0M175.1 491.2h0M176 326.7h0M177.5 456.8h0M178.5 475.9h0M179.6 476h0M180.7 376.5h0M181.7 497h0M182.7 235.4h0M184.2 311.7h0M185.6 408.5h0M187.5 282.9h0M188.4 338.5h0M189.3 288.9h0M190.5 441.2h0M192 344.2h0M193.5 426.1h0M194.4 264.6h0M195.6 297h0M196.4 291.9h0M197.6 287.5h0M198.5 309.1h0M199.9 312.2h0M201 263h0M201.9 341.4h0M203 288.1h0M204 445.6h0M205.1 337.8h0M206.3 314.3h0M207.3 433h0M208.2 515.5h0M209.2 492.5h0M210.7 439.9h0M211.7 372.6h0M212.7 364.2h0M214.2 567.2h0M215.1 448.3h0M216.2 416.9h0M217.4 478.4h0M218.5 591.9h0M219.5 286.5h0M220.4 317.2h0M221.4 445.7h0M222.5 334.4h0M223.4 427.1h0M225.1 448.2h0M226 366.9h0M227 385.1h0M228.1 406.4h0M229.2 453.8h0M230.2 455.5h0M231.4 428h0M232.5 434.5h0M233.4 321.8h0M234.7 384h0M236.2 395.6h0M237.2 352.4h0M238.3 310.3h0M239.3 444.2h0M240.2 414.2h0M241.4 378.5h0M242.2 386.6h0M243.6 345.6h0M244.6 387.1h0M246.1 304.6h0M247.4 288.3h0M248.4 517h0M249.3 538.3h0M250.4 332.3h0M251.6 364h0M253.2 513.2h0M254 517.1h0M255.5 410.4h0M256.5 452.2h0M257.5 390.6h0M258.6 328.4h0M259.9 422h0M261 377.1h0M261.9 500.6h0M263.1 377.1h0M264.3 369.1h0M265.3 498.4h0M266.2 544.3h0M267.2 401.2h0M268.2 394.4h0M269.3 502h0M270.7 387.2h0M271.6 432.2h0M272.7 393.2h0M273.7 497.9h0M275 348.6h0M276 372.6h0M277.3 313.6h0M278.4 470.4h0M279.7 246.1h0M280.7 256.3h0M281.6 426.7h0M283.1 425.3h0M284.2 489.3h0M284.9 372.8h0M286 513.8h0M287.2 357.6h0M288.1 416h0M289.5 336.6h0M290.9 432.8h0M292.1 289.1h0M293.5 358.8h0M294.5 324.4h0M295.6 353.1h0M296.6 482.2h0M297.7 289.3h0M298.7 396.5h0M299.8 278h0M300.7 479h0M301.9 253.3h0M302.8 372.8h0M303.7 342.6h0M305.1 410.5h0M306 444.3h0M307.2 367.2h0M308.8 424.2h0M309.7 434.5h0M311.4 457.8h0M312.5 329.7h0M313.5 375h0M314.6 366.2h0M315.7 372.3h0M316.8 328.1h0M317.8 574.2h0M318.8 237.2h0M320 270.5h0M321.5 338.7h0M322.8 327.6h0M324.2 584.3h0M325.1 460.6h0M326.2 444.6h0M327.3 329.9h0M328.4 442.3h0M329.6 317.6h0M330.8 344.3h0M331.7 319h0M333 420.6h0M334 279.5h0M335.2 344.6h0M336 255.7h0M336.9 272.1h0M338.1 356.7h0M339.2 373.7h0M340.1 311.5h0M341.1 507h0M342.6 461.4h0M344 320.2h0M345.1 420.1h0M346.4 331.7h0M347.2 423.2h0M348.3 433.3h0M349.6 324.1h0M350.8 446.2h0M351.7 461.3h0M353 321.8h0M353.8 255h0M355.1 366.5h0M356.1 297.9h0M357.6 341.4h0M358.5 273.4h0M359.4 286.7h0M360.6 368.1h0M361.3 330.6h0M362.5 328.9h0M363.5 488.8h0M364.3 460.5h0M365.6 501.5h0M366.3 499h0M367.4 344.8h0M368.5 367.1h0M369.7 404.9h0M371 583.7h0M372.2 485.7h0M373 467.2h0M374.2 373.1h0M375 413.1h0M376.2 409.4h0M377.8 429.9h0M378.7 469h0M379.9 341.6h0M381.7 392.7h0M382.6 469.6h0M383.7 334.5h0M384.7 413.4h0M386.1 406.3h0M387.1 401.3h0M388.1 358.1h0M389.3 389.7h0M391 519h0M392.3 468.7h0M393.2 404.7h0M394.5 373.5h0M395.7 378.2h0M397 368h0M398.4 462.8h0M400 551.8h0M400.9 538.1h0M401.9 512.1h0M403.1 521.4h0M404 261.1h0M405.1 288.8h0M406.8 323.2h0M407.7 408.5h0M408.7 427.4h0M409.8 472h0M411.1 344.9h0M412.1 445.8h0M413.4 339.1h0M414.6 336.5h0M415.5 373.7h0M416.7 385.8h0M417.8 310.4h0M419.4 318.7h0M420.2 392h0M421.4 476.8h0M422.2 310.7h0M423.2 377.2h0M424.4 403h0M425.8 469.5h0M426.7 508.3h0M428 457.7h0M428.8 410.6h0M430 396.8h0M431.3 414.6h0M432.3 492.6h0M433.6 449.4h0M435 307.2h0M436.5 391.7h0M437.7 534h0M439 496.3h0M440.1 465.7h0M441 517h0M442 506.4h0M443.3 587.4h0M444.2 332.2h0M445.3 315.3h0M446.5 352.1h0M447.6 304.2h0M448.5 377.4h0M449.5 428h0M450.6 365.3h0M451.7 408.6h0M452.8 321.2h0M453.8 461.3h0M454.8 336.3h0M456 377.2h0M457 510.8h0M458.4 462.6h0M459.8 437.5h0M460.9 286.9h0M462.1 272.3h0M463.1 312.7h0M464.3 318.9h0M465.3 528.9h0M466.6 381.8h0M467.5 351.7h0M469 414.7h0M470.1 362h0M471.4 354.5h0M472.4 443.9h0M473.1 284h0M474.4 348.6h0M475.1 303.8h0M476.1 376.7h0M477.2 358.1h0M478.3 498.5h0M479.6 319.1h0M480.5 348.2h0M481.5 129.8h0M482.6 353.8h0M483.8 509h0M485.2 359.1h0M486.4 281.3h0M487.5 395.5h0M488.7 561.1h0M490.4 540.7h0M491.7 385.4h0M492.6 496.1h0M493.8 428.9h0M494.9 383h0M496 431.6h0M496.9 490.3h0M498.4 507h0M499.3 530.2h0M500.3 526.1h0M501.1 288.6h0M502.3 344.9h0M503.3 390.9h0M504.2 202.9h0M505.3 439.4h0M506.5 352.4h0M507.5 428.3h0M508.4 423.8h0M509.9 354.6h0M511.1 379.3h0M512 370.3h0M513 262.1h0M514.2 494.5h0M515 419.6h0M515.9 254.2h0M517.2 432.6h0M518.8 406.9h0M520 493.8h0M521.3 466.2h0M522.3 449.7h0M523.8 417.8h0M524.9 385.5h0M526.5 468.8h0M527.4 474.3h0M528.5 561.2h0M529.4 459.1h0M530.5 372h0M531.6 455.4h0M532.6 391.2h0M533.8 281.7h0M534.9 399.6h0M536.4 489.3h0M537.6 524.9h0M538.5 422.1h0M539.7 523.3h0M541.3 371.3h0M542.4 461.4h0M543.3 352.8h0M544.1 444h0M545.3 294.4h0M546.3 299h0M547.9 411.6h0M548.5 180.7h0M549.8 242.6h0M550.7 307.1h0M552.2 297.6h0M553.3 443.8h0M554.5 463.1h0M555.3 508.4h0M556.5 447.2h0M557.4 510.6h0M558.3 454.5h0M559.6 439.2h0M560.6 456.2h0M561.6 366.5h0M562.6 473.5h0M563.5 436.6h0M564.7 230.5h0M566.1 381.1h0M567.3 493.6h0M568.3 325h0M569.6 418.9h0M570.4 345.3h0M571.6 351.8h0M572.6 424.4h0M573.7 528.1h0M574.8 306.2h0M576.3 330.6h0M577.2 351.5h0M578.7 363.3h0M579.6 370.1h0M581 421.8h0M582.1 433.2h0M583.3 465h0M584.2 415.6h0M585.3 347.1h0M586.6 359.4h0M587.6 314.3h0M588.5 513h0M589.5 407.9h0M590.6 465.7h0M592 443.8h0M593.1 535.5h0M594.2 310.2h0M595.6 545.4h0M596.8 285.8h0M597.8 524.2h0M599.1 519.8h0M600.2 276.5h0M601.1 493.9h0M602.1 481.3h0M603.5 370h0M604.6 311.9h0M605.5 480.9h0M606.5 361.7h0M608.1 453.7h0M609 243.6h0M610 384.1h0M611.1 423.7h0M612.2 448.8h0M613.1 418.6h0M614 354.2h0M615 514.2h0M615.9 327h0M617 427.2h0M618.2 403.6h0M619.3 531.9h0M620.5 330.4h0M621.5 187.7h0M623.1 383.9h0M624.1 368.6h0M625.4 372.5h0M626.7 418.2h0M627.7 489.2h0M628.9 320h0M630.1 482.2h0M631.3 380.8h0M632.3 396.7h0M633.3 355.9h0M634.4 357.7h0M635.6 395.9h0M636.6 277.5h0M637.7 424.8h0M638.7 442.8h0M640 376.5h0M641 377.6h0M641.7 419.1h0M642.8 429.2h0M643.9 337.5h0M645.1 395.9h0M646.2 390.2h0M647.4 299.3h0M648.5 426.2h0M649.8 481.4h0M651.1 353h0M652.2 294.7h0M653 297.3h0M654.1 513.8h0M655.5 605.3h0M656.4 263.7h0M657.4 316.3h0M658.4 319.9h0M659.6 484.2h0M660.8 281.9h0M662.2 368.4h0M663.3 322.3h0M664.7 339.7h0M665.9 421.2h0M667.2 430.8h0M668.7 399h0M669.5 451.4h0M670.8 225.9h0M671.9 506.1h0M673.2 329.7h0M674.6 414.7h0M675.6 331.8h0M676.8 430.7h0M677.9 402h0M679 459.5h0M680 197.9h0M681.1 512.9h0M682 274.5h0M683.5 489.8h0M684.4 284.9h0M685.3 283.4h0M686.5 340h0M687.5 469.7h0M688.6 438.7h0M689.6 548.6h0M690.9 283.9h0M692.2 293.5h0M693.2 443h0M694.1 456.9h0M695.3 324.5h0M696.5 437.9h0M697.4 388.9h0M698.7 342.3h0M699.6 340.5h0M700.9 469.5h0M701.9 386.9h0M702.7 342.1h0M703.9 354.3h0M704.9 539h0M706.4 411.3h0M707.7 520.1h0M708.6 366.1h0M709.8 383.8h0M710.7 480.2h0M711.8 495.6h0M713 402.1h0M714.1 419.7h0M715.1 457.7h0M716.1 336.6h0M717.2 397.5h0M718.4 335.7h0M719.7 322h0M720.9 368.5h0M721.9 328.1h0M723 374.2h0M724.4 289.3h0M725.5 367.5h0M727 318.9h0M728.8 502.5h0M729.7 255.5h0M730.9 389.8h0M731.8 401.2h0M733.1 340.1h0M734.1 490.1h0M735.1 388h0M736.1 526.5h0M737.2 447.1h0M738.1 332.3h0M739.3 279.8h0M740.2 337h0M741.5 269.5h0M742.6 478.6h0M743.6 382.3h0M744.4 526h0M745.9 382.8h0M746.5 198h0M747.8 420.3h0M748.5 581.5h0M750 383.4h0M751.2 467.9h0M752.3 503.1h0M753.6 437.5h0M754.4 458.6h0M755.5 300h0M756.4 511.6h0M757.4 348.4h0M758.4 558.1h0M759.7 333.2h0M760.6 484.2h0M761.7 388.4h0M763.2 439.5h0M764.4 416h0M765.5 471.1h0M766.6 444.2h0M768 387.9h0M769.1 380.3h0M770 431.6h0M770.9 528.7h0M772.1 499.1h0M772.9 454.9h0M774.1 350.5h0M775.8 417h0M776.9 286h0M777.9 482.8h0M779.3 436.4h0M780.3 397.2h0M781.8 300h0M782.7 311.6h0M783.9 385.7h0M785.1 583.9h0M786.4 482h0M787.1 425h0M788.4 499.4h0M789.8 410.2h0M790.6 414.5h0M791.9 412.5h0M793 424.3h0M794.2 454h0M795.4 370.5h0M796.2 358.5h0M797.4 301.6h0M798.4 377.5h0M799.8 471.9h0M800.9 538.9h0M801.9 392.2h0M803.4 435.3h0M804.2 347.8h0M805.5 309.6h0M806.3 311.7h0M807.6 375.2h0M808.7 430.3h0M809.7 476.8h0M810.7 439.9h0M812.1 553h0M813.1 506.5h0M813.9 542.4h0M815.8 500h0M816.7 524.7h0M817.9 353.9h0M818.8 364.2h0M820.1 480.2h0M821.1 345.6h0M822.1 359.2h0M823.1 535h0M824.1 388.4h0M825.4 525.6h0M826.4 361h0M827.9 301.9h0M829.2 394.5h0M830.3 549.9h0M831.4 390.4h0M832.5 412.5h0M833.7 382.4h0M834.9 295h0M836 471h0M837.3 523.6h0M838.5 420.3h0M839.6 518.5h0M840.6 338.3h0M841.6 528.3h0M842.6 373.9h0M844.1 540.8h0M845.4 331.8h0M846.6 328h0M847.8 381.9h0M848.9 510.2h0M850.3 301.9h0M851.8 356.7h0M852.8 487.2h0M853.8 433.7h0M854.9 301.7h0M856 324.5h0M857 402.7h0M857.7 444.5h0M858.9 543.1h0M860 491.3h0M860.8 565.7h0M861.9 411.6h0M862.8 257.6h0M863.8 432.2h0M864.8 321.8h0M865.9 429.2h0M866.9 552.5h0M867.7 447.8h0M868.7 430.6h0M870 505h0M871 497.9h0M872.1 387.5h0M873.2 376.2h0M874.3 434h0M875.2 498.6h0M876.4 415h0M877.5 590.3h0M879.2 416h0M880.3 360.1h0M881.6 465.9h0M882.5 665.7h0M883.7 279.7h0M884.8 332.2h0M885.9 387.7h0M887.1 291.4h0M888.6 452.7h0M889.8 533.6h0M890.9 447.6h0M892.3 407.2h0M893.3 441.7h0M894.4 454.3h0M895.4 350.7h0M896.5 412.5h0M897.6 336.8h0M898.8 390.6h0M899.7 475.1h0M901.1 503.7h0M902.4 433h0M903.5 501.3h0M904.5 321.6h0M906.1 358.9h0M907.2 315.7h0M908.3 466.4h0M909.8 427.9h0M910.9 318.7h0M911.9 542h0M912.9 317.7h0M913.9 485h0M915.3 408.8h0M916.5 369.5h0M917.5 396.8h0M919 462h0M919.9 348.6h0M921.1 341.9h0M922.2 372.7h0M923.5 396.6h0M924.5 289.5h0M925.5 363h0M926.7 378.3h0M927.8 390.1h0M928.9 513.9h0M929.9 301.5h0M930.9 421.8h0M931.7 403.4h0M932.8 373.6h0M934.2 408h0M935 303.7h0M936.3 438.3h0M937.4 458h0M938.2 520.5h0M939.3 460.3h0M940.7 494.7h0M941.8 281.7h0M943 511h0M944.1 290.2h0M945.3 500.3h0M946.6 298.9h0M947.4 543.7h0M948.3 337.1h0M949.7 308.8h0M950.9 272.3h0M951.7 367.2h0M953 536.6h0M954.2 448.8h0M955.3 369.1h0M956.8 257.8h0M957.7 382.9h0M958.9 284h0M959.9 538.8h0M961.2 492.4h0M962.4 303.1h0M963.6 446.6h0M964.6 220.8h0M965.6 342.2h0M967 369.8h0M968.3 464.2h0M969.4 330.6h0M970.6 477.8h0M971.6 461.7h0M972.7 311h0M973.7 463.7h0M974.6 498.1h0M975.5 418.5h0M976.6 369.3h0M977.7 468.2h0M978.9 354.3h0M980.2 509.5h0M981.3 345.1h0M982.7 245.4h0M984 355.9h0M984.8 250.1h0M985.9 286h0M986.9 494.1h0M988.2 307.7h0M989.3 587.4h0M990.6 497.8h0M991.6 426.1h0M992.8 268.4h0M993.9 369.3h0M994.9 346.8h0M996.6 501.9h0M997.8 417.8h0M999.3 465.9h0"/><path stroke="rgb(85,160,92)" stroke-opacity="0.4" stroke-width="2.6" d="M122 532.3h0M123 389.1h0M124.1 342.3h0M125.2 377.5h0M126.3 416.1h0M127.4 314.7h0M128.2 435.5h0M129.2 286.4h0M130.4 391.1h0M131.3 229.3h0M133.6 235.7h0M134.7 374.9h0M136.4 434.3h0M137.7 517.2h0M138.9 334h0M139.9 231.2h0M140.5 605.3h0M142.3 226.8h0M143.2 352.7h0M144.8 414h0M146 313.5h0M147.5 301.9h0M148.5 369.3h0M149.9 378.6h0M150.9 261h0M152.3 284.2h0M153.6 315.6h0M154.5 344.6h0M155.5 312.2h0M156.5 189h0M157.7 477.6h0M158.5 242.9h0M159.7 327.6h0M160.9 447.8h0M161.9 343.6h0M163.2 501.1h0M163.9 352.5h0M165.2 518.6h0M166.2 290.9h0M167.1 554h0M168.1 420h0M169.7 302h0M170.7 383.3h0M171.7 289.3h0M172.8 346.5h0M173.8 422.5h0M175.1 491.2h0M176 326.7h0M177.5 456.8h0M178.5 475.9h0M179.6 476h0M180.7 376.5h0M181.7 497h0M182.7 235.4h0M184.2 311.7h0M185.6 408.5h0M187.5 282.9h0M188.4 338.5h0M189.3 288.9h0M190.5 441.2h0M192 344.2h0M193.5 426.1h0M194.4 264.6h0M195.6 297h0M196.4 291.9h0M197.6 287.5h0M198.5 309.1h0M199.9 312.2h0M201 263h0M201.9 341.4h0M203 288.1h0M204 445.6h0M205.1 337.8h0M206.3 314.3h0M207.3 433h0M208.2 515.5h0M209.2 492.5h0M210.7 439.9h0M211.7 372.6h0M212.7 364.2h0M214.2 567.2h0M215.1 448.3h0M216.2 416.9h0M217.4 478.4h0M218.5 591.9h0M219.5 286.5h0M220.4 317.2h0M221.4 445.7h0M222.5 334.4h0M223.4 427.1h0M225.1 448.2h0M226 366.9h0M227 385.1h0M228.1 406.4h0M229.2 453.8h0M230.2 455.5h0M231.4 428h0M232.5 434.5h0M233.4 321.8h0M234.7 384h0M236.2 395.6h0M237.2 352.4h0M238.3 310.3h0M239.3 444.2h0M240.2 414.2h0M241.4 378.5h0M242.2 386.6h0M243.6 345.6h0M244.6 387.1h0M246.1 304.6h0M247.4 288.3h0M248.4 517h0M249.3 538.3h0M250.4 332.3h0M251.6 364h0M253.2 513.2h0M254 517.1h0M255.5 410.4h0M256.5 452.2h0M257.5 390.6h0M258.6 328.4h0M259.9 422h0M261 377.1h0M261.9 500.6h0M263.1 377.1h0M264.3 369.1h0M265.3 498.4h0M266.2 544.3h0M267.2 401.2h0M268.2 394.4h0M269.3 502h0M270.7 387.2h0M271.6 432.2h0M272.7 393.2h0M273.7 497.9h0M275 348.6h0M276 372.6h0M277.3 313.6h0M278.4 470.4h0M279.7 246.1h0M280.7 256.3h0M281.6 426.7h0M283.1 425.3h0M284.2 489.3h0M284.9 372.8h0M286 513.8h0M287.2 357.6h0M288.1 416h0M289.5 336.6h0M290.9 432.8h0M292.1 289.1h0M293.5 358.8h0M294.5 324.4h0M295.6 353.1h0M296.6 482.2h0M297.7 289.3h0M298.7 396.5h0M299.8 278h0M300.7 479h0M301.9 253.3h0M302.8 372.8h0M303.7 342.6h0M305.1 410.5h0M306 444.3h0M307.2 367.2h0M308.8 424.2h0M309.7 434.5h0M311.4 457.8h0M312.5 329.7h0M313.5 375h0M314.6 366.2h0M315.7 372.3h0M316.8 328.1h0M317.8 574.2h0M318.8 237.2h0M320 270.5h0M321.5 338.7h0M322.8 327.6h0M324.2 584.3h0M325.1 460.6h0M326.2 444.6h0M327.3 329.9h0M328.4 442.3h0M329.6 317.6h0M330.8 344.3h0M331.7 319h0M333 420.6h0M334 279.5h0M335.2 344.6h0M336 255.7h0M336.9 272.1h0M338.1 356.7h0M339.2 373.7h0M340.1 311.5h0M341.1 507h0M342.6 461.4h0M344 320.2h0M345.1 420.1h0M346.4 331.7h0M347.2 423.2h0M348.3 433.3h0M349.6 324.1h0M350.8 446.2h0M351.7 461.3h0M353 321.8h0M353.8 255h0M355.1 366.5h0M356.1 297.9h0M357.6 341.4h0M358.5 273.4h0M359.4 286.7h0M360.6 368.1h0M361.3 330.6h0M362.5 328.9h0M363.5 488.8h0M364.3 460.5h0M365.6 501.5h0M366.3 499h0M367.4 344.8h0M368.5 367.1h0M369.7 404.9h0M371 583.7h0M372.2 485.7h0M373 467.2h0M374.2 373.1h0M375 413.1h0M376.2 409.4h0M377.8 429.9h0M378.7 469h0M379.9 341.6h0M381.7 392.7h0M382.6 469.6h0M383.7 334.5h0M384.7 413.4h0M386.1 406.3h0M387.1 401.3h0M388.1 358.1h0M389.3 389.7h0M391 519h0M392.3 468.7h0M393.2 404.7h0M394.5 373.5h0M395.7 378.2h0M397 368h0M398.4 462.8h0M400 551.8h0M400.9 538.1h0M401.9 512.1h0M403.1 521.4h0M404 261.1h0M405.1 288.8h0M406.8 323.2h0M407.7 408.5h0M408.7 427.4h0M409.8 472h0M411.1 344.9h0M412.1 445.8h0M413.4 339.1h0M414.6 336.5h0M415.5 373.7h0M416.7 385.8h0M417.8 310.4h0M419.4 318.7h0M420.2 392h0M421.4 476.8h0M422.2 310.7h0M423.2 377.2h0M424.4 403h0M425.8 469.5h0M426.7 508.3h0M428 457.7h0M428.8 410.6h0M430 396.8h0M431.3 414.6h0M432.3 492.6h0M433.6 449.4h0M435 307.2h0M436.5 391.7h0M437.7 534h0M439 496.3h0M440.1 465.7h0M441 517h0M442 506.4h0M443.3 587.4h0M444.2 332.2h0M445.3 315.3h0M446.5 352.1h0M447.6 304.2h0M448.5 377.4h0M449.5 428h0M450.6 365.3h0M451.7 408.6h0M452.8 321.2h0M453.8 461.3h0M454.8 336.3h0M456 377.2h0M457 510.8h0M458.4 462.6h0M459.8 437.5h0M460.9 286.9h0M462.1 272.3h0M463.1 312.7h0M464.3 318.9h0M465.3 528.9h0M466.6 381.8h0M467.5 351.7h0M469 414.7h0M470.1 362h0M471.4 354.5h0M472.4 443.9h0M473.1 284h0M474.4 348.6h0M475.1 303.8h0M476.1 376.7h0M477.2 358.1h0M478.3 498.5h0M479.6 319.1h0M480.5 348.2h0M481.5 129.8h0M482.6 353.8h0M483.8 509h0M485.2 359.1h0M486.4 281.3h0M487.5 395.5h0M488.7 561.1h0M490.4 540.7h0M491.7 385.4h0M492.6 496.1h0M493.8 428.9h0M494.9 383h0M496 431.6h0M496.9 490.3h0M498.4 507h0M499.3 530.2h0M500.3 526.1h0M501.1 288.6h0M502.3 344.9h0M503.3 390.9h0M504.2 202.9h0M505.3 439.4h0M506.5 352.4h0M507.5 428.3h0M508.4 423.8h0M509.9 354.6h0M511.1 379.3h0M512 370.3h0M513 262.1h0M514.2 494.5h0M515 419.6h0M515.9 254.2h0M517.2 432.6h0M518.8 406.9h0M520 493.8h0M521.3 466.2h0M522.3 449.7h0M523.8 417.8h0M524.9 385.5h0M526.5 468.8h0M527.4 474.3h0M528.5 561.2h0M529.4 459.1h0M530.5 372h0M531.6 455.4h0M532.6 391.2h0M533.8 281.7h0M534.9 399.6h0M536.4 489.3h0M537.6 524.9h0M538.5 422.1h0M539.7 523.3h0M541.3 371.3h0M542.4 461.4h0M543.3 352.8h0M544.1 444h0M545.3 294.4h0M546.3 299h0M547.9 411.6h0M548.5 180.7h0M549.8 242.6h0M550.7 307.1h0M552.2 297.6h0M553.3 443.8h0M554.5 463.1h0M555.3 508.4h0M556.5 447.2h0M557.4 510.6h0M558.3 454.5h0M559.6 439.2h0M560.6 456.2h0M561.6 366.5h0M562.6 473.5h0M563.5 436.6h0M564.7 230.5h0M566.1 381.1h0M567.3 493.6h0M568.3 325h0M569.6 418.9h0M570.4 345.3h0M571.6 351.8h0M572.6 424.4h0M573.7 528.1h0M574.8 306.2h0M576.3 330.6h0M577.2 351.5h0M578.7 363.3h0M579.6 370.1h0M581 421.8h0M582.1 433.2h0M583.3 465h0M584.2 415.6h0M585.3 347.1h0M586.6 359.4h0M587.6 314.3h0M588.5 513h0M589.5 407.9h0M590.6 465.7h0M592 443.8h0M593.1 535.5h0M594.2 310.2h0M595.6 545.4h0M596.8 285.8h0M597.8 524.2h0M599.1 519.8h0M600.2 276.5h0M601.1 493.9h0M602.1 481.3h0M603.5 370h0M604.6 311.9h0M605.5 480.9h0M606.5 361.7h0M608.1 453.7h0M609 243.6h0M610 384.1h0M611.1 423.7h0M612.2 448.8h0M613.1 418.6h0M614 354.2h0M615 514.2h0M615.9 327h0M617 427.2h0M618.2 403.6h0M619.3 531.9h0M620.5 330.4h0M621.5 187.7h0M623.1 383.9h0M624.1 368.6h0M625.4 372.5h0M626.7 418.2h0M627.7 489.2h0M628.9 320h0M630.1 482.2h0M631.3 380.8h0M632.3 396.7h0M633.3 355.9h0M634.4 357.7h0M635.6 395.9h0M636.6 277.5h0M637.7 424.8h0M638.7 442.8h0M640 376.5h0M641 377.6h0M641.7 419.1h0M642.8 429.2h0M643.9 337.5h0M645.1 395.9h0M646.2 390.2h0M647.4 299.3h0M648.5 426.2h0M649.8 481.4h0M651.1 353h0M652.2 294.7h0M653 297.3h0M654.1 513.8h0M655.5 605.3h0M656.4 263.7h0M657.4 316.3h0M658.4 319.9h0M659.6 484.2h0M660.8 281.9h0M662.2 368.4h0M663.3 322.3h0M664.7 339.7h0M665.9 421.2h0M667.2 430.8h0M668.7 399h0M669.5 451.4h0M670.8 225.9h0M671.9 506.1h0M673.2 329.7h0M674.6 414.7h0M675.6 331.8h0M676.8 430.7h0M677.9 402h0M679 459.5h0M680 197.9h0M681.1 512.9h0M682 274.5h0M683.5 489.8h0M684.4 284.9h0M685.3 283.4h0M686.5 340h0M687.5 469.7h0M688.6 438.7h0M689.6 548.6h0M690.9 283.9h0M692.2 293.5h0M693.2 443h0M694.1 456.9h0M695.3 324.5h0M696.5 437.9h0M697.4 388.9h0M698.7 342.3h0M699.6 340.5h0M700.9 469.5h0M701.9 386.9h0M702.7 342.1h0M703.9 354.3h0M704.9 539h0M706.4 411.3h0M707.7 520.1h0M708.6 366.1h0M709.8 383.8h0M710.7 480.2h0M711.8 495.6h0M713 402.1h0M714.1 419.7h0M715.1 457.7h0M716.1 336.6h0M717.2 397.5h0M718.4 335.7h0M719.7 322h0M720.9 368.5h0M721.9 328.1h0M723 374.2h0M724.4 289.3h0M725.5 367.5h0M727 318.9h0M728.8 502.5h0M729.7 255.5h0M730.9 389.8h0M731.8 401.2h0M733.1 340.1h0M734.1 490.1h0M735.1 388h0M736.1 526.5h0M737.2 447.1h0M738.1 332.3h0M739.3 279.8h0M740.2 337h0M741.5 269.5h0M742.6 478.6h0M743.6 382.3h0M744.4 526h0M745.9 382.8h0M746.5 198h0M747.8 420.3h0M748.5 581.5h0M750 383.4h0M751.2 467.9h0M752.3 503.1h0M753.6 437.5h0M754.4 458.6h0M755.5 300h0M756.4 511.6h0M757.4 348.4h0M758.4 558.1h0M759.7 333.2h0M760.6 484.2h0M761.7 388.4h0M763.2 439.5h0M764.4 416h0M765.5 471.1h0M766.6 444.2h0M768 387.9h0M769.1 380.3h0M770 431.6h0M770.9 528.7h0M772.1 499.1h0M772.9 454.9h0M774.1 350.5h0M775.8 417h0M776.9 286h0M777.9 482.8h0M779.3 436.4h0M780.3 397.2h0M781.8 300h0M782.7 311.6h0M783.9 385.7h0M785.1 583.9h0M786.4 482h0M787.1 425h0M788.4 499.4h0M789.8 410.2h0M790.6 414.5h0M791.9 412.5h0M793 424.3h0M794.2 454h0M795.4 370.5h0M796.2 358.5h0M797.4 301.6h0M798.4 377.5h0M799.8 471.9h0M800.9 538.9h0M801.9 392.2h0M803.4 435.3h0M804.2 347.8h0M805.5 309.6h0M806.3 311.7h0M807.6 375.2h0M808.7 430.3h0M809.7 476.8h0M810.7 439.9h0M812.1 553h0M813.1 506.5h0M813.9 542.4h0M815.8 500h0M816.7 524.7h0M817.9 353.9h0M818.8 364.2h0M820.1 480.2h0M821.1 345.6h0M822.1 359.2h0M823.1 535h0M824.1 388.4h0M825.4 525.6h0M826.4 361h0M827.9 301.9h0M829.2 394.5h0M830.3 549.9h0M831.4 390.4h0M832.5 412.5h0M833.7 382.4h0M834.9 295h0M836 471h0M837.3 523.6h0M838.5 420.3h0M839.6 518.5h0M840.6 338.3h0M841.6 528.3h0M842.6 373.9h0M844.1 540.8h0M845.4 331.8h0M846.6 328h0M847.8 381.9h0M848.9 510.2h0M850.3 301.9h0M851.8 356.7h0M852.8 487.2h0M853.8 433.7h0M854.9 301.7h0M856 324.5h0M857 402.7h0M857.7 444.5h0M858.9 543.1h0M860 491.3h0M860.8 565.7h0M861.9 411.6h0M862.8 257.6h0M863.8 432.2h0M864.8 321.8h0M865.9 429.2h0M866.9 552.5h0M867.7 447.8h0M868.7 430.6h0M870 505h0M871 497.9h0M872.1 387.5h0M873.2 376.2h0M874.3 434h0M875.2 498.6h0M876.4 415h0M877.5 590.3h0M879.2 416h0M880.3 360.1h0M881.6 465.9h0M882.5 665.7h0M883.7 279.7h0M884.8 332.2h0M885.9 387.7h0M887.1 291.4h0M888.6 452.7h0M889.8 533.6h0M890.9 447.6h0M892.3 407.2h0M893.3 441.7h0M894.4 454.3h0M895.4 350.7h0M896.5 412.5h0M897.6 336.8h0M898.8 390.6h0M899.7 475.1h0M901.1 503.7h0M902.4 433h0M903.5 501.3h0M904.5 321.6h0M906.1 358.9h0M907.2 315.7h0M908.3 466.4h0M909.8 427.9h0M910.9 318.7h0M911.9 542h0M912.9 317.7h0M913.9 485h0M915.3 408.8h0M916.5 369.5h0M917.5 396.8h0M919 462h0M919.9 348.6h0M921.1 341.9h0M922.2 372.7h0M923.5 396.6h0M924.5 289.5h0M925.5 363h0M926.7 378.3h0M927.8 390.1h0M928.9 513.9h0M929.9 301.5h0M930.9 421.8h0M931.7 403.4h0M932.8 373.6h0M934.2 408h0M935 303.7h0M936.3 438.3h0M937.4 458h0M938.2 520.5h0M939.3 460.3h0M940.7 494.7h0M941.8 281.7h0M943 511h0M944.1 290.2h0M945.3 500.3h0M946.6 298.9h0M947.4 543.7h0M948.3 337.1h0M949.7 308.8h0M950.9 272.3h0M951.7 367.2h0M953 536.6h0M954.2 448.8h0M955.3 369.1h0M956.8 257.8h0M957.7 382.9h0M958.9 284h0M959.9 538.8h0M961.2 492.4h0M962.4 303.1h0M963.6 446.6h0M964.6 220.8h0M965.6 342.2h0M967 369.8h0M968.3 464.2h0M969.4 330.6h0M970.6 477.8h0M971.6 461.7h0M972.7 311h0M973.7 463.7h0M974.6 498.1h0M975.5 418.5h0M976.6 369.3h0M977.7 468.2h0M978.9 354.3h0M980.2 509.5h0M981.3 345.1h0M982.7 245.4h0M984 355.9h0M984.8 250.1h0M985.9 286h0M986.9 494.1h0M988.2 307.7h0M989.3 587.4h0M990.6 497.8h0M991.6 426.1h0M992.8 268.4h0M993.9 369.3h0M994.9 346.8h0M996.6 501.9h0M997.8 417.8h0M999.3 465.9h0"/><path stroke="rgb(132,222,132)" stroke-opacity="0.58" stroke-width="5.4" d="M122.3 465.1h0M123.3 309.7h0M124.3 281.6h0M125.3 387.9h0M126.4 370.5h0M127.3 440.7h0M128.4 331.1h0M129.3 444.8h0M130.5 388.7h0M131.5 329.4h0M134 271.6h0M134.8 306.7h0M136.5 313h0M137.9 400.2h0M138.9 496.9h0M140.1 236.3h0M140.9 301.5h0M142.5 292.9h0M143.5 435.9h0M145.2 367.1h0M145.5 578.5h0M147.8 243.3h0M148.8 338.5h0M150.5 573.4h0M151.4 371h0M152.8 258.8h0M153.6 350.6h0M154.6 302.3h0M155.7 330.1h0M156.7 271.3h0M157.8 350.7h0M158.8 398.4h0M159.7 285.2h0M161 412.1h0M162.2 305.3h0M163.4 452.4h0M164.2 226.7h0M165.3 460h0M166.4 445.4h0M167.4 453.6h0M168.5 394.8h0M169.9 429.8h0M171 455.6h0M172 424.9h0M173.1 340h0M174.3 533.4h0M175.3 364.4h0M176.2 312.8h0M177.5 54.3h0M178.5 412.4h0M179.9 379.5h0M181 255.5h0M181.9 416.9h0M183.2 442.6h0M184.4 447.7h0M186.5 671.5h0M187.5 345.6h0M188.8 237.2h0M189.7 275.7h0M190.6 441.2h0M192.2 308.9h0M193.5 363.6h0M194.8 376.1h0M195.7 199.1h0M196.6 359.8h0M197.5 320.9h0M198.8 446.9h0M200.1 400.9h0M201.2 339.5h0M202.4 274.8h0M203.2 267.4h0M204.6 464.5h0M205.4 385.5h0M206.5 437.3h0M207.4 467.6h0M208.3 396.6h0M209.5 463.7h0M211 300.1h0M212.1 258.9h0M213.2 506.3h0M214.1 490.7h0M215.1 233.1h0M216.3 479h0M217.4 461.5h0M218.5 457.1h0M219.7 218.9h0M220.5 330.1h0M221.7 308.9h0M222.8 308.7h0M223.8 453.7h0M225.3 306.8h0M226.4 461.3h0M227.1 231.3h0M228.3 481h0M229.5 507.3h0M230.6 443.8h0M231.8 285.7h0M232.7 302.3h0M234 525.7h0M235.1 536.8h0M236.2 359.7h0M237.6 271.5h0M238.5 316.3h0M239.3 342.1h0M240.5 430.3h0M241.4 450.2h0M242.4 435.5h0M243.7 334.2h0M244.8 277.2h0M246.4 300.2h0M247.5 254h0M248.8 494h0M249.7 448.6h0M250.7 405.4h0M252 395.2h0M253.2 537h0M254.3 544.1h0M255.7 450.3h0M256.7 377.6h0M257.8 337.1h0M258.7 363.3h0M259.9 429.3h0M261.1 347.5h0M262.2 255.1h0M263.3 466.6h0M264.6 503.9h0M265.4 419h0M266.4 421.9h0M267.4 513.5h0M268.4 404.7h0M269.8 296.6h0M270.8 395.7h0M271.7 479.1h0M273 279.8h0M274 317.7h0M275 419.6h0M276.1 395.2h0M277.7 392.3h0M278.6 501.9h0M280 293.4h0M280.9 236.9h0M281.9 342.9h0M283.2 385.9h0M284.2 282.4h0M285.3 309h0M286.2 384.6h0M287.3 391.4h0M288.4 299.3h0M289.5 653.7h0M291.1 370.4h0M292.3 312.9h0M293.7 267h0M294.8 422.8h0M295.9 469.3h0M297 381.8h0M297.8 237.8h0M298.9 324.8h0M300 315.6h0M300.9 330.2h0M302 335.4h0M302.9 289.1h0M304 334.1h0M305.2 355h0M306.3 466.5h0M307.3 496.6h0M308.8 267.1h0M310.2 363.3h0M311.7 449.1h0M312.5 586.8h0M313.7 376.5h0M314.7 476.6h0M315.7 385.5h0M316.8 509.2h0M317.9 440.2h0M319 371.8h0M320.3 401.3h0M321.6 349.9h0M323.1 445.2h0M324.2 529.7h0M325.4 469.5h0M326.4 292.5h0M327.8 276.6h0M328.6 384.9h0M329.9 403.3h0M330.7 291.8h0M332 459.7h0M333.3 463.7h0M334.2 345.1h0M335.3 443.2h0M336.3 369.6h0M337.2 396.9h0M338.4 515h0M339.2 346.5h0M340.6 314h0M341.4 353.7h0M342.7 455.6h0M344.2 460.3h0M345.4 369.5h0M346.6 501.4h0M347.6 327.8h0M348.6 355.1h0M349.8 375.5h0M350.7 477.8h0M351.7 367.9h0M353 268.1h0M354.1 241.9h0M355.4 403.9h0M356.2 336.5h0M357.6 326.3h0M358.6 358h0M359.6 318.7h0M360.6 415.3h0M361.8 365.9h0M362.5 363h0M363.5 340.7h0M364.6 421h0M365.6 513.9h0M366.7 377.1h0M367.7 406.8h0M369 372h0M370.2 446.9h0M371.4 495.6h0M372.1 451.9h0M373.3 438.7h0M374.2 440.3h0M375.1 409.6h0M376.2 322h0M377.9 310h0M378.9 413.5h0M380.2 471.4h0M382 562.6h0M382.9 428.7h0M383.8 295.9h0M384.8 448.7h0M386.2 302h0M387.5 347.9h0M388.5 435.8h0M390.2 358.2h0M391 430.9h0M392.3 511.9h0M393.4 298.6h0M394.9 414.1h0M395.5 628.8h0M397.3 337.6h0M398.5 260.1h0M400.1 352.5h0M401.4 543.8h0M402.2 381.1h0M403.3 458h0M404.2 460.3h0M405.4 447.4h0M406.9 333.1h0M408.1 379.6h0M409.1 480.4h0M410.2 512.7h0M411.5 480.6h0M412.6 310h0M413.6 334.2h0M414.8 409.2h0M415.9 528.9h0M417 506.3h0M418.2 436.5h0M419.4 344h0M420.4 458.7h0M421.5 538.8h0M422.6 500.1h0M423.4 290.1h0M424.8 383.5h0M425.8 483h0M426.7 400.6h0M428.1 393.7h0M429.2 465.5h0M430 378.1h0M431.5 420.3h0M432.7 442.1h0M433.7 399.7h0M435.5 680h0M436.5 559.6h0M437.9 474.3h0M439.2 420.9h0M440.2 418.4h0M441.2 420.1h0M442.3 476.2h0M443.5 509.3h0M444.4 498h0M445.4 423.1h0M446.8 295.9h0M447.5 328.8h0M448.8 355.3h0M449.9 487.8h0M450.8 287.9h0M451.9 399.5h0M452.9 288.6h0M454 373.6h0M455.1 417.4h0M456.2 455.9h0M457.2 488.3h0M458.6 530.5h0M460.1 378.9h0M461.2 330.9h0M462.1 339.2h0M463.6 368.8h0M464.4 434.5h0M465.5 423.5h0M466.6 333h0M467.5 181h0M469.1 393.7h0M470.2 264h0M471.5 508.1h0M472.5 388.4h0M473.5 238h0M474.5 476.7h0M475.4 389.5h0M476.5 311.1h0M477.4 353.4h0M478.4 560.6h0M479.5 440.3h0M480.6 253h0M481.7 252.3h0M482.8 293.8h0M484 408.1h0M485.6 463.4h0M486.8 374.5h0M487.5 481.5h0M488.8 510.8h0M490.5 382.7h0M491.9 409.9h0M492.9 354.4h0M494.1 263.8h0M494.9 502.8h0M496 453.4h0M497.1 332.6h0M498.6 498.3h0M499.4 453.3h0M500.5 459.3h0M501.3 296.6h0M502.4 313h0M503.3 414h0M504.6 409.2h0M505.5 390h0M506.6 285.4h0M507.6 420.3h0M508.6 413.6h0M510.2 403.5h0M511.4 268.3h0M512.3 352.8h0M513.1 284.8h0M514.2 401.1h0M515.1 290.4h0M516.4 329.8h0M517.3 440.8h0M519.1 317.6h0M520.3 277.1h0M521.6 388h0M522.3 314.8h0M523.9 495.8h0M525.2 263.9h0M526.7 373.7h0M527.5 351.3h0M528.7 322.2h0M529.6 421.7h0M530.7 499.7h0M531.6 371.9h0M532.8 521.7h0M533.9 476.8h0M535.3 519h0M536.8 497.8h0M538 560.5h0M538.9 478.8h0M540.3 410.9h0M541.3 381.4h0M542.4 451.9h0M543.5 575h0M544.3 330.8h0M545.5 312.3h0M546.5 192.2h0M548.2 477.5h0M549 331.4h0M550 426.2h0M551 356.9h0M552.6 313.8h0M553.7 316.3h0M554.6 560.6h0M555.5 353.6h0M556.5 371.4h0M557.7 581h0M558.7 480.9h0M559.5 510.6h0M560.6 459.9h0M561.6 371.4h0M562.5 298.4h0M563.9 292.9h0M565.2 281.8h0M566.5 464.3h0M567.3 342.9h0M568.5 436.4h0M569.7 298.9h0M570.5 204.9h0M571.5 573.4h0M572.9 269h0M573.9 472.3h0M575.1 265.9h0M576.5 484.4h0M577.5 373.2h0M578.7 237.6h0M580 490.1h0M581.2 441.7h0M582.2 344.1h0M583.5 392.4h0M584.5 445.3h0M585.6 315.3h0M586.7 375.6h0M587.9 352.7h0M588.8 437.5h0M589.8 354.7h0M591 357h0M592.4 235.9h0M593.6 541.4h0M594.5 411.9h0M595.6 516.2h0M597 331.7h0M598.1 470.5h0M599.3 404.8h0M600.4 317.4h0M601.2 357.2h0M602.5 195.7h0M603.6 436.2h0M604.9 329.5h0M605.9 293.7h0M607.1 451.2h0M608.2 333.5h0M609.4 291.7h0M610.2 502.4h0M611.2 520.4h0M612.2 499.2h0M613.4 534.5h0M614.2 362.1h0M615.3 262.9h0M616.1 511.3h0M617.3 448.6h0M618.4 392.4h0M619.3 336h0M620.6 449.3h0M622 265.9h0M623.3 336.5h0M624.1 401.5h0M625.6 460.1h0M626.9 447.8h0M627.8 411.9h0M629.1 319.7h0M630.4 433.2h0M631.5 379.9h0M632.4 350.1h0M633.6 271.5h0M634.7 407.7h0M635.7 460.4h0M636.7 274.1h0M638 381.8h0M638.9 302.6h0M640.2 349h0M641 280.4h0M642 524.3h0M643.2 528.9h0M644.3 423.2h0M645.4 378.2h0M646.4 358.7h0M647.5 267.6h0M648.8 355.5h0M650.2 291.5h0M651.3 473.6h0M652.2 426.5h0M653.1 292.6h0M654.4 441.7h0M655.6 308.7h0M656.5 200.1h0M657.6 317.1h0M658.7 370.1h0M659.8 432.4h0M660.9 230.6h0M662.4 341h0M663.8 333.3h0M664.9 289h0M666.2 481.4h0M667.5 417.7h0M668.8 413.2h0M669.9 340h0M670.7 459.5h0M672.2 489.4h0M673.4 515.5h0M674.7 528.8h0M675.9 430.9h0M677.2 198.7h0M678.1 491.1h0M679.2 261.9h0M680.3 402.9h0M681.3 258.1h0M682.4 367.8h0M683.5 476.5h0M684.7 329h0M685.5 423.8h0M686.9 459.6h0M687.8 441.7h0M688.9 443h0M689.7 408.9h0M691.5 604.6h0M692.4 467.4h0M693.4 375.1h0M694.5 457.8h0M695.5 274h0M696.8 455.2h0M697.8 411.6h0M698.8 309h0M699.9 400.7h0M701.1 357.6h0M702 276.7h0M703 381.8h0M704 448.9h0M705.2 480.9h0M706.7 482.8h0M707.8 538.1h0M708.9 348.6h0M710.2 323.4h0M710.9 317.3h0M712.2 238.9h0M713.5 146.8h0M714.2 346h0M715.3 419h0M716.3 352.9h0M717.3 323.3h0M718.7 374.8h0M720.1 461.3h0M721 332.7h0M722.4 574.3h0M723.4 471.1h0M724.5 244.3h0M725.9 497.1h0M727 370.8h0M728.9 525.5h0M729.8 314.8h0M730.9 465.5h0M732.1 292h0M733.3 507h0M734.3 490.6h0M735.2 468.4h0M736.1 284.7h0M737.2 458.3h0M738.2 390.5h0M739.4 479.9h0M740.4 463.5h0M741.5 480.8h0M742.6 289.4h0M743.8 372.2h0M744.7 524.9h0M746.2 448.8h0M747 488.1h0M748.1 510h0M749.1 474.9h0M750.3 507.2h0M751.3 423.7h0M752.6 423.6h0M753.5 365.1h0M754.5 449.8h0M755.6 232.9h0M756.7 539.7h0M757.5 311.6h0M758.6 468h0M759.7 556.4h0M760.9 446.9h0M761.9 420.3h0M763.4 499.2h0M764.5 576.4h0M765.6 306.8h0M766.7 557.7h0M767.9 468.8h0M769.3 444h0M770.4 485h0M771.2 523.6h0M772.4 411.9h0M773.2 402.9h0M774.6 489.5h0M775.9 336.1h0M777.2 337.9h0M778.2 387.7h0M779.6 543.4h0M780.7 546.1h0M782.2 379.2h0M783.1 265.4h0M784 279.9h0M785.5 564.3h0M786.5 342.9h0M787.5 509.1h0M788.6 483.2h0M789.8 460.6h0M791 463.6h0M792.1 376.2h0M793.3 513.3h0M794.3 438.6h0M795.3 391.9h0M796.5 414h0M797.3 484.8h0M798.8 503.8h0M800 500.3h0M800.9 484.7h0M802.3 505.9h0M803.3 432.5h0M804.6 311.7h0M805.5 363.9h0M806.6 343.2h0M807.7 400.5h0M808.8 503h0M809.5 591.2h0M810.8 458.2h0M812.1 479.4h0M813.3 457.9h0M814.5 515.8h0M815.8 309.4h0M817.1 430.7h0M818.1 483.3h0M819.2 416h0M820.2 482.3h0M821.2 349.7h0M822.2 467.7h0M823.2 557.9h0M824.6 424.9h0M825.6 485.3h0M827.1 400.7h0M828.1 279.7h0M829.4 437.2h0M830.5 516.4h0M831.8 477.6h0M832.8 346.9h0M833.7 429.7h0M835.1 467.3h0M836.2 331.8h0M837.7 553.6h0M838.8 332.2h0M839.8 389.1h0M840.9 487.7h0M842 471h0M843.1 446.9h0M844.4 488.8h0M845.6 459.2h0M846.9 464.3h0M847.9 488.7h0M849.1 550.4h0M850.4 460.2h0M851.8 267.4h0M852.7 501.3h0M854 409h0M855 327.3h0M856 425.2h0M857 336.2h0M858.1 488.4h0M859 424.6h0M860 444.6h0M861 528.3h0M861.9 339.9h0M863 375h0M864 395.9h0M865 338h0M866 491.2h0M867.1 430h0M868 413.2h0M868.9 407h0M870.1 393.4h0M871.1 400.7h0M872.6 422.8h0M873.5 455.3h0M874.4 329.2h0M875.4 452.6h0M876.4 270.1h0M878.2 326.7h0M879.5 500.7h0M880.6 307.5h0M881.8 293.1h0M882.7 339.6h0M884 446h0M884.7 513.9h0M885.9 381.6h0M887.3 360.6h0M888.8 317.7h0M890.2 511.6h0M891.2 422.4h0M892.4 394.2h0M893.7 388.2h0M894.6 457.9h0M895.6 276.1h0M896.7 470.4h0M897.8 446.8h0M898.9 442.5h0M899.9 488h0M901.5 504.7h0M902.7 422.5h0M903.7 502.8h0M904.9 298.3h0M906.4 392.3h0M907.5 430.2h0M908.6 478.2h0M910.1 410.1h0M911 250.6h0M912.2 425.6h0M913.4 413h0M914.1 239h0M915.7 370.9h0M916.6 420.6h0M917.9 426.1h0M918.9 484.7h0M920.1 484.9h0M921.3 344h0M922.5 491.8h0M923.7 551.3h0M924.5 284h0M925.9 415.7h0M927 374.5h0M927.9 450.8h0M929.1 467.2h0M930 296.3h0M931 574.6h0M932 363.8h0M932.9 331.5h0M934.2 419h0M935.3 201.3h0M936.4 407.4h0M937.6 356.5h0M938.4 524.4h0M939.5 510.1h0M940.8 450.8h0M942 373.9h0M943.1 392.4h0M944.3 317.6h0M945.5 344.1h0M946.7 386.6h0M947.8 378.5h0M948.7 404h0M950 504.3h0M951.1 336.2h0M952.1 463.7h0M953.2 442.8h0M954.5 426.3h0M955.5 333h0M956.8 372.5h0M957.9 399.4h0M959.1 391.5h0M960.2 384.8h0M961.3 357.2h0M962.7 304.7h0M963.6 375.9h0M964.7 232.5h0M965.8 434.1h0M967.3 354h0M968.3 390.5h0M969.9 461.6h0M970.7 452.9h0M971.8 373.1h0M972.9 347.3h0M973.7 243h0M975 363.4h0M975.7 401.4h0M976.9 372.7h0M977.9 446.3h0M979.6 521.3h0M980.4 344.7h0M981.4 382.3h0M982.9 475.6h0M984.1 255.4h0M985.1 374.7h0M986.3 306.4h0M987.5 405.4h0M988.3 278.4h0M989.3 352.5h0M990.5 468.1h0M991.6 338.6h0M993 380.5h0M994.3 391.6h0M995.2 463h0M996.6 502.7h0M998 337.7h0M999.3 526.8h0"/><path stroke="rgb(85,160,92)" stroke-opacity="0.4" stroke-width="2.6" d="M122.3 465.1h0M123.3 309.7h0M124.3 281.6h0M125.3 387.9h0M126.4 370.5h0M127.3 440.7h0M128.4 331.1h0M129.3 444.8h0M130.5 388.7h0M131.5 329.4h0M134 271.6h0M134.8 306.7h0M136.5 313h0M137.9 400.2h0M138.9 496.9h0M140.1 236.3h0M140.9 301.5h0M142.5 292.9h0M143.5 435.9h0M145.2 367.1h0M145.5 578.5h0M147.8 243.3h0M148.8 338.5h0M150.5 573.4h0M151.4 371h0M152.8 258.8h0M153.6 350.6h0M154.6 302.3h0M155.7 330.1h0M156.7 271.3h0M157.8 350.7h0M158.8 398.4h0M159.7 285.2h0M161 412.1h0M162.2 305.3h0M163.4 452.4h0M164.2 226.7h0M165.3 460h0M166.4 445.4h0M167.4 453.6h0M168.5 394.8h0M169.9 429.8h0M171 455.6h0M172 424.9h0M173.1 340h0M174.3 533.4h0M175.3 364.4h0M176.2 312.8h0M177.5 54.3h0M178.5 412.4h0M179.9 379.5h0M181 255.5h0M181.9 416.9h0M183.2 442.6h0M184.4 447.7h0M186.5 671.5h0M187.5 345.6h0M188.8 237.2h0M189.7 275.7h0M190.6 441.2h0M192.2 308.9h0M193.5 363.6h0M194.8 376.1h0M195.7 199.1h0M196.6 359.8h0M197.5 320.9h0M198.8 446.9h0M200.1 400.9h0M201.2 339.5h0M202.4 274.8h0M203.2 267.4h0M204.6 464.5h0M205.4 385.5h0M206.5 437.3h0M207.4 467.6h0M208.3 396.6h0M209.5 463.7h0M211 300.1h0M212.1 258.9h0M213.2 506.3h0M214.1 490.7h0M215.1 233.1h0M216.3 479h0M217.4 461.5h0M218.5 457.1h0M219.7 218.9h0M220.5 330.1h0M221.7 308.9h0M222.8 308.7h0M223.8 453.7h0M225.3 306.8h0M226.4 461.3h0M227.1 231.3h0M228.3 481h0M229.5 507.3h0M230.6 443.8h0M231.8 285.7h0M232.7 302.3h0M234 525.7h0M235.1 536.8h0M236.2 359.7h0M237.6 271.5h0M238.5 316.3h0M239.3 342.1h0M240.5 430.3h0M241.4 450.2h0M242.4 435.5h0M243.7 334.2h0M244.8 277.2h0M246.4 300.2h0M247.5 254h0M248.8 494h0M249.7 448.6h0M250.7 405.4h0M252 395.2h0M253.2 537h0M254.3 544.1h0M255.7 450.3h0M256.7 377.6h0M257.8 337.1h0M258.7 363.3h0M259.9 429.3h0M261.1 347.5h0M262.2 255.1h0M263.3 466.6h0M264.6 503.9h0M265.4 419h0M266.4 421.9h0M267.4 513.5h0M268.4 404.7h0M269.8 296.6h0M270.8 395.7h0M271.7 479.1h0M273 279.8h0M274 317.7h0M275 419.6h0M276.1 395.2h0M277.7 392.3h0M278.6 501.9h0M280 293.4h0M280.9 236.9h0M281.9 342.9h0M283.2 385.9h0M284.2 282.4h0M285.3 309h0M286.2 384.6h0M287.3 391.4h0M288.4 299.3h0M289.5 653.7h0M291.1 370.4h0M292.3 312.9h0M293.7 267h0M294.8 422.8h0M295.9 469.3h0M297 381.8h0M297.8 237.8h0M298.9 324.8h0M300 315.6h0M300.9 330.2h0M302 335.4h0M302.9 289.1h0M304 334.1h0M305.2 355h0M306.3 466.5h0M307.3 496.6h0M308.8 267.1h0M310.2 363.3h0M311.7 449.1h0M312.5 586.8h0M313.7 376.5h0M314.7 476.6h0M315.7 385.5h0M316.8 509.2h0M317.9 440.2h0M319 371.8h0M320.3 401.3h0M321.6 349.9h0M323.1 445.2h0M324.2 529.7h0M325.4 469.5h0M326.4 292.5h0M327.8 276.6h0M328.6 384.9h0M329.9 403.3h0M330.7 291.8h0M332 459.7h0M333.3 463.7h0M334.2 345.1h0M335.3 443.2h0M336.3 369.6h0M337.2 396.9h0M338.4 515h0M339.2 346.5h0M340.6 314h0M341.4 353.7h0M342.7 455.6h0M344.2 460.3h0M345.4 369.5h0M346.6 501.4h0M347.6 327.8h0M348.6 355.1h0M349.8 375.5h0M350.7 477.8h0M351.7 367.9h0M353 268.1h0M354.1 241.9h0M355.4 403.9h0M356.2 336.5h0M357.6 326.3h0M358.6 358h0M359.6 318.7h0M360.6 415.3h0M361.8 365.9h0M362.5 363h0M363.5 340.7h0M364.6 421h0M365.6 513.9h0M366.7 377.1h0M367.7 406.8h0M369 372h0M370.2 446.9h0M371.4 495.6h0M372.1 451.9h0M373.3 438.7h0M374.2 440.3h0M375.1 409.6h0M376.2 322h0M377.9 310h0M378.9 413.5h0M380.2 471.4h0M382 562.6h0M382.9 428.7h0M383.8 295.9h0M384.8 448.7h0M386.2 302h0M387.5 347.9h0M388.5 435.8h0M390.2 358.2h0M391 430.9h0M392.3 511.9h0M393.4 298.6h0M394.9 414.1h0M395.5 628.8h0M397.3 337.6h0M398.5 260.1h0M400.1 352.5h0M401.4 543.8h0M402.2 381.1h0M403.3 458h0M404.2 460.3h0M405.4 447.4h0M406.9 333.1h0M408.1 379.6h0M409.1 480.4h0M410.2 512.7h0M411.5 480.6h0M412.6 310h0M413.6 334.2h0M414.8 409.2h0M415.9 528.9h0M417 506.3h0M418.2 436.5h0M419.4 344h0M420.4 458.7h0M421.5 538.8h0M422.6 500.1h0M423.4 290.1h0M424.8 383.5h0M425.8 483h0M426.7 400.6h0M428.1 393.7h0M429.2 465.5h0M430 378.1h0M431.5 420.3h0M432.7 442.1h0M433.7 399.7h0M435.5 680h0M436.5 559.6h0M437.9 474.3h0M439.2 420.9h0M440.2 418.4h0M441.2 420.1h0M442.3 476.2h0M443.5 509.3h0M444.4 498h0M445.4 423.1h0M446.8 295.9h0M447.5 328.8h0M448.8 355.3h0M449.9 487.8h0M450.8 287.9h0M451.9 399.5h0M452.9 288.6h0M454 373.6h0M455.1 417.4h0M456.2 455.9h0M457.2 488.3h0M458.6 530.5h0M460.1 378.9h0M461.2 330.9h0M462.1 339.2h0M463.6 368.8h0M464.4 434.5h0M465.5 423.5h0M466.6 333h0M467.5 181h0M469.1 393.7h0M470.2 264h0M471.5 508.1h0M472.5 388.4h0M473.5 238h0M474.5 476.7h0M475.4 389.5h0M476.5 311.1h0M477.4 353.4h0M478.4 560.6h0M479.5 440.3h0M480.6 253h0M481.7 252.3h0M482.8 293.8h0M484 408.1h0M485.6 463.4h0M486.8 374.5h0M487.5 481.5h0M488.8 510.8h0M490.5 382.7h0M491.9 409.9h0M492.9 354.4h0M494.1 263.8h0M494.9 502.8h0M496 453.4h0M497.1 332.6h0M498.6 498.3h0M499.4 453.3h0M500.5 459.3h0M501.3 296.6h0M502.4 313h0M503.3 414h0M504.6 409.2h0M505.5 390h0M506.6 285.4h0M507.6 420.3h0M508.6 413.6h0M510.2 403.5h0M511.4 268.3h0M512.3 352.8h0M513.1 284.8h0M514.2 401.1h0M515.1 290.4h0M516.4 329.8h0M517.3 440.8h0M519.1 317.6h0M520.3 277.1h0M521.6 388h0M522.3 314.8h0M523.9 495.8h0M525.2 263.9h0M526.7 373.7h0M527.5 351.3h0M528.7 322.2h0M529.6 421.7h0M530.7 499.7h0M531.6 371.9h0M532.8 521.7h0M533.9 476.8h0M535.3 519h0M536.8 497.8h0M538 560.5h0M538.9 478.8h0M540.3 410.9h0M541.3 381.4h0M542.4 451.9h0M543.5 575h0M544.3 330.8h0M545.5 312.3h0M546.5 192.2h0M548.2 477.5h0M549 331.4h0M550 426.2h0M551 356.9h0M552.6 313.8h0M553.7 316.3h0M554.6 560.6h0M555.5 353.6h0M556.5 371.4h0M557.7 581h0M558.7 480.9h0M559.5 510.6h0M560.6 459.9h0M561.6 371.4h0M562.5 298.4h0M563.9 292.9h0M565.2 281.8h0M566.5 464.3h0M567.3 342.9h0M568.5 436.4h0M569.7 298.9h0M570.5 204.9h0M571.5 573.4h0M572.9 269h0M573.9 472.3h0M575.1 265.9h0M576.5 484.4h0M577.5 373.2h0M578.7 237.6h0M580 490.1h0M581.2 441.7h0M582.2 344.1h0M583.5 392.4h0M584.5 445.3h0M585.6 315.3h0M586.7 375.6h0M587.9 352.7h0M588.8 437.5h0M589.8 354.7h0M591 357h0M592.4 235.9h0M593.6 541.4h0M594.5 411.9h0M595.6 516.2h0M597 331.7h0M598.1 470.5h0M599.3 404.8h0M600.4 317.4h0M601.2 357.2h0M602.5 195.7h0M603.6 436.2h0M604.9 329.5h0M605.9 293.7h0M607.1 451.2h0M608.2 333.5h0M609.4 291.7h0M610.2 502.4h0M611.2 520.4h0M612.2 499.2h0M613.4 534.5h0M614.2 362.1h0M615.3 262.9h0M616.1 511.3h0M617.3 448.6h0M618.4 392.4h0M619.3 336h0M620.6 449.3h0M622 265.9h0M623.3 336.5h0M624.1 401.5h0M625.6 460.1h0M626.9 447.8h0M627.8 411.9h0M629.1 319.7h0M630.4 433.2h0M631.5 379.9h0M632.4 350.1h0M633.6 271.5h0M634.7 407.7h0M635.7 460.4h0M636.7 274.1h0M638 381.8h0M638.9 302.6h0M640.2 349h0M641 280.4h0M642 524.3h0M643.2 528.9h0M644.3 423.2h0M645.4 378.2h0M646.4 358.7h0M647.5 267.6h0M648.8 355.5h0M650.2 291.5h0M651.3 473.6h0M652.2 426.5h0M653.1 292.6h0M654.4 441.7h0M655.6 308.7h0M656.5 200.1h0M657.6 317.1h0M658.7 370.1h0M659.8 432.4h0M660.9 230.6h0M662.4 341h0M663.8 333.3h0M664.9 289h0M666.2 481.4h0M667.5 417.7h0M668.8 413.2h0M669.9 340h0M670.7 459.5h0M672.2 489.4h0M673.4 515.5h0M674.7 528.8h0M675.9 430.9h0M677.2 198.7h0M678.1 491.1h0M679.2 261.9h0M680.3 402.9h0M681.3 258.1h0M682.4 367.8h0M683.5 476.5h0M684.7 329h0M685.5 423.8h0M686.9 459.6h0M687.8 441.7h0M688.9 443h0M689.7 408.9h0M691.5 604.6h0M692.4 467.4h0M693.4 375.1h0M694.5 457.8h0M695.5 274h0M696.8 455.2h0M697.8 411.6h0M698.8 309h0M699.9 400.7h0M701.1 357.6h0M702 276.7h0M703 381.8h0M704 448.9h0M705.2 480.9h0M706.7 482.8h0M707.8 538.1h0M708.9 348.6h0M710.2 323.4h0M710.9 317.3h0M712.2 238.9h0M713.5 146.8h0M714.2 346h0M715.3 419h0M716.3 352.9h0M717.3 323.3h0M718.7 374.8h0M720.1 461.3h0M721 332.7h0M722.4 574.3h0M723.4 471.1h0M724.5 244.3h0M725.9 497.1h0M727 370.8h0M728.9 525.5h0M729.8 314.8h0M730.9 465.5h0M732.1 292h0M733.3 507h0M734.3 490.6h0M735.2 468.4h0M736.1 284.7h0M737.2 458.3h0M738.2 390.5h0M739.4 479.9h0M740.4 463.5h0M741.5 480.8h0M742.6 289.4h0M743.8 372.2h0M744.7 524.9h0M746.2 448.8h0M747 488.1h0M748.1 510h0M749.1 474.9h0M750.3 507.2h0M751.3 423.7h0M752.6 423.6h0M753.5 365.1h0M754.5 449.8h0M755.6 232.9h0M756.7 539.7h0M757.5 311.6h0M758.6 468h0M759.7 556.4h0M760.9 446.9h0M761.9 420.3h0M763.4 499.2h0M764.5 576.4h0M765.6 306.8h0M766.7 557.7h0M767.9 468.8h0M769.3 444h0M770.4 485h0M771.2 523.6h0M772.4 411.9h0M773.2 402.9h0M774.6 489.5h0M775.9 336.1h0M777.2 337.9h0M778.2 387.7h0M779.6 543.4h0M780.7 546.1h0M782.2 379.2h0M783.1 265.4h0M784 279.9h0M785.5 564.3h0M786.5 342.9h0M787.5 509.1h0M788.6 483.2h0M789.8 460.6h0M791 463.6h0M792.1 376.2h0M793.3 513.3h0M794.3 438.6h0M795.3 391.9h0M796.5 414h0M797.3 484.8h0M798.8 503.8h0M800 500.3h0M800.9 484.7h0M802.3 505.9h0M803.3 432.5h0M804.6 311.7h0M805.5 363.9h0M806.6 343.2h0M807.7 400.5h0M808.8 503h0M809.5 591.2h0M810.8 458.2h0M812.1 479.4h0M813.3 457.9h0M814.5 515.8h0M815.8 309.4h0M817.1 430.7h0M818.1 483.3h0M819.2 416h0M820.2 482.3h0M821.2 349.7h0M822.2 467.7h0M823.2 557.9h0M824.6 424.9h0M825.6 485.3h0M827.1 400.7h0M828.1 279.7h0M829.4 437.2h0M830.5 516.4h0M831.8 477.6h0M832.8 346.9h0M833.7 429.7h0M835.1 467.3h0M836.2 331.8h0M837.7 553.6h0M838.8 332.2h0M839.8 389.1h0M840.9 487.7h0M842 471h0M843.1 446.9h0M844.4 488.8h0M845.6 459.2h0M846.9 464.3h0M847.9 488.7h0M849.1 550.4h0M850.4 460.2h0M851.8 267.4h0M852.7 501.3h0M854 409h0M855 327.3h0M856 425.2h0M857 336.2h0M858.1 488.4h0M859 424.6h0M860 444.6h0M861 528.3h0M861.9 339.9h0M863 375h0M864 395.9h0M865 338h0M866 491.2h0M867.1 430h0M868 413.2h0M868.9 407h0M870.1 393.4h0M871.1 400.7h0M872.6 422.8h0M873.5 455.3h0M874.4 329.2h0M875.4 452.6h0M876.4 270.1h0M878.2 326.7h0M879.5 500.7h0M880.6 307.5h0M881.8 293.1h0M882.7 339.6h0M884 446h0M884.7 513.9h0M885.9 381.6h0M887.3 360.6h0M888.8 317.7h0M890.2 511.6h0M891.2 422.4h0M892.4 394.2h0M893.7 388.2h0M894.6 457.9h0M895.6 276.1h0M896.7 470.4h0M897.8 446.8h0M898.9 442.5h0M899.9 488h0M901.5 504.7h0M902.7 422.5h0M903.7 502.8h0M904.9 298.3h0M906.4 392.3h0M907.5 430.2h0M908.6 478.2h0M910.1 410.1h0M911 250.6h0M912.2 425.6h0M913.4 413h0M914.1 239h0M915.7 370.9h0M916.6 420.6h0M917.9 426.1h0M918.9 484.7h0M920.1 484.9h0M921.3 344h0M922.5 491.8h0M923.7 551.3h0M924.5 284h0M925.9 415.7h0M927 374.5h0M927.9 450.8h0M929.1 467.2h0M930 296.3h0M931 574.6h0M932 363.8h0M932.9 331.5h0M934.2 419h0M935.3 201.3h0M936.4 407.4h0M937.6 356.5h0M938.4 524.4h0M939.5 510.1h0M940.8 450.8h0M942 373.9h0M943.1 392.4h0M944.3 317.6h0M945.5 344.1h0M946.7 386.6h0M947.8 378.5h0M948.7 404h0M950 504.3h0M951.1 336.2h0M952.1 463.7h0M953.2 442.8h0M954.5 426.3h0M955.5 333h0M956.8 372.5h0M957.9 399.4h0M959.1 391.5h0M960.2 384.8h0M961.3 357.2h0M962.7 304.7h0M963.6 375.9h0M964.7 232.5h0M965.8 434.1h0M967.3 354h0M968.3 390.5h0M969.9 461.6h0M970.7 452.9h0M971.8 373.1h0M972.9 347.3h0M973.7 243h0M975 363.4h0M975.7 401.4h0M976.9 372.7h0M977.9 446.3h0M979.6 521.3h0M980.4 344.7h0M981.4 382.3h0M982.9 475.6h0M984.1 255.4h0M985.1 374.7h0M986.3 306.4h0M987.5 405.4h0M988.3 278.4h0M989.3 352.5h0M990.5 468.1h0M991.6 338.6h0M993 380.5h0M994.3 391.6h0M995.2 463h0M996.6 502.7h0M998 337.7h0M999.3 526.8h0"/><path stroke="rgb(132,222,132)" stroke-opacity="0.58" stroke-width="5.4" d="M122.3 415.9h0M123.3 310.1h0M124.8 265.7h0M125.5 347h0M126.7 310.6h0M127.8 451.6h0M128.8 278h0M129.7 477.3h0M130.8 315.7h0M132.2 286.5h0M133.9 428.1h0M135.2 400.8h0M136.7 536.1h0M138.3 354.1h0M139.3 428.7h0M140.2 352.7h0M141.3 334.9h0M142.5 119.8h0M144 369h0M145.3 431.9h0M146.4 376.7h0M147.9 263.1h0M149.1 435.2h0M150.4 343.1h0M151.4 461.5h0M152.8 250.2h0M154 454.9h0M154.9 265.9h0M155.9 429.4h0M156.8 272.8h0M157.9 417.9h0M159.1 371.9h0M160.2 250.2h0M161.5 447h0M162.6 245h0M163.5 439.2h0M164.4 461.7h0M165.5 357.6h0M166.6 466.3h0M167.8 373.2h0M168.8 387.8h0M170.3 231h0M171.3 455.6h0M172.2 354.7h0M173.3 345.6h0M174.3 410.9h0M175.4 319.6h0M176.4 380.6h0M177.8 324.6h0M178.7 384.6h0M180 344.9h0M181.1 462.1h0M182.2 536.2h0M183.5 412h0M184.5 255.2h0M186.6 334.6h0M188 356.7h0M189 340.7h0M189.8 360.1h0M190.9 291.8h0M192.4 243h0M193.9 420h0M195 301h0M195.8 348.1h0M196.8 414.3h0M197.9 298.2h0M199 324.8h0M200.5 441.7h0M201.4 371.5h0M202.6 295.5h0M203.5 419.5h0M204.5 578.5h0M205.8 373.1h0M206.6 347.9h0M207.5 189h0M208.6 415.2h0M210 365.4h0M211 384.6h0M212.1 316.3h0M213.3 556.2h0M214.4 312.2h0M215.6 361.3h0M216.5 494.9h0M217.7 530.2h0M218.8 398.6h0M220 465h0M220.8 323h0M221.8 377.7h0M223 312.6h0M223.5 195.5h0M225.5 250.3h0M226.6 318.7h0M227.4 449h0M228.5 337h0M229.8 392h0M231 293h0M231.8 361.8h0M232.8 452.4h0M233.9 394.2h0M235.2 411.2h0M236.5 393.8h0M237.6 383.6h0M238.6 357.3h0M239.6 358.2h0M240.8 334h0M241.6 396.8h0M242.7 386h0M243.9 424.5h0M245.2 416.2h0M246.6 312.9h0M247.6 286.2h0M248.9 388.1h0M249.8 287.9h0M251 288.1h0M252.1 409.2h0M253.3 389.5h0M254.5 419.2h0M255.9 575.2h0M257 414h0M258.1 349.7h0M259 441.8h0M260.3 442.1h0M261.3 557h0M262.4 295h0M263.4 381h0M264.6 450h0M265.7 331.9h0M266.7 493.9h0M267.8 443.2h0M268.6 329.7h0M269.9 426h0M271 346.5h0M272.1 334.1h0M273 337.4h0M274.4 579.8h0M275.5 175.4h0M276.5 414.8h0M277.8 476.8h0M278.7 461h0M280.1 219.9h0M281.1 285.5h0M282.1 370.9h0M283.5 382.2h0M284.6 268.5h0M285.5 398.8h0M286.3 374.5h0M287.5 405.4h0M288.7 519.3h0M289.8 375.5h0M291.4 227.3h0M292.4 434.5h0M293.8 225.9h0M295 458.2h0M296.1 334.5h0M297.1 278.4h0M298.1 383.8h0M298.9 222.1h0M300.1 487.3h0M301 372.8h0M302.3 449.2h0M303.1 375h0M304.3 479.4h0M305.4 393.9h0M306.3 470.3h0M307.5 446.3h0M309.2 440.5h0M310.6 409.7h0M311.8 521.4h0M313 408h0M313.8 471.3h0M315 424.6h0M316 554.7h0M316.9 352.4h0M318.3 325.1h0M319.2 359.8h0M320.6 533.2h0M321.9 401.6h0M323.1 283.6h0M324.4 550.3h0M325.6 386.9h0M326.7 310.6h0M327.9 294.2h0M328.9 510.7h0M330.1 433.9h0M331 300.5h0M332.4 385.7h0M333.5 509.4h0M334.5 437.1h0M335.4 453.4h0M336.6 407.4h0M337.3 414.3h0M338.5 341.3h0M339.6 547.7h0M340.5 314.2h0M341.6 310h0M343.3 360.6h0M344.5 378.9h0M345.7 485.9h0M346.7 490h0M347.8 362.9h0M348.7 438.4h0M349.9 487.6h0M351.1 341.9h0M352.1 324.1h0M353.1 408.9h0M354.1 380.7h0M355.3 399.4h0M356.6 514.6h0M358 278.7h0M358.8 290h0M360 420.2h0M360.8 259.7h0M361.8 364.1h0M362.9 283.1h0M363.7 244h0M364.5 605.7h0M365.8 456.8h0M366.7 368h0M368 503.5h0M369 417.3h0M370.4 530.8h0M371.3 559.9h0M372.3 355.7h0M373.3 407.4h0M374.3 468h0M375.4 390.1h0M377.1 294.4h0M378.3 301.5h0M379.2 471h0M380.5 361.7h0M381.9 475.4h0M383.1 539.8h0M384.2 485.6h0M385.4 456.6h0M386.5 331.4h0M387.7 408.8h0M388.6 348.1h0M390.4 265.4h0M391.4 313.2h0M392.5 470.9h0M393.7 279.3h0M395.2 318.2h0M396.2 415.5h0M397.7 389h0M398.7 322.2h0M400.3 421.1h0M401.4 494.2h0M402.4 321.1h0M403.5 487.7h0M404.5 280.2h0M406 409.4h0M407.2 392.9h0M408.1 557.6h0M409.3 411.8h0M410.2 363h0M411.5 436.2h0M412.7 304.2h0M413.9 283.1h0M415.2 248.8h0M416 483h0M417 464.5h0M418.6 418.4h0M419.6 392.2h0M420.8 293.6h0M421.7 470.9h0M422.6 399.1h0M423.7 340.6h0M424.9 316.6h0M426 423.9h0M426.5 559.6h0M428.2 520.2h0M429.4 435.3h0M430.1 580.2h0M431.6 273.8h0M433 405.7h0M434.2 355.8h0M435.9 379.1h0M437.1 488.2h0M438.2 379.1h0M439.3 472.3h0M440.4 442.6h0M441.4 451h0M442.4 461.1h0M443.7 503.1h0M444.7 326.1h0M446 336.8h0M446.8 222.4h0M448 217.3h0M449.2 489.9h0M450.2 409h0M451.1 381.5h0M452.2 545.7h0M453.3 311.4h0M454.4 341.1h0M455.4 422.1h0M456.6 249.4h0M457.3 428.9h0M459 387.3h0M460.2 293.3h0M461.3 287.4h0M462.6 248.5h0M463.6 453.9h0M464.7 422.1h0M465.5 482.4h0M467 287h0M467.9 338.1h0M469.4 285.7h0M470.4 260h0M471.7 409.9h0M472.7 476.7h0M473.8 362h0M474.6 532.2h0M475.5 224h0M476.6 281.2h0M477.6 433.4h0M478.7 451.2h0M479.8 426.1h0M480.7 312.9h0M482.1 379.8h0M482.9 284.7h0M484.4 226.8h0M485.5 171.4h0M486.8 512h0M488.1 243.6h0M489.3 433.1h0M491 228h0M492.2 384.5h0M492.9 457.5h0M494.1 230.6h0M495.2 464.9h0M496.2 521.3h0M497.5 340.3h0M498.7 511.8h0M499.6 506.3h0M500.6 297.2h0M501.6 386.9h0M502.7 389h0M503.7 416.9h0M504.6 324.8h0M505.7 278.2h0M506.9 398.6h0M507.7 444.4h0M508.9 280.2h0M510.1 308.2h0M511.4 346.8h0M512.3 292.3h0M513.5 486.8h0M514.4 504.5h0M515.5 396.5h0M516.3 409.2h0M517.6 314.7h0M519.5 271.5h0M520.5 475.8h0M521.6 322.2h0M522.7 408.6h0M523.5 193.9h0M525.6 217.5h0M526.8 339.5h0M527.8 393.6h0M528.7 456.4h0M529.9 329.7h0M530.9 478.8h0M532 487.4h0M533.1 300.4h0M534 500.9h0M535.5 436.6h0M537.1 545.3h0M538 438h0M539 532.6h0M540.7 252.1h0M541.8 314.8h0M542.7 462.1h0M543.6 301.9h0M544.7 329.6h0M545.6 460.9h0M546.8 377.5h0M548.3 453.4h0M549.3 349.3h0M550.4 406.1h0M551.3 282.2h0M552.7 241.6h0M553.8 337.9h0M554.8 444.4h0M555.7 391.5h0M557 450.4h0M557.9 546.9h0M558.9 401h0M559.9 301.4h0M560.9 287.8h0M561.9 422.4h0M562.9 471.4h0M564.1 326.3h0M565.4 557.4h0M566.7 403.6h0M567.7 343.9h0M568.9 443.8h0M569.8 370.9h0M570.9 239.9h0M571.9 515.6h0M573 242.6h0M573.9 375.2h0M575.5 565h0M576.8 331.1h0M578 454.1h0M578.9 291.1h0M580.3 417.5h0M581.4 333.3h0M582.5 495.3h0M583.6 239.1h0M584.8 314.3h0M585.9 403.1h0M587.1 408h0M588.2 239.6h0M589.1 486.5h0M590.2 329h0M591.2 276.6h0M592.6 308.2h0M593.5 396.2h0M594.7 416.1h0M595.8 435.3h0M597.3 351h0M598.3 439h0M599.5 289h0M600.5 348.1h0M601.3 311.9h0M602.3 420h0M603.8 514.1h0M605.1 409.3h0M606.1 268.1h0M607.3 478.9h0M608.3 279h0M609.4 381.8h0M610.4 483.2h0M611.4 414.1h0M612.5 152.6h0M613.4 483.8h0M614.5 275.7h0M615.5 333h0M616.5 346.5h0M617.5 330.8h0M618.7 438.3h0M619.9 437.1h0M620.8 449.9h0M622 384.6h0M623.4 418.7h0M624.4 381.6h0M625.8 444.4h0M627.1 443.7h0M628 308.9h0M629.5 280.8h0M630.8 493.8h0M631.6 424.1h0M632.8 552.3h0M633.7 297.9h0M634.8 315.4h0M635.9 362.9h0M637 327.6h0M638.2 493.8h0M639 366.1h0M640.2 322.1h0M641.4 270.8h0M642.3 476.4h0M643.6 452.5h0M644.4 439.7h0M645.7 469.5h0M646.7 327h0M647.7 374.1h0M648.8 431.8h0M650.4 290.5h0M651.4 437.2h0M652.3 314.2h0M653.5 281.7h0M654.6 490.9h0M656 284.8h0M656.9 399.1h0M657.8 353.3h0M659 554.4h0M660 427.5h0M661.4 327.4h0M662.4 353.2h0M664.1 426h0M665.2 319.3h0M666.6 512.9h0M667.6 416.5h0M669 409.5h0M669.9 355.1h0M670.9 416.6h0M672.5 297h0M673.6 503.8h0M675 386.5h0M676 359.3h0M677.4 337.9h0M678.4 380.1h0M679.5 262.7h0M680.3 311.5h0M681.3 236.2h0M682.6 448.7h0M683.8 369.8h0M685 289.7h0M686 287.4h0M687.1 425.6h0M688 411h0M689.2 284.9h0M690.2 331.7h0M691.5 449.4h0M692.7 306h0M693.8 264.9h0M694.7 340.5h0M695.5 258.3h0M696.8 313h0M698.1 504.2h0M699.1 262.4h0M699.9 275.2h0M701.1 452.8h0M702.3 409.9h0M703.3 362.3h0M704.5 509h0M705.5 312.1h0M706.8 454.1h0M708 435.4h0M709.1 356.6h0M710.3 438.5h0M711.4 250h0M712.4 260.4h0M713.3 416.9h0M714.4 405.5h0M715.3 528.1h0M716.6 448.5h0M717.7 494.4h0M718.8 371h0M720.3 340.7h0M721.2 419.9h0M722.5 395.9h0M723.3 377.1h0M724.8 225.2h0M726.1 479.4h0M727.3 492.8h0M729.1 432.8h0M730.1 438.4h0M731.2 438.9h0M732.6 303.5h0M733.4 560.5h0M734.4 285.3h0M735.5 289.4h0M736.5 569.3h0M737.5 515.7h0M738.7 476.2h0M739.6 313.2h0M740.8 249.8h0M741.9 381.4h0M742.7 296.4h0M743.9 502.6h0M745 385.1h0M746.1 517.6h0M747.2 369.6h0M748.2 530.9h0M749.2 542.9h0M750.4 400.5h0M751.5 618.4h0M752.8 412.7h0M753.9 271.1h0M754.8 361.9h0M755.8 250.6h0M756.7 405.1h0M757.8 347.3h0M758.5 189.5h0M760 516.6h0M761.1 468.7h0M762.3 422.7h0M763.7 402.7h0M764.7 506h0M765.8 544.7h0M766.9 385.7h0M768.2 456.9h0M769.5 346.4h0M770.3 368.6h0M771.4 420.6h0M772.5 469.6h0M773.5 376.3h0M774.8 586.5h0M776.3 489h0M777.4 505.2h0M778.8 539.5h0M779.9 576.2h0M781 455.2h0M782.3 400.4h0M783.3 441.3h0M784.2 415.3h0M785.5 453.4h0M786.8 329.1h0M787.7 532.8h0M788.9 367h0M790 418.3h0M791 472.4h0M792.1 514.7h0M793.6 387.4h0M794.5 468.4h0M795.7 526.3h0M796.7 380h0M797.5 380.3h0M799.2 321.9h0M800.2 389.5h0M801.3 452.1h0M802.3 524.7h0M803.5 332.2h0M804.8 439.3h0M806 479.8h0M806.9 410.7h0M808 376.8h0M809.1 355.4h0M810.1 275.8h0M811.1 551h0M812.5 461.7h0M813.6 305.3h0M814.7 479.8h0M815.9 320.3h0M817.3 425.8h0M818.4 528.7h0M819.1 431.7h0M820.5 505h0M821.5 399.4h0M822.5 361.5h0M823.5 525h0M825 315.3h0M825.9 296.4h0M827.1 382.3h0M828.3 357.7h0M829.8 527.9h0M830.9 371.9h0M832 565.7h0M832.9 313h0M834.3 238.5h0M835.1 460.5h0M836.2 489.5h0M838 364.4h0M838.9 340.9h0M839.7 472.6h0M841.1 564.1h0M842 504.1h0M843.3 336.7h0M844.9 338.3h0M845.8 518.9h0M847.1 268.7h0M848.3 555.5h0M849.3 432.3h0M850.6 407.4h0M852.2 418.6h0M852.9 433.1h0M854 336.9h0M855.3 500.1h0M856.4 466.9h0M857.2 489.4h0M858.2 292.4h0M859.1 386h0M860.2 457h0M861.2 445.8h0M862.3 471.6h0M863.2 550.9h0M864.3 421.7h0M865.3 338.6h0M866.3 523.7h0M867.4 398.1h0M868.4 583.1h0M869.3 323.8h0M870.5 307.1h0M871.7 432.4h0M872.7 322.2h0M873.7 305.1h0M874.5 471.3h0M875.6 388h0M876.9 381.1h0M878.5 372.4h0M879.7 368.4h0M880.8 296.1h0M882 332.9h0M882.8 379.8h0M884.1 357.8h0M885 356.7h0M886.2 319.2h0M887.7 311.9h0M889.3 448.3h0M890.3 290.1h0M891.3 310.7h0M892.8 396.9h0M893.9 508.6h0M894.8 524.6h0M895.8 390.2h0M896.9 484.5h0M898.2 492.6h0M899.1 536.2h0M900.1 329.8h0M901.6 478.9h0M902.8 532h0M903.8 401.6h0M905 312h0M906.8 314.5h0M907.6 533.6h0M909.4 285.3h0M910.3 275.4h0M911.4 291.5h0M912.4 498.7h0M913.4 513.4h0M914.5 346.3h0M915.9 475.3h0M916.9 312.2h0M918.1 363.7h0M919.3 392h0M920.5 333.3h0M921.4 286.2h0M922.6 388.6h0M923.9 498.3h0M925 500.6h0M926 522.3h0M927.1 384.3h0M928.4 508.5h0M929.4 492.3h0M930.3 408.8h0M931.3 531.2h0M932.3 389.6h0M933.2 340.6h0M934.5 478h0M935.6 381.2h0M936.8 345.7h0M937.7 425.9h0M938.6 383.7h0M939.7 382.4h0M940.9 484.7h0M942.3 265.2h0M943.4 295.2h0M944.6 287.6h0M945.7 335.9h0M946.9 405.2h0M948 279.7h0M948.9 279.5h0M950.1 483.3h0M951.2 430.8h0M952.2 559.4h0M953.4 499.1h0M954.5 416.2h0M955.8 489.7h0M957 496.7h0M958.1 347.8h0M959.3 394.4h0M960.1 439.6h0M961.7 347.4h0M962.7 349.2h0M963.5 626.5h0M965 298.2h0M966 462.8h0M967.6 256.7h0M968.8 435.7h0M970.2 391.4h0M970.9 305.7h0M972.2 369.8h0M972.9 308.8h0M974 349.7h0M975.1 475.1h0M976.2 237.6h0M977.1 362.5h0M978.3 394.6h0M979.7 369.5h0M980.5 151.9h0M981.8 311.9h0M983 406.2h0M984.4 361.4h0M985.2 378.1h0M986.4 434.3h0M987.8 343.3h0M988.5 400.7h0M989.7 416.4h0M990.9 278h0M991.9 420.2h0M993.4 304.4h0M994.5 366.6h0M995.5 334h0M996.8 404.3h0M998.3 310.7h0M999.7 477.7h0"/><path stroke="rgb(85,160,92)" stroke-opacity="0.4" stroke-width="2.6" d="M122.3 415.9h0M123.3 310.1h0M124.8 265.7h0M125.5 347h0M126.7 310.6h0M127.8 451.6h0M128.8 278h0M129.7 477.3h0M130.8 315.7h0M132.2 286.5h0M133.9 428.1h0M135.2 400.8h0M136.7 536.1h0M138.3 354.1h0M139.3 428.7h0M140.2 352.7h0M141.3 334.9h0M142.5 119.8h0M144 369h0M145.3 431.9h0M146.4 376.7h0M147.9 263.1h0M149.1 435.2h0M150.4 343.1h0M151.4 461.5h0M152.8 250.2h0M154 454.9h0M154.9 265.9h0M155.9 429.4h0M156.8 272.8h0M157.9 417.9h0M159.1 371.9h0M160.2 250.2h0M161.5 447h0M162.6 245h0M163.5 439.2h0M164.4 461.7h0M165.5 357.6h0M166.6 466.3h0M167.8 373.2h0M168.8 387.8h0M170.3 231h0M171.3 455.6h0M172.2 354.7h0M173.3 345.6h0M174.3 410.9h0M175.4 319.6h0M176.4 380.6h0M177.8 324.6h0M178.7 384.6h0M180 344.9h0M181.1 462.1h0M182.2 536.2h0M183.5 412h0M184.5 255.2h0M186.6 334.6h0M188 356.7h0M189 340.7h0M189.8 360.1h0M190.9 291.8h0M192.4 243h0M193.9 420h0M195 301h0M195.8 348.1h0M196.8 414.3h0M197.9 298.2h0M199 324.8h0M200.5 441.7h0M201.4 371.5h0M202.6 295.5h0M203.5 419.5h0M204.5 578.5h0M205.8 373.1h0M206.6 347.9h0M207.5 189h0M208.6 415.2h0M210 365.4h0M211 384.6h0M212.1 316.3h0M213.3 556.2h0M214.4 312.2h0M215.6 361.3h0M216.5 494.9h0M217.7 530.2h0M218.8 398.6h0M220 465h0M220.8 323h0M221.8 377.7h0M223 312.6h0M223.5 195.5h0M225.5 250.3h0M226.6 318.7h0M227.4 449h0M228.5 337h0M229.8 392h0M231 293h0M231.8 361.8h0M232.8 452.4h0M233.9 394.2h0M235.2 411.2h0M236.5 393.8h0M237.6 383.6h0M238.6 357.3h0M239.6 358.2h0M240.8 334h0M241.6 396.8h0M242.7 386h0M243.9 424.5h0M245.2 416.2h0M246.6 312.9h0M247.6 286.2h0M248.9 388.1h0M249.8 287.9h0M251 288.1h0M252.1 409.2h0M253.3 389.5h0M254.5 419.2h0M255.9 575.2h0M257 414h0M258.1 349.7h0M259 441.8h0M260.3 442.1h0M261.3 557h0M262.4 295h0M263.4 381h0M264.6 450h0M265.7 331.9h0M266.7 493.9h0M267.8 443.2h0M268.6 329.7h0M269.9 426h0M271 346.5h0M272.1 334.1h0M273 337.4h0M274.4 579.8h0M275.5 175.4h0M276.5 414.8h0M277.8 476.8h0M278.7 461h0M280.1 219.9h0M281.1 285.5h0M282.1 370.9h0M283.5 382.2h0M284.6 268.5h0M285.5 398.8h0M286.3 374.5h0M287.5 405.4h0M288.7 519.3h0M289.8 375.5h0M291.4 227.3h0M292.4 434.5h0M293.8 225.9h0M295 458.2h0M296.1 334.5h0M297.1 278.4h0M298.1 383.8h0M298.9 222.1h0M300.1 487.3h0M301 372.8h0M302.3 449.2h0M303.1 375h0M304.3 479.4h0M305.4 393.9h0M306.3 470.3h0M307.5 446.3h0M309.2 440.5h0M310.6 409.7h0M311.8 521.4h0M313 408h0M313.8 471.3h0M315 424.6h0M316 554.7h0M316.9 352.4h0M318.3 325.1h0M319.2 359.8h0M320.6 533.2h0M321.9 401.6h0M323.1 283.6h0M324.4 550.3h0M325.6 386.9h0M326.7 310.6h0M327.9 294.2h0M328.9 510.7h0M330.1 433.9h0M331 300.5h0M332.4 385.7h0M333.5 509.4h0M334.5 437.1h0M335.4 453.4h0M336.6 407.4h0M337.3 414.3h0M338.5 341.3h0M339.6 547.7h0M340.5 314.2h0M341.6 310h0M343.3 360.6h0M344.5 378.9h0M345.7 485.9h0M346.7 490h0M347.8 362.9h0M348.7 438.4h0M349.9 487.6h0M351.1 341.9h0M352.1 324.1h0M353.1 408.9h0M354.1 380.7h0M355.3 399.4h0M356.6 514.6h0M358 278.7h0M358.8 290h0M360 420.2h0M360.8 259.7h0M361.8 364.1h0M362.9 283.1h0M363.7 244h0M364.5 605.7h0M365.8 456.8h0M366.7 368h0M368 503.5h0M369 417.3h0M370.4 530.8h0M371.3 559.9h0M372.3 355.7h0M373.3 407.4h0M374.3 468h0M375.4 390.1h0M377.1 294.4h0M378.3 301.5h0M379.2 471h0M380.5 361.7h0M381.9 475.4h0M383.1 539.8h0M384.2 485.6h0M385.4 456.6h0M386.5 331.4h0M387.7 408.8h0M388.6 348.1h0M390.4 265.4h0M391.4 313.2h0M392.5 470.9h0M393.7 279.3h0M395.2 318.2h0M396.2 415.5h0M397.7 389h0M398.7 322.2h0M400.3 421.1h0M401.4 494.2h0M402.4 321.1h0M403.5 487.7h0M404.5 280.2h0M406 409.4h0M407.2 392.9h0M408.1 557.6h0M409.3 411.8h0M410.2 363h0M411.5 436.2h0M412.7 304.2h0M413.9 283.1h0M415.2 248.8h0M416 483h0M417 464.5h0M418.6 418.4h0M419.6 392.2h0M420.8 293.6h0M421.7 470.9h0M422.6 399.1h0M423.7 340.6h0M424.9 316.6h0M426 423.9h0M426.5 559.6h0M428.2 520.2h0M429.4 435.3h0M430.1 580.2h0M431.6 273.8h0M433 405.7h0M434.2 355.8h0M435.9 379.1h0M437.1 488.2h0M438.2 379.1h0M439.3 472.3h0M440.4 442.6h0M441.4 451h0M442.4 461.1h0M443.7 503.1h0M444.7 326.1h0M446 336.8h0M446.8 222.4h0M448 217.3h0M449.2 489.9h0M450.2 409h0M451.1 381.5h0M452.2 545.7h0M453.3 311.4h0M454.4 341.1h0M455.4 422.1h0M456.6 249.4h0M457.3 428.9h0M459 387.3h0M460.2 293.3h0M461.3 287.4h0M462.6 248.5h0M463.6 453.9h0M464.7 422.1h0M465.5 482.4h0M467 287h0M467.9 338.1h0M469.4 285.7h0M470.4 260h0M471.7 409.9h0M472.7 476.7h0M473.8 362h0M474.6 532.2h0M475.5 224h0M476.6 281.2h0M477.6 433.4h0M478.7 451.2h0M479.8 426.1h0M480.7 312.9h0M482.1 379.8h0M482.9 284.7h0M484.4 226.8h0M485.5 171.4h0M486.8 512h0M488.1 243.6h0M489.3 433.1h0M491 228h0M492.2 384.5h0M492.9 457.5h0M494.1 230.6h0M495.2 464.9h0M496.2 521.3h0M497.5 340.3h0M498.7 511.8h0M499.6 506.3h0M500.6 297.2h0M501.6 386.9h0M502.7 389h0M503.7 416.9h0M504.6 324.8h0M505.7 278.2h0M506.9 398.6h0M507.7 444.4h0M508.9 280.2h0M510.1 308.2h0M511.4 346.8h0M512.3 292.3h0M513.5 486.8h0M514.4 504.5h0M515.5 396.5h0M516.3 409.2h0M517.6 314.7h0M519.5 271.5h0M520.5 475.8h0M521.6 322.2h0M522.7 408.6h0M523.5 193.9h0M525.6 217.5h0M526.8 339.5h0M527.8 393.6h0M528.7 456.4h0M529.9 329.7h0M530.9 478.8h0M532 487.4h0M533.1 300.4h0M534 500.9h0M535.5 436.6h0M537.1 545.3h0M538 438h0M539 532.6h0M540.7 252.1h0M541.8 314.8h0M542.7 462.1h0M543.6 301.9h0M544.7 329.6h0M545.6 460.9h0M546.8 377.5h0M548.3 453.4h0M549.3 349.3h0M550.4 406.1h0M551.3 282.2h0M552.7 241.6h0M553.8 337.9h0M554.8 444.4h0M555.7 391.5h0M557 450.4h0M557.9 546.9h0M558.9 401h0M559.9 301.4h0M560.9 287.8h0M561.9 422.4h0M562.9 471.4h0M564.1 326.3h0M565.4 557.4h0M566.7 403.6h0M567.7 343.9h0M568.9 443.8h0M569.8 370.9h0M570.9 239.9h0M571.9 515.6h0M573 242.6h0M573.9 375.2h0M575.5 565h0M576.8 331.1h0M578 454.1h0M578.9 291.1h0M580.3 417.5h0M581.4 333.3h0M582.5 495.3h0M583.6 239.1h0M584.8 314.3h0M585.9 403.1h0M587.1 408h0M588.2 239.6h0M589.1 486.5h0M590.2 329h0M591.2 276.6h0M592.6 308.2h0M593.5 396.2h0M594.7 416.1h0M595.8 435.3h0M597.3 351h0M598.3 439h0M599.5 289h0M600.5 348.1h0M601.3 311.9h0M602.3 420h0M603.8 514.1h0M605.1 409.3h0M606.1 268.1h0M607.3 478.9h0M608.3 279h0M609.4 381.8h0M610.4 483.2h0M611.4 414.1h0M612.5 152.6h0M613.4 483.8h0M614.5 275.7h0M615.5 333h0M616.5 346.5h0M617.5 330.8h0M618.7 438.3h0M619.9 437.1h0M620.8 449.9h0M622 384.6h0M623.4 418.7h0M624.4 381.6h0M625.8 444.4h0M627.1 443.7h0M628 308.9h0M629.5 280.8h0M630.8 493.8h0M631.6 424.1h0M632.8 552.3h0M633.7 297.9h0M634.8 315.4h0M635.9 362.9h0M637 327.6h0M638.2 493.8h0M639 366.1h0M640.2 322.1h0M641.4 270.8h0M642.3 476.4h0M643.6 452.5h0M644.4 439.7h0M645.7 469.5h0M646.7 327h0M647.7 374.1h0M648.8 431.8h0M650.4 290.5h0M651.4 437.2h0M652.3 314.2h0M653.5 281.7h0M654.6 490.9h0M656 284.8h0M656.9 399.1h0M657.8 353.3h0M659 554.4h0M660 427.5h0M661.4 327.4h0M662.4 353.2h0M664.1 426h0M665.2 319.3h0M666.6 512.9h0M667.6 416.5h0M669 409.5h0M669.9 355.1h0M670.9 416.6h0M672.5 297h0M673.6 503.8h0M675 386.5h0M676 359.3h0M677.4 337.9h0M678.4 380.1h0M679.5 262.7h0M680.3 311.5h0M681.3 236.2h0M682.6 448.7h0M683.8 369.8h0M685 289.7h0M686 287.4h0M687.1 425.6h0M688 411h0M689.2 284.9h0M690.2 331.7h0M691.5 449.4h0M692.7 306h0M693.8 264.9h0M694.7 340.5h0M695.5 258.3h0M696.8 313h0M698.1 504.2h0M699.1 262.4h0M699.9 275.2h0M701.1 452.8h0M702.3 409.9h0M703.3 362.3h0M704.5 509h0M705.5 312.1h0M706.8 454.1h0M708 435.4h0M709.1 356.6h0M710.3 438.5h0M711.4 250h0M712.4 260.4h0M713.3 416.9h0M714.4 405.5h0M715.3 528.1h0M716.6 448.5h0M717.7 494.4h0M718.8 371h0M720.3 340.7h0M721.2 419.9h0M722.5 395.9h0M723.3 377.1h0M724.8 225.2h0M726.1 479.4h0M727.3 492.8h0M729.1 432.8h0M730.1 438.4h0M731.2 438.9h0M732.6 303.5h0M733.4 560.5h0M734.4 285.3h0M735.5 289.4h0M736.5 569.3h0M737.5 515.7h0M738.7 476.2h0M739.6 313.2h0M740.8 249.8h0M741.9 381.4h0M742.7 296.4h0M743.9 502.6h0M745 385.1h0M746.1 517.6h0M747.2 369.6h0M748.2 530.9h0M749.2 542.9h0M750.4 400.5h0M751.5 618.4h0M752.8 412.7h0M753.9 271.1h0M754.8 361.9h0M755.8 250.6h0M756.7 405.1h0M757.8 347.3h0M758.5 189.5h0M760 516.6h0M761.1 468.7h0M762.3 422.7h0M763.7 402.7h0M764.7 506h0M765.8 544.7h0M766.9 385.7h0M768.2 456.9h0M769.5 346.4h0M770.3 368.6h0M771.4 420.6h0M772.5 469.6h0M773.5 376.3h0M774.8 586.5h0M776.3 489h0M777.4 505.2h0M778.8 539.5h0M779.9 576.2h0M781 455.2h0M782.3 400.4h0M783.3 441.3h0M784.2 415.3h0M785.5 453.4h0M786.8 329.1h0M787.7 532.8h0M788.9 367h0M790 418.3h0M791 472.4h0M792.1 514.7h0M793.6 387.4h0M794.5 468.4h0M795.7 526.3h0M796.7 380h0M797.5 380.3h0M799.2 321.9h0M800.2 389.5h0M801.3 452.1h0M802.3 524.7h0M803.5 332.2h0M804.8 439.3h0M806 479.8h0M806.9 410.7h0M808 376.8h0M809.1 355.4h0M810.1 275.8h0M811.1 551h0M812.5 461.7h0M813.6 305.3h0M814.7 479.8h0M815.9 320.3h0M817.3 425.8h0M818.4 528.7h0M819.1 431.7h0M820.5 505h0M821.5 399.4h0M822.5 361.5h0M823.5 525h0M825 315.3h0M825.9 296.4h0M827.1 382.3h0M828.3 357.7h0M829.8 527.9h0M830.9 371.9h0M832 565.7h0M832.9 313h0M834.3 238.5h0M835.1 460.5h0M836.2 489.5h0M838 364.4h0M838.9 340.9h0M839.7 472.6h0M841.1 564.1h0M842 504.1h0M843.3 336.7h0M844.9 338.3h0M845.8 518.9h0M847.1 268.7h0M848.3 555.5h0M849.3 432.3h0M850.6 407.4h0M852.2 418.6h0M852.9 433.1h0M854 336.9h0M855.3 500.1h0M856.4 466.9h0M857.2 489.4h0M858.2 292.4h0M859.1 386h0M860.2 457h0M861.2 445.8h0M862.3 471.6h0M863.2 550.9h0M864.3 421.7h0M865.3 338.6h0M866.3 523.7h0M867.4 398.1h0M868.4 583.1h0M869.3 323.8h0M870.5 307.1h0M871.7 432.4h0M872.7 322.2h0M873.7 305.1h0M874.5 471.3h0M875.6 388h0M876.9 381.1h0M878.5 372.4h0M879.7 368.4h0M880.8 296.1h0M882 332.9h0M882.8 379.8h0M884.1 357.8h0M885 356.7h0M886.2 319.2h0M887.7 311.9h0M889.3 448.3h0M890.3 290.1h0M891.3 310.7h0M892.8 396.9h0M893.9 508.6h0M894.8 524.6h0M895.8 390.2h0M896.9 484.5h0M898.2 492.6h0M899.1 536.2h0M900.1 329.8h0M901.6 478.9h0M902.8 532h0M903.8 401.6h0M905 312h0M906.8 314.5h0M907.6 533.6h0M909.4 285.3h0M910.3 275.4h0M911.4 291.5h0M912.4 498.7h0M913.4 513.4h0M914.5 346.3h0M915.9 475.3h0M916.9 312.2h0M918.1 363.7h0M919.3 392h0M920.5 333.3h0M921.4 286.2h0M922.6 388.6h0M923.9 498.3h0M925 500.6h0M926 522.3h0M927.1 384.3h0M928.4 508.5h0M929.4 492.3h0M930.3 408.8h0M931.3 531.2h0M932.3 389.6h0M933.2 340.6h0M934.5 478h0M935.6 381.2h0M936.8 345.7h0M937.7 425.9h0M938.6 383.7h0M939.7 382.4h0M940.9 484.7h0M942.3 265.2h0M943.4 295.2h0M944.6 287.6h0M945.7 335.9h0M946.9 405.2h0M948 279.7h0M948.9 279.5h0M950.1 483.3h0M951.2 430.8h0M952.2 559.4h0M953.4 499.1h0M954.5 416.2h0M955.8 489.7h0M957 496.7h0M958.1 347.8h0M959.3 394.4h0M960.1 439.6h0M961.7 347.4h0M962.7 349.2h0M963.5 626.5h0M965 298.2h0M966 462.8h0M967.6 256.7h0M968.8 435.7h0M970.2 391.4h0M970.9 305.7h0M972.2 369.8h0M972.9 308.8h0M974 349.7h0M975.1 475.1h0M976.2 237.6h0M977.1 362.5h0M978.3 394.6h0M979.7 369.5h0M980.5 151.9h0M981.8 311.9h0M983 406.2h0M984.4 361.4h0M985.2 378.1h0M986.4 434.3h0M987.8 343.3h0M988.5 400.7h0M989.7 416.4h0M990.9 278h0M991.9 420.2h0M993.4 304.4h0M994.5 366.6h0M995.5 334h0M996.8 404.3h0M998.3 310.7h0M999.7 477.7h0"/></g><path fill="rgba(110,110,110,0.45)" d="M124.3 448.4l2.2 3.8h-4.4zM129.5 570.8l2.2 3.8h-4.4zM133.5 183.6l2.2 3.8h-4.4zM136.9 448.7l2.2 3.8h-4.4zM141.4 433l2.2 3.8h-4.4zM142 394.2l2.2 3.8h-4.4zM144.5 182.8l2.2 3.8h-4.4zM148.1 257.5l2.2 3.8h-4.4zM151.5 316.9l2.2 3.8h-4.4zM157.5 156.3l2.2 3.8h-4.4zM161.2 329.3l2.2 3.8h-4.4zM167 403.5l2.2 3.8h-4.4zM168.7 245.7l2.2 3.8h-4.4zM176.6 371.6l2.2 3.8h-4.4zM177.1 320.8l2.2 3.8h-4.4zM179.6 342.3l2.2 3.8h-4.4zM182.5 570.1l2.2 3.8h-4.4zM182.9 522.8l2.2 3.8h-4.4zM184.7 416.4l2.2 3.8h-4.4zM185.8 436.5l2.2 3.8h-4.4zM185.9 435.6l2.2 3.8h-4.4zM186.9 467.7l2.2 3.8h-4.4zM190.9 362.8l2.2 3.8h-4.4zM191.3 442.1l2.2 3.8h-4.4zM192.5 296.2l2.2 3.8h-4.4zM199.8 272.2l2.2 3.8h-4.4zM204.2 319.1l2.2 3.8h-4.4zM209.5 442.2l2.2 3.8h-4.4zM210.6 400.9l2.2 3.8h-4.4zM211.8 325.7l2.2 3.8h-4.4zM216.5 158.1l2.2 3.8h-4.4zM228.5 603.5l2.2 3.8h-4.4zM237.1 421.5l2.2 3.8h-4.4zM243.1 368.5l2.2 3.8h-4.4zM243.4 271.6l2.2 3.8h-4.4zM245.6 526.8l2.2 3.8h-4.4zM256.5 84.1l2.2 3.8h-4.4zM262.9 465.9l2.2 3.8h-4.4zM268.8 377.3l2.2 3.8h-4.4zM274.2 530.5l2.2 3.8h-4.4zM277.1 383.9l2.2 3.8h-4.4zM279.5 650.8l2.2 3.8h-4.4zM282.5 453.4l2.2 3.8h-4.4zM282.6 326.9l2.2 3.8h-4.4zM287.5 425.3l2.2 3.8h-4.4zM290.5 321.3l2.2 3.8h-4.4zM292.8 518.1l2.2 3.8h-4.4zM304.9 319.9l2.2 3.8h-4.4zM307.8 422.7l2.2 3.8h-4.4zM308.2 481.6l2.2 3.8h-4.4zM310.3 411.6l2.2 3.8h-4.4zM310.8 533.7l2.2 3.8h-4.4zM314.2 292.2l2.2 3.8h-4.4zM319.5 91l2.2 3.8h-4.4zM320.9 329.1l2.2 3.8h-4.4zM322.2 331.2l2.2 3.8h-4.4zM323.7 379.9l2.2 3.8h-4.4zM331.5 122.5l2.2 3.8h-4.4zM332.3 318.7l2.2 3.8h-4.4zM340.3 326.9l2.2 3.8h-4.4zM342.1 305l2.2 3.8h-4.4zM343 541.9l2.2 3.8h-4.4zM343.5 287.2l2.2 3.8h-4.4zM352.2 360.2l2.2 3.8h-4.4zM354.5 297.1l2.2 3.8h-4.4zM356.7 528.5l2.2 3.8h-4.4zM370.6 367.6l2.2 3.8h-4.4zM377.1 406.8l2.2 3.8h-4.4zM379.5 577l2.2 3.8h-4.4zM380.8 450.3l2.2 3.8h-4.4zM381.5 194.4l2.2 3.8h-4.4zM385.4 383.6l2.2 3.8h-4.4zM386.5 577l2.2 3.8h-4.4zM389.4 357.9l2.2 3.8h-4.4zM389.6 357.7l2.2 3.8h-4.4zM390 318.5l2.2 3.8h-4.4zM391.6 409.6l2.2 3.8h-4.4zM394 413.9l2.2 3.8h-4.4zM396 406.6l2.2 3.8h-4.4zM398.3 494.2l2.2 3.8h-4.4zM399.2 350.6l2.2 3.8h-4.4zM400.5 596.6l2.2 3.8h-4.4zM405.8 455.1l2.2 3.8h-4.4zM406.5 596.6l2.2 3.8h-4.4zM417.5 653.1l2.2 3.8h-4.4zM417.9 400.3l2.2 3.8h-4.4zM434.8 359l2.2 3.8h-4.4zM435.5 189.3l2.2 3.8h-4.4zM435.7 436.8l2.2 3.8h-4.4zM437.7 444.2l2.2 3.8h-4.4zM438.5 152.3l2.2 3.8h-4.4zM442.9 444.1l2.2 3.8h-4.4zM452.3 327l2.2 3.8h-4.4zM457.7 336.4l2.2 3.8h-4.4zM459.1 489.8l2.2 3.8h-4.4zM460.9 499.9l2.2 3.8h-4.4zM466.1 348.5l2.2 3.8h-4.4zM469.7 263.9l2.2 3.8h-4.4zM470.6 326.7l2.2 3.8h-4.4zM479.2 324.6l2.2 3.8h-4.4zM483.5 571.2l2.2 3.8h-4.4zM484.8 434.8l2.2 3.8h-4.4zM485.4 366.4l2.2 3.8h-4.4zM485.6 445.4l2.2 3.8h-4.4zM489 414.9l2.2 3.8h-4.4zM490.2 485.8l2.2 3.8h-4.4zM509.5 201.6l2.2 3.8h-4.4zM509.6 339.8l2.2 3.8h-4.4zM510.8 410.2l2.2 3.8h-4.4zM517.9 382.1l2.2 3.8h-4.4zM518.5 577l2.2 3.8h-4.4zM519.1 318.8l2.2 3.8h-4.4zM520.8 422.8l2.2 3.8h-4.4zM523.2 378.7l2.2 3.8h-4.4zM523.5 456.2l2.2 3.8h-4.4zM524.6 424l2.2 3.8h-4.4zM534.4 489.1l2.2 3.8h-4.4zM536.5 456.8l2.2 3.8h-4.4zM539.9 466.9l2.2 3.8h-4.4zM540.1 361.1l2.2 3.8h-4.4zM546.8 370l2.2 3.8h-4.4zM551.3 299.4l2.2 3.8h-4.4zM551.9 417.3l2.2 3.8h-4.4zM553.4 418.5l2.2 3.8h-4.4zM562.9 330.8l2.2 3.8h-4.4zM565.5 194.2l2.2 3.8h-4.4zM574.3 282.5l2.2 3.8h-4.4zM579.8 418.9l2.2 3.8h-4.4zM580.3 268.6l2.2 3.8h-4.4zM583.1 401l2.2 3.8h-4.4zM586.7 337.1l2.2 3.8h-4.4zM592.2 346.2l2.2 3.8h-4.4zM598.7 341.8l2.2 3.8h-4.4zM602.7 321.1l2.2 3.8h-4.4zM603.1 511.1l2.2 3.8h-4.4zM607 366.4l2.2 3.8h-4.4zM607.5 192.8l2.2 3.8h-4.4zM622.5 134.2l2.2 3.8h-4.4zM625.2 319.1l2.2 3.8h-4.4zM628.5 201.6l2.2 3.8h-4.4zM635.8 311.7l2.2 3.8h-4.4zM639.8 468.5l2.2 3.8h-4.4zM649.3 303.7l2.2 3.8h-4.4zM655.2 295.9l2.2 3.8h-4.4zM661.3 274.6l2.2 3.8h-4.4zM663.3 531.6l2.2 3.8h-4.4zM663.5 299.9l2.2 3.8h-4.4zM664.4 460.6l2.2 3.8h-4.4zM665.5 314.9l2.2 3.8h-4.4zM666.9 363.8l2.2 3.8h-4.4zM668.5 341.9l2.2 3.8h-4.4zM671.8 466.8l2.2 3.8h-4.4zM672.5 572.8l2.2 3.8h-4.4zM673.9 492.1l2.2 3.8h-4.4zM674.7 358.1l2.2 3.8h-4.4zM679 447.2l2.2 3.8h-4.4zM682.5 614.6l2.2 3.8h-4.4zM686.6 255.4l2.2 3.8h-4.4zM690.6 407.2l2.2 3.8h-4.4zM695.9 319.5l2.2 3.8h-4.4zM700.8 430l2.2 3.8h-4.4zM704.5 584.6l2.2 3.8h-4.4zM706.5 199.8l2.2 3.8h-4.4zM711.9 355.1l2.2 3.8h-4.4zM716.3 553.6l2.2 3.8h-4.4zM719.5 363.3l2.2 3.8h-4.4zM719.8 418.5l2.2 3.8h-4.4zM721.6 392.2l2.2 3.8h-4.4zM723.9 495.5l2.2 3.8h-4.4zM726.5 167.5l2.2 3.8h-4.4zM727.5 489.8l2.2 3.8h-4.4zM727.8 428.5l2.2 3.8h-4.4zM728 418.3l2.2 3.8h-4.4zM728.1 540.2l2.2 3.8h-4.4zM732.2 297.4l2.2 3.8h-4.4zM744.8 521.1l2.2 3.8h-4.4zM749.4 527.3l2.2 3.8h-4.4zM751 513.7l2.2 3.8h-4.4zM761.3 352.7l2.2 3.8h-4.4zM767 312.8l2.2 3.8h-4.4zM773.5 585.1l2.2 3.8h-4.4zM774.5 585.6l2.2 3.8h-4.4zM775.4 451.8l2.2 3.8h-4.4zM776 356.6l2.2 3.8h-4.4zM776.7 336.7l2.2 3.8h-4.4zM778.4 393.3l2.2 3.8h-4.4zM778.5 501.4l2.2 3.8h-4.4zM781.8 475.3l2.2 3.8h-4.4zM784.7 447.5l2.2 3.8h-4.4zM787.5 583.8l2.2 3.8h-4.4zM791.3 572.1l2.2 3.8h-4.4zM793 520.7l2.2 3.8h-4.4zM794.9 250.1l2.2 3.8h-4.4zM798 491.4l2.2 3.8h-4.4zM804.8 469.8l2.2 3.8h-4.4zM811.4 452l2.2 3.8h-4.4zM814.8 486l2.2 3.8h-4.4zM815.5 204.4l2.2 3.8h-4.4zM824.8 328.1l2.2 3.8h-4.4zM826.5 215.8l2.2 3.8h-4.4zM828.5 638.8l2.2 3.8h-4.4zM833.5 653.6l2.2 3.8h-4.4zM834 470l2.2 3.8h-4.4zM836.5 598.8l2.2 3.8h-4.4zM840.5 178.5l2.2 3.8h-4.4zM842.8 334.4l2.2 3.8h-4.4zM844.7 453.5l2.2 3.8h-4.4zM847.9 508.2l2.2 3.8h-4.4zM849.5 190.1l2.2 3.8h-4.4zM851 268.9l2.2 3.8h-4.4zM851.4 296.5l2.2 3.8h-4.4zM854.7 279.3l2.2 3.8h-4.4zM869.5 610.5l2.2 3.8h-4.4zM871.4 323.4l2.2 3.8h-4.4zM876.6 332.9l2.2 3.8h-4.4zM877.6 455.2l2.2 3.8h-4.4zM878 506.6l2.2 3.8h-4.4zM878.1 477.4l2.2 3.8h-4.4zM878.8 460.3l2.2 3.8h-4.4zM880.6 339.9l2.2 3.8h-4.4zM885.3 469.3l2.2 3.8h-4.4zM891.5 585.1l2.2 3.8h-4.4zM893.4 425l2.2 3.8h-4.4zM899.5 613.9l2.2 3.8h-4.4zM904.7 352.2l2.2 3.8h-4.4zM905.8 285.3l2.2 3.8h-4.4zM906 362.7l2.2 3.8h-4.4zM918.5 193.5l2.2 3.8h-4.4zM919.5 605.2l2.2 3.8h-4.4zM925.5 140.5l2.2 3.8h-4.4zM933.5 600.1l2.2 3.8h-4.4zM935.8 429.1l2.2 3.8h-4.4zM940.1 366.1l2.2 3.8h-4.4zM941.3 371.2l2.2 3.8h-4.4zM942.9 522.1l2.2 3.8h-4.4zM944.5 616.7l2.2 3.8h-4.4zM945.3 327.6l2.2 3.8h-4.4zM952.5 556.6l2.2 3.8h-4.4zM954 434.6l2.2 3.8h-4.4zM956.2 266.3l2.2 3.8h-4.4zM956.5 619.7l2.2 3.8h-4.4zM958.4 329.8l2.2 3.8h-4.4zM960.3 328l2.2 3.8h-4.4zM967.5 152.5l2.2 3.8h-4.4zM969.1 497.1l2.2 3.8h-4.4zM969.6 497.9l2.2 3.8h-4.4zM977.2 401.1l2.2 3.8h-4.4zM981.5 168.8l2.2 3.8h-4.4zM982 465.7l2.2 3.8h-4.4zM987.1 405.7l2.2 3.8h-4.4zM990 306.9l2.2 3.8h-4.4zM991.5 597.3l2.2 3.8h-4.4z"/><g fill="rgba(40,40,150,0.85)"><circle cx="123" cy="703" r="2"/><circle cx="123" cy="725.6" r="2"/><circle cx="123" cy="744.6" r="2"/><circle cx="123" cy="765" r="2"/></g><rect x="40" y="110.60" width="957" height="2.4" fill="rgba(0,0,0,0.18)"/><rect x="40" y="208.12" width="957" height="2.4" fill="rgba(0,0,0,0.2)"/><rect x="40" y="305.63" width="957" height="2.4" fill="rgba(0,0,0,0.3)"/><rect x="40" y="403.14" width="957" height="2.4" fill="rgba(0,0,0,0.2)"/><rect x="40" y="500.66" width="957" height="2.4" fill="rgba(0,0,0,0.22)"/><rect x="40" y="598.17" width="957" height="2.4" fill="rgba(0,0,0,0.2)"/><rect x="40" y="695.69" width="957" height="2.4" fill="rgba(0,0,0,0.2)"/><rect x="40" y="792.90" width="957" height="3" fill="rgba(0,0,0,0.56)"/><rect x="122" y="305.63" width="875" height="2.4" fill="rgba(0,0,0,0.12)"/><rect x="122" y="403.14" width="875" height="2.4" fill="rgba(0,0,0,0.12)"/><rect x="122" y="500.66" width="875" height="2.4" fill="rgba(0,0,0,0.12)"/><path fill="none" stroke="#585858" stroke-width="5" stroke-linejoin="round" d="M120.3 380 144.6 380.3 167.7 381.9 190.7 383 213.8 386.5 236.9 391.6 260 396.4 283 400.8 306 401.5 338 400.8 353 401.5 387.7 403.8 410.7 401.5 433.8 396.9 456.9 391.8 480 389.3 503 391.1 526 391.6 550 390.4 573 386.5 596 384.9 619 385.8 642 390 665 398 688 405 711.5 410.7 734.5 416 757.6 419.5 778.4 420.4 813 419.7 859 418 905.4 415.8 951.5 414.6 1000 411"/><path fill="none" stroke="#a35f5a" stroke-width="4.6" d="M122 735H997"/><rect x="533" y="27" width="1" height="808" fill="#000"/><rect x="537" y="641.5" width="7.3" height="16.3" rx="3" fill="#5e5e5e"/><rect x="537" y="792" width="7.3" height="15.5" rx="2.5" fill="#646464"/><rect x="537" y="665" width="5" height="128" fill="#f00"/><rect x="542" y="665" width="3" height="128" fill="#1f9a1f"/><rect x="537" y="662.8" width="8" height="6" rx="3" fill="#f00"/><rect x="542" y="664" width="3" height="4" fill="#1f9a1f"/><rect x="537" y="672.6" width="8" height="4.6" fill="rgba(70,70,70,0.6)"/><rect x="537" y="703" width="8" height="4" fill="rgba(70,70,70,0.6)"/><rect x="537" y="734" width="8" height="4" fill="rgba(70,70,70,0.6)"/><rect x="537" y="748.5" width="8" height="3" fill="rgba(70,70,70,0.6)"/><rect x="537" y="761.5" width="8" height="5" fill="rgba(70,70,70,0.6)"/><rect x="537" y="777.2" width="8" height="5.6" fill="rgba(70,70,70,0.6)"/><rect x="536.5" y="687.6" width="9" height="4" fill="#f2e4e4"/><rect x="536.5" y="719.2" width="9" height="4" fill="#e8e4f0"/><path fill="none" stroke="rgba(70,90,200,0.8)" stroke-width="1" d="M531 714L538 723M548 715L543 723M532 745L537 749M548 744L544 749"/><g fill="#000"><rect x="35" y="24" width="962" height="3"/><rect x="35" y="24" width="3" height="813"/><rect x="35" y="834.5" width="962" height="3"/><rect x="68.30" y="27" width="3" height="6"/><rect x="68.30" y="828.5" width="3" height="6"/><rect x="307.55" y="27" width="3" height="6"/><rect x="307.55" y="828.5" width="3" height="6"/><rect x="546.80" y="27" width="3" height="6"/><rect x="546.80" y="828.5" width="3" height="6"/><rect x="786.05" y="27" width="3" height="6"/><rect x="786.05" y="828.5" width="3" height="6"/></g><g fill="#999"><rect x="116.90" y="27" width="1.5" height="3"/><rect x="116.90" y="831.5" width="1.5" height="3"/><rect x="164.75" y="27" width="1.5" height="3"/><rect x="164.75" y="831.5" width="1.5" height="3"/><rect x="212.60" y="27" width="1.5" height="3"/><rect x="212.60" y="831.5" width="1.5" height="3"/><rect x="260.45" y="27" width="1.5" height="3"/><rect x="260.45" y="831.5" width="1.5" height="3"/><rect x="356.15" y="27" width="1.5" height="3"/><rect x="356.15" y="831.5" width="1.5" height="3"/><rect x="404.00" y="27" width="1.5" height="3"/><rect x="404.00" y="831.5" width="1.5" height="3"/><rect x="451.85" y="27" width="1.5" height="3"/><rect x="451.85" y="831.5" width="1.5" height="3"/><rect x="499.70" y="27" width="1.5" height="3"/><rect x="499.70" y="831.5" width="1.5" height="3"/><rect x="595.40" y="27" width="1.5" height="3"/><rect x="595.40" y="831.5" width="1.5" height="3"/><rect x="643.25" y="27" width="1.5" height="3"/><rect x="643.25" y="831.5" width="1.5" height="3"/><rect x="691.10" y="27" width="1.5" height="3"/><rect x="691.10" y="831.5" width="1.5" height="3"/><rect x="738.95" y="27" width="1.5" height="3"/><rect x="738.95" y="831.5" width="1.5" height="3"/><rect x="834.65" y="27" width="1.5" height="3"/><rect x="834.65" y="831.5" width="1.5" height="3"/><rect x="882.50" y="27" width="1.5" height="3"/><rect x="882.50" y="831.5" width="1.5" height="3"/><rect x="930.35" y="27" width="1.5" height="3"/><rect x="930.35" y="831.5" width="1.5" height="3"/><rect x="978.20" y="27" width="1.5" height="3"/><rect x="978.20" y="831.5" width="1.5" height="3"/></g></svg>
<div class="t" style="left:23.5px;top:9px">[02:09:00.3465]</div>
<div class="t" style="left:263px;top:9px">[02:09:40.3462]</div>
<div class="t" style="left:502.5px;top:9px">[02:10:20.3459]</div>
<div class="t" style="left:742px;top:9px">[02:11:00.3456]</div>
<div class="t" style="left:23.5px;top:839px">[02:09:00.3465]</div>
<div class="t" style="left:263px;top:839px">[02:09:40.3462]</div>
<div class="t" style="left:502.5px;top:839px">[02:10:20.3459]</div>
<div class="t" style="left:742px;top:839px">[02:11:00.3456]</div>
<div class="y" style="top:106px">1400</div>
<div class="y" style="top:204px">1200</div>
<div class="y" style="top:301px">1000</div>
<div class="y" style="top:399px">800</div>
<div class="y" style="top:496px">600</div>
<div class="y" style="top:594px">400</div>
<div class="y" style="top:691px">200</div>
<div class="y" style="top:789px">0</div>
<div id="pet">Predicted event time</div>
</body></html>
